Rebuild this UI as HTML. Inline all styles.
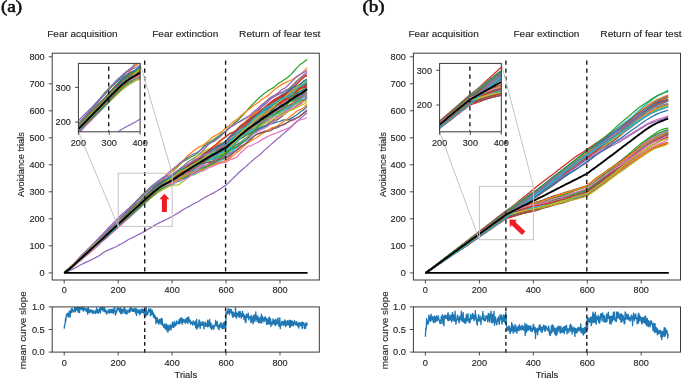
<!DOCTYPE html>
<html><head><meta charset="utf-8"><title>Avoidance trials</title>
<style>html,body{margin:0;padding:0;background:#fff;overflow:hidden}svg{display:block;font-family:"Liberation Sans",sans-serif;filter:blur(0.3px)}</style>
</head><body>
<svg width="685" height="381" viewBox="0 0 685 381" font-family="Liberation Sans, sans-serif" fill="#262626">
<rect width="685" height="381" fill="#fff"/>
<g transform="translate(0,0)">
<defs><clipPath id="cia"><rect x="78.4" y="63.4" width="61.7" height="68.4"/></clipPath><clipPath id="cma"><rect x="52.2" y="53.2" width="267.1" height="226.8"/></clipPath></defs>
<g fill="none" stroke-linejoin="round" stroke-linecap="butt" clip-path="url(#cma)">
<polyline stroke="#1f77b4" stroke-width="1.25" points="64.2,272.9 65.8,272 67.4,270.7 69.1,269.3 70.7,267.9 72.3,266.3 73.9,264.6 75.5,262.9 77.2,261.3 78.8,259.7 80.4,258.1 82,256.4 83.6,254.7 85.2,253.1 86.9,251.5 88.5,249.9 90.1,248.3 91.7,246.9 93.3,245.3 95,243.7 96.6,242 98.2,240.5 99.8,238.8 101.4,237.2 103.1,235.6 104.7,234.1 106.3,232.5 107.9,230.8 109.5,229.2 111.1,227.5 112.8,225.8 114.4,224.1 116,222.3 117.6,220.7 119.2,219.2 120.9,217.7 122.5,216 124.1,214.5 125.7,213 127.3,211.5 129,209.9 130.6,208.3 132.2,206.7 133.8,205 135.4,203.3 137,201.5 138.7,199.8 140.3,198.1 141.9,196.6 143.5,195 145.1,193.3 146.8,191.7 148.4,190.2 150,188.9 151.6,187.6 153.2,186.5 154.9,185.4 156.5,184.2 158.1,183 159.7,182 161.3,181.2 162.9,180.5 164.6,179.9 166.2,179.1 167.8,178.4 169.4,177.7 171,176.8 172.7,175.7 174.3,174.5 175.9,173.2 177.5,171.9 179.1,170.9 180.8,170.2 182.4,169.4 184,168.6 185.6,168 187.2,167.6 188.8,167.1 190.5,166.5 192.1,165.8 193.7,164.8 195.3,163.6 196.9,162.6 198.6,162 200.2,161.5 201.8,160.6 203.4,159.7 205,158.7 206.7,157.9 208.3,157.5 209.9,157.1 211.5,156.8 213.1,156.1 214.7,155.5 216.4,155.1 218,154.9 219.6,154.4 221.2,153.4 222.8,152.2 224.5,151.2 226.1,150.2 227.7,148.5 229.3,146.7 230.9,144.8 232.6,143 234.2,141.1 235.8,139.5 237.4,137.9 239,136.3 240.6,134.5 242.3,132.7 243.9,130.9 245.5,129 247.1,127.7 248.7,126.6 250.4,125.3 252,124.1 253.6,123.2 255.2,122.6 256.8,121.8 258.5,120.3 260.1,118.4 261.7,116.6 263.3,114.9 264.9,113.8 266.6,112.8 268.2,111.7 269.8,110.3 271.4,108.9 273,107.8 274.6,107 276.3,105.8 277.9,104.1 279.5,102.4 281.1,101.4 282.7,100.9 284.4,100.5 286,99.8 287.6,98.7 289.2,97.4 290.8,96.2 292.5,95.5 294.1,95 295.7,94.1 297.3,93.2 298.9,92.3 300.5,91.7 302.2,90.7 303.8,89.7 305.4,88.5 307,87"/>
<polyline stroke="#ff7f0e" stroke-width="1.25" points="64.2,272.9 65.8,272 67.4,270.9 69.1,269.5 70.7,268 72.3,266.6 73.9,265.2 75.5,263.7 77.2,262.1 78.8,260.6 80.4,259.2 82,257.8 83.6,256.3 85.2,254.9 86.9,253.5 88.5,252.1 90.1,250.7 91.7,249.3 93.3,248.1 95,246.8 96.6,245.5 98.2,244.2 99.8,242.9 101.4,241.7 103.1,240.3 104.7,238.6 106.3,236.9 107.9,235.4 109.5,234 111.1,232.4 112.8,230.8 114.4,229.4 116,228 117.6,226.6 119.2,225.1 120.9,223.6 122.5,222 124.1,220.5 125.7,218.8 127.3,217.2 129,215.6 130.6,214.1 132.2,212.5 133.8,211 135.4,209.6 137,208 138.7,206.4 140.3,204.8 141.9,203.4 143.5,201.9 145.1,200.5 146.8,199.1 148.4,197.7 150,196.4 151.6,195 153.2,193.6 154.9,192.2 156.5,190.8 158.1,189.4 159.7,188.2 161.3,187.1 162.9,185.8 164.6,184.8 166.2,183.8 167.8,182.8 169.4,182 171,181.2 172.7,180.2 174.3,179 175.9,177.9 177.5,176.8 179.1,175.5 180.8,174 182.4,172.6 184,171.4 185.6,170.3 187.2,169.3 188.8,168.3 190.5,166.8 192.1,165.4 193.7,164.2 195.3,163.2 196.9,162.3 198.6,161.8 200.2,161.5 201.8,161.1 203.4,160.7 205,160.1 206.7,159.5 208.3,158.6 209.9,157.6 211.5,156.8 213.1,155.7 214.7,154.2 216.4,152.7 218,151.6 219.6,150.7 221.2,149.6 222.8,148.5 224.5,147.7 226.1,147.4 227.7,146.7 229.3,146.4 230.9,145.7 232.6,144.8 234.2,143.9 235.8,142.8 237.4,141.4 239,139.8 240.6,138.3 242.3,137 243.9,135.7 245.5,134.1 247.1,132.5 248.7,131.4 250.4,130.8 252,130.2 253.6,129.7 255.2,128.9 256.8,128.1 258.5,127.3 260.1,126.3 261.7,125.1 263.3,123.5 264.9,122 266.6,120.7 268.2,119.6 269.8,118.6 271.4,117.4 273,116.3 274.6,115.4 276.3,114.4 277.9,113.2 279.5,111.6 281.1,110.2 282.7,109.2 284.4,108.6 286,107.7 287.6,106.5 289.2,105.1 290.8,103.9 292.5,102.7 294.1,101.5 295.7,100.6 297.3,100.1 298.9,99.3 300.5,98.5 302.2,97.8 303.8,96.9 305.4,95.9 307,95"/>
<polyline stroke="#2ca02c" stroke-width="1.25" points="64.2,272.9 65.8,271.4 67.4,270.1 69.1,268.7 70.7,267.3 72.3,265.8 73.9,264.4 75.5,263 77.2,261.5 78.8,260 80.4,258.5 82,257 83.6,255.6 85.2,254.2 86.9,252.8 88.5,251.3 90.1,249.8 91.7,248.2 93.3,246.7 95,245.2 96.6,243.7 98.2,242.2 99.8,240.8 101.4,239.5 103.1,238.1 104.7,236.7 106.3,235.1 107.9,233.3 109.5,231.6 111.1,230.2 112.8,228.9 114.4,227.6 116,226.1 117.6,224.6 119.2,223.2 120.9,221.7 122.5,220.2 124.1,218.7 125.7,217.1 127.3,215.5 129,213.9 130.6,212.2 132.2,210.6 133.8,209.1 135.4,207.7 137,206.1 138.7,204.6 140.3,203.1 141.9,201.6 143.5,200.1 145.1,198.6 146.8,197.1 148.4,195.5 150,194 151.6,192.5 153.2,191.1 154.9,189.9 156.5,188.8 158.1,187.5 159.7,186.1 161.3,184.7 162.9,183.5 164.6,182.5 166.2,181.8 167.8,181.1 169.4,180.4 171,179.8 172.7,179.1 174.3,178.4 175.9,177.5 177.5,176.4 179.1,175.6 180.8,174.8 182.4,173.9 184,172.8 185.6,172.1 187.2,171.3 188.8,170.8 190.5,170.1 192.1,169.3 193.7,168.4 195.3,167.4 196.9,166.3 198.6,165.1 200.2,163.9 201.8,162.6 203.4,161.4 205,160.2 206.7,159.1 208.3,157.9 209.9,157 211.5,156.3 213.1,155.6 214.7,154.7 216.4,153.9 218,152.8 219.6,151.9 221.2,151 222.8,150.4 224.5,149.9 226.1,149.4 227.7,148.3 229.3,146.8 230.9,145.5 232.6,144.3 234.2,143.1 235.8,141.7 237.4,140 239,138.5 240.6,136.8 242.3,135.4 243.9,133.9 245.5,132.2 247.1,130.8 248.7,129.6 250.4,129 252,128.2 253.6,127.3 255.2,126.3 256.8,125.6 258.5,124.9 260.1,124.3 261.7,123.6 263.3,122.8 264.9,122 266.6,120.9 268.2,119.9 269.8,118.8 271.4,117.5 273,116.1 274.6,114.6 276.3,113 277.9,111.4 279.5,110.1 281.1,108.7 282.7,107.5 284.4,106 286,104.5 287.6,102.9 289.2,101.7 290.8,100.9 292.5,100.4 294.1,99.9 295.7,99.6 297.3,99.1 298.9,98.4 300.5,97.5 302.2,96.4 303.8,95.5 305.4,94.5 307,93.2"/>
<polyline stroke="#d62728" stroke-width="1.25" points="64.2,272.9 65.8,271.9 67.4,270.7 69.1,269.5 70.7,268.3 72.3,267.2 73.9,265.9 75.5,264.5 77.2,263 78.8,261.5 80.4,260 82,258.5 83.6,256.9 85.2,255.3 86.9,253.5 88.5,251.9 90.1,250.3 91.7,248.8 93.3,247.1 95,245.5 96.6,244 98.2,242.4 99.8,241 101.4,239.6 103.1,238.2 104.7,236.8 106.3,235.3 107.9,233.8 109.5,232.3 111.1,230.8 112.8,229.2 114.4,227.8 116,226.5 117.6,225.1 119.2,223.6 120.9,222.1 122.5,220.6 124.1,219.1 125.7,217.7 127.3,216.2 129,214.7 130.6,213.2 132.2,211.7 133.8,210.3 135.4,208.9 137,207.5 138.7,206.2 140.3,204.9 141.9,203.6 143.5,202.1 145.1,200.8 146.8,199.3 148.4,197.9 150,196.5 151.6,195.3 153.2,194.1 154.9,192.9 156.5,191.6 158.1,190.3 159.7,189 161.3,188 162.9,186.9 164.6,185.9 166.2,185.2 167.8,184.4 169.4,183.5 171,182.4 172.7,181.5 174.3,180.9 175.9,180.3 177.5,179.9 179.1,179.4 180.8,178.7 182.4,178 184,177.1 185.6,176.3 187.2,175.3 188.8,174.2 190.5,172.8 192.1,171.2 193.7,169.7 195.3,168 196.9,166.6 198.6,165.2 200.2,163.9 201.8,162.9 203.4,161.7 205,160.6 206.7,159.4 208.3,158.6 209.9,157.7 211.5,156.8 213.1,156 214.7,155.1 216.4,154.2 218,153.1 219.6,151.7 221.2,150.5 222.8,149.5 224.5,148.6 226.1,147.5 227.7,145.7 229.3,144 230.9,142.7 232.6,141.7 234.2,140.4 235.8,138.9 237.4,137 239,135.4 240.6,134.2 242.3,133.1 243.9,131.9 245.5,130.5 247.1,129.1 248.7,127.6 250.4,126.1 252,124.8 253.6,123.6 255.2,122.4 256.8,120.7 258.5,119 260.1,117.4 261.7,115.9 263.3,114.3 264.9,113 266.6,111.6 268.2,110 269.8,108.5 271.4,107.4 273,106.7 274.6,106 276.3,105.2 277.9,104.4 279.5,103.8 281.1,103.1 282.7,102.2 284.4,100.7 286,99 287.6,97.4 289.2,96.1 290.8,95 292.5,93.8 294.1,92.7 295.7,91.5 297.3,90.5 298.9,89 300.5,87.8 302.2,86.6 303.8,85.4 305.4,84.3 307,83.2"/>
<polyline stroke="#9467bd" stroke-width="1.25" points="64.2,272.9 65.8,272.4 67.4,271.8 69.1,271 70.7,270.2 72.3,269.4 73.9,268.6 75.5,267.7 77.2,266.7 78.8,265.8 80.4,265 82,264.2 83.6,263.4 85.2,262.6 86.9,261.9 88.5,261.3 90.1,260.4 91.7,259.6 93.3,258.8 95,257.9 96.6,257.1 98.2,256.3 99.8,255.2 101.4,254 103.1,252.7 104.7,251.7 106.3,250.9 107.9,250.2 109.5,249.6 111.1,248.9 112.8,248.2 114.4,247.5 116,246.7 117.6,245.7 119.2,244.9 120.9,244.1 122.5,243.3 124.1,242.4 125.7,241.3 127.3,240.3 129,239.3 130.6,238.5 132.2,237.8 133.8,237.1 135.4,236.3 137,235.3 138.7,234.4 140.3,233.6 141.9,232.8 143.5,231.9 145.1,230.9 146.8,229.9 148.4,229 150,228.1 151.6,227.2 153.2,226.1 154.9,225.1 156.5,224.2 158.1,223.4 159.7,222.6 161.3,221.8 162.9,221.1 164.6,220.4 166.2,219.5 167.8,218.8 169.4,217.9 171,217 172.7,216.2 174.3,215.2 175.9,214.3 177.5,213.4 179.1,212.4 180.8,211.3 182.4,210.1 184,209.2 185.6,208.3 187.2,207.5 188.8,206.6 190.5,205.7 192.1,204.7 193.7,203.8 195.3,203 196.9,202.2 198.6,201.3 200.2,200.3 201.8,199.2 203.4,198.2 205,197.2 206.7,196.4 208.3,195.5 209.9,194.7 211.5,193.9 213.1,193.1 214.7,192.2 216.4,191.2 218,190.3 219.6,189.4 221.2,188.3 222.8,187.1 224.5,186.1 226.1,185.1 227.7,183.6 229.3,182 230.9,180.4 232.6,178.9 234.2,177.2 235.8,175.6 237.4,174 239,172.5 240.6,171 242.3,169.5 243.9,168.3 245.5,166.9 247.1,165.5 248.7,163.9 250.4,162.4 252,161 253.6,159.6 255.2,158.3 256.8,156.9 258.5,155.8 260.1,154.6 261.7,153 263.3,151.4 264.9,149.9 266.6,148.4 268.2,147 269.8,145.6 271.4,144.1 273,142.7 274.6,141.3 276.3,139.9 277.9,138.5 279.5,137.2 281.1,135.8 282.7,134.4 284.4,132.9 286,131.5 287.6,130.2 289.2,128.9 290.8,127.3 292.5,125.7 294.1,124.2 295.7,122.7 297.3,121.4 298.9,120.1 300.5,118.5 302.2,116.9 303.8,115.4 305.4,114.1 307,112.7"/>
<polyline stroke="#8c564b" stroke-width="1.25" points="64.2,272.9 65.8,271.5 67.4,270.1 69.1,268.5 70.7,266.9 72.3,265.3 73.9,263.9 75.5,262.5 77.2,261.1 78.8,259.7 80.4,258.4 82,257 83.6,255.6 85.2,254.2 86.9,252.8 88.5,251.4 90.1,249.9 91.7,248.4 93.3,246.9 95,245.5 96.6,244.1 98.2,242.6 99.8,241 101.4,239.3 103.1,237.8 104.7,236.3 106.3,234.8 107.9,233.1 109.5,231.5 111.1,230 112.8,228.5 114.4,227 116,225.6 117.6,224.2 119.2,222.8 120.9,221.2 122.5,219.6 124.1,218 125.7,216.6 127.3,215.2 129,213.7 130.6,212.2 132.2,210.9 133.8,209.6 135.4,208.3 137,207 138.7,205.7 140.3,204.3 141.9,203 143.5,201.6 145.1,200.2 146.8,198.7 148.4,197.3 150,195.9 151.6,194.6 153.2,193.3 154.9,192 156.5,190.6 158.1,189.2 159.7,188 161.3,187 162.9,186.2 164.6,185.4 166.2,184.6 167.8,184.1 169.4,183.5 171,182.5 172.7,181.3 174.3,180.2 175.9,179 177.5,177.9 179.1,176.8 180.8,176.1 182.4,175.3 184,174.3 185.6,173.3 187.2,172.4 188.8,171.4 190.5,170.2 192.1,169.2 193.7,168.3 195.3,167.6 196.9,167 198.6,166.8 200.2,166.4 201.8,165.5 203.4,164.1 205,162.4 206.7,160.6 208.3,159 209.9,157.6 211.5,156.7 213.1,155.6 214.7,154.8 216.4,154.1 218,153.4 219.6,152.3 221.2,151.2 222.8,150.4 224.5,150 226.1,149.5 227.7,148.5 229.3,147.5 230.9,146.4 232.6,144.9 234.2,143.4 235.8,141.9 237.4,140.5 239,139.2 240.6,138.4 242.3,137.9 243.9,136.9 245.5,135.5 247.1,134.3 248.7,133.3 250.4,132.2 252,131.1 253.6,130.1 255.2,129.3 256.8,128.7 258.5,127.8 260.1,126.5 261.7,125.1 263.3,123.9 264.9,122.6 266.6,121.2 268.2,120.1 269.8,118.9 271.4,117.5 273,116.4 274.6,115.3 276.3,113.8 277.9,112.4 279.5,111.2 281.1,110.2 282.7,109.3 284.4,108.1 286,106.9 287.6,105.9 289.2,105.2 290.8,104.6 292.5,103.8 294.1,103 295.7,102.3 297.3,101.5 298.9,101.1 300.5,100.8 302.2,100.7 303.8,100.3 305.4,99.4 307,97.9"/>
<polyline stroke="#e377c2" stroke-width="1.25" points="64.2,272.9 65.8,272.1 67.4,271 69.1,269.7 70.7,268.3 72.3,266.8 73.9,265.4 75.5,264 77.2,262.5 78.8,261 80.4,259.5 82,258.1 83.6,256.6 85.2,255.3 86.9,253.8 88.5,252.4 90.1,250.9 91.7,249.2 93.3,247.7 95,246.2 96.6,244.7 98.2,243.2 99.8,241.8 101.4,240.4 103.1,238.9 104.7,237.3 106.3,235.8 107.9,234.2 109.5,232.7 111.1,231.3 112.8,229.9 114.4,228.4 116,227.1 117.6,225.8 119.2,224.4 120.9,223 122.5,221.6 124.1,220.1 125.7,218.7 127.3,217.2 129,215.7 130.6,214.3 132.2,212.9 133.8,211.5 135.4,210 137,208.4 138.7,206.8 140.3,205.3 141.9,203.8 143.5,202.4 145.1,201 146.8,199.5 148.4,198.1 150,196.7 151.6,195.3 153.2,193.7 154.9,192.2 156.5,191 158.1,189.9 159.7,189.2 161.3,188.4 162.9,187.7 164.6,187 166.2,186.2 167.8,185.3 169.4,184.2 171,183.1 172.7,181.8 174.3,180.4 175.9,179.1 177.5,177.9 179.1,176.9 180.8,175.7 182.4,174.6 184,173.2 185.6,171.9 187.2,170.7 188.8,169.9 190.5,168.8 192.1,167.7 193.7,166.7 195.3,166.1 196.9,165.6 198.6,164.7 200.2,163.4 201.8,162 203.4,160.7 205,159 206.7,157.2 208.3,155.6 209.9,154.2 211.5,152.6 213.1,151.5 214.7,150.7 216.4,150 218,148.9 219.6,147.2 221.2,145.9 222.8,145.3 224.5,145 226.1,144.2 227.7,142.9 229.3,141.6 230.9,140.6 232.6,139.2 234.2,137.7 235.8,135.8 237.4,133.9 239,132.1 240.6,130.4 242.3,129.1 243.9,128.1 245.5,126.7 247.1,125.7 248.7,124.8 250.4,124.2 252,123.6 253.6,122.8 255.2,121.5 256.8,120 258.5,118.6 260.1,117.7 261.7,116.6 263.3,115.9 264.9,115.4 266.6,114.8 268.2,113.6 269.8,112.2 271.4,110.9 273,109.5 274.6,108.2 276.3,107 277.9,106.1 279.5,105.5 281.1,104.6 282.7,103.3 284.4,102.2 286,101.7 287.6,101.4 289.2,100.9 290.8,100.4 292.5,99.9 294.1,99.4 295.7,98.8 297.3,98.3 298.9,97.8 300.5,97.2 302.2,96 303.8,94.7 305.4,93.5 307,93"/>
<polyline stroke="#7f7f7f" stroke-width="1.25" points="64.2,272.9 65.8,272.1 67.4,270.7 69.1,269.3 70.7,267.7 72.3,266.2 73.9,264.6 75.5,263.1 77.2,261.5 78.8,260 80.4,258.5 82,257 83.6,255.4 85.2,253.7 86.9,252 88.5,250.4 90.1,248.7 91.7,247 93.3,245.5 95,244 96.6,242.4 98.2,241 99.8,239.5 101.4,238.1 103.1,236.6 104.7,235.1 106.3,233.6 107.9,232.1 109.5,230.5 111.1,228.9 112.8,227.3 114.4,225.7 116,224.1 117.6,222.5 119.2,221 120.9,219.4 122.5,217.9 124.1,216.4 125.7,215 127.3,213.4 129,211.8 130.6,210.4 132.2,209 133.8,207.5 135.4,206 137,204.4 138.7,202.8 140.3,201.4 141.9,200 143.5,198.7 145.1,197.2 146.8,195.6 148.4,194 150,192.6 151.6,191.1 153.2,189.7 154.9,188.4 156.5,187.1 158.1,185.9 159.7,184.6 161.3,183.3 162.9,182.1 164.6,181 166.2,180.1 167.8,179.1 169.4,177.9 171,176.4 172.7,174.9 174.3,173.4 175.9,172.1 177.5,170.9 179.1,169.5 180.8,168.1 182.4,166.8 184,165.5 185.6,164.1 187.2,162.7 188.8,161.3 190.5,160.3 192.1,159.3 193.7,158.4 195.3,157.4 196.9,156.2 198.6,154.6 200.2,153.2 201.8,151.7 203.4,150.1 205,148.4 206.7,146.6 208.3,144.9 209.9,143.3 211.5,142.1 213.1,141 214.7,139.7 216.4,138.6 218,137.3 219.6,136 221.2,134.7 222.8,133.4 224.5,132.2 226.1,130.9 227.7,129.1 229.3,127.5 230.9,126.6 232.6,125.9 234.2,125.1 235.8,124 237.4,122.7 239,121.8 240.6,120.7 242.3,119.8 243.9,118.9 245.5,118 247.1,117 248.7,116.2 250.4,115.4 252,114.5 253.6,113.5 255.2,112.3 256.8,110.8 258.5,109.3 260.1,107.9 261.7,106.5 263.3,104.8 264.9,103 266.6,101.2 268.2,99.7 269.8,98.9 271.4,98 273,97.1 274.6,96.3 276.3,95.6 277.9,94.8 279.5,94 281.1,93.3 282.7,92.2 284.4,91 286,90.1 287.6,89.2 289.2,88.5 290.8,88.2 292.5,88.1 294.1,87.8 295.7,87.3 297.3,86.6 298.9,85.6 300.5,84.2 302.2,82.6 303.8,81.1 305.4,79.9 307,79"/>
<polyline stroke="#bcbd22" stroke-width="1.25" points="64.2,272.9 65.8,271.6 67.4,270.3 69.1,269 70.7,267.7 72.3,266.2 73.9,264.9 75.5,263.4 77.2,261.9 78.8,260.4 80.4,259 82,257.7 83.6,256.3 85.2,254.9 86.9,253.4 88.5,251.9 90.1,250.4 91.7,248.8 93.3,247.3 95,245.7 96.6,244.3 98.2,243 99.8,241.7 101.4,240.4 103.1,239.2 104.7,237.9 106.3,236.5 107.9,235.1 109.5,233.6 111.1,232.2 112.8,230.8 114.4,229.4 116,228 117.6,226.5 119.2,225 120.9,223.5 122.5,222.1 124.1,220.7 125.7,219.4 127.3,218.1 129,216.9 130.6,215.6 132.2,214.4 133.8,213.1 135.4,211.8 137,210.4 138.7,209 140.3,207.6 141.9,206.1 143.5,204.6 145.1,203.2 146.8,201.7 148.4,200.3 150,198.9 151.6,197.6 153.2,196.3 154.9,194.9 156.5,193.6 158.1,192.5 159.7,191.4 161.3,190.2 162.9,189.2 164.6,188.4 166.2,187.6 167.8,186.8 169.4,186.2 171,185.8 172.7,185.5 174.3,185.2 175.9,185.2 177.5,185 179.1,184.4 180.8,183.2 182.4,182 184,180.9 185.6,179.3 187.2,177.7 188.8,176.2 190.5,175.4 192.1,174.9 193.7,174.7 195.3,174.1 196.9,173.3 198.6,172.5 200.2,171.6 201.8,170.6 203.4,169.3 205,167.8 206.7,166.3 208.3,165.2 209.9,164.3 211.5,163.4 213.1,162.5 214.7,161.9 216.4,161.2 218,160.2 219.6,159.2 221.2,158.3 222.8,157.7 224.5,157 226.1,156.1 227.7,154.4 229.3,152.6 230.9,151 232.6,149.6 234.2,147.9 235.8,146.2 237.4,144.7 239,143.2 240.6,141.7 242.3,140.4 243.9,139.2 245.5,138 247.1,136.8 248.7,135.4 250.4,133.7 252,131.9 253.6,130 255.2,128.4 256.8,127 258.5,125.6 260.1,123.8 261.7,122 263.3,120.3 264.9,119 266.6,117.6 268.2,116.4 269.8,115.2 271.4,114.2 273,113 274.6,111.8 276.3,110.7 277.9,109.6 279.5,108.7 281.1,107.8 282.7,106.8 284.4,105.8 286,104.5 287.6,102.9 289.2,101.1 290.8,99.8 292.5,98.4 294.1,97 295.7,95.3 297.3,93.6 298.9,92.2 300.5,90.7 302.2,89.2 303.8,87.9 305.4,86.9 307,86.1"/>
<polyline stroke="#17becf" stroke-width="1.25" points="64.2,272.9 65.8,272 67.4,270.9 69.1,269.7 70.7,268.3 72.3,266.9 73.9,265.6 75.5,264.1 77.2,262.5 78.8,260.9 80.4,259.3 82,257.8 83.6,256.4 85.2,255 86.9,253.7 88.5,252.4 90.1,250.8 91.7,249.2 93.3,247.7 95,246.2 96.6,244.6 98.2,243.1 99.8,241.7 101.4,240.5 103.1,239.1 104.7,237.6 106.3,236.2 107.9,234.8 109.5,233.5 111.1,232.1 112.8,230.6 114.4,229.1 116,227.5 117.6,226.1 119.2,224.7 120.9,223.2 122.5,221.7 124.1,220.3 125.7,218.9 127.3,217.5 129,215.9 130.6,214.3 132.2,212.7 133.8,211.1 135.4,209.5 137,207.9 138.7,206.5 140.3,205.2 141.9,203.8 143.5,202.4 145.1,201 146.8,199.5 148.4,198.1 150,196.8 151.6,195.5 153.2,194.3 154.9,193.1 156.5,191.9 158.1,190.6 159.7,189.6 161.3,188.7 162.9,187.7 164.6,186.6 166.2,185.7 167.8,185 169.4,184.3 171,183.5 172.7,182.5 174.3,181.3 175.9,179.9 177.5,178.2 179.1,176.6 180.8,175.3 182.4,174.4 184,173.7 185.6,173.3 187.2,173 188.8,172.5 190.5,171.4 192.1,170 193.7,168.8 195.3,167.5 196.9,166.3 198.6,165.1 200.2,163.9 201.8,163 203.4,162 205,161.1 206.7,160.2 208.3,159.6 209.9,159.6 211.5,159.6 213.1,159.3 214.7,158.6 216.4,158 218,157.6 219.6,156.9 221.2,155.7 222.8,154.7 224.5,154.1 226.1,153.7 227.7,152.7 229.3,151.6 230.9,150.5 232.6,149.6 234.2,148.6 235.8,147.6 237.4,146.7 239,145.9 240.6,144.7 242.3,143.2 243.9,141.7 245.5,140.4 247.1,139 248.7,137.5 250.4,136.2 252,135.1 253.6,134 255.2,132.5 256.8,130.8 258.5,129.1 260.1,127.3 261.7,125.7 263.3,124.2 264.9,122.9 266.6,121.4 268.2,120 269.8,118.6 271.4,117.7 273,116.7 274.6,115.1 276.3,113.3 277.9,111.4 279.5,109.6 281.1,108.4 282.7,107.3 284.4,105.9 286,104 287.6,102.2 289.2,100.8 290.8,99.7 292.5,98.5 294.1,96.9 295.7,95.1 297.3,93.5 298.9,92 300.5,90.1 302.2,88.3 303.8,86.6 305.4,85 307,84.2"/>
<polyline stroke="#1f77b4" stroke-width="1.25" points="64.2,272.9 65.8,271.9 67.4,270.5 69.1,268.9 70.7,267.3 72.3,265.7 73.9,264.1 75.5,262.5 77.2,261 78.8,259.4 80.4,257.9 82,256.3 83.6,254.7 85.2,253.1 86.9,251.5 88.5,249.9 90.1,248.3 91.7,246.8 93.3,245.3 95,244 96.6,242.6 98.2,241.2 99.8,239.6 101.4,238.1 103.1,236.7 104.7,235.3 106.3,233.8 107.9,232.3 109.5,230.7 111.1,229.1 112.8,227.5 114.4,226 116,224.5 117.6,222.9 119.2,221.4 120.9,219.7 122.5,218.1 124.1,216.5 125.7,215 127.3,213.5 129,212 130.6,210.3 132.2,208.7 133.8,207.2 135.4,205.7 137,204.1 138.7,202.6 140.3,201.1 141.9,199.6 143.5,198.1 145.1,196.6 146.8,195 148.4,193.5 150,192.1 151.6,190.8 153.2,189.6 154.9,188.1 156.5,186.8 158.1,185.6 159.7,184.6 161.3,183.6 162.9,182.5 164.6,181.6 166.2,180.9 167.8,180.2 169.4,179.3 171,178.4 172.7,177.5 174.3,176.6 175.9,175.5 177.5,174.3 179.1,173.4 180.8,173 182.4,172.4 184,171.4 185.6,170.3 187.2,169.3 188.8,168 190.5,166.8 192.1,165.4 193.7,164.4 195.3,163.5 196.9,162.8 198.6,161.6 200.2,160.7 201.8,159.6 203.4,158.9 205,158.2 206.7,157.3 208.3,156.1 209.9,154.5 211.5,153.1 213.1,151.9 214.7,150.6 216.4,149.2 218,148.1 219.6,147 221.2,145.9 222.8,144.8 224.5,143.8 226.1,143 227.7,141.6 229.3,140.5 230.9,139.5 232.6,138.6 234.2,137.3 235.8,135.4 237.4,133.6 239,131.9 240.6,130.4 242.3,128.8 243.9,127.6 245.5,126.5 247.1,125.5 248.7,124.3 250.4,122.9 252,121.5 253.6,119.9 255.2,118.2 256.8,116.7 258.5,115.3 260.1,114.1 261.7,112.8 263.3,111.6 264.9,110.3 266.6,109.4 268.2,108.3 269.8,107.1 271.4,106 273,105.1 274.6,104 276.3,102.9 277.9,101.7 279.5,100.4 281.1,99.2 282.7,98.3 284.4,97.8 286,97.6 287.6,97.3 289.2,96.5 290.8,95.8 292.5,95.6 294.1,95.3 295.7,94.2 297.3,92.9 298.9,92 300.5,91.3 302.2,90.4 303.8,89.2 305.4,87.7 307,86.2"/>
<polyline stroke="#ff7f0e" stroke-width="1.25" points="64.2,272.9 65.8,271.9 67.4,270.6 69.1,269.3 70.7,267.9 72.3,266.6 73.9,265.1 75.5,263.8 77.2,262.6 78.8,261.2 80.4,259.6 82,258 83.6,256.6 85.2,255.2 86.9,253.7 88.5,252.2 90.1,250.8 91.7,249.2 93.3,247.5 95,245.7 96.6,244.1 98.2,242.5 99.8,241 101.4,239.5 103.1,238.1 104.7,236.7 106.3,235.2 107.9,233.8 109.5,232.5 111.1,231 112.8,229.6 114.4,228.2 116,226.8 117.6,225.4 119.2,224 120.9,222.6 122.5,221.1 124.1,219.7 125.7,218.3 127.3,216.9 129,215.4 130.6,214 132.2,212.7 133.8,211.3 135.4,210 137,208.6 138.7,207.2 140.3,205.8 141.9,204.4 143.5,203 145.1,201.5 146.8,200.1 148.4,198.6 150,197.2 151.6,195.7 153.2,194.3 154.9,193 156.5,191.7 158.1,190.5 159.7,189.3 161.3,188.2 162.9,187.4 164.6,186.8 166.2,186.3 167.8,185.8 169.4,185.4 171,184.5 172.7,183.5 174.3,182.2 175.9,181 177.5,179.7 179.1,178.5 180.8,177.2 182.4,175.8 184,174.7 185.6,173.7 187.2,172.8 188.8,171.8 190.5,170.7 192.1,169.4 193.7,167.6 195.3,166 196.9,164.4 198.6,163.3 200.2,161.9 201.8,160.6 203.4,159.3 205,158.3 206.7,157.6 208.3,157 209.9,156.5 211.5,156 213.1,155.2 214.7,154 216.4,152.9 218,152 219.6,151 221.2,149.8 222.8,148.6 224.5,147.6 226.1,146.7 227.7,144.8 229.3,143 230.9,141.1 232.6,139.2 234.2,137.6 235.8,136.2 237.4,134.6 239,132.7 240.6,130.9 242.3,129 243.9,127.3 245.5,125.7 247.1,124.3 248.7,122.6 250.4,120.8 252,118.9 253.6,117.2 255.2,115.7 256.8,114 258.5,112.3 260.1,110.8 261.7,109.6 263.3,108.5 264.9,107.2 266.6,105.8 268.2,104.5 269.8,103.5 271.4,102.6 273,101.7 274.6,100.5 276.3,99.1 277.9,97.5 279.5,96.3 281.1,95.5 282.7,94.8 284.4,94 286,92.9 287.6,91.6 289.2,89.8 290.8,87.9 292.5,86.3 294.1,84.8 295.7,83.2 297.3,81.8 298.9,80.4 300.5,79.4 302.2,78 303.8,76.4 305.4,74.9 307,73.5"/>
<polyline stroke="#2ca02c" stroke-width="1.25" points="64.2,272.9 65.8,271.7 67.4,270.4 69.1,268.9 70.7,267.4 72.3,265.9 73.9,264.3 75.5,262.7 77.2,261 78.8,259.4 80.4,257.8 82,256.1 83.6,254.4 85.2,252.7 86.9,251 88.5,249.3 90.1,247.7 91.7,246.1 93.3,244.4 95,242.8 96.6,241.3 98.2,239.9 99.8,238.5 101.4,237.2 103.1,235.7 104.7,234.2 106.3,232.6 107.9,231 109.5,229.3 111.1,227.8 112.8,226.2 114.4,224.6 116,223 117.6,221.3 119.2,219.6 120.9,217.7 122.5,215.9 124.1,214.1 125.7,212.3 127.3,210.6 129,208.8 130.6,207 132.2,205.3 133.8,203.7 135.4,202 137,200.3 138.7,198.6 140.3,196.9 141.9,195.3 143.5,193.7 145.1,192.2 146.8,190.7 148.4,189.3 150,187.8 151.6,186.3 153.2,184.9 154.9,183.7 156.5,182.6 158.1,181.2 159.7,180 161.3,178.9 162.9,178.1 164.6,177.2 166.2,176.2 167.8,175.1 169.4,173.9 171,172.6 172.7,171.2 174.3,169.8 175.9,168.5 177.5,167 179.1,165.3 180.8,163.5 182.4,162.1 184,161 185.6,160.1 187.2,159.3 188.8,158.4 190.5,157.5 192.1,156.5 193.7,155.6 195.3,154.7 196.9,153.5 198.6,152 200.2,150.2 201.8,148.4 203.4,146.6 205,145.3 206.7,143.9 208.3,142.9 209.9,142 211.5,141 213.1,139.9 214.7,138.8 216.4,137.6 218,136.4 219.6,135.3 221.2,134.1 222.8,133.1 224.5,132 226.1,130.9 227.7,129.2 229.3,127.9 230.9,126.4 232.6,124.9 234.2,123.3 235.8,122.1 237.4,120.7 239,119.2 240.6,117.6 242.3,115.8 243.9,114 245.5,112.2 247.1,110.4 248.7,108.5 250.4,106.7 252,105 253.6,103.4 255.2,101.8 256.8,100.1 258.5,98.5 260.1,97 261.7,95.6 263.3,94.2 264.9,92.9 266.6,91.8 268.2,90.6 269.8,89.7 271.4,88.8 273,87.9 274.6,86.8 276.3,85.4 277.9,83.8 279.5,82.6 281.1,81.7 282.7,80.7 284.4,79.6 286,78.6 287.6,77.4 289.2,76 290.8,74.6 292.5,72.8 294.1,71 295.7,69.2 297.3,67.4 298.9,65.9 300.5,64.2 302.2,63.2 303.8,62 305.4,60.7 307,59.2"/>
<polyline stroke="#d62728" stroke-width="1.25" points="64.2,272.9 65.8,272.2 67.4,271.1 69.1,269.6 70.7,267.9 72.3,266.2 73.9,264.7 75.5,263.1 77.2,261.6 78.8,260.1 80.4,258.7 82,257.1 83.6,255.6 85.2,254 86.9,252.4 88.5,250.7 90.1,249.1 91.7,247.4 93.3,245.8 95,244.3 96.6,242.7 98.2,241.1 99.8,239.4 101.4,237.7 103.1,236.1 104.7,234.4 106.3,232.7 107.9,231.1 109.5,229.7 111.1,228.3 112.8,226.9 114.4,225.3 116,223.7 117.6,222.2 119.2,220.8 120.9,219.4 122.5,217.9 124.1,216.5 125.7,214.9 127.3,213.3 129,211.7 130.6,210.3 132.2,208.8 133.8,207.3 135.4,205.8 137,204.4 138.7,203 140.3,201.7 141.9,200.2 143.5,198.8 145.1,197.3 146.8,195.9 148.4,194.5 150,193 151.6,191.6 153.2,190.3 154.9,189 156.5,187.6 158.1,186.3 159.7,185.4 161.3,184.3 162.9,183.4 164.6,182.5 166.2,181.9 167.8,181 169.4,179.9 171,178.8 172.7,177.6 174.3,176.7 175.9,176.1 177.5,175.2 179.1,173.9 180.8,172.6 182.4,171.2 184,170 185.6,168.8 187.2,167.6 188.8,166.2 190.5,165 192.1,163.7 193.7,162.5 195.3,161.2 196.9,160.2 198.6,159.1 200.2,157.9 201.8,156.4 203.4,155.1 205,154.1 206.7,152.8 208.3,151.7 209.9,150.6 211.5,149.8 213.1,148.7 214.7,147.8 216.4,146.9 218,146 219.6,145.2 221.2,144.2 222.8,143.2 224.5,142.2 226.1,141.1 227.7,139.7 229.3,138.2 230.9,136.7 232.6,135.6 234.2,134.8 235.8,133.7 237.4,132.5 239,131.2 240.6,130 242.3,128.6 243.9,127.1 245.5,125.7 247.1,124.5 248.7,123.3 250.4,122.2 252,121.1 253.6,119.9 255.2,118.7 256.8,117.6 258.5,116.3 260.1,115 261.7,114.3 263.3,113.8 264.9,113.1 266.6,111.7 268.2,110.3 269.8,109.3 271.4,108.9 273,108.1 274.6,107.1 276.3,105.9 277.9,104.7 279.5,103.8 281.1,102.7 282.7,101.5 284.4,100.6 286,100 287.6,99.6 289.2,98.9 290.8,97.8 292.5,96.8 294.1,96 295.7,95.2 297.3,94.6 298.9,94 300.5,93.5 302.2,92.7 303.8,91.8 305.4,90.6 307,90"/>
<polyline stroke="#9467bd" stroke-width="1.25" points="64.2,272.9 65.8,271.1 67.4,269.5 69.1,268 70.7,266.4 72.3,264.9 73.9,263.6 75.5,262.2 77.2,260.6 78.8,259 80.4,257.4 82,255.9 83.6,254.4 85.2,252.9 86.9,251.5 88.5,250 90.1,248.6 91.7,247 93.3,245.5 95,244.2 96.6,242.8 98.2,241.5 99.8,240.2 101.4,238.8 103.1,237.5 104.7,236 106.3,234.5 107.9,232.9 109.5,231.4 111.1,230 112.8,228.6 114.4,227.3 116,225.8 117.6,224.3 119.2,222.8 120.9,221.4 122.5,220 124.1,218.5 125.7,217.1 127.3,215.8 129,214.5 130.6,213.1 132.2,211.6 133.8,210.3 135.4,208.9 137,207.5 138.7,206 140.3,204.4 141.9,202.9 143.5,201.2 145.1,199.5 146.8,198 148.4,196.5 150,195 151.6,193.5 153.2,192.1 154.9,190.7 156.5,189.6 158.1,188.4 159.7,187.3 161.3,186.3 162.9,185.4 164.6,184.5 166.2,183.7 167.8,182.9 169.4,182.1 171,181.2 172.7,180.2 174.3,179.1 175.9,178.3 177.5,177.2 179.1,176 180.8,174.6 182.4,173.5 184,172.6 185.6,171.6 187.2,170.3 188.8,168.9 190.5,167.5 192.1,166.1 193.7,165.1 195.3,164.2 196.9,162.9 198.6,161.3 200.2,160 201.8,158.7 203.4,157.4 205,156.8 206.7,156.1 208.3,155.4 209.9,154.4 211.5,153.5 213.1,152.7 214.7,151.9 216.4,151 218,150 219.6,148.9 221.2,147.7 222.8,146.1 224.5,144.8 226.1,143.6 227.7,142.1 229.3,140.5 230.9,138.9 232.6,137.5 234.2,135.9 235.8,134 237.4,132.1 239,130.3 240.6,128.4 242.3,126.7 243.9,124.8 245.5,122.9 247.1,121.1 248.7,119.5 250.4,117.8 252,116.4 253.6,115 255.2,113.5 256.8,111.9 258.5,110.4 260.1,108.6 261.7,107 263.3,105.8 264.9,104.9 266.6,103.3 268.2,101.7 269.8,100 271.4,98.5 273,97.3 274.6,96.4 276.3,95.5 277.9,94.3 279.5,93.2 281.1,92.4 282.7,92 284.4,91.5 286,90.9 287.6,89.9 289.2,88.8 290.8,87.7 292.5,86.4 294.1,84.9 295.7,83 297.3,81.1 298.9,79.3 300.5,77.6 302.2,76.2 303.8,74.8 305.4,73.9 307,72.2"/>
<polyline stroke="#8c564b" stroke-width="1.25" points="64.2,272.9 65.8,272.2 67.4,271.2 69.1,270 70.7,268.6 72.3,267.1 73.9,265.5 75.5,263.9 77.2,262.3 78.8,260.8 80.4,259.2 82,257.8 83.6,256.4 85.2,255 86.9,253.4 88.5,251.6 90.1,249.8 91.7,248.2 93.3,246.6 95,245 96.6,243.3 98.2,241.7 99.8,240 101.4,238.3 103.1,236.4 104.7,234.8 106.3,233.1 107.9,231.4 109.5,229.8 111.1,228.4 112.8,227 114.4,225.6 116,224.2 117.6,222.8 119.2,221.3 120.9,219.7 122.5,218.3 124.1,216.8 125.7,215.3 127.3,213.9 129,212.4 130.6,210.8 132.2,209.1 133.8,207.7 135.4,206.2 137,204.6 138.7,202.9 140.3,201.3 141.9,199.7 143.5,198.2 145.1,196.8 146.8,195.4 148.4,194.1 150,192.9 151.6,191.6 153.2,190.3 154.9,188.9 156.5,187.5 158.1,186.2 159.7,184.9 161.3,183.7 162.9,182.6 164.6,181.9 166.2,181.4 167.8,180.9 169.4,180.5 171,179.7 172.7,178.9 174.3,178 175.9,177.2 177.5,176.1 179.1,175 180.8,174 182.4,173.4 184,172.6 185.6,171.4 187.2,170.3 188.8,169.2 190.5,168.2 192.1,167.2 193.7,166.2 195.3,165.4 196.9,164.6 198.6,163.8 200.2,163.2 201.8,162.7 203.4,162.1 205,161.7 206.7,161.6 208.3,161.6 209.9,161.6 211.5,161.4 213.1,160.8 214.7,160.1 216.4,159.3 218,158.6 219.6,157.9 221.2,157.3 222.8,156.5 224.5,155.7 226.1,154 227.7,152.2 229.3,150.4 230.9,148.8 232.6,147.3 234.2,146 235.8,144.9 237.4,144.1 239,143.1 240.6,142.5 242.3,142 243.9,141.5 245.5,140.4 247.1,138.9 248.7,137.3 250.4,135.6 252,134.1 253.6,132.7 255.2,131.7 256.8,130.8 258.5,129.9 260.1,129.2 261.7,128.3 263.3,127.5 264.9,126.6 266.6,125.7 268.2,124.9 269.8,124.1 271.4,123.2 273,122.2 274.6,121.2 276.3,120.3 277.9,119.4 279.5,118.2 281.1,116.9 282.7,115.6 284.4,114.3 286,112.6 287.6,111.3 289.2,110.5 290.8,109.9 292.5,108.9 294.1,107.5 295.7,106.2 297.3,105.3 298.9,104.4 300.5,103.1 302.2,101.6 303.8,99.9 305.4,98.1 307,96.6"/>
<polyline stroke="#e377c2" stroke-width="1.25" points="64.2,272.9 65.8,271.8 67.4,270.5 69.1,269 70.7,267.5 72.3,266 73.9,264.5 75.5,263.1 77.2,261.7 78.8,260.3 80.4,258.9 82,257.5 83.6,256.1 85.2,254.7 86.9,253.2 88.5,251.8 90.1,250.4 91.7,249.1 93.3,247.7 95,246.3 96.6,244.8 98.2,243.3 99.8,241.8 101.4,240.3 103.1,238.8 104.7,237.4 106.3,236.2 107.9,234.9 109.5,233.5 111.1,232.1 112.8,230.7 114.4,229.3 116,227.9 117.6,226.4 119.2,224.8 120.9,223.4 122.5,221.8 124.1,220.1 125.7,218.4 127.3,216.9 129,215.5 130.6,214.1 132.2,212.7 133.8,211.3 135.4,209.8 137,208.3 138.7,206.8 140.3,205.3 141.9,203.9 143.5,202.4 145.1,200.8 146.8,199.2 148.4,197.7 150,196.4 151.6,195 153.2,193.5 154.9,192.1 156.5,190.8 158.1,189.7 159.7,188.7 161.3,187.8 162.9,186.9 164.6,186.1 166.2,185.4 167.8,184.8 169.4,184 171,183 172.7,181.6 174.3,180.1 175.9,178.9 177.5,177.9 179.1,176.5 180.8,174.9 182.4,173.2 184,171.5 185.6,169.8 187.2,168.5 188.8,167.4 190.5,166.5 192.1,165.4 193.7,164.6 195.3,164 196.9,163.5 198.6,162.8 200.2,162.1 201.8,160.9 203.4,159.3 205,157.9 206.7,156.9 208.3,156 209.9,155.3 211.5,155.1 213.1,154.7 214.7,153.6 216.4,152.5 218,151.7 219.6,151 221.2,149.9 222.8,149 224.5,148.1 226.1,147.6 227.7,146.7 229.3,145.5 230.9,144 232.6,142.3 234.2,140.5 235.8,139 237.4,137.6 239,135.8 240.6,134.1 242.3,132.6 243.9,131.5 245.5,130.7 247.1,129.9 248.7,129.5 250.4,129.3 252,129.1 253.6,128.8 255.2,128.2 256.8,127.2 258.5,126.1 260.1,125.1 261.7,123.9 263.3,122.6 264.9,121.3 266.6,120.2 268.2,119.5 269.8,118.7 271.4,118.1 273,117.5 274.6,117 276.3,116.3 277.9,115.8 279.5,115.4 281.1,115.2 282.7,114.9 284.4,114.3 286,113.2 287.6,111.7 289.2,110.4 290.8,109.3 292.5,108.3 294.1,107.5 295.7,106.9 297.3,106.2 298.9,105.1 300.5,104.1 302.2,102.9 303.8,101.5 305.4,100.1 307,98.3"/>
<polyline stroke="#7f7f7f" stroke-width="1.25" points="64.2,272.9 65.8,271.9 67.4,270.7 69.1,269.4 70.7,268 72.3,266.3 73.9,264.7 75.5,263 77.2,261.4 78.8,259.9 80.4,258.4 82,257.1 83.6,255.7 85.2,254.3 86.9,252.8 88.5,251.3 90.1,249.9 91.7,248.6 93.3,247.3 95,246.1 96.6,244.8 98.2,243.3 99.8,241.8 101.4,240.2 103.1,238.6 104.7,237 106.3,235.3 107.9,233.6 109.5,232 111.1,230.5 112.8,229 114.4,227.5 116,225.9 117.6,224.4 119.2,222.9 120.9,221.6 122.5,220.2 124.1,218.9 125.7,217.4 127.3,215.8 129,214.3 130.6,212.9 132.2,211.5 133.8,210 135.4,208.5 137,207 138.7,205.5 140.3,204.1 141.9,202.6 143.5,201.1 145.1,199.7 146.8,198.3 148.4,196.9 150,195.5 151.6,194.2 153.2,193 154.9,191.8 156.5,190.5 158.1,189.1 159.7,187.7 161.3,186.4 162.9,185.4 164.6,184.6 166.2,183.9 167.8,183.1 169.4,182.4 171,181.6 172.7,180.9 174.3,180.2 175.9,179.7 177.5,179.1 179.1,178.6 180.8,177.7 182.4,176.7 184,175.4 185.6,174.2 187.2,173.1 188.8,172.1 190.5,170.7 192.1,169.3 193.7,168 195.3,166.8 196.9,165.4 198.6,163.8 200.2,162.3 201.8,161 203.4,159.8 205,158.6 206.7,157.4 208.3,156.4 209.9,155.5 211.5,154.8 213.1,154.1 214.7,153 216.4,152 218,151.4 219.6,151 221.2,150.5 222.8,149.7 224.5,148.5 226.1,147.5 227.7,146.5 229.3,145.8 230.9,145.1 232.6,144.3 234.2,143.6 235.8,142.6 237.4,141.4 239,139.8 240.6,137.9 242.3,136.1 243.9,134.4 245.5,132.7 247.1,131.6 248.7,130.6 250.4,129.7 252,128.7 253.6,127.4 255.2,125.9 256.8,124.5 258.5,123.3 260.1,122.4 261.7,121.5 263.3,120.5 264.9,119.2 266.6,118 268.2,116.8 269.8,115.6 271.4,114.4 273,113.1 274.6,112 276.3,110.8 277.9,109.5 279.5,108.1 281.1,106.8 282.7,105.7 284.4,104.9 286,104.1 287.6,103.1 289.2,102.1 290.8,101.3 292.5,100.8 294.1,100.2 295.7,99.4 297.3,98.5 298.9,97.6 300.5,96.8 302.2,96.3 303.8,95.2 305.4,93.7 307,92.2"/>
<polyline stroke="#bcbd22" stroke-width="1.25" points="64.2,272.9 65.8,272.1 67.4,270.9 69.1,269.5 70.7,268 72.3,266.5 73.9,265.1 75.5,263.8 77.2,262.4 78.8,261 80.4,259.5 82,257.9 83.6,256.4 85.2,254.8 86.9,253.3 88.5,251.8 90.1,250.3 91.7,248.8 93.3,247.4 95,245.9 96.6,244.4 98.2,243 99.8,241.6 101.4,240.2 103.1,238.7 104.7,237.1 106.3,235.4 107.9,233.7 109.5,231.9 111.1,230.2 112.8,228.7 114.4,227.2 116,225.7 117.6,224.2 119.2,222.8 120.9,221.4 122.5,220 124.1,218.7 125.7,217.3 127.3,215.9 129,214.4 130.6,212.8 132.2,211.3 133.8,209.8 135.4,208.3 137,206.8 138.7,205.2 140.3,203.6 141.9,202.1 143.5,200.6 145.1,199.1 146.8,197.6 148.4,196.2 150,194.7 151.6,193.2 153.2,191.8 154.9,190.3 156.5,188.8 158.1,187.5 159.7,186.4 161.3,185.1 162.9,183.7 164.6,182.5 166.2,181.3 167.8,180 169.4,178.7 171,177.4 172.7,176.2 174.3,174.9 175.9,173.6 177.5,172.3 179.1,170.8 180.8,169.1 182.4,167.6 184,166.7 185.6,166.1 187.2,165.5 188.8,164.7 190.5,163.3 192.1,161.6 193.7,160 195.3,158.7 196.9,157 198.6,155.6 200.2,154.2 201.8,153 203.4,151.6 205,150.5 206.7,149.8 208.3,149.2 209.9,148.7 211.5,147.9 213.1,146.8 214.7,145.5 216.4,144.3 218,143.4 219.6,142.3 221.2,140.8 222.8,139.3 224.5,137.8 226.1,136.7 227.7,135.4 229.3,134.2 230.9,133.2 232.6,132.2 234.2,131.2 235.8,130.3 237.4,130 239,129.6 240.6,129 242.3,127.9 243.9,126.6 245.5,125.6 247.1,124.8 248.7,123.7 250.4,122.6 252,121.3 253.6,119.9 255.2,118.7 256.8,117.6 258.5,116.4 260.1,114.9 261.7,113.8 263.3,112.7 264.9,111.7 266.6,111 268.2,110.2 269.8,109 271.4,107.5 273,106 274.6,105 276.3,104.1 277.9,103.2 279.5,102.3 281.1,101.4 282.7,100.6 284.4,99.4 286,98 287.6,96.9 289.2,95.9 290.8,94.9 292.5,93.8 294.1,92.5 295.7,91.7 297.3,91.4 298.9,91 300.5,90.2 302.2,89.1 303.8,88.1 305.4,87.1 307,86.3"/>
<polyline stroke="#17becf" stroke-width="1.25" points="64.2,272.9 65.8,272 67.4,270.7 69.1,269.3 70.7,268 72.3,266.6 73.9,265.3 75.5,264.1 77.2,263 78.8,261.7 80.4,260.4 82,259 83.6,257.8 85.2,256.5 86.9,255 88.5,253.5 90.1,252.1 91.7,250.6 93.3,249 95,247.5 96.6,245.9 98.2,244.3 99.8,242.7 101.4,241.1 103.1,239.6 104.7,238.2 106.3,236.8 107.9,235.3 109.5,233.8 111.1,232.2 112.8,230.6 114.4,229 116,227.5 117.6,226 119.2,224.6 120.9,223.3 122.5,222 124.1,220.7 125.7,219.3 127.3,217.9 129,216.5 130.6,215.1 132.2,213.6 133.8,212.3 135.4,211 137,209.6 138.7,208.2 140.3,206.7 141.9,205.2 143.5,203.6 145.1,202.1 146.8,200.6 148.4,199 150,197.4 151.6,195.8 153.2,194.3 154.9,192.8 156.5,191.5 158.1,190.4 159.7,189.5 161.3,188.7 162.9,188 164.6,187.3 166.2,186.7 167.8,186 169.4,185.2 171,184.3 172.7,183.3 174.3,182.7 175.9,182.2 177.5,181.7 179.1,181.3 180.8,180.8 182.4,179.8 184,178.7 185.6,177.9 187.2,176.9 188.8,175.8 190.5,175 192.1,174.8 193.7,174.6 195.3,174 196.9,172.9 198.6,172 200.2,170.9 201.8,170.3 203.4,169.5 205,168.6 206.7,167.4 208.3,166 209.9,165.1 211.5,164.2 213.1,163.7 214.7,163 216.4,162.4 218,161.7 219.6,161.2 221.2,160.4 222.8,159.5 224.5,158.7 226.1,157.8 227.7,156.4 229.3,154.9 230.9,153.2 232.6,151.5 234.2,149.7 235.8,148 237.4,146.2 239,144.6 240.6,142.8 242.3,141.2 243.9,139.8 245.5,138.7 247.1,137.5 248.7,136.3 250.4,135 252,133.7 253.6,132.5 255.2,131.6 256.8,130.8 258.5,130.1 260.1,129.3 261.7,128.5 263.3,127.6 264.9,126.7 266.6,126.2 268.2,125.3 269.8,124 271.4,122.8 273,121.3 274.6,119.7 276.3,118 277.9,116.2 279.5,114.8 281.1,113.6 282.7,112.3 284.4,110.7 286,109.3 287.6,108.2 289.2,106.7 290.8,105.2 292.5,104 294.1,102.9 295.7,101.6 297.3,100.3 298.9,99 300.5,98 302.2,97.1 303.8,96.1 305.4,95.3 307,94.1"/>
<polyline stroke="#1f77b4" stroke-width="1.25" points="64.2,272.9 65.8,272 67.4,270.9 69.1,269.7 70.7,268.4 72.3,267.2 73.9,265.9 75.5,264.5 77.2,263 78.8,261.6 80.4,260.2 82,258.9 83.6,257.4 85.2,256 86.9,254.4 88.5,252.9 90.1,251.3 91.7,249.7 93.3,248.2 95,246.7 96.6,245.1 98.2,243.5 99.8,241.9 101.4,240.3 103.1,238.8 104.7,237.3 106.3,235.9 107.9,234.3 109.5,232.6 111.1,231 112.8,229.5 114.4,228.1 116,226.7 117.6,225.2 119.2,223.5 120.9,221.9 122.5,220.4 124.1,218.9 125.7,217.5 127.3,216.1 129,214.6 130.6,213.1 132.2,211.6 133.8,210 135.4,208.5 137,207 138.7,205.4 140.3,203.8 141.9,202.2 143.5,200.6 145.1,198.9 146.8,197.3 148.4,195.8 150,194.3 151.6,192.8 153.2,191.3 154.9,189.8 156.5,188.4 158.1,187.3 159.7,186.5 161.3,185.8 162.9,185.1 164.6,184.3 166.2,183.4 167.8,182.5 169.4,181.6 171,180.9 172.7,180.2 174.3,179.2 175.9,177.9 177.5,176.8 179.1,176.3 180.8,175.7 182.4,174.6 184,173.1 185.6,171.2 187.2,169.7 188.8,168.8 190.5,167.8 192.1,166.7 193.7,165.4 195.3,164.3 196.9,163.4 198.6,163.1 200.2,162.4 201.8,161.5 203.4,160.7 205,160 206.7,159.1 208.3,158.1 209.9,157 211.5,156.2 213.1,155.7 214.7,155.2 216.4,154.6 218,153.9 219.6,153.2 221.2,152.4 222.8,151.5 224.5,151.1 226.1,150.3 227.7,148.7 229.3,147.3 230.9,145.8 232.6,144.6 234.2,143 235.8,141.5 237.4,140.1 239,138.6 240.6,136.7 242.3,135 243.9,133.8 245.5,132.4 247.1,130.6 248.7,128.8 250.4,127.5 252,126.5 253.6,125.4 255.2,124.1 256.8,123 258.5,121.8 260.1,120.6 261.7,119.3 263.3,118 264.9,116.6 266.6,115.2 268.2,113.7 269.8,112.4 271.4,111 273,109.4 274.6,107.6 276.3,105.9 277.9,104.1 279.5,102.5 281.1,100.8 282.7,99.3 284.4,97.9 286,96.7 287.6,95.6 289.2,94.2 290.8,92.4 292.5,90.6 294.1,89.1 295.7,87.6 297.3,86.2 298.9,84.9 300.5,83.7 302.2,82.4 303.8,81.1 305.4,80.1 307,79.3"/>
<polyline stroke="#ff7f0e" stroke-width="1.25" points="64.2,272.9 65.8,272 67.4,270.6 69.1,269.1 70.7,267.6 72.3,266.2 73.9,264.8 75.5,263.3 77.2,261.8 78.8,260.2 80.4,258.6 82,256.9 83.6,255.2 85.2,253.4 86.9,251.7 88.5,250.1 90.1,248.5 91.7,246.9 93.3,245.5 95,244.1 96.6,242.7 98.2,241.2 99.8,239.6 101.4,238.1 103.1,236.5 104.7,234.9 106.3,233.3 107.9,231.6 109.5,230 111.1,228.4 112.8,226.8 114.4,225.1 116,223.6 117.6,222.1 119.2,220.8 120.9,219.4 122.5,218 124.1,216.5 125.7,215 127.3,213.4 129,211.8 130.6,210.3 132.2,208.7 133.8,207.2 135.4,205.6 137,204.2 138.7,202.7 140.3,201.2 141.9,199.4 143.5,197.7 145.1,195.9 146.8,194.3 148.4,192.5 150,190.9 151.6,189.4 153.2,188.1 154.9,186.7 156.5,185.4 158.1,184.1 159.7,182.7 161.3,181.2 162.9,179.7 164.6,178 166.2,176.3 167.8,174.8 169.4,173.6 171,172.2 172.7,170.8 174.3,169.4 175.9,167.8 177.5,166.1 179.1,164.5 180.8,163.1 182.4,161.3 184,159.6 185.6,157.9 187.2,156.3 188.8,154.7 190.5,153.4 192.1,152.1 193.7,150.7 195.3,149.6 196.9,148.5 198.6,147.3 200.2,146.4 201.8,145.7 203.4,144.9 205,143.8 206.7,142.4 208.3,141.1 209.9,139.7 211.5,138 213.1,136.7 214.7,135.9 216.4,135.1 218,134 219.6,133 221.2,132.1 222.8,130.7 224.5,129.2 226.1,127.9 227.7,126.8 229.3,125.5 230.9,123.9 232.6,122.4 234.2,121.2 235.8,120.1 237.4,118.9 239,117.4 240.6,116 242.3,114.8 243.9,113.5 245.5,112 247.1,110.5 248.7,109.5 250.4,108.3 252,106.9 253.6,105.5 255.2,104.5 256.8,103.4 258.5,102.2 260.1,100.9 261.7,99.5 263.3,98.6 264.9,97.5 266.6,96.4 268.2,95.2 269.8,94 271.4,92.5 273,90.9 274.6,89.5 276.3,88.2 277.9,87.2 279.5,85.9 281.1,84.9 282.7,83.9 284.4,83.1 286,82.4 287.6,81.7 289.2,81 290.8,80.3 292.5,79.6 294.1,78.6 295.7,77.6 297.3,76.7 298.9,75.8 300.5,74.6 302.2,73 303.8,71.2 305.4,69.6 307,67.8"/>
<polyline stroke="#2ca02c" stroke-width="1.25" points="64.2,272.9 65.8,271.9 67.4,270.6 69.1,269.2 70.7,267.8 72.3,266.3 73.9,264.9 75.5,263.4 77.2,261.8 78.8,260.4 80.4,258.9 82,257.4 83.6,255.8 85.2,254.1 86.9,252.4 88.5,250.8 90.1,249.2 91.7,247.7 93.3,246.4 95,245 96.6,243.5 98.2,241.8 99.8,240.2 101.4,238.6 103.1,237 104.7,235.5 106.3,234 107.9,232.5 109.5,230.9 111.1,229.1 112.8,227.3 114.4,225.6 116,224 117.6,222.3 119.2,220.8 120.9,219.4 122.5,218.1 124.1,216.7 125.7,215.2 127.3,213.8 129,212.4 130.6,210.9 132.2,209.5 133.8,208.1 135.4,206.7 137,205.3 138.7,203.8 140.3,202.3 141.9,200.6 143.5,198.9 145.1,197.1 146.8,195.4 148.4,193.8 150,192.2 151.6,190.8 153.2,189.4 154.9,188.1 156.5,186.8 158.1,185.7 159.7,184.5 161.3,183.2 162.9,182.2 164.6,181.3 166.2,180.6 167.8,179.8 169.4,179.1 171,178.2 172.7,177.1 174.3,176 175.9,175.2 177.5,174.2 179.1,173.3 180.8,172 182.4,170.6 184,169.3 185.6,168.2 187.2,167.6 188.8,167.2 190.5,166.8 192.1,166 193.7,164.9 195.3,164 196.9,163.5 198.6,163.5 200.2,163.4 201.8,163.1 203.4,162.7 205,162.1 206.7,161 208.3,160.3 209.9,159.6 211.5,159.1 213.1,158.6 214.7,157.8 216.4,156.9 218,156.1 219.6,155.4 221.2,154.8 222.8,153.9 224.5,153 226.1,152.3 227.7,151.1 229.3,149.6 230.9,147.8 232.6,146 234.2,144.1 235.8,142.3 237.4,140.5 239,138.7 240.6,136.8 242.3,135.1 243.9,133.5 245.5,131.9 247.1,130.2 248.7,128.4 250.4,126.7 252,125 253.6,123.4 255.2,122.1 256.8,121 258.5,119.9 260.1,118.5 261.7,117.4 263.3,116.6 264.9,116.1 266.6,115.5 268.2,114.8 269.8,113.7 271.4,112.4 273,111.1 274.6,109.8 276.3,109 277.9,108.2 279.5,107.2 281.1,105.9 282.7,104.9 284.4,103.7 286,102.6 287.6,101.4 289.2,100.1 290.8,98.3 292.5,96.4 294.1,94.6 295.7,92.9 297.3,91.1 298.9,89.3 300.5,87.8 302.2,86.5 303.8,85.5 305.4,84.3 307,83.4"/>
<polyline stroke="#d62728" stroke-width="1.25" points="64.2,272.9 65.8,272.1 67.4,271 69.1,269.6 70.7,268.1 72.3,266.6 73.9,265.1 75.5,263.5 77.2,262 78.8,260.5 80.4,259 82,257.3 83.6,255.7 85.2,254.1 86.9,252.7 88.5,251.3 90.1,249.9 91.7,248.5 93.3,247.1 95,245.6 96.6,244 98.2,242.5 99.8,240.9 101.4,239.4 103.1,238 104.7,236.6 106.3,235.3 107.9,233.9 109.5,232.5 111.1,231 112.8,229.4 114.4,227.9 116,226.4 117.6,224.9 119.2,223.5 120.9,222 122.5,220.6 124.1,219.3 125.7,217.9 127.3,216.4 129,215 130.6,213.5 132.2,212 133.8,210.5 135.4,209 137,207.6 138.7,206.1 140.3,204.6 141.9,203.1 143.5,201.6 145.1,200.2 146.8,198.7 148.4,197.1 150,195.5 151.6,193.9 153.2,192.3 154.9,190.9 156.5,189.5 158.1,188.4 159.7,187.3 161.3,186.1 162.9,184.9 164.6,183.8 166.2,182.7 167.8,181.8 169.4,180.9 171,180.1 172.7,178.9 174.3,177.3 175.9,175.9 177.5,174.6 179.1,173.2 180.8,171.4 182.4,169.6 184,168.2 185.6,167.2 187.2,166.3 188.8,165.2 190.5,164.1 192.1,163 193.7,162.2 195.3,161.4 196.9,160.5 198.6,159.4 200.2,158.3 201.8,157.5 203.4,156.9 205,156.4 206.7,155.5 208.3,154.6 209.9,153.9 211.5,153.2 213.1,152.5 214.7,151.8 216.4,151.1 218,150.1 219.6,148.6 221.2,147.3 222.8,146.4 224.5,145.2 226.1,144.3 227.7,142.9 229.3,141.7 230.9,140.3 232.6,139.1 234.2,137.7 235.8,136.5 237.4,135.2 239,133.7 240.6,132.2 242.3,130.9 243.9,129.8 245.5,128.6 247.1,127.6 248.7,126.4 250.4,125 252,124 253.6,123.6 255.2,123.1 256.8,122.5 258.5,121.1 260.1,119.3 261.7,117.5 263.3,116 264.9,114.5 266.6,112.8 268.2,111.7 269.8,110.8 271.4,109.7 273,108.3 274.6,107.1 276.3,105.6 277.9,103.9 279.5,102.5 281.1,101.7 282.7,100.8 284.4,99.6 286,98.1 287.6,96.7 289.2,95.6 290.8,94.7 292.5,93.8 294.1,93 295.7,91.9 297.3,90.6 298.9,89.6 300.5,88.8 302.2,88 303.8,87.5 305.4,87.4 307,87.1"/>
<polyline stroke="#9467bd" stroke-width="1.25" points="64.2,272.9 65.8,272.1 67.4,271.1 69.1,269.8 70.7,268.4 72.3,266.9 73.9,265.5 75.5,264.1 77.2,262.6 78.8,261.2 80.4,259.8 82,258.3 83.6,256.9 85.2,255.5 86.9,254.1 88.5,252.6 90.1,251.2 91.7,249.8 93.3,248.5 95,247.1 96.6,245.6 98.2,244.2 99.8,242.8 101.4,241.3 103.1,239.9 104.7,238.4 106.3,237 107.9,235.6 109.5,234.3 111.1,233 112.8,231.7 114.4,230.3 116,228.8 117.6,227.3 119.2,225.9 120.9,224.5 122.5,223.1 124.1,221.6 125.7,220.2 127.3,219 129,217.7 130.6,216.3 132.2,214.8 133.8,213.3 135.4,211.9 137,210.5 138.7,208.9 140.3,207.5 141.9,205.9 143.5,204.5 145.1,203 146.8,201.4 148.4,199.9 150,198.4 151.6,197 153.2,195.7 154.9,194.4 156.5,193.1 158.1,191.9 159.7,191 161.3,190.2 162.9,189.3 164.6,188.2 166.2,187.2 167.8,186.1 169.4,185.5 171,185.1 172.7,184.4 174.3,183.2 175.9,181.8 177.5,180.5 179.1,179.4 180.8,178.4 182.4,177.9 184,177.4 185.6,176.9 187.2,176.1 188.8,175 190.5,173.8 192.1,172.6 193.7,171.5 195.3,170.5 196.9,169.4 198.6,168.5 200.2,167.8 201.8,167.2 203.4,166.3 205,165.7 206.7,164.8 208.3,164 209.9,163.1 211.5,162.2 213.1,160.9 214.7,159.7 216.4,158.9 218,158.1 219.6,157.7 221.2,157.2 222.8,156.8 224.5,156 226.1,155.1 227.7,154.2 229.3,153.5 230.9,152.7 232.6,152.1 234.2,151.5 235.8,150.7 237.4,149.7 239,148.4 240.6,147 242.3,146.1 243.9,144.9 245.5,143.5 247.1,141.7 248.7,139.9 250.4,138.5 252,137.3 253.6,136.3 255.2,135.2 256.8,134.2 258.5,133.4 260.1,132.8 261.7,132.2 263.3,131.5 264.9,130.9 266.6,130.5 268.2,129.9 269.8,129.3 271.4,128.8 273,128.6 274.6,128.4 276.3,128.1 277.9,127.4 279.5,126.6 281.1,125.5 282.7,124.5 284.4,123.7 286,123 287.6,122.2 289.2,121 290.8,119.9 292.5,119.2 294.1,118.6 295.7,118.1 297.3,117.6 298.9,116.9 300.5,115.8 302.2,114.3 303.8,112.7 305.4,111.1 307,109.7"/>
<polyline stroke="#8c564b" stroke-width="1.25" points="64.2,272.9 65.8,271.6 67.4,270.3 69.1,269.1 70.7,267.7 72.3,266.3 73.9,264.8 75.5,263.3 77.2,261.8 78.8,260.2 80.4,258.7 82,257 83.6,255.5 85.2,254.1 86.9,252.7 88.5,251.4 90.1,250 91.7,248.5 93.3,247.1 95,245.7 96.6,244.1 98.2,242.5 99.8,240.8 101.4,239.3 103.1,237.8 104.7,236.2 106.3,234.6 107.9,233 109.5,231.3 111.1,229.5 112.8,227.9 114.4,226.3 116,224.7 117.6,223.1 119.2,221.6 120.9,220.1 122.5,218.6 124.1,217.1 125.7,215.6 127.3,214 129,212.5 130.6,211 132.2,209.5 133.8,208 135.4,206.5 137,204.9 138.7,203.4 140.3,201.8 141.9,200.2 143.5,198.6 145.1,196.9 146.8,195.4 148.4,193.9 150,192.5 151.6,191 153.2,189.7 154.9,188.6 156.5,187.4 158.1,186.4 159.7,185.2 161.3,184.6 162.9,184 164.6,183.4 166.2,182.7 167.8,182 169.4,181.5 171,181.1 172.7,180.5 174.3,179.8 175.9,179 177.5,178.1 179.1,177 180.8,176.1 182.4,175.2 184,174.4 185.6,173.6 187.2,172.7 188.8,171.4 190.5,170.1 192.1,168.8 193.7,167.8 195.3,166.8 196.9,165.7 198.6,164.5 200.2,163.6 201.8,162.8 203.4,161.8 205,161 206.7,160.1 208.3,159 209.9,157.9 211.5,157.3 213.1,157 214.7,156.2 216.4,154.8 218,153.2 219.6,151.9 221.2,151 222.8,150.2 224.5,149.3 226.1,148.5 227.7,147.2 229.3,146.3 230.9,145.3 232.6,144 234.2,142.8 235.8,141.7 237.4,140.5 239,139.5 240.6,138.3 242.3,137.2 243.9,136.2 245.5,135.5 247.1,134.8 248.7,134.2 250.4,133.2 252,132.2 253.6,131.5 255.2,130.8 256.8,130.2 258.5,129.2 260.1,128.2 261.7,127.3 263.3,126.5 264.9,125.7 266.6,124.8 268.2,123.8 269.8,122.5 271.4,121.5 273,120.6 274.6,119.6 276.3,118.4 277.9,117.3 279.5,116.1 281.1,114.8 282.7,113.6 284.4,112.3 286,110.9 287.6,109.7 289.2,108.4 290.8,107.6 292.5,106.3 294.1,105 295.7,103.9 297.3,103.4 298.9,102.8 300.5,102 302.2,101.2 303.8,99.9 305.4,98.5 307,96.7"/>
<polyline stroke="#e377c2" stroke-width="1.25" points="64.2,272.9 65.8,272.1 67.4,271.1 69.1,269.9 70.7,268.6 72.3,267.2 73.9,265.8 75.5,264.5 77.2,263.2 78.8,261.9 80.4,260.5 82,259 83.6,257.7 85.2,256.6 86.9,255.4 88.5,254 90.1,252.7 91.7,251.3 93.3,249.9 95,248.5 96.6,247.1 98.2,245.6 99.8,244 101.4,242.4 103.1,240.9 104.7,239.6 106.3,238.2 107.9,236.7 109.5,235.2 111.1,233.7 112.8,232.2 114.4,230.9 116,229.4 117.6,228 119.2,226.7 120.9,225.3 122.5,223.8 124.1,222.3 125.7,220.8 127.3,219.4 129,217.9 130.6,216.2 132.2,214.4 133.8,212.6 135.4,210.8 137,209.2 138.7,207.6 140.3,206 141.9,204.3 143.5,202.7 145.1,201.2 146.8,199.8 148.4,198.3 150,196.9 151.6,195.4 153.2,194 154.9,192.6 156.5,191.4 158.1,190.2 159.7,189.2 161.3,188.3 162.9,187.6 164.6,187 166.2,186.3 167.8,185.4 169.4,184.5 171,183.6 172.7,182.7 174.3,181.9 175.9,181.1 177.5,180.1 179.1,178.7 180.8,177.6 182.4,176.5 184,175.3 185.6,173.6 187.2,171.9 188.8,170.5 190.5,169.4 192.1,168.5 193.7,167.5 195.3,166.3 196.9,165.1 198.6,163.8 200.2,162.8 201.8,161.6 203.4,160.5 205,159.5 206.7,158.5 208.3,157.8 209.9,156.9 211.5,155.5 213.1,154 214.7,152.5 216.4,151.2 218,150.1 219.6,149.1 221.2,148.3 222.8,147.4 224.5,146.4 226.1,144.9 227.7,143 229.3,141.3 230.9,139.7 232.6,137.9 234.2,136.1 235.8,134.5 237.4,133.2 239,132.2 240.6,130.9 242.3,129.5 243.9,128.3 245.5,127.4 247.1,126.7 248.7,126 250.4,125.1 252,124.1 253.6,123.3 255.2,122.9 256.8,122.6 258.5,121.8 260.1,121 261.7,120.4 263.3,119.5 264.9,118.7 266.6,117.8 268.2,116.8 269.8,115.5 271.4,114 273,112.4 274.6,111.1 276.3,110.2 277.9,109.4 279.5,108.3 281.1,106.9 282.7,105.7 284.4,104.5 286,103.3 287.6,102.1 289.2,101 290.8,100 292.5,99.1 294.1,98.3 295.7,97.8 297.3,97.5 298.9,97.4 300.5,97.4 302.2,97.1 303.8,96.2 305.4,94.7 307,93.2"/>
<polyline stroke="#7f7f7f" stroke-width="1.25" points="64.2,272.9 65.8,272 67.4,270.9 69.1,269.7 70.7,268.4 72.3,267 73.9,265.4 75.5,263.8 77.2,262.1 78.8,260.5 80.4,258.9 82,257.3 83.6,255.9 85.2,254.4 86.9,252.8 88.5,251.2 90.1,249.6 91.7,248 93.3,246.6 95,245.1 96.6,243.5 98.2,241.8 99.8,240.1 101.4,238.5 103.1,237 104.7,235.4 106.3,233.8 107.9,232.1 109.5,230.4 111.1,228.6 112.8,226.8 114.4,225.2 116,223.6 117.6,221.9 119.2,220.3 120.9,218.8 122.5,217.4 124.1,215.9 125.7,214.4 127.3,212.9 129,211.5 130.6,209.9 132.2,208.3 133.8,206.9 135.4,205.5 137,204.1 138.7,202.6 140.3,201.1 141.9,199.6 143.5,198 145.1,196.4 146.8,194.8 148.4,193.3 150,191.8 151.6,190.2 153.2,188.6 154.9,186.9 156.5,185.4 158.1,184.1 159.7,183 161.3,182 162.9,180.9 164.6,179.9 166.2,179.3 167.8,178.6 169.4,177.7 171,176.4 172.7,175.3 174.3,174.1 175.9,172.7 177.5,171.4 179.1,170.4 180.8,169.5 182.4,168.4 184,167.1 185.6,166 187.2,165.1 188.8,164.1 190.5,162.9 192.1,162 193.7,161.4 195.3,161 196.9,160.2 198.6,159.3 200.2,158.7 201.8,158.4 203.4,158.1 205,157.6 206.7,157.4 208.3,157.1 209.9,156.5 211.5,155.5 213.1,154.3 214.7,153.1 216.4,151.6 218,150.5 219.6,149.6 221.2,148.9 222.8,147.9 224.5,146.8 226.1,145.5 227.7,143.9 229.3,142.8 230.9,141.7 232.6,140.3 234.2,138.6 235.8,136.9 237.4,135.2 239,133.5 240.6,132 242.3,130.3 243.9,128.5 245.5,126.6 247.1,124.7 248.7,122.9 250.4,121 252,119.1 253.6,117.4 255.2,115.9 256.8,114.7 258.5,113.4 260.1,112.1 261.7,110.6 263.3,108.9 264.9,107.2 266.6,105.8 268.2,104.6 269.8,103.4 271.4,102.1 273,100.6 274.6,99.6 276.3,98.8 277.9,97.8 279.5,96.4 281.1,95.2 282.7,94 284.4,93 286,91.9 287.6,90.4 289.2,88.5 290.8,86.7 292.5,85.2 294.1,83.6 295.7,82 297.3,80.5 298.9,79.3 300.5,78.3 302.2,77.3 303.8,76.3 305.4,75.6 307,75.6"/>
<polyline stroke="#bcbd22" stroke-width="1.25" points="64.2,272.9 65.8,272.2 67.4,271.2 69.1,270.1 70.7,268.8 72.3,267.4 73.9,265.8 75.5,264.1 77.2,262.5 78.8,260.9 80.4,259.6 82,258.2 83.6,256.7 85.2,255.2 86.9,253.8 88.5,252.4 90.1,251 91.7,249.6 93.3,248.1 95,246.7 96.6,245.1 98.2,243.7 99.8,242.2 101.4,240.7 103.1,239.2 104.7,237.7 106.3,236.1 107.9,234.5 109.5,233 111.1,231.6 112.8,230.2 114.4,228.8 116,227.4 117.6,225.8 119.2,224 120.9,222.3 122.5,220.7 124.1,219.3 125.7,217.9 127.3,216.3 129,214.9 130.6,213.3 132.2,211.7 133.8,210.1 135.4,208.7 137,207.3 138.7,206.1 140.3,204.8 141.9,203.6 143.5,202.2 145.1,200.8 146.8,199.3 148.4,197.8 150,196.3 151.6,194.9 153.2,193.5 154.9,192.3 156.5,191 158.1,189.9 159.7,188.7 161.3,187.3 162.9,186 164.6,184.9 166.2,183.6 167.8,182.7 169.4,181.8 171,181.1 172.7,180.5 174.3,179.8 175.9,179.2 177.5,178.6 179.1,177.7 180.8,176.6 182.4,175.4 184,174.3 185.6,173.3 187.2,172.5 188.8,171.7 190.5,170.9 192.1,169.6 193.7,168.1 195.3,166.9 196.9,165.7 198.6,164.5 200.2,163.1 201.8,161.8 203.4,160.4 205,159.3 206.7,158.3 208.3,157.4 209.9,156.3 211.5,155.2 213.1,154 214.7,152.9 216.4,151.9 218,150.6 219.6,149.3 221.2,147.9 222.8,146.6 224.5,145.3 226.1,144.3 227.7,143.5 229.3,142.7 230.9,141.7 232.6,140.6 234.2,139.6 235.8,139 237.4,138.3 239,137.6 240.6,136 242.3,134.4 243.9,133 245.5,131.8 247.1,130.6 248.7,129.2 250.4,128.1 252,127.3 253.6,126.7 255.2,125.9 256.8,125 258.5,123.8 260.1,122.8 261.7,121.7 263.3,120.6 264.9,119.5 266.6,118.6 268.2,117.9 269.8,117 271.4,116.2 273,115.4 274.6,114.8 276.3,114.3 277.9,113.9 279.5,113.6 281.1,113.2 282.7,112.4 284.4,111.1 286,110.1 287.6,108.8 289.2,107.5 290.8,106.5 292.5,105.8 294.1,105.2 295.7,104.3 297.3,103.5 298.9,103 300.5,102.3 302.2,101.5 303.8,101.1 305.4,100.9 307,100.5"/>
<polyline stroke="#17becf" stroke-width="1.25" points="64.2,272.9 65.8,272.2 67.4,271.3 69.1,270 70.7,268.5 72.3,267 73.9,265.3 75.5,263.6 77.2,262 78.8,260.5 80.4,259 82,257.5 83.6,255.9 85.2,254.3 86.9,252.7 88.5,251.2 90.1,249.7 91.7,248.2 93.3,246.7 95,245.1 96.6,243.7 98.2,242.3 99.8,240.6 101.4,239 103.1,237.5 104.7,236.1 106.3,234.8 107.9,233.3 109.5,231.8 111.1,230.4 112.8,229 114.4,227.6 116,226.2 117.6,224.7 119.2,223.2 120.9,221.6 122.5,219.9 124.1,218.2 125.7,216.5 127.3,215 129,213.5 130.6,211.8 132.2,210.2 133.8,208.5 135.4,206.9 137,205.3 138.7,203.7 140.3,202.2 141.9,200.7 143.5,199.2 145.1,197.7 146.8,196.2 148.4,194.6 150,193.1 151.6,191.7 153.2,190.3 154.9,189 156.5,187.6 158.1,186.3 159.7,185.2 161.3,184 162.9,182.8 164.6,181.6 166.2,180.4 167.8,179.4 169.4,178.4 171,177.4 172.7,176.3 174.3,175.2 175.9,174.2 177.5,173.3 179.1,172.4 180.8,171.3 182.4,170.4 184,169.5 185.6,168.5 187.2,167.3 188.8,165.9 190.5,164.4 192.1,163.2 193.7,162.2 195.3,161.1 196.9,159.9 198.6,158.9 200.2,158.1 201.8,157 203.4,156 205,154.9 206.7,153.6 208.3,152.3 209.9,151.2 211.5,150.2 213.1,149.2 214.7,148.4 216.4,147.6 218,147 219.6,146.2 221.2,145.1 222.8,144.2 224.5,143.5 226.1,143 227.7,141.7 229.3,140.4 230.9,139.1 232.6,138.1 234.2,137 235.8,136 237.4,134.5 239,132.7 240.6,130.9 242.3,129.4 243.9,128.4 245.5,127.6 247.1,126.9 248.7,125.7 250.4,124.3 252,123 253.6,121.5 255.2,119.8 256.8,118.2 258.5,116.7 260.1,115 261.7,113.2 263.3,111.6 264.9,110.2 266.6,108.8 268.2,107.3 269.8,106.1 271.4,105.1 273,103.7 274.6,102.3 276.3,100.9 277.9,99.5 279.5,97.8 281.1,96.6 282.7,95.4 284.4,94.1 286,92.6 287.6,91.7 289.2,91 290.8,90.3 292.5,89.8 294.1,89.3 295.7,89.1 297.3,88.5 298.9,87.9 300.5,87.4 302.2,87.1 303.8,86.6 305.4,86 307,85.5"/>
<polyline stroke="#1f77b4" stroke-width="1.25" points="64.2,272.9 65.8,271.7 67.4,270.3 69.1,268.8 70.7,267.3 72.3,265.7 73.9,264.1 75.5,262.6 77.2,261.3 78.8,260.1 80.4,258.7 82,257.3 83.6,255.9 85.2,254.7 86.9,253.3 88.5,251.9 90.1,250.5 91.7,249.1 93.3,247.6 95,246 96.6,244.4 98.2,242.8 99.8,241.2 101.4,239.8 103.1,238.3 104.7,236.8 106.3,235.5 107.9,234.2 109.5,232.8 111.1,231.3 112.8,229.8 114.4,228.3 116,226.7 117.6,225.2 119.2,223.7 120.9,222.3 122.5,220.8 124.1,219.2 125.7,217.7 127.3,216.4 129,214.9 130.6,213.4 132.2,211.9 133.8,210.4 135.4,209 137,207.6 138.7,206.3 140.3,205 141.9,203.6 143.5,202.1 145.1,200.8 146.8,199.4 148.4,198.1 150,196.7 151.6,195.4 153.2,194 154.9,192.7 156.5,191.3 158.1,189.9 159.7,188.5 161.3,187.1 162.9,185.9 164.6,184.7 166.2,183.5 167.8,182.4 169.4,181.4 171,180.5 172.7,179.4 174.3,178.3 175.9,177.3 177.5,176.2 179.1,175.4 180.8,174.5 182.4,173.5 184,172.7 185.6,171.8 187.2,170.8 188.8,169.4 190.5,168 192.1,166.7 193.7,165.3 195.3,163.8 196.9,162.1 198.6,160.6 200.2,159.5 201.8,158.9 203.4,158.3 205,157.6 206.7,156.6 208.3,155.3 209.9,154.1 211.5,153.5 213.1,152.9 214.7,151.9 216.4,150.9 218,150.2 219.6,149.5 221.2,148.6 222.8,147.8 224.5,147.1 226.1,146.5 227.7,145.5 229.3,144.3 230.9,143.2 232.6,142 234.2,140.8 235.8,140 237.4,139.2 239,138.2 240.6,137.2 242.3,136.1 243.9,135.4 245.5,134.5 247.1,133.6 248.7,132.7 250.4,132 252,131.3 253.6,130.3 255.2,129.4 256.8,128.7 258.5,128.7 260.1,128.5 261.7,127.7 263.3,126.8 264.9,126.2 266.6,125.7 268.2,125.1 269.8,124.4 271.4,123.8 273,123.4 274.6,122.8 276.3,122.2 277.9,121.8 279.5,121.5 281.1,120.9 282.7,120.1 284.4,119.8 286,119.8 287.6,119.8 289.2,119.4 290.8,118.6 292.5,117.5 294.1,116.5 295.7,115.5 297.3,114.5 298.9,113.1 300.5,111.8 302.2,110.8 303.8,109.6 305.4,108.2 307,106.3"/>
<polyline stroke="#ff7f0e" stroke-width="1.25" points="64.2,272.9 65.8,271.9 67.4,270.7 69.1,269.3 70.7,267.9 72.3,266.5 73.9,265.1 75.5,263.3 77.2,261.5 78.8,259.8 80.4,258.1 82,256.5 83.6,255 85.2,253.5 86.9,251.9 88.5,250.4 90.1,248.9 91.7,247.5 93.3,246.1 95,244.6 96.6,243.1 98.2,241.5 99.8,240.1 101.4,238.6 103.1,237 104.7,235.5 106.3,233.9 107.9,232.3 109.5,230.6 111.1,229 112.8,227.3 114.4,225.5 116,223.9 117.6,222.3 119.2,220.7 120.9,219.1 122.5,217.4 124.1,215.8 125.7,214.4 127.3,212.9 129,211.4 130.6,209.8 132.2,208.2 133.8,206.8 135.4,205.6 137,204.3 138.7,202.9 140.3,201.4 141.9,199.9 143.5,198.3 145.1,196.8 146.8,195.2 148.4,193.6 150,191.9 151.6,190.3 153.2,188.8 154.9,187.6 156.5,186.5 158.1,185.3 159.7,184.1 161.3,183.1 162.9,182.2 164.6,181.2 166.2,180.4 167.8,179.6 169.4,178.7 171,177.9 172.7,177.1 174.3,176.2 175.9,175.1 177.5,173.8 179.1,172.3 180.8,170.8 182.4,169.3 184,167.9 185.6,166.5 187.2,165.3 188.8,164.3 190.5,163.1 192.1,162 193.7,161 195.3,160.3 196.9,159.3 198.6,158.1 200.2,156.9 201.8,155.9 203.4,155 205,154.3 206.7,153.6 208.3,152.6 209.9,151.3 211.5,149.9 213.1,148.5 214.7,147.2 216.4,145.8 218,144.5 219.6,143.6 221.2,143.2 222.8,142.9 224.5,142.1 226.1,141.2 227.7,139.4 229.3,137.5 230.9,135.7 232.6,133.8 234.2,132.1 235.8,130.4 237.4,128.8 239,127.1 240.6,125.5 242.3,124.1 243.9,122.8 245.5,121.4 247.1,119.8 248.7,118.3 250.4,116.9 252,115.3 253.6,114.1 255.2,113.1 256.8,112.3 258.5,111.4 260.1,110.3 261.7,109.1 263.3,108.3 264.9,107.6 266.6,106.5 268.2,105.4 269.8,104.4 271.4,103.5 273,102.3 274.6,101.3 276.3,100.7 277.9,100 279.5,99.1 281.1,98.3 282.7,97.4 284.4,96.4 286,94.9 287.6,93.5 289.2,92.7 290.8,92.1 292.5,91.3 294.1,90.7 295.7,90 297.3,88.9 298.9,87.7 300.5,86.4 302.2,85 303.8,83.7 305.4,82.5 307,81.9"/>
<polyline stroke="#2ca02c" stroke-width="1.25" points="64.2,272.9 65.8,271.8 67.4,270.9 69.1,269.6 70.7,268.1 72.3,266.3 73.9,264.6 75.5,263 77.2,261.3 78.8,259.8 80.4,258.2 82,256.6 83.6,254.9 85.2,253.3 86.9,251.8 88.5,250.4 90.1,248.8 91.7,247.3 93.3,245.8 95,244.4 96.6,242.9 98.2,241.3 99.8,239.6 101.4,238 103.1,236.4 104.7,234.9 106.3,233.4 107.9,231.8 109.5,230.1 111.1,228.2 112.8,226.5 114.4,224.9 116,223.3 117.6,221.8 119.2,220.3 120.9,218.8 122.5,217.2 124.1,215.6 125.7,214 127.3,212.3 129,210.7 130.6,209.2 132.2,207.9 133.8,206.6 135.4,205.2 137,203.9 138.7,202.5 140.3,201 141.9,199.3 143.5,197.6 145.1,196 146.8,194.4 148.4,192.8 150,191.3 151.6,189.7 153.2,188.2 154.9,186.7 156.5,185.4 158.1,184.3 159.7,183.3 161.3,182.4 162.9,181.6 164.6,180.9 166.2,180.2 167.8,179.3 169.4,178.3 171,177.4 172.7,176.2 174.3,174.9 175.9,173.5 177.5,172.2 179.1,170.8 180.8,169.6 182.4,168.9 184,168.5 185.6,167.7 187.2,166.5 188.8,165.5 190.5,164.8 192.1,164.2 193.7,163.4 195.3,162.3 196.9,161.3 198.6,160.7 200.2,160.2 201.8,159.9 203.4,159.3 205,158.3 206.7,157 208.3,155.6 209.9,154.3 211.5,153.3 213.1,152.3 214.7,151 216.4,149.6 218,148.9 219.6,148.2 221.2,147.5 222.8,146.8 224.5,146.5 226.1,145.8 227.7,144.7 229.3,143.3 230.9,142.1 232.6,140.7 234.2,139.6 235.8,138.4 237.4,137 239,135.1 240.6,133.3 242.3,131.4 243.9,129.8 245.5,128.6 247.1,127.7 248.7,127 250.4,126.2 252,125.1 253.6,124.3 255.2,123.7 256.8,122.9 258.5,122.1 260.1,121.3 261.7,120.3 263.3,119.1 264.9,118.2 266.6,117.5 268.2,116.7 269.8,115.6 271.4,114.6 273,113.3 274.6,111.8 276.3,110.3 277.9,109 279.5,108 281.1,107.1 282.7,106.1 284.4,105.1 286,104.4 287.6,103.7 289.2,102.5 290.8,101.4 292.5,100.7 294.1,100.2 295.7,99.7 297.3,98.9 298.9,97.9 300.5,96.7 302.2,95.6 303.8,94.1 305.4,92.2 307,90.4"/>
<polyline stroke="#d62728" stroke-width="1.25" points="64.2,272.9 65.8,271.9 67.4,270.6 69.1,269.2 70.7,267.8 72.3,266.4 73.9,265.1 75.5,263.7 77.2,262.3 78.8,260.8 80.4,259.2 82,257.7 83.6,256.3 85.2,255.1 86.9,253.7 88.5,252.3 90.1,250.8 91.7,249.3 93.3,247.9 95,246.5 96.6,245.1 98.2,243.7 99.8,242.4 101.4,241.1 103.1,239.9 104.7,238.7 106.3,237.3 107.9,235.8 109.5,234.4 111.1,232.9 112.8,231.4 114.4,230 116,228.5 117.6,227 119.2,225.4 120.9,223.7 122.5,221.8 124.1,220 125.7,218.4 127.3,216.9 129,215.5 130.6,214.2 132.2,212.8 133.8,211.4 135.4,210 137,208.7 138.7,207.5 140.3,206.1 141.9,204.6 143.5,203 145.1,201.4 146.8,199.9 148.4,198.5 150,197.1 151.6,195.6 153.2,194.1 154.9,192.7 156.5,191.2 158.1,189.8 159.7,188.4 161.3,187.1 162.9,186.2 164.6,185.3 166.2,184.4 167.8,183.5 169.4,182.7 171,181.9 172.7,181 174.3,180.1 175.9,179.2 177.5,178.4 179.1,177.8 180.8,177.3 182.4,176.7 184,175.4 185.6,174 187.2,172.7 188.8,171.6 190.5,170.7 192.1,169.6 193.7,168.5 195.3,167.3 196.9,165.9 198.6,164.3 200.2,162.9 201.8,161.9 203.4,161.2 205,160.4 206.7,159.1 208.3,157.5 209.9,156.2 211.5,155.2 213.1,154 214.7,152.8 216.4,152 218,150.9 219.6,149.6 221.2,148.3 222.8,147.5 224.5,146.6 226.1,145.4 227.7,143.8 229.3,142 230.9,140.5 232.6,138.9 234.2,137.4 235.8,135.8 237.4,134.3 239,132.7 240.6,130.9 242.3,129 243.9,127.2 245.5,125.6 247.1,123.8 248.7,122 250.4,120.3 252,119 253.6,117.8 255.2,116.3 256.8,115 258.5,113.8 260.1,112.5 261.7,110.9 263.3,109.5 264.9,108.1 266.6,106.9 268.2,105.4 269.8,103.9 271.4,102.7 273,101.9 274.6,101.1 276.3,100.2 277.9,98.8 279.5,97.3 281.1,96 282.7,95.1 284.4,94.2 286,93.3 287.6,92.1 289.2,90.9 290.8,89.7 292.5,88.3 294.1,86.7 295.7,85.2 297.3,83.7 298.9,82.1 300.5,80.6 302.2,78.9 303.8,77.5 305.4,76.2 307,75.9"/>
<polyline stroke="#9467bd" stroke-width="1.25" points="64.2,272.9 65.8,271.7 67.4,270.2 69.1,268.6 70.7,267 72.3,265.4 73.9,263.6 75.5,261.7 77.2,259.9 78.8,258.1 80.4,256.4 82,254.7 83.6,253.1 85.2,251.6 86.9,250 88.5,248.4 90.1,246.9 91.7,245.3 93.3,243.7 95,242 96.6,240.3 98.2,238.6 99.8,237 101.4,235.4 103.1,233.7 104.7,231.9 106.3,230.2 107.9,228.5 109.5,226.8 111.1,225.1 112.8,223.5 114.4,221.9 116,220.3 117.6,218.5 119.2,216.8 120.9,215.2 122.5,213.8 124.1,212.4 125.7,211 127.3,209.5 129,208.2 130.6,206.8 132.2,205.3 133.8,203.7 135.4,202.3 137,200.8 138.7,199.3 140.3,197.8 141.9,196.1 143.5,194.5 145.1,192.9 146.8,191.3 148.4,189.8 150,188.3 151.6,186.8 153.2,185.3 154.9,183.8 156.5,182.5 158.1,181.2 159.7,180 161.3,178.7 162.9,177.6 164.6,176.4 166.2,175 167.8,173.4 169.4,171.7 171,170.3 172.7,168.9 174.3,167.7 175.9,166.4 177.5,165.3 179.1,163.6 180.8,162.4 182.4,161.3 184,160.2 185.6,158.9 187.2,157.8 188.8,156.8 190.5,155.7 192.1,154.7 193.7,153.9 195.3,153.3 196.9,152.5 198.6,151.6 200.2,150.5 201.8,149.3 203.4,147.8 205,146.4 206.7,145.1 208.3,144 209.9,143.1 211.5,142.5 213.1,141.7 214.7,140.9 216.4,139.7 218,138.5 219.6,137.2 221.2,135.7 222.8,134.1 224.5,132.7 226.1,131.4 227.7,129.8 229.3,128.3 230.9,126.8 232.6,125.5 234.2,124.3 235.8,123.5 237.4,122.7 239,122.1 240.6,121.4 242.3,120.5 243.9,119.3 245.5,118.2 247.1,117.2 248.7,116.3 250.4,114.9 252,113.3 253.6,111.7 255.2,110.4 256.8,109.2 258.5,107.7 260.1,106.2 261.7,104.7 263.3,103.5 264.9,102.3 266.6,101 268.2,99.4 269.8,98.1 271.4,96.9 273,96.1 274.6,95.2 276.3,94.1 277.9,93.1 279.5,91.7 281.1,90.3 282.7,89.1 284.4,88.4 286,87.3 287.6,85.8 289.2,84 290.8,82.7 292.5,81.1 294.1,79.2 295.7,77.4 297.3,76 298.9,75 300.5,74 302.2,73.1 303.8,72.4 305.4,71.6 307,70.6"/>
<polyline stroke="#8c564b" stroke-width="1.25" points="64.2,272.9 65.8,272.1 67.4,271 69.1,269.6 70.7,268.1 72.3,266.6 73.9,264.9 75.5,263.3 77.2,261.7 78.8,260 80.4,258.5 82,257 83.6,255.5 85.2,254 86.9,252.5 88.5,250.9 90.1,249.4 91.7,247.9 93.3,246.5 95,245.1 96.6,243.6 98.2,242.1 99.8,240.5 101.4,238.9 103.1,237.2 104.7,235.7 106.3,234.2 107.9,232.8 109.5,231.3 111.1,229.7 112.8,228.2 114.4,226.7 116,225.2 117.6,223.7 119.2,222.1 120.9,220.6 122.5,219.1 124.1,217.5 125.7,216.1 127.3,214.7 129,213.4 130.6,211.9 132.2,210.4 133.8,208.7 135.4,207 137,205.4 138.7,203.9 140.3,202.4 141.9,200.9 143.5,199.4 145.1,197.9 146.8,196.5 148.4,195.2 150,194 151.6,192.6 153.2,191.2 154.9,189.7 156.5,188.4 158.1,187.2 159.7,186.1 161.3,184.9 162.9,184 164.6,183.1 166.2,182.3 167.8,181.5 169.4,180.5 171,179.3 172.7,178 174.3,176.9 175.9,175.8 177.5,174.8 179.1,173.7 180.8,172.6 182.4,171.1 184,169.8 185.6,168.3 187.2,166.5 188.8,164.7 190.5,163.2 192.1,162.3 193.7,161.5 195.3,160.5 196.9,159.4 198.6,158.2 200.2,156.8 201.8,155.3 203.4,153.8 205,152.6 206.7,151.6 208.3,150.7 209.9,149.5 211.5,149 213.1,148.5 214.7,147.7 216.4,146.5 218,145.6 219.6,145.1 221.2,144.7 222.8,143.7 224.5,142.5 226.1,141.1 227.7,139.2 229.3,137.4 230.9,135.8 232.6,134.4 234.2,133.1 235.8,131.6 237.4,130.3 239,128.9 240.6,128 242.3,126.5 243.9,125 245.5,123.5 247.1,122.1 248.7,120.8 250.4,119.7 252,118.4 253.6,117.4 255.2,116.1 256.8,114.7 258.5,113 260.1,111.3 261.7,110 263.3,108.7 264.9,107.6 266.6,106.4 268.2,105.4 269.8,104.8 271.4,104.5 273,104 274.6,103.2 276.3,102 277.9,100.7 279.5,99.3 281.1,98.1 282.7,97.2 284.4,96.1 286,95.1 287.6,94.1 289.2,93.1 290.8,92 292.5,90.9 294.1,90.1 295.7,89.2 297.3,87.9 298.9,86.1 300.5,84.8 302.2,84.2 303.8,83.5 305.4,82.5 307,80.9"/>
<polyline stroke="#e377c2" stroke-width="1.25" points="64.2,272.9 65.8,271.6 67.4,270.2 69.1,268.8 70.7,267.3 72.3,265.7 73.9,264.2 75.5,262.7 77.2,261.3 78.8,259.7 80.4,258.1 82,256.5 83.6,254.8 85.2,253.3 86.9,251.7 88.5,250.3 90.1,248.7 91.7,247 93.3,245.3 95,243.6 96.6,242 98.2,240.5 99.8,239 101.4,237.5 103.1,236.1 104.7,234.6 106.3,233.2 107.9,231.7 109.5,230.2 111.1,228.6 112.8,227 114.4,225.5 116,224 117.6,222.6 119.2,221.1 120.9,219.8 122.5,218.5 124.1,217.2 125.7,215.8 127.3,214.3 129,212.7 130.6,211 132.2,209.3 133.8,207.7 135.4,206.3 137,205 138.7,203.5 140.3,202.1 141.9,200.6 143.5,199 145.1,197.5 146.8,196.1 148.4,194.9 150,193.7 151.6,192.6 153.2,191.5 154.9,190.5 156.5,189.3 158.1,187.9 159.7,186.6 161.3,185.7 162.9,184.9 164.6,184.2 166.2,183.6 167.8,183.2 169.4,182.6 171,181.9 172.7,181.1 174.3,180.2 175.9,179.4 177.5,178.4 179.1,177.4 180.8,176.4 182.4,175.6 184,174.7 185.6,174 187.2,173.4 188.8,172.8 190.5,172.2 192.1,171 193.7,170 195.3,169 196.9,168.2 198.6,167.3 200.2,166.7 201.8,166.3 203.4,165.5 205,164.9 206.7,164.7 208.3,164.5 209.9,164 211.5,163.4 213.1,162.9 214.7,162.7 216.4,162.7 218,162.7 219.6,162.3 221.2,161.8 222.8,161.5 224.5,161.2 226.1,160.4 227.7,158.7 229.3,157.1 230.9,155.7 232.6,153.9 234.2,152.1 235.8,150.2 237.4,148.4 239,146.6 240.6,144.7 242.3,142.9 243.9,141.1 245.5,139.4 247.1,137.9 248.7,136.6 250.4,135.5 252,134.4 253.6,133.5 255.2,133 256.8,132.2 258.5,131.1 260.1,130.1 261.7,129.4 263.3,128.7 264.9,128.1 266.6,127 268.2,126 269.8,124.6 271.4,123.4 273,122.1 274.6,120.5 276.3,118.9 277.9,117.8 279.5,116.9 281.1,115.5 282.7,114.1 284.4,112.6 286,111 287.6,109.2 289.2,107.3 290.8,105.6 292.5,104 294.1,102.4 295.7,101.3 297.3,100.5 298.9,99.9 300.5,99.2 302.2,98 303.8,96.8 305.4,96 307,96"/>
<polyline stroke="#7f7f7f" stroke-width="1.25" points="64.2,272.9 65.8,272.2 67.4,271 69.1,269.5 70.7,268 72.3,266.5 73.9,264.9 75.5,263.4 77.2,261.9 78.8,260.4 80.4,259 82,257.7 83.6,256.2 85.2,254.7 86.9,253.2 88.5,251.8 90.1,250.4 91.7,248.9 93.3,247.5 95,246 96.6,244.5 98.2,242.9 99.8,241.2 101.4,239.6 103.1,238.1 104.7,236.7 106.3,235.1 107.9,233.6 109.5,232.1 111.1,230.6 112.8,229.1 114.4,227.4 116,225.8 117.6,224.1 119.2,222.4 120.9,220.8 122.5,219.2 124.1,217.7 125.7,216.2 127.3,214.7 129,213.2 130.6,211.8 132.2,210.3 133.8,209 135.4,207.5 137,206.1 138.7,204.6 140.3,203.2 141.9,201.8 143.5,200.3 145.1,198.8 146.8,197.3 148.4,195.9 150,194.5 151.6,193.1 153.2,191.7 154.9,190.4 156.5,189.3 158.1,188.2 159.7,187 161.3,185.8 162.9,184.8 164.6,183.9 166.2,183 167.8,181.9 169.4,180.9 171,180.3 172.7,179.6 174.3,178.9 175.9,177.9 177.5,176.7 179.1,175.3 180.8,174 182.4,172.5 184,171.2 185.6,170 187.2,168.9 188.8,168 190.5,167.3 192.1,166.5 193.7,166.1 195.3,165.4 196.9,164.5 198.6,163.2 200.2,161.8 201.8,160.5 203.4,159.4 205,158.4 206.7,157.2 208.3,155.9 209.9,154.4 211.5,153 213.1,151.7 214.7,150.7 216.4,149.8 218,149.2 219.6,148.2 221.2,146.9 222.8,145.5 224.5,144.5 226.1,143.5 227.7,142.3 229.3,140.9 230.9,139.6 232.6,138.5 234.2,137.6 235.8,136.4 237.4,135 239,133.8 240.6,133.1 242.3,131.9 243.9,130.4 245.5,128.6 247.1,126.8 248.7,125.4 250.4,124 252,123.1 253.6,122.2 255.2,121.4 256.8,120.2 258.5,118.9 260.1,117.4 261.7,116 263.3,114.3 264.9,112.8 266.6,111.2 268.2,109.8 269.8,108.6 271.4,107.7 273,107.1 274.6,106.6 276.3,106.2 277.9,105.7 279.5,105.1 281.1,104.5 282.7,104.2 284.4,103.5 286,102.8 287.6,101.8 289.2,100.7 290.8,99.9 292.5,99 294.1,98 295.7,97.1 297.3,96.1 298.9,95.2 300.5,94.2 302.2,92.9 303.8,91.2 305.4,89.6 307,88.3"/>
<polyline stroke="#bcbd22" stroke-width="1.25" points="64.2,272.9 65.8,271.7 67.4,270.3 69.1,269 70.7,267.8 72.3,266.6 73.9,265.2 75.5,263.6 77.2,262 78.8,260.4 80.4,258.9 82,257.4 83.6,255.9 85.2,254.3 86.9,252.7 88.5,251.3 90.1,249.9 91.7,248.4 93.3,246.8 95,245.2 96.6,243.7 98.2,242.3 99.8,240.9 101.4,239.5 103.1,238.2 104.7,236.8 106.3,235.3 107.9,234 109.5,232.6 111.1,231.2 112.8,229.7 114.4,228.1 116,226.5 117.6,225.1 119.2,223.8 120.9,222.6 122.5,221.3 124.1,220.1 125.7,218.7 127.3,217.3 129,215.8 130.6,214.4 132.2,212.9 133.8,211.4 135.4,209.7 137,208.2 138.7,206.8 140.3,205.5 141.9,204.4 143.5,203.3 145.1,202.1 146.8,200.7 148.4,199.4 150,198.1 151.6,196.8 153.2,195.4 154.9,194.2 156.5,193.1 158.1,192 159.7,190.9 161.3,190 162.9,189.3 164.6,188.6 166.2,187.7 167.8,186.7 169.4,185.5 171,184.2 172.7,182.5 174.3,181 175.9,180 177.5,179.2 179.1,178.1 180.8,176.8 182.4,175.6 184,174.3 185.6,172.9 187.2,171.3 188.8,169.8 190.5,168.8 192.1,168.2 193.7,167.8 195.3,167.3 196.9,166.6 198.6,165.9 200.2,165.2 201.8,164.5 203.4,163.7 205,163 206.7,162.2 208.3,161.4 209.9,160.1 211.5,158.7 213.1,157.5 214.7,156.5 216.4,155.6 218,155 219.6,154.6 221.2,154 222.8,153.3 224.5,152.5 226.1,151.5 227.7,149.9 229.3,148 230.9,146.2 232.6,144.3 234.2,142.6 235.8,141.3 237.4,139.9 239,138.4 240.6,137 242.3,135.8 243.9,135 245.5,134.2 247.1,133.7 248.7,132.7 250.4,131.8 252,130.6 253.6,129.8 255.2,128.7 256.8,127.7 258.5,126.7 260.1,126.1 261.7,125.2 263.3,124.3 264.9,123.4 266.6,122.6 268.2,121.6 269.8,120.5 271.4,119.7 273,119.1 274.6,118.5 276.3,117.7 277.9,116.6 279.5,115.7 281.1,114.8 282.7,114.5 284.4,114 286,113.2 287.6,112.2 289.2,111 290.8,110.2 292.5,109.6 294.1,108.9 295.7,108.2 297.3,107.3 298.9,106.3 300.5,105.6 302.2,104.7 303.8,104 305.4,103.2 307,101.8"/>
<polyline stroke="#17becf" stroke-width="1.25" points="64.2,272.9 65.8,271.8 67.4,270.5 69.1,269 70.7,267.5 72.3,266.1 73.9,264.7 75.5,263.2 77.2,261.7 78.8,260.4 80.4,259 82,257.7 83.6,256.3 85.2,254.8 86.9,253.4 88.5,252.1 90.1,250.9 91.7,249.4 93.3,247.9 95,246.4 96.6,245 98.2,243.6 99.8,242.3 101.4,240.8 103.1,239.3 104.7,237.8 106.3,236.3 107.9,235 109.5,233.6 111.1,232.3 112.8,230.8 114.4,229.4 116,227.8 117.6,226.2 119.2,224.7 120.9,223.3 122.5,222 124.1,220.6 125.7,219.2 127.3,217.7 129,216.1 130.6,214.7 132.2,213.3 133.8,212 135.4,210.7 137,209.4 138.7,208.1 140.3,206.7 141.9,205.2 143.5,203.7 145.1,202.2 146.8,200.6 148.4,199.1 150,197.6 151.6,196.1 153.2,194.7 154.9,193.4 156.5,192.2 158.1,191.1 159.7,190 161.3,189 162.9,188 164.6,187 166.2,186.1 167.8,185.3 169.4,184.5 171,183.7 172.7,182.7 174.3,181.3 175.9,180.2 177.5,179.4 179.1,179 180.8,178.4 182.4,177.5 184,176.6 185.6,175.6 187.2,174.6 188.8,173.3 190.5,172.1 192.1,170.8 193.7,169.4 195.3,167.7 196.9,166.1 198.6,165.3 200.2,164.7 201.8,164.3 203.4,163.8 205,162.9 206.7,161.4 208.3,160.4 209.9,159.9 211.5,159.1 213.1,157.9 214.7,156.8 216.4,155.8 218,154.8 219.6,153.6 221.2,152.5 222.8,151.6 224.5,150.8 226.1,150 227.7,148.9 229.3,147.9 230.9,147.3 232.6,146.1 234.2,144.7 235.8,142.8 237.4,141.2 239,139.8 240.6,138.4 242.3,137 243.9,135.5 245.5,134.3 247.1,133.3 248.7,132.4 250.4,131.4 252,130.4 253.6,129.5 255.2,128.4 256.8,127.1 258.5,125.6 260.1,124.2 261.7,122.8 263.3,121.5 264.9,120.2 266.6,119 268.2,117.7 269.8,116.8 271.4,116 273,115.4 274.6,114.7 276.3,114 277.9,113.4 279.5,112.7 281.1,111.7 282.7,110.6 284.4,109.8 286,109.1 287.6,108.5 289.2,107.6 290.8,106.5 292.5,105.3 294.1,104.2 295.7,103.3 297.3,102.3 298.9,100.9 300.5,99.8 302.2,99.3 303.8,99.1 305.4,98.3 307,97.1"/>
<polyline stroke="#1f77b4" stroke-width="1.25" points="64.2,272.9 65.8,271.7 67.4,270.6 69.1,269.2 70.7,267.7 72.3,266.2 73.9,264.8 75.5,263.2 77.2,261.7 78.8,260.2 80.4,258.6 82,257 83.6,255.4 85.2,253.8 86.9,252.2 88.5,250.7 90.1,249.1 91.7,247.5 93.3,245.9 95,244.2 96.6,242.6 98.2,241.1 99.8,239.6 101.4,238.1 103.1,236.6 104.7,235 106.3,233.5 107.9,232.1 109.5,230.6 111.1,229.1 112.8,227.7 114.4,226.3 116,224.9 117.6,223.4 119.2,221.8 120.9,220.4 122.5,218.9 124.1,217.2 125.7,215.6 127.3,214.2 129,212.7 130.6,211.1 132.2,209.5 133.8,207.9 135.4,206.4 137,204.9 138.7,203.5 140.3,201.8 141.9,200.1 143.5,198.4 145.1,196.8 146.8,195.3 148.4,193.8 150,192.2 151.6,190.5 153.2,188.8 154.9,187.2 156.5,185.9 158.1,184.7 159.7,183.5 161.3,182.1 162.9,180.9 164.6,180 166.2,179.3 167.8,178.4 169.4,177.5 171,176.5 172.7,175.6 174.3,174.6 175.9,173.9 177.5,173.2 179.1,172.3 180.8,171.1 182.4,169.8 184,168.7 185.6,167.7 187.2,166.6 188.8,165.1 190.5,163.6 192.1,162.5 193.7,161.7 195.3,161 196.9,159.9 198.6,159 200.2,158.1 201.8,157 203.4,155.6 205,154.4 206.7,153.2 208.3,152.2 209.9,151.3 211.5,150.4 213.1,149.4 214.7,148.7 216.4,147.9 218,146.9 219.6,145.7 221.2,144.4 222.8,143.3 224.5,142.1 226.1,140.7 227.7,138.9 229.3,137.1 230.9,135.8 232.6,134.5 234.2,133 235.8,131.3 237.4,129.6 239,127.7 240.6,126.3 242.3,125.1 243.9,123.9 245.5,122.5 247.1,121.2 248.7,120 250.4,118.8 252,117.6 253.6,116.5 255.2,115.8 256.8,114.9 258.5,113.8 260.1,112.6 261.7,111.6 263.3,110.6 264.9,109.6 266.6,108.6 268.2,107.5 269.8,106.5 271.4,105.7 273,104.8 274.6,103.6 276.3,102.2 277.9,101.2 279.5,100.3 281.1,98.6 282.7,96.9 284.4,95.4 286,93.9 287.6,92.1 289.2,90.3 290.8,88.7 292.5,87.8 294.1,87 295.7,86.4 297.3,86 298.9,85.7 300.5,85.4 302.2,85.2 303.8,85.2 305.4,85.2 307,84.7"/>
<polyline stroke="#ff7f0e" stroke-width="1.25" points="64.2,272.9 65.8,271.8 67.4,270.4 69.1,268.9 70.7,267.6 72.3,266.2 73.9,264.9 75.5,263.4 77.2,261.7 78.8,260.1 80.4,258.6 82,257.1 83.6,255.7 85.2,254.3 86.9,252.9 88.5,251.4 90.1,250 91.7,248.6 93.3,247.3 95,245.9 96.6,244.4 98.2,243 99.8,241.6 101.4,240.2 103.1,238.8 104.7,237.2 106.3,235.6 107.9,234 109.5,232.4 111.1,230.8 112.8,229.3 114.4,227.9 116,226.6 117.6,225.2 119.2,223.7 120.9,222.2 122.5,220.7 124.1,219.2 125.7,217.7 127.3,216.2 129,214.7 130.6,213.3 132.2,211.9 133.8,210.6 135.4,209.2 137,207.7 138.7,206.2 140.3,204.7 141.9,203.1 143.5,201.6 145.1,200.1 146.8,198.7 148.4,197.3 150,196 151.6,194.7 153.2,193.6 154.9,192.5 156.5,191.5 158.1,190.5 159.7,189.4 161.3,188.4 162.9,187.3 164.6,186.3 166.2,185.4 167.8,184.6 169.4,184.1 171,183.3 172.7,182.5 174.3,181.6 175.9,180.7 177.5,179.6 179.1,178.7 180.8,177.9 182.4,176.9 184,176.2 185.6,175.5 187.2,174.8 188.8,174 190.5,173.4 192.1,172.7 193.7,172.4 195.3,172.2 196.9,171.8 198.6,171.3 200.2,170.6 201.8,169.6 203.4,168.6 205,167.5 206.7,166.9 208.3,166.4 209.9,166 211.5,165.4 213.1,164.8 214.7,164.2 216.4,163.6 218,163 219.6,162.6 221.2,162.3 222.8,161.7 224.5,160.9 226.1,160.3 227.7,159.4 229.3,158.6 230.9,157.6 232.6,156.3 234.2,154.9 235.8,153.5 237.4,152 239,150.7 240.6,149.3 242.3,147.8 243.9,146.1 245.5,144.5 247.1,143.3 248.7,142.3 250.4,141.3 252,140.3 253.6,139.3 255.2,138.5 256.8,137.5 258.5,136.2 260.1,135 261.7,133.9 263.3,133 264.9,132 266.6,131.3 268.2,130.3 269.8,129.2 271.4,128.1 273,127.4 274.6,127 276.3,126.5 277.9,125.8 279.5,124.6 281.1,123.3 282.7,122.2 284.4,121.1 286,120 287.6,118.7 289.2,117.6 290.8,116 292.5,114.7 294.1,113.5 295.7,112.1 297.3,110.8 298.9,110.1 300.5,109.7 302.2,108.9 303.8,107.5 305.4,105.8 307,104.6"/>
<polyline stroke="#2ca02c" stroke-width="1.25" points="64.2,272.9 65.8,271.3 67.4,269.7 69.1,268.2 70.7,267 72.3,265.7 73.9,264.3 75.5,262.9 77.2,261.5 78.8,260 80.4,258.7 82,257.3 83.6,255.8 85.2,254.3 86.9,252.9 88.5,251.5 90.1,250.1 91.7,248.7 93.3,247.2 95,245.9 96.6,244.6 98.2,243.3 99.8,241.8 101.4,240.4 103.1,239 104.7,237.5 106.3,236.1 107.9,234.6 109.5,233.2 111.1,231.7 112.8,230.2 114.4,228.7 116,227.2 117.6,225.8 119.2,224.5 120.9,223.3 122.5,222 124.1,220.8 125.7,219.4 127.3,218.1 129,216.8 130.6,215.4 132.2,213.8 133.8,212.2 135.4,210.7 137,209.4 138.7,207.9 140.3,206.4 141.9,205 143.5,203.6 145.1,202.1 146.8,200.7 148.4,199.4 150,198 151.6,196.5 153.2,195.1 154.9,193.7 156.5,192.4 158.1,191 159.7,189.7 161.3,188.5 162.9,187.6 164.6,186.5 166.2,185.6 167.8,184.9 169.4,184.5 171,184.1 172.7,183.5 174.3,182.9 175.9,182.2 177.5,181.4 179.1,180.5 180.8,179.6 182.4,178.7 184,178 185.6,177.4 187.2,176.8 188.8,176.2 190.5,175.6 192.1,174.5 193.7,173.2 195.3,172.2 196.9,171.3 198.6,170.3 200.2,169.2 201.8,168.3 203.4,167.7 205,167.2 206.7,166.7 208.3,165.9 209.9,165.1 211.5,164.1 213.1,163.5 214.7,162.6 216.4,161.4 218,159.8 219.6,158.2 221.2,156.7 222.8,155.2 224.5,153.9 226.1,152.6 227.7,150.9 229.3,149.7 230.9,149 232.6,148.3 234.2,147.7 235.8,147.1 237.4,146.5 239,145.2 240.6,143.7 242.3,142.5 243.9,141.4 245.5,140.3 247.1,138.9 248.7,137.2 250.4,135.3 252,133.5 253.6,131.6 255.2,129.7 256.8,127.9 258.5,126.1 260.1,124.4 261.7,122.9 263.3,121.4 264.9,120.2 266.6,118.7 268.2,117 269.8,115.9 271.4,115.2 273,114.7 274.6,114.2 276.3,113.3 277.9,112.2 279.5,110.7 281.1,109.4 282.7,107.9 284.4,106.6 286,105.3 287.6,104 289.2,102.1 290.8,100.5 292.5,99.3 294.1,98.6 295.7,97.9 297.3,97.2 298.9,96.2 300.5,95.2 302.2,94.1 303.8,92.7 305.4,90.9 307,89.2"/>
<polyline stroke="#d62728" stroke-width="1.25" points="64.2,272.9 65.8,271.8 67.4,270.5 69.1,269.2 70.7,267.8 72.3,266.2 73.9,264.7 75.5,263.4 77.2,262.1 78.8,260.7 80.4,259.3 82,257.9 83.6,256.4 85.2,254.8 86.9,253.4 88.5,252 90.1,250.5 91.7,248.9 93.3,247.2 95,245.6 96.6,244.2 98.2,243 99.8,241.6 101.4,240.3 103.1,238.8 104.7,237.2 106.3,235.7 107.9,234.3 109.5,232.7 111.1,231.3 112.8,229.8 114.4,228.3 116,226.9 117.6,225.5 119.2,224.3 120.9,222.9 122.5,221.5 124.1,220.2 125.7,218.9 127.3,217.4 129,215.9 130.6,214.3 132.2,212.6 133.8,211 135.4,209.5 137,208.1 138.7,206.5 140.3,205 141.9,203.5 143.5,202.1 145.1,200.7 146.8,199.4 148.4,198 150,196.5 151.6,194.9 153.2,193.2 154.9,191.5 156.5,189.9 158.1,188.4 159.7,187 161.3,185.7 162.9,184.8 164.6,184.2 166.2,183.5 167.8,182.6 169.4,181.7 171,180.7 172.7,179.5 174.3,178.3 175.9,177.1 177.5,175.9 179.1,174.7 180.8,173.4 182.4,172.1 184,170.7 185.6,169.2 187.2,167.5 188.8,165.6 190.5,164.1 192.1,163.2 193.7,162.3 195.3,161.1 196.9,159.9 198.6,159 200.2,158.1 201.8,157.1 203.4,155.7 205,154.1 206.7,152.4 208.3,150.9 209.9,149.4 211.5,148 213.1,146.8 214.7,145.6 216.4,144.1 218,142.5 219.6,141 221.2,139.7 222.8,138.5 224.5,137.6 226.1,136.6 227.7,135.1 229.3,133.9 230.9,133.1 232.6,132.6 234.2,132 235.8,130.8 237.4,129.3 239,127.6 240.6,126.1 242.3,124.9 243.9,124 245.5,123 247.1,121.9 248.7,120.4 250.4,118.7 252,117.3 253.6,116.2 255.2,115.1 256.8,114 258.5,112.8 260.1,111.7 261.7,110.9 263.3,109.8 264.9,108.4 266.6,106.7 268.2,104.9 269.8,103.3 271.4,101.8 273,100.6 274.6,99.3 276.3,98.4 277.9,97.9 279.5,97.5 281.1,96.9 282.7,96.2 284.4,95.2 286,94.2 287.6,93.2 289.2,92.6 290.8,91.8 292.5,90.6 294.1,89.6 295.7,88.7 297.3,88.4 298.9,88.1 300.5,87.6 302.2,87.1 303.8,86.6 305.4,86 307,84.4"/>
<polyline stroke="#9467bd" stroke-width="1.25" points="64.2,272.9 65.8,271.5 67.4,269.9 69.1,268.3 70.7,266.7 72.3,265.3 73.9,263.9 75.5,262.4 77.2,260.8 78.8,259 80.4,257.3 82,255.5 83.6,253.8 85.2,252.2 86.9,250.7 88.5,249.2 90.1,247.6 91.7,246.1 93.3,244.6 95,243.1 96.6,241.4 98.2,239.9 99.8,238.3 101.4,236.8 103.1,235.2 104.7,233.5 106.3,231.8 107.9,230.1 109.5,228.5 111.1,227 112.8,225.4 114.4,223.8 116,222.2 117.6,220.6 119.2,219 120.9,217.3 122.5,215.7 124.1,214.3 125.7,212.7 127.3,211.1 129,209.5 130.6,207.9 132.2,206.3 133.8,204.6 135.4,202.9 137,201.3 138.7,199.7 140.3,198.1 141.9,196.6 143.5,194.9 145.1,193.2 146.8,191.5 148.4,189.8 150,188.1 151.6,186.6 153.2,185.2 154.9,184 156.5,182.8 158.1,181.7 159.7,180.7 161.3,179.6 162.9,178.5 164.6,177.6 166.2,177.1 167.8,176.6 169.4,176 171,175.1 172.7,174 174.3,172.8 175.9,171.6 177.5,170.4 179.1,169.3 180.8,168.3 182.4,167.3 184,166.5 185.6,165.6 187.2,164.8 188.8,163.8 190.5,162.8 192.1,161.6 193.7,160.7 195.3,159.9 196.9,159.1 198.6,158 200.2,156.9 201.8,156 203.4,155.2 205,154.4 206.7,153.8 208.3,153.2 209.9,152.6 211.5,151.9 213.1,151.2 214.7,150.2 216.4,149.1 218,148.4 219.6,147.8 221.2,147.1 222.8,146.2 224.5,145 226.1,143.5 227.7,142.1 229.3,140.7 230.9,139.7 232.6,138.9 234.2,137.9 235.8,136.5 237.4,135.1 239,134.2 240.6,133.3 242.3,132.2 243.9,130.8 245.5,129.4 247.1,127.9 248.7,126.4 250.4,125.1 252,124 253.6,122.9 255.2,122.1 256.8,121.7 258.5,121.1 260.1,120.1 261.7,118.9 263.3,118 264.9,117.2 266.6,116 268.2,114.4 269.8,113.3 271.4,112.5 273,111.7 274.6,110.9 276.3,110.2 277.9,109.1 279.5,108 281.1,107 282.7,106 284.4,105 286,103.8 287.6,102.4 289.2,101.2 290.8,100.1 292.5,99 294.1,98.2 295.7,97.6 297.3,96.9 298.9,96.4 300.5,95.9 302.2,94.9 303.8,93.3 305.4,91.4 307,89.6"/>
<polyline stroke="#8c564b" stroke-width="1.25" points="64.2,272.9 65.8,272.1 67.4,271 69.1,269.6 70.7,268.1 72.3,266.5 73.9,264.9 75.5,263.4 77.2,261.9 78.8,260.6 80.4,259.3 82,257.9 83.6,256.3 85.2,254.6 86.9,253 88.5,251.5 90.1,250 91.7,248.4 93.3,246.8 95,245.4 96.6,243.9 98.2,242.4 99.8,240.9 101.4,239.3 103.1,237.8 104.7,236.4 106.3,235 107.9,233.5 109.5,231.9 111.1,230.4 112.8,228.8 114.4,227.3 116,225.7 117.6,224 119.2,222.2 120.9,220.6 122.5,219.1 124.1,217.7 125.7,216.1 127.3,214.5 129,212.8 130.6,211.2 132.2,209.5 133.8,207.9 135.4,206.3 137,204.8 138.7,203.4 140.3,201.8 141.9,200.2 143.5,198.6 145.1,196.9 146.8,195.4 148.4,193.9 150,192.5 151.6,191.1 153.2,189.8 154.9,188.5 156.5,187.3 158.1,186.1 159.7,184.8 161.3,183.7 162.9,183 164.6,182.3 166.2,181.8 167.8,181.3 169.4,180.7 171,180.1 172.7,179.7 174.3,179.1 175.9,178.3 177.5,177.5 179.1,176.8 180.8,175.8 182.4,174.7 184,173.5 185.6,172.2 187.2,170.9 188.8,170 190.5,169.6 192.1,169.3 193.7,168.8 195.3,167.8 196.9,166.8 198.6,165.5 200.2,164.3 201.8,163.6 203.4,163.2 205,162.9 206.7,162.7 208.3,162.7 209.9,162.7 211.5,162.4 213.1,161.8 214.7,161.2 216.4,160.9 218,160.3 219.6,159.6 221.2,159.2 222.8,158.4 224.5,157.6 226.1,157.4 227.7,156.9 229.3,156.1 230.9,154.7 232.6,153.4 234.2,152.2 235.8,151.3 237.4,149.9 239,148.4 240.6,146.9 242.3,145.8 243.9,144.8 245.5,143.8 247.1,142.7 248.7,141.5 250.4,139.9 252,138.2 253.6,136.6 255.2,135.2 256.8,134.4 258.5,133.8 260.1,133.1 261.7,132.7 263.3,132.4 264.9,131.9 266.6,131.5 268.2,131.3 269.8,131 271.4,130.3 273,129.2 274.6,128.1 276.3,127 277.9,126.4 279.5,125.8 281.1,125.5 282.7,125.1 284.4,124.5 286,123.6 287.6,122.5 289.2,121.3 290.8,120.7 292.5,120.3 294.1,119.6 295.7,118.7 297.3,117.8 298.9,116.7 300.5,115.4 302.2,114.2 303.8,112.9 305.4,112 307,111.1"/>
<polyline stroke="#e377c2" stroke-width="1.25" points="64.2,272.9 65.8,271.7 67.4,270.3 69.1,268.8 70.7,267.4 72.3,266.1 73.9,264.7 75.5,263.2 77.2,261.7 78.8,260.2 80.4,258.8 82,257.4 83.6,256 85.2,254.4 86.9,252.9 88.5,251.5 90.1,250.1 91.7,248.8 93.3,247.4 95,246.1 96.6,244.6 98.2,243.1 99.8,241.6 101.4,240.1 103.1,238.6 104.7,237 106.3,235.5 107.9,234 109.5,232.6 111.1,231.2 112.8,229.8 114.4,228.2 116,226.6 117.6,225.2 119.2,223.7 120.9,222.3 122.5,220.9 124.1,219.4 125.7,217.9 127.3,216.4 129,214.9 130.6,213.5 132.2,212.1 133.8,210.6 135.4,209.1 137,207.7 138.7,206.1 140.3,204.5 141.9,202.9 143.5,201.3 145.1,199.7 146.8,198.2 148.4,196.6 150,195.1 151.6,193.6 153.2,192.4 154.9,191.2 156.5,190.1 158.1,188.9 159.7,187.8 161.3,186.9 162.9,186.3 164.6,185.7 166.2,185 167.8,184.5 169.4,184.1 171,183.7 172.7,183.3 174.3,182.8 175.9,182.1 177.5,181.2 179.1,180.3 180.8,179.9 182.4,179.6 184,179.5 185.6,179.1 187.2,178.4 188.8,177.3 190.5,175.7 192.1,174.5 193.7,173.7 195.3,172.9 196.9,172.3 198.6,171.9 200.2,171.5 201.8,171.1 203.4,170.7 205,170 206.7,168.9 208.3,167.9 209.9,167.4 211.5,166.9 213.1,166.1 214.7,165.4 216.4,164.7 218,163.9 219.6,163.3 221.2,163 222.8,162.8 224.5,162.7 226.1,162.2 227.7,160.9 229.3,160.1 230.9,159.3 232.6,158.8 234.2,158.3 235.8,157.7 237.4,156.4 239,154.6 240.6,152.8 242.3,151.4 243.9,150 245.5,148.5 247.1,147 248.7,146.1 250.4,145.8 252,145.3 253.6,144.3 255.2,143.5 256.8,142.8 258.5,142.1 260.1,140.9 261.7,139.9 263.3,138.9 264.9,138.1 266.6,137.1 268.2,136.3 269.8,135.5 271.4,134.9 273,134.2 274.6,133.6 276.3,133.1 277.9,132.5 279.5,131.6 281.1,130.9 282.7,130.3 284.4,129.8 286,129.1 287.6,128.4 289.2,127.6 290.8,126.6 292.5,125.3 294.1,123.6 295.7,122 297.3,120.7 298.9,120.2 300.5,119.8 302.2,119.5 303.8,119 305.4,118.3 307,117.5"/>
<polyline stroke="#7f7f7f" stroke-width="1.25" points="64.2,272.9 65.8,271.9 67.4,270.8 69.1,269.4 70.7,267.9 72.3,266.4 73.9,264.8 75.5,263.4 77.2,261.9 78.8,260.4 80.4,258.9 82,257.4 83.6,255.8 85.2,254.3 86.9,252.7 88.5,251.2 90.1,249.6 91.7,248.2 93.3,246.7 95,245.3 96.6,243.9 98.2,242.5 99.8,241.2 101.4,239.8 103.1,238.4 104.7,237 106.3,235.5 107.9,234 109.5,232.5 111.1,231.1 112.8,229.7 114.4,228.2 116,226.5 117.6,224.8 119.2,223.3 120.9,221.9 122.5,220.5 124.1,219.1 125.7,217.7 127.3,216.2 129,214.7 130.6,213.3 132.2,211.9 133.8,210.5 135.4,209 137,207.6 138.7,206.2 140.3,204.8 141.9,203.3 143.5,201.8 145.1,200.4 146.8,198.9 148.4,197.4 150,195.8 151.6,194 153.2,192.3 154.9,190.6 156.5,189.2 158.1,188.1 159.7,187 161.3,185.7 162.9,184.3 164.6,183.1 166.2,182.3 167.8,181.7 169.4,181 171,180.5 172.7,179.9 174.3,179.1 175.9,178.4 177.5,177.7 179.1,176.5 180.8,175.5 182.4,174.5 184,173.5 185.6,172.1 187.2,170.8 188.8,169.7 190.5,168.9 192.1,168.4 193.7,167.5 195.3,166.6 196.9,165.6 198.6,164.5 200.2,163.3 201.8,162.1 203.4,160.8 205,159.2 206.7,157.4 208.3,155.7 209.9,154.2 211.5,153 213.1,151.9 214.7,150.5 216.4,149.1 218,147.8 219.6,147 221.2,146.5 222.8,145.9 224.5,145.1 226.1,144.1 227.7,143 229.3,141.6 230.9,140.2 232.6,138.9 234.2,137.6 235.8,136.2 237.4,134.8 239,133.7 240.6,132.5 242.3,131.4 243.9,130.3 245.5,129.5 247.1,128.7 248.7,127.8 250.4,127.3 252,126.7 253.6,126.1 255.2,125.3 256.8,124.7 258.5,123.8 260.1,123.1 261.7,122.1 263.3,121.2 264.9,120.2 266.6,118.9 268.2,117.5 269.8,116.1 271.4,114.7 273,113.4 274.6,112.4 276.3,111.6 277.9,110.6 279.5,110 281.1,109.3 282.7,108.6 284.4,108 286,107.5 287.6,106.6 289.2,105.7 290.8,105 292.5,104.1 294.1,102.9 295.7,101.6 297.3,100.7 298.9,99.7 300.5,98.6 302.2,97.5 303.8,96.7 305.4,96.1 307,94.7"/>
<polyline stroke="#bcbd22" stroke-width="1.25" points="64.2,272.9 65.8,271.6 67.4,270.1 69.1,268.4 70.7,266.8 72.3,265.3 73.9,263.9 75.5,262.4 77.2,261.1 78.8,259.7 80.4,258.2 82,256.5 83.6,254.9 85.2,253.3 86.9,251.8 88.5,250.3 90.1,248.8 91.7,247.3 93.3,245.8 95,244.2 96.6,242.8 98.2,241.3 99.8,240 101.4,238.6 103.1,237.2 104.7,235.7 106.3,234.2 107.9,232.7 109.5,231.2 111.1,229.6 112.8,228.2 114.4,226.8 116,225.3 117.6,223.9 119.2,222.4 120.9,220.8 122.5,219.3 124.1,217.8 125.7,216.2 127.3,214.6 129,213.2 130.6,211.8 132.2,210.3 133.8,208.8 135.4,207.2 137,205.7 138.7,204.1 140.3,202.7 141.9,201.2 143.5,199.7 145.1,198.2 146.8,196.6 148.4,195.2 150,193.8 151.6,192.4 153.2,191.2 154.9,189.9 156.5,188.6 158.1,187.3 159.7,186.2 161.3,185.2 162.9,184.3 164.6,183.5 166.2,182.3 167.8,181 169.4,179.7 171,178.4 172.7,177.1 174.3,176 175.9,174.7 177.5,173.6 179.1,172.4 180.8,171.3 182.4,170.5 184,169.8 185.6,169 187.2,168.1 188.8,167.2 190.5,166.2 192.1,165.3 193.7,164.4 195.3,163.6 196.9,162.5 198.6,161.5 200.2,160.4 201.8,159.7 203.4,158.5 205,156.8 206.7,155.5 208.3,154.8 209.9,154.3 211.5,153.6 213.1,152.7 214.7,152.2 216.4,151.8 218,151.5 219.6,150.7 221.2,150 222.8,149 224.5,148.1 226.1,147.2 227.7,145.6 229.3,144.1 230.9,142.5 232.6,140.8 234.2,139.1 235.8,137.5 237.4,135.8 239,134.4 240.6,132.9 242.3,131.3 243.9,129.8 245.5,128.4 247.1,127.2 248.7,126.1 250.4,124.7 252,123.1 253.6,121.5 255.2,119.8 256.8,118.3 258.5,117 260.1,116 261.7,115.1 263.3,114.5 264.9,113.9 266.6,112.8 268.2,111.4 269.8,109.9 271.4,108.6 273,107.2 274.6,105.5 276.3,103.9 277.9,102.5 279.5,101.4 281.1,100.2 282.7,99.1 284.4,97.6 286,96 287.6,94.3 289.2,92.9 290.8,91.8 292.5,90.6 294.1,89.3 295.7,87.8 297.3,86.7 298.9,85.9 300.5,85.2 302.2,84.2 303.8,83 305.4,81.6 307,79.8"/>
<polyline stroke="#17becf" stroke-width="1.25" points="64.2,272.9 65.8,271.9 67.4,270.7 69.1,269.4 70.7,268 72.3,266.4 73.9,264.8 75.5,263.2 77.2,261.8 78.8,260.4 80.4,259 82,257.6 83.6,256.1 85.2,254.7 86.9,253.4 88.5,252 90.1,250.6 91.7,249.1 93.3,247.6 95,246.1 96.6,244.7 98.2,243.4 99.8,241.9 101.4,240.5 103.1,239.2 104.7,238 106.3,236.6 107.9,235.2 109.5,233.8 111.1,232.4 112.8,230.9 114.4,229.5 116,227.9 117.6,226.3 119.2,224.6 120.9,222.8 122.5,221.1 124.1,219.5 125.7,218.1 127.3,216.8 129,215.3 130.6,213.8 132.2,212.1 133.8,210.4 135.4,208.8 137,207.1 138.7,205.3 140.3,203.6 141.9,201.9 143.5,200.4 145.1,198.9 146.8,197.5 148.4,196 150,194.6 151.6,193.1 153.2,191.5 154.9,190.1 156.5,188.8 158.1,187.7 159.7,186.5 161.3,185.5 162.9,184.5 164.6,183.7 166.2,183 167.8,182.4 169.4,181.8 171,181.1 172.7,180.3 174.3,179.6 175.9,178.8 177.5,177.7 179.1,176.6 180.8,175.4 182.4,174 184,172.5 185.6,171.2 187.2,169.8 188.8,168.8 190.5,167.6 192.1,166.5 193.7,165.4 195.3,164.8 196.9,164.4 198.6,163.5 200.2,162.1 201.8,160.8 203.4,159.9 205,159 206.7,158 208.3,156.6 209.9,155.2 211.5,154.3 213.1,153.6 214.7,152.9 216.4,152.2 218,151.6 219.6,150.8 221.2,149.8 222.8,148.5 224.5,147.2 226.1,145.8 227.7,144 229.3,142.2 230.9,140.3 232.6,138.5 234.2,136.6 235.8,134.8 237.4,133.2 239,131.5 240.6,130.2 242.3,129.1 243.9,128.2 245.5,127 247.1,125.7 248.7,124 250.4,122.4 252,120.8 253.6,119.2 255.2,117.7 256.8,116.2 258.5,115.1 260.1,113.7 261.7,111.9 263.3,110.1 264.9,108.8 266.6,107.7 268.2,106.6 269.8,106 271.4,105.1 273,104.2 274.6,103.1 276.3,102 277.9,100.9 279.5,99.8 281.1,99.2 282.7,98.7 284.4,98 286,97.3 287.6,96.5 289.2,95.6 290.8,94.2 292.5,92.7 294.1,91.1 295.7,89.6 297.3,88.3 298.9,87.2 300.5,86.2 302.2,85.1 303.8,83.9 305.4,82.4 307,80.5"/>
<polyline stroke="#000" stroke-width="1.9" points="64.2,272.9 65.8,271.9 67.4,270.6 69.1,269.3 70.7,267.8 72.3,266.4 73.9,264.9 75.5,263.4 77.2,261.9 78.8,260.4 80.4,258.9 82,257.5 83.6,256 85.2,254.5 86.9,253 88.5,251.5 90.1,250 91.7,248.5 93.3,247.1 95,245.6 96.6,244.1 98.2,242.6 99.8,241.1 101.4,239.7 103.1,238.2 104.7,236.7 106.3,235.2 107.9,233.7 109.5,232.2 111.1,230.7 112.8,229.2 114.4,227.7 116,226.2 117.6,224.7 119.2,223.2 120.9,221.7 122.5,220.2 124.1,218.8 125.7,217.3 127.3,215.8 129,214.3 130.6,212.8 132.2,211.4 133.8,209.9 135.4,208.4 137,206.9 138.7,205.5 140.3,204 141.9,202.5 143.5,201 145.1,199.5 146.8,198 148.4,196.5 150,195.1 151.6,193.7 153.2,192.3 154.9,190.9 156.5,189.7 158.1,188.5 159.7,187.3 161.3,186.2 162.9,185.3 164.6,184.4 166.2,183.5 167.8,182.7 169.4,181.8 171,180.9 172.7,180 174.3,178.9 175.9,177.9 177.5,176.9 179.1,175.8 180.8,174.8 182.4,173.7 184,172.6 185.6,171.5 187.2,170.5 188.8,169.4 190.5,168.3 192.1,167.3 193.7,166.3 195.3,165.3 196.9,164.3 198.6,163.3 200.2,162.4 201.8,161.4 203.4,160.4 205,159.4 206.7,158.4 208.3,157.4 209.9,156.5 211.5,155.6 213.1,154.7 214.7,153.8 216.4,152.9 218,152 219.6,151.1 221.2,150.1 222.8,149.2 224.5,148.3 226.1,147.3 227.7,145.9 229.3,144.6 230.9,143.3 232.6,142 234.2,140.7 235.8,139.3 237.4,137.9 239,136.5 240.6,135.1 242.3,133.7 243.9,132.4 245.5,131.1 247.1,129.8 248.7,128.6 250.4,127.4 252,126.2 253.6,125 255.2,123.9 256.8,122.8 258.5,121.6 260.1,120.4 261.7,119.2 263.3,118.1 264.9,117 266.6,115.9 268.2,114.7 269.8,113.6 271.4,112.6 273,111.5 274.6,110.5 276.3,109.4 277.9,108.3 279.5,107.3 281.1,106.2 282.7,105.3 284.4,104.3 286,103.2 287.6,102.1 289.2,100.9 290.8,99.8 292.5,98.8 294.1,97.7 295.7,96.6 297.3,95.6 298.9,94.7 300.5,93.7 302.2,92.7 303.8,91.6 305.4,90.4 307,89.3"/>
<line x1="64.2" y1="272.9" x2="307.6" y2="272.9" stroke="#000" stroke-width="1.6"/>
</g>
<line x1="144.7" y1="60.6" x2="144.7" y2="272.9" stroke="#1a1a1a" stroke-width="1.4" stroke-dasharray="4.1 3.85"/>
<line x1="225.6" y1="60.6" x2="225.6" y2="272.9" stroke="#1a1a1a" stroke-width="1.4" stroke-dasharray="4.1 3.85"/>
<rect x="118.2" y="173.2" width="54" height="53.2" fill="none" stroke="#c4c4c4" stroke-width="1"/>
<line x1="78.4" y1="131.8" x2="118.2" y2="226.4" stroke="#c4c4c4" stroke-width="1"/>
<line x1="140.1" y1="63.4" x2="172.1" y2="173.2" stroke="#c4c4c4" stroke-width="1"/>
<rect x="78.4" y="63.4" width="61.7" height="68.4" fill="#fff"/>
<g fill="none" stroke-linejoin="round" clip-path="url(#cia)">
<polyline stroke="#1f77b4" stroke-width="1.25" points="75.3,127.3 75.9,126.6 76.5,125.9 77.2,125.2 77.8,124.6 78.4,123.9 79,123.3 79.6,122.7 80.3,122 80.9,121.3 81.5,120.7 82.1,120 82.7,119.2 83.3,118.5 84,117.8 84.6,117.2 85.2,116.5 85.8,115.9 86.4,115.2 87,114.6 87.7,114 88.3,113.4 88.9,112.7 89.5,112.1 90.1,111.4 90.7,110.7 91.4,110 92,109.3 92.6,108.6 93.2,107.9 93.8,107.2 94.4,106.5 95.1,105.8 95.7,105.1 96.3,104.3 96.9,103.6 97.5,102.9 98.1,102.1 98.8,101.3 99.4,100.6 100,99.8 100.6,99 101.2,98.3 101.8,97.6 102.5,96.9 103.1,96.2 103.7,95.5 104.3,94.9 104.9,94.2 105.5,93.6 106.2,92.9 106.8,92.2 107.4,91.5 108,90.8 108.6,90 109.2,89.3 109.9,88.6 110.5,87.9 111.1,87.2 111.7,86.6 112.3,85.9 113,85.3 113.6,84.7 114.2,84.2 114.8,83.6 115.4,83 116,82.5 116.7,82 117.3,81.5 117.9,81 118.5,80.5 119.1,80.1 119.7,79.6 120.4,79.1 121,78.6 121.6,78.1 122.2,77.5 122.8,77 123.4,76.5 124.1,76 124.7,75.5 125.3,75.1 125.9,74.8 126.5,74.4 127.1,74.1 127.8,73.8 128.4,73.5 129,73.2 129.6,72.9 130.2,72.6 130.8,72.3 131.5,72 132.1,71.6 132.7,71.3 133.3,71 133.9,70.7 134.5,70.4 135.2,70.1 135.8,69.7 136.4,69.5 137,69.2 137.6,68.9 138.2,68.4 138.9,68 139.5,67.6 140.1,67.1 140.7,66.7 141.3,66.1 142,65.6 142.6,65.1 143.2,64.6"/>
<polyline stroke="#ff7f0e" stroke-width="1.25" points="75.3,134.5 75.9,133.9 76.5,133.3 77.2,132.7 77.8,132.1 78.4,131.5 79,130.9 79.6,130.2 80.3,129.6 80.9,128.9 81.5,128.3 82.1,127.6 82.7,126.9 83.3,126.2 84,125.5 84.6,124.9 85.2,124.2 85.8,123.5 86.4,122.8 87,122.1 87.7,121.4 88.3,120.8 88.9,120 89.5,119.3 90.1,118.6 90.7,118 91.4,117.3 92,116.7 92.6,116 93.2,115.3 93.8,114.6 94.4,114 95.1,113.3 95.7,112.7 96.3,112.1 96.9,111.4 97.5,110.8 98.1,110.2 98.8,109.6 99.4,108.9 100,108.2 100.6,107.5 101.2,106.8 101.8,106.1 102.5,105.4 103.1,104.8 103.7,104.1 104.3,103.5 104.9,102.8 105.5,102.2 106.2,101.6 106.8,101 107.4,100.4 108,99.8 108.6,99.2 109.2,98.6 109.9,97.9 110.5,97.3 111.1,96.7 111.7,96.1 112.3,95.5 113,94.9 113.6,94.4 114.2,93.8 114.8,93.2 115.4,92.6 116,92.1 116.7,91.5 117.3,90.9 117.9,90.3 118.5,89.7 119.1,89.1 119.7,88.5 120.4,87.8 121,87.2 121.6,86.6 122.2,86 122.8,85.4 123.4,84.8 124.1,84.3 124.7,83.7 125.3,83.2 125.9,82.7 126.5,82.2 127.1,81.7 127.8,81.2 128.4,80.7 129,80.2 129.6,79.7 130.2,79.2 130.8,78.8 131.5,78.3 132.1,77.9 132.7,77.4 133.3,77 133.9,76.7 134.5,76.3 135.2,75.8 135.8,75.3 136.4,75 137,74.8 137.6,74.5 138.2,74.1 138.9,73.7 139.5,73.3 140.1,72.9 140.7,72.4 141.3,71.9 142,71.4 142.6,70.9 143.2,70.5"/>
<polyline stroke="#2ca02c" stroke-width="1.25" points="75.3,132.1 75.9,131.5 76.5,130.9 77.2,130.3 77.8,129.6 78.4,128.9 79,128.3 79.6,127.7 80.3,127.1 80.9,126.5 81.5,125.8 82.1,125.2 82.7,124.6 83.3,123.9 84,123.3 84.6,122.6 85.2,121.9 85.8,121.3 86.4,120.6 87,119.9 87.7,119.2 88.3,118.5 88.9,117.8 89.5,117.1 90.1,116.5 90.7,115.7 91.4,115 92,114.3 92.6,113.6 93.2,112.9 93.8,112.2 94.4,111.5 95.1,110.9 95.7,110.2 96.3,109.6 96.9,109 97.5,108.4 98.1,107.8 98.8,107.1 99.4,106.5 100,105.8 100.6,105.2 101.2,104.5 101.8,103.9 102.5,103.2 103.1,102.6 103.7,101.9 104.3,101.3 104.9,100.6 105.5,100 106.2,99.3 106.8,98.7 107.4,98.1 108,97.4 108.6,96.8 109.2,96.1 109.9,95.4 110.5,94.8 111.1,94.1 111.7,93.5 112.3,92.8 113,92.2 113.6,91.5 114.2,90.8 114.8,90.1 115.4,89.5 116,88.8 116.7,88.2 117.3,87.6 117.9,87 118.5,86.4 119.1,85.9 119.7,85.4 120.4,84.9 121,84.5 121.6,84 122.2,83.5 122.8,82.9 123.4,82.4 124.1,81.9 124.7,81.3 125.3,80.6 125.9,80 126.5,79.4 127.1,78.8 127.8,78.2 128.4,77.7 129,77.1 129.6,76.6 130.2,76.2 130.8,75.8 131.5,75.4 132.1,75.1 132.7,74.8 133.3,74.5 133.9,74.1 134.5,73.8 135.2,73.5 135.8,73.2 136.4,73 137,72.7 137.6,72.5 138.2,72.2 138.9,71.9 139.5,71.6 140.1,71.3 140.7,71.1 141.3,70.8 142,70.5 142.6,70.2 143.2,69.8"/>
<polyline stroke="#d62728" stroke-width="1.25" points="75.3,132.5 75.9,132 76.5,131.4 77.2,130.8 77.8,130.2 78.4,129.6 79,128.9 79.6,128.3 80.3,127.6 80.9,126.9 81.5,126.3 82.1,125.6 82.7,125 83.3,124.3 84,123.7 84.6,123.1 85.2,122.5 85.8,121.9 86.4,121.3 87,120.6 87.7,120 88.3,119.3 88.9,118.7 89.5,118 90.1,117.4 90.7,116.8 91.4,116.1 92,115.5 92.6,114.8 93.2,114.2 93.8,113.6 94.4,113 95.1,112.3 95.7,111.7 96.3,111.1 96.9,110.5 97.5,109.9 98.1,109.3 98.8,108.7 99.4,108.2 100,107.6 100.6,107 101.2,106.5 101.8,105.9 102.5,105.4 103.1,104.8 103.7,104.2 104.3,103.6 104.9,103.1 105.5,102.5 106.2,101.9 106.8,101.2 107.4,100.6 108,100 108.6,99.5 109.2,98.9 109.9,98.3 110.5,97.6 111.1,97 111.7,96.4 112.3,95.8 113,95.2 113.6,94.6 114.2,94 114.8,93.4 115.4,92.9 116,92.4 116.7,91.9 117.3,91.3 117.9,90.8 118.5,90.4 119.1,89.9 119.7,89.3 120.4,88.8 121,88.2 121.6,87.6 122.2,87.1 122.8,86.5 123.4,86 124.1,85.4 124.7,84.9 125.3,84.3 125.9,83.8 126.5,83.3 127.1,82.9 127.8,82.4 128.4,81.9 129,81.5 129.6,81.1 130.2,80.7 130.8,80.2 131.5,79.8 132.1,79.4 132.7,79.1 133.3,78.8 133.9,78.5 134.5,78.2 135.2,77.9 135.8,77.6 136.4,77.1 137,76.7 137.6,76.2 138.2,75.7 138.9,75.3 139.5,74.8 140.1,74.4 140.7,74.1 141.3,73.8 142,73.6 142.6,73.3 143.2,73.1"/>
<polyline stroke="#9467bd" stroke-width="1.25" points="75.3,158.3 75.9,157.9 76.5,157.5 77.2,157.1 77.8,156.8 78.4,156.4 79,156 79.6,155.6 80.3,155.3 80.9,155 81.5,154.6 82.1,154.3 82.7,154 83.3,153.6 84,153.2 84.6,152.8 85.2,152.4 85.8,152 86.4,151.5 87,151.1 87.7,150.6 88.3,150.2 88.9,149.8 89.5,149.3 90.1,148.9 90.7,148.5 91.4,148.1 92,147.7 92.6,147.4 93.2,147.1 93.8,146.8 94.4,146.5 95.1,146.2 95.7,146 96.3,145.7 96.9,145.3 97.5,145 98.1,144.6 98.8,144.2 99.4,143.8 100,143.4 100.6,142.9 101.2,142.6 101.8,142.2 102.5,141.9 103.1,141.5 103.7,141.2 104.3,140.8 104.9,140.5 105.5,140.1 106.2,139.7 106.8,139.3 107.4,138.9 108,138.5 108.6,138.1 109.2,137.6 109.9,137.2 110.5,136.8 111.1,136.4 111.7,136 112.3,135.6 113,135.2 113.6,134.8 114.2,134.5 114.8,134.1 115.4,133.7 116,133.3 116.7,132.9 117.3,132.4 117.9,132 118.5,131.5 119.1,131.1 119.7,130.7 120.4,130.2 121,129.8 121.6,129.4 122.2,129 122.8,128.7 123.4,128.3 124.1,128 124.7,127.6 125.3,127.3 125.9,126.9 126.5,126.6 127.1,126.3 127.8,126 128.4,125.7 129,125.4 129.6,125.1 130.2,124.8 130.8,124.5 131.5,124.1 132.1,123.7 132.7,123.4 133.3,123 133.9,122.7 134.5,122.4 135.2,122 135.8,121.7 136.4,121.3 137,121 137.6,120.6 138.2,120.2 138.9,119.8 139.5,119.4 140.1,119.1 140.7,118.7 141.3,118.3 142,117.9 142.6,117.5 143.2,117.1"/>
<polyline stroke="#8c564b" stroke-width="1.25" points="75.3,131.4 75.9,130.8 76.5,130.2 77.2,129.6 77.8,129 78.4,128.4 79,127.8 79.6,127.2 80.3,126.5 80.9,125.8 81.5,125.2 82.1,124.5 82.7,123.8 83.3,123.1 84,122.4 84.6,121.7 85.2,121.1 85.8,120.4 86.4,119.8 87,119.2 87.7,118.6 88.3,118 88.9,117.4 89.5,116.8 90.1,116.2 90.7,115.5 91.4,114.9 92,114.3 92.6,113.6 93.2,113.1 93.8,112.5 94.4,111.9 95.1,111.4 95.7,110.8 96.3,110.3 96.9,109.7 97.5,109.2 98.1,108.6 98.8,108 99.4,107.5 100,106.9 100.6,106.3 101.2,105.7 101.8,105.2 102.5,104.6 103.1,104 103.7,103.5 104.3,102.9 104.9,102.3 105.5,101.8 106.2,101.2 106.8,100.6 107.4,100 108,99.4 108.6,98.8 109.2,98.1 109.9,97.5 110.5,96.9 111.1,96.2 111.7,95.6 112.3,95 113,94.5 113.6,93.8 114.2,93.3 114.8,92.7 115.4,92.1 116,91.5 116.7,91 117.3,90.4 117.9,89.8 118.5,89.2 119.1,88.7 119.7,88.1 120.4,87.6 121,87 121.6,86.4 122.2,85.8 122.8,85.3 123.4,84.7 124.1,84 124.7,83.4 125.3,82.9 125.9,82.4 126.5,82 127.1,81.6 127.8,81.2 128.4,80.8 129,80.5 129.6,80.2 130.2,79.8 130.8,79.5 131.5,79.1 132.1,78.8 132.7,78.4 133.3,78.1 133.9,77.8 134.5,77.6 135.2,77.4 135.8,77.1 136.4,76.9 137,76.6 137.6,76.3 138.2,75.9 138.9,75.4 139.5,74.8 140.1,74.3 140.7,73.8 141.3,73.3 142,72.9 142.6,72.4 143.2,71.9"/>
<polyline stroke="#e377c2" stroke-width="1.25" points="75.3,133.3 75.9,132.7 76.5,132.2 77.2,131.6 77.8,131.1 78.4,130.5 79,129.9 79.6,129.3 80.3,128.7 80.9,128.1 81.5,127.5 82.1,126.9 82.7,126.2 83.3,125.6 84,125 84.6,124.4 85.2,123.8 85.8,123.2 86.4,122.5 87,121.9 87.7,121.3 88.3,120.6 88.9,120 89.5,119.3 90.1,118.7 90.7,118.1 91.4,117.5 92,116.9 92.6,116.3 93.2,115.7 93.8,115.1 94.4,114.5 95.1,113.9 95.7,113.3 96.3,112.6 96.9,112 97.5,111.3 98.1,110.7 98.8,110.1 99.4,109.4 100,108.7 100.6,108 101.2,107.4 101.8,106.7 102.5,106 103.1,105.4 103.7,104.7 104.3,104.1 104.9,103.5 105.5,102.8 106.2,102.2 106.8,101.6 107.4,101 108,100.4 108.6,99.8 109.2,99.2 109.9,98.5 110.5,97.9 111.1,97.2 111.7,96.6 112.3,96 113,95.4 113.6,94.8 114.2,94.2 114.8,93.6 115.4,93 116,92.4 116.7,91.8 117.3,91.2 117.9,90.5 118.5,89.8 119.1,89.2 119.7,88.6 120.4,87.9 121,87.3 121.6,86.8 122.2,86.3 122.8,85.8 123.4,85.4 124.1,85 124.7,84.6 125.3,84.3 125.9,84 126.5,83.7 127.1,83.3 127.8,83 128.4,82.7 129,82.4 129.6,82.1 130.2,81.8 130.8,81.5 131.5,81.2 132.1,80.9 132.7,80.6 133.3,80.2 133.9,79.8 134.5,79.3 135.2,78.9 135.8,78.5 136.4,78 137,77.5 137.6,77.1 138.2,76.7 138.9,76.2 139.5,75.6 140.1,75.1 140.7,74.5 141.3,73.9 142,73.3 142.6,72.6 143.2,72.1"/>
<polyline stroke="#7f7f7f" stroke-width="1.25" points="75.3,129.6 75.9,128.9 76.5,128.2 77.2,127.6 77.8,126.9 78.4,126.3 79,125.6 79.6,124.9 80.3,124.2 80.9,123.5 81.5,122.9 82.1,122.2 82.7,121.5 83.3,120.9 84,120.2 84.6,119.6 85.2,119 85.8,118.4 86.4,117.8 87,117.2 87.7,116.5 88.3,115.8 88.9,115.1 89.5,114.4 90.1,113.7 90.7,113.1 91.4,112.4 92,111.8 92.6,111.2 93.2,110.7 93.8,110.1 94.4,109.5 95.1,108.8 95.7,108.2 96.3,107.6 96.9,106.9 97.5,106.3 98.1,105.6 98.8,104.9 99.4,104.2 100,103.6 100.6,102.9 101.2,102.2 101.8,101.5 102.5,100.9 103.1,100.3 103.7,99.7 104.3,99.1 104.9,98.5 105.5,97.9 106.2,97.4 106.8,96.8 107.4,96.2 108,95.6 108.6,94.9 109.2,94.3 109.9,93.6 110.5,92.9 111.1,92.2 111.7,91.5 112.3,90.8 113,90.2 113.6,89.6 114.2,88.9 114.8,88.3 115.4,87.7 116,87.1 116.7,86.5 117.3,85.9 117.9,85.3 118.5,84.7 119.1,84.1 119.7,83.5 120.4,82.9 121,82.4 121.6,81.9 122.2,81.3 122.8,80.8 123.4,80.3 124.1,79.8 124.7,79.3 125.3,78.7 125.9,78.1 126.5,77.6 127.1,77 127.8,76.5 128.4,75.9 129,75.4 129.6,74.9 130.2,74.4 130.8,73.9 131.5,73.5 132.1,73.1 132.7,72.7 133.3,72.3 133.9,71.9 134.5,71.5 135.2,71 135.8,70.5 136.4,70 137,69.5 137.6,68.9 138.2,68.2 138.9,67.6 139.5,66.9 140.1,66.2 140.7,65.6 141.3,65 142,64.3 142.6,63.7 143.2,63.1"/>
<polyline stroke="#bcbd22" stroke-width="1.25" points="75.3,134.5 75.9,133.9 76.5,133.3 77.2,132.7 77.8,132 78.4,131.4 79,130.7 79.6,130.1 80.3,129.5 80.9,128.8 81.5,128.2 82.1,127.6 82.7,127 83.3,126.4 84,125.8 84.6,125.2 85.2,124.6 85.8,124 86.4,123.4 87,122.8 87.7,122.3 88.3,121.7 88.9,121.2 89.5,120.7 90.1,120.1 90.7,119.6 91.4,119 92,118.5 92.6,117.9 93.2,117.4 93.8,116.9 94.4,116.4 95.1,115.9 95.7,115.3 96.3,114.7 96.9,114.2 97.5,113.6 98.1,113 98.8,112.5 99.4,111.9 100,111.3 100.6,110.7 101.2,110.1 101.8,109.5 102.5,108.9 103.1,108.3 103.7,107.6 104.3,107 104.9,106.4 105.5,105.8 106.2,105.1 106.8,104.5 107.4,103.9 108,103.2 108.6,102.6 109.2,102 109.9,101.3 110.5,100.7 111.1,100.1 111.7,99.5 112.3,98.9 113,98.3 113.6,97.7 114.2,97.1 114.8,96.5 115.4,95.9 116,95.4 116.7,94.8 117.3,94.2 117.9,93.7 118.5,93.1 119.1,92.5 119.7,91.9 120.4,91.3 121,90.7 121.6,90.2 122.2,89.7 122.8,89.2 123.4,88.7 124.1,88.3 124.7,87.8 125.3,87.3 125.9,86.8 126.5,86.3 127.1,85.8 127.8,85.3 128.4,84.8 129,84.4 129.6,84 130.2,83.6 130.8,83.3 131.5,83 132.1,82.6 132.7,82.3 133.3,82 133.9,81.6 134.5,81.3 135.2,81 135.8,80.6 136.4,80.4 137,80.2 137.6,80 138.2,79.8 138.9,79.7 139.5,79.5 140.1,79.4 140.7,79.2 141.3,79.1 142,79 142.6,78.9 143.2,78.9"/>
<polyline stroke="#17becf" stroke-width="1.25" points="75.3,134 75.9,133.3 76.5,132.7 77.2,132.1 77.8,131.5 78.4,130.9 79,130.2 79.6,129.6 80.3,129 80.9,128.4 81.5,127.8 82.1,127.2 82.7,126.5 83.3,125.9 84,125.2 84.6,124.6 85.2,124 85.8,123.4 86.4,122.8 87,122.2 87.7,121.6 88.3,121 88.9,120.4 89.5,119.7 90.1,119.1 90.7,118.4 91.4,117.7 92,117 92.6,116.3 93.2,115.6 93.8,114.9 94.4,114.2 95.1,113.5 95.7,112.8 96.3,112.2 96.9,111.5 97.5,110.8 98.1,110.1 98.8,109.4 99.4,108.7 100,108.1 100.6,107.5 101.2,106.9 101.8,106.3 102.5,105.7 103.1,105.1 103.7,104.5 104.3,104 104.9,103.4 105.5,102.8 106.2,102.2 106.8,101.6 107.4,101 108,100.4 108.6,99.8 109.2,99.2 109.9,98.5 110.5,97.9 111.1,97.3 111.7,96.6 112.3,96 113,95.4 113.6,94.9 114.2,94.3 114.8,93.8 115.4,93.2 116,92.6 116.7,92.1 117.3,91.6 117.9,91 118.5,90.5 119.1,90 119.7,89.5 120.4,89 121,88.5 121.6,88 122.2,87.4 122.8,86.9 123.4,86.3 124.1,85.8 124.7,85.3 125.3,84.9 125.9,84.5 126.5,84.1 127.1,83.7 127.8,83.3 128.4,82.9 129,82.5 129.6,82.1 130.2,81.6 130.8,81.2 131.5,80.7 132.1,80.3 132.7,79.9 133.3,79.5 133.9,79.2 134.5,78.9 135.2,78.6 135.8,78.4 136.4,78.1 137,77.7 137.6,77.4 138.2,77.1 138.9,76.7 139.5,76.3 140.1,75.9 140.7,75.3 141.3,74.8 142,74.3 142.6,73.8 143.2,73.2"/>
<polyline stroke="#1f77b4" stroke-width="1.25" points="75.3,130.1 75.9,129.4 76.5,128.8 77.2,128.1 77.8,127.4 78.4,126.7 79,126.1 79.6,125.4 80.3,124.7 80.9,124 81.5,123.3 82.1,122.6 82.7,121.9 83.3,121.2 84,120.5 84.6,119.8 85.2,119.1 85.8,118.5 86.4,117.8 87,117.2 87.7,116.5 88.3,115.9 88.9,115.3 89.5,114.6 90.1,113.9 90.7,113.3 91.4,112.6 92,111.9 92.6,111.2 93.2,110.5 93.8,109.8 94.4,109.1 95.1,108.5 95.7,107.8 96.3,107.1 96.9,106.5 97.5,105.8 98.1,105.2 98.8,104.5 99.4,103.9 100,103.2 100.6,102.5 101.2,101.9 101.8,101.2 102.5,100.6 103.1,99.9 103.7,99.3 104.3,98.7 104.9,98 105.5,97.4 106.2,96.7 106.8,96.1 107.4,95.5 108,94.8 108.6,94.2 109.2,93.5 109.9,92.9 110.5,92.2 111.1,91.5 111.7,90.9 112.3,90.2 113,89.6 113.6,88.9 114.2,88.3 114.8,87.7 115.4,87.2 116,86.7 116.7,86.1 117.3,85.6 117.9,85 118.5,84.5 119.1,83.9 119.7,83.3 120.4,82.6 121,82 121.6,81.5 122.2,80.9 122.8,80.3 123.4,79.8 124.1,79.3 124.7,78.9 125.3,78.5 125.9,78.1 126.5,77.6 127.1,77.2 127.8,76.8 128.4,76.3 129,75.9 129.6,75.4 130.2,75 130.8,74.5 131.5,74.2 132.1,73.9 132.7,73.6 133.3,73.3 133.9,73 134.5,72.7 135.2,72.4 135.8,72.1 136.4,71.6 137,71.2 137.6,70.8 138.2,70.5 138.9,70.1 139.5,69.7 140.1,69.3 140.7,69 141.3,68.6 142,68.2 142.6,67.8 143.2,67.4"/>
<polyline stroke="#ff7f0e" stroke-width="1.25" points="75.3,132.9 75.9,132.4 76.5,131.8 77.2,131.2 77.8,130.6 78.4,130 79,129.4 79.6,128.8 80.3,128.2 80.9,127.6 81.5,127 82.1,126.3 82.7,125.7 83.3,125.1 84,124.5 84.6,123.8 85.2,123.2 85.8,122.6 86.4,122 87,121.4 87.7,120.8 88.3,120.2 88.9,119.6 89.5,119 90.1,118.4 90.7,117.7 91.4,117.1 92,116.5 92.6,116 93.2,115.4 93.8,114.8 94.4,114.2 95.1,113.6 95.7,113 96.3,112.4 96.9,111.9 97.5,111.3 98.1,110.7 98.8,110.1 99.4,109.6 100,109 100.6,108.4 101.2,107.8 101.8,107.1 102.5,106.6 103.1,106 103.7,105.4 104.3,104.8 104.9,104.2 105.5,103.6 106.2,103 106.8,102.4 107.4,101.8 108,101.2 108.6,100.5 109.2,99.9 109.9,99.2 110.5,98.6 111.1,98 111.7,97.3 112.3,96.7 113,96.1 113.6,95.5 114.2,94.9 114.8,94.3 115.4,93.7 116,93 116.7,92.4 117.3,91.8 117.9,91.2 118.5,90.6 119.1,90 119.7,89.4 120.4,88.9 121,88.3 121.6,87.8 122.2,87.2 122.8,86.7 123.4,86.2 124.1,85.6 124.7,85.1 125.3,84.6 125.9,84.1 126.5,83.6 127.1,83.2 127.8,82.8 128.4,82.3 129,82 129.6,81.7 130.2,81.4 130.8,81.1 131.5,80.9 132.1,80.7 132.7,80.5 133.3,80.3 133.9,80.1 134.5,79.9 135.2,79.7 135.8,79.5 136.4,79.3 137,79.1 137.6,78.8 138.2,78.4 138.9,78 139.5,77.6 140.1,77.2 140.7,76.7 141.3,76.1 142,75.6 142.6,75 143.2,74.5"/>
<polyline stroke="#2ca02c" stroke-width="1.25" points="75.3,128.2 75.9,127.5 76.5,126.8 77.2,126.1 77.8,125.3 78.4,124.6 79,123.8 79.6,123.1 80.3,122.3 80.9,121.5 81.5,120.7 82.1,119.9 82.7,119.1 83.3,118.3 84,117.5 84.6,116.7 85.2,116 85.8,115.2 86.4,114.5 87,113.7 87.7,113 88.3,112.2 88.9,111.5 89.5,110.8 90.1,110 90.7,109.2 91.4,108.5 92,107.7 92.6,106.9 93.2,106.1 93.8,105.4 94.4,104.7 95.1,104 95.7,103.3 96.3,102.6 96.9,101.9 97.5,101.3 98.1,100.5 98.8,99.8 99.4,99.1 100,98.3 100.6,97.6 101.2,96.9 101.8,96.1 102.5,95.4 103.1,94.7 103.7,94 104.3,93.2 104.9,92.5 105.5,91.8 106.2,91.1 106.8,90.5 107.4,89.8 108,89.1 108.6,88.5 109.2,87.8 109.9,87.2 110.5,86.6 111.1,85.9 111.7,85.3 112.3,84.7 113,84.1 113.6,83.5 114.2,82.8 114.8,82.2 115.4,81.6 116,80.9 116.7,80.3 117.3,79.7 117.9,79.1 118.5,78.5 119.1,78 119.7,77.5 120.4,77 121,76.5 121.6,76 122.2,75.5 122.8,74.9 123.4,74.3 124.1,73.7 124.7,73.2 125.3,72.7 125.9,72.1 126.5,71.7 127.1,71.2 127.8,70.8 128.4,70.4 129,70.1 129.6,69.7 130.2,69.4 130.8,69.1 131.5,68.6 132.1,68.2 132.7,67.8 133.3,67.3 133.9,66.8 134.5,66.3 135.2,65.8 135.8,65.4 136.4,64.9 137,64.3 137.6,63.8 138.2,63.2 138.9,62.7 139.5,62.1 140.1,61.5 140.7,60.9 141.3,60.4 142,59.8 142.6,59.1 143.2,58.5"/>
<polyline stroke="#d62728" stroke-width="1.25" points="75.3,129.1 75.9,128.4 76.5,127.7 77.2,127.1 77.8,126.5 78.4,125.9 79,125.3 79.6,124.7 80.3,124.1 80.9,123.4 81.5,122.8 82.1,122.2 82.7,121.6 83.3,121 84,120.4 84.6,119.7 85.2,119.1 85.8,118.4 86.4,117.7 87,117.1 87.7,116.4 88.3,115.7 88.9,115 89.5,114.3 90.1,113.7 90.7,113 91.4,112.4 92,111.7 92.6,111.1 93.2,110.5 93.8,109.8 94.4,109.2 95.1,108.6 95.7,108 96.3,107.3 96.9,106.7 97.5,106 98.1,105.4 98.8,104.8 99.4,104.1 100,103.5 100.6,102.9 101.2,102.4 101.8,101.8 102.5,101.2 103.1,100.6 103.7,100 104.3,99.4 104.9,98.8 105.5,98.2 106.2,97.6 106.8,96.9 107.4,96.3 108,95.7 108.6,95.1 109.2,94.5 109.9,93.9 110.5,93.3 111.1,92.6 111.7,92 112.3,91.4 113,90.8 113.6,90.2 114.2,89.5 114.8,88.9 115.4,88.3 116,87.7 116.7,87.1 117.3,86.6 117.9,86 118.5,85.5 119.1,84.9 119.7,84.3 120.4,83.7 121,83.1 121.6,82.5 122.2,81.9 122.8,81.4 123.4,80.8 124.1,80.3 124.7,79.9 125.3,79.5 125.9,79.1 126.5,78.6 127.1,78.1 127.8,77.7 128.4,77.3 129,76.9 129.6,76.5 130.2,76.1 130.8,75.7 131.5,75.4 132.1,75.1 132.7,74.9 133.3,74.6 133.9,74.2 134.5,73.8 135.2,73.4 135.8,73 136.4,72.5 137,72 137.6,71.5 138.2,71 138.9,70.6 139.5,70.1 140.1,69.6 140.7,69.1 141.3,68.7 142,68.3 142.6,68 143.2,67.6"/>
<polyline stroke="#9467bd" stroke-width="1.25" points="75.3,131.7 75.9,131.1 76.5,130.5 77.2,129.8 77.8,129.2 78.4,128.5 79,127.9 79.6,127.2 80.3,126.6 80.9,126.1 81.5,125.5 82.1,124.9 82.7,124.2 83.3,123.6 84,123 84.6,122.4 85.2,121.7 85.8,121.1 86.4,120.5 87,119.9 87.7,119.4 88.3,118.8 88.9,118.2 89.5,117.7 90.1,117.1 90.7,116.5 91.4,115.9 92,115.3 92.6,114.7 93.2,114.1 93.8,113.4 94.4,112.9 95.1,112.3 95.7,111.7 96.3,111.1 96.9,110.6 97.5,110 98.1,109.4 98.8,108.8 99.4,108.2 100,107.6 100.6,106.9 101.2,106.2 101.8,105.6 102.5,104.9 103.1,104.3 103.7,103.6 104.3,102.9 104.9,102.3 105.5,101.6 106.2,100.9 106.8,100.2 107.4,99.4 108,98.7 108.6,98 109.2,97.3 109.9,96.6 110.5,95.9 111.1,95.3 111.7,94.6 112.3,94 113,93.4 113.6,92.7 114.2,92.1 114.8,91.5 115.4,90.9 116,90.2 116.7,89.6 117.3,88.9 117.9,88.3 118.5,87.7 119.1,87.1 119.7,86.5 120.4,86 121,85.5 121.6,85 122.2,84.5 122.8,84 123.4,83.5 124.1,83 124.7,82.5 125.3,82 125.9,81.6 126.5,81.1 127.1,80.7 127.8,80.3 128.4,79.9 129,79.6 129.6,79.2 130.2,78.8 130.8,78.4 131.5,78 132.1,77.6 132.7,77.3 133.3,76.9 133.9,76.6 134.5,76.3 135.2,75.9 135.8,75.6 136.4,75.3 137,74.9 137.6,74.6 138.2,74.2 138.9,73.7 139.5,73.3 140.1,72.8 140.7,72.4 141.3,71.9 142,71.5 142.6,71 143.2,70.6"/>
<polyline stroke="#8c564b" stroke-width="1.25" points="75.3,129.7 75.9,129.1 76.5,128.5 77.2,127.9 77.8,127.2 78.4,126.6 79,125.9 79.6,125.3 80.3,124.6 80.9,123.9 81.5,123.3 82.1,122.7 82.7,122 83.3,121.4 84,120.8 84.6,120.1 85.2,119.5 85.8,118.8 86.4,118.2 87,117.6 87.7,117 88.3,116.4 88.9,115.8 89.5,115.2 90.1,114.5 90.7,113.8 91.4,113.2 92,112.5 92.6,111.8 93.2,111.1 93.8,110.3 94.4,109.7 95.1,109 95.7,108.4 96.3,107.8 96.9,107.1 97.5,106.5 98.1,105.9 98.8,105.2 99.4,104.5 100,103.8 100.6,103.1 101.2,102.4 101.8,101.7 102.5,101 103.1,100.3 103.7,99.6 104.3,98.9 104.9,98.2 105.5,97.5 106.2,96.9 106.8,96.2 107.4,95.6 108,95 108.6,94.4 109.2,93.7 109.9,93.1 110.5,92.5 111.1,92 111.7,91.4 112.3,90.9 113,90.3 113.6,89.8 114.2,89.3 114.8,88.8 115.4,88.2 116,87.7 116.7,87.1 117.3,86.6 117.9,86 118.5,85.4 119.1,84.8 119.7,84.2 120.4,83.6 121,83 121.6,82.4 122.2,81.8 122.8,81.3 123.4,80.7 124.1,80.1 124.7,79.6 125.3,79 125.9,78.5 126.5,77.9 127.1,77.4 127.8,76.9 128.4,76.4 129,76 129.6,75.6 130.2,75.2 130.8,74.9 131.5,74.7 132.1,74.4 132.7,74.2 133.3,74 133.9,73.8 134.5,73.6 135.2,73.4 135.8,73.2 136.4,73 137,72.8 137.6,72.5 138.2,72.1 138.9,71.7 139.5,71.4 140.1,71.1 140.7,70.8 141.3,70.4 142,70 142.6,69.7 143.2,69.3"/>
<polyline stroke="#e377c2" stroke-width="1.25" points="75.3,134.4 75.9,133.7 76.5,133.1 77.2,132.4 77.8,131.8 78.4,131.2 79,130.5 79.6,129.9 80.3,129.2 80.9,128.6 81.5,128 82.1,127.4 82.7,126.7 83.3,126 84,125.3 84.6,124.6 85.2,123.8 85.8,123.1 86.4,122.4 87,121.6 87.7,121 88.3,120.3 88.9,119.7 89.5,119.1 90.1,118.4 90.7,117.9 91.4,117.3 92,116.7 92.6,116.1 93.2,115.5 93.8,114.9 94.4,114.3 95.1,113.7 95.7,113 96.3,112.4 96.9,111.8 97.5,111.2 98.1,110.5 98.8,109.9 99.4,109.2 100,108.6 100.6,107.9 101.2,107.3 101.8,106.6 102.5,106 103.1,105.4 103.7,104.7 104.3,104.1 104.9,103.5 105.5,102.9 106.2,102.3 106.8,101.6 107.4,101 108,100.3 108.6,99.7 109.2,99 109.9,98.3 110.5,97.6 111.1,96.9 111.7,96.3 112.3,95.6 113,95 113.6,94.4 114.2,93.8 114.8,93.2 115.4,92.7 116,92.1 116.7,91.4 117.3,90.8 117.9,90.2 118.5,89.6 119.1,89 119.7,88.4 120.4,87.8 121,87.2 121.6,86.6 122.2,86.1 122.8,85.6 123.4,85.1 124.1,84.6 124.7,84.2 125.3,83.7 125.9,83.3 126.5,82.9 127.1,82.5 127.8,82.1 128.4,81.8 129,81.4 129.6,81 130.2,80.6 130.8,80.3 131.5,80 132.1,79.7 132.7,79.4 133.3,79.1 133.9,78.8 134.5,78.6 135.2,78.3 135.8,78 136.4,77.7 137,77.3 137.6,77 138.2,76.6 138.9,76.1 139.5,75.4 140.1,74.8 140.7,74.2 141.3,73.5 142,72.9 142.6,72.3 143.2,71.7"/>
<polyline stroke="#7f7f7f" stroke-width="1.25" points="75.3,131.9 75.9,131.2 76.5,130.6 77.2,129.9 77.8,129.3 78.4,128.7 79,128 79.6,127.4 80.3,126.8 80.9,126.2 81.5,125.7 82.1,125.1 82.7,124.5 83.3,123.9 84,123.4 84.6,122.8 85.2,122.2 85.8,121.6 86.4,120.9 87,120.3 87.7,119.6 88.3,118.9 88.9,118.3 89.5,117.6 90.1,117 90.7,116.3 91.4,115.7 92,115.2 92.6,114.5 93.2,113.9 93.8,113.3 94.4,112.7 95.1,112 95.7,111.4 96.3,110.7 96.9,110.1 97.5,109.5 98.1,108.8 98.8,108.2 99.4,107.5 100,106.9 100.6,106.3 101.2,105.7 101.8,105 102.5,104.4 103.1,103.8 103.7,103.2 104.3,102.5 104.9,101.9 105.5,101.3 106.2,100.6 106.8,100 107.4,99.3 108,98.7 108.6,98.1 109.2,97.5 109.9,96.9 110.5,96.3 111.1,95.7 111.7,95.1 112.3,94.5 113,93.9 113.6,93.3 114.2,92.7 114.8,92.2 115.4,91.6 116,91 116.7,90.5 117.3,89.9 117.9,89.4 118.5,88.8 119.1,88.3 119.7,87.8 120.4,87.3 121,86.8 121.6,86.2 122.2,85.7 122.8,85.1 123.4,84.5 124.1,83.9 124.7,83.3 125.3,82.7 125.9,82.1 126.5,81.5 127.1,81 127.8,80.4 128.4,79.9 129,79.5 129.6,79.1 130.2,78.7 130.8,78.4 131.5,78.1 132.1,77.7 132.7,77.5 133.3,77.2 133.9,76.9 134.5,76.5 135.2,76.2 135.8,75.8 136.4,75.5 137,75.2 137.6,74.9 138.2,74.5 138.9,74.2 139.5,73.8 140.1,73.6 140.7,73.3 141.3,73 142,72.7 142.6,72.4 143.2,72.1"/>
<polyline stroke="#bcbd22" stroke-width="1.25" points="75.3,131.6 75.9,131 76.5,130.3 77.2,129.7 77.8,129.1 78.4,128.5 79,127.8 79.6,127.2 80.3,126.6 80.9,126 81.5,125.4 82.1,124.8 82.7,124.2 83.3,123.6 84,123.1 84.6,122.5 85.2,122 85.8,121.4 86.4,120.8 87,120.2 87.7,119.6 88.3,118.9 88.9,118.3 89.5,117.6 90.1,117 90.7,116.4 91.4,115.7 92,115 92.6,114.4 93.2,113.7 93.8,113 94.4,112.4 95.1,111.7 95.7,111.1 96.3,110.5 96.9,109.8 97.5,109.2 98.1,108.6 98.8,107.9 99.4,107.3 100,106.6 100.6,106 101.2,105.2 101.8,104.5 102.5,103.8 103.1,103.2 103.7,102.5 104.3,101.9 104.9,101.2 105.5,100.6 106.2,100 106.8,99.3 107.4,98.7 108,98 108.6,97.4 109.2,96.8 109.9,96.1 110.5,95.5 111.1,94.9 111.7,94.2 112.3,93.6 113,93 113.6,92.3 114.2,91.7 114.8,91.1 115.4,90.4 116,89.8 116.7,89.2 117.3,88.6 117.9,88 118.5,87.4 119.1,86.8 119.7,86.1 120.4,85.5 121,84.8 121.6,84.2 122.2,83.5 122.8,82.9 123.4,82.4 124.1,81.8 124.7,81.4 125.3,80.9 125.9,80.4 126.5,79.8 127.1,79.2 127.8,78.7 128.4,78.1 129,77.6 129.6,77 130.2,76.4 130.8,75.9 131.5,75.4 132.1,74.9 132.7,74.4 133.3,73.8 133.9,73.3 134.5,72.7 135.2,72.2 135.8,71.6 136.4,71.1 137,70.5 137.6,70 138.2,69.4 138.9,68.9 139.5,68.4 140.1,67.8 140.7,67.3 141.3,66.7 142,66.2 142.6,65.6 143.2,65"/>
<polyline stroke="#17becf" stroke-width="1.25" points="75.3,134 75.9,133.3 76.5,132.7 77.2,132 77.8,131.4 78.4,130.8 79,130.1 79.6,129.5 80.3,129 80.9,128.4 81.5,127.9 82.1,127.3 82.7,126.8 83.3,126.2 84,125.7 84.6,125.1 85.2,124.6 85.8,124 86.4,123.3 87,122.8 87.7,122.2 88.3,121.6 88.9,120.9 89.5,120.3 90.1,119.7 90.7,119.1 91.4,118.5 92,117.9 92.6,117.3 93.2,116.6 93.8,116 94.4,115.5 95.1,114.9 95.7,114.3 96.3,113.7 96.9,113.2 97.5,112.6 98.1,112.1 98.8,111.5 99.4,110.9 100,110.3 100.6,109.7 101.2,109 101.8,108.4 102.5,107.8 103.1,107.1 103.7,106.5 104.3,105.8 104.9,105.2 105.5,104.5 106.2,103.9 106.8,103.2 107.4,102.6 108,101.9 108.6,101.2 109.2,100.6 109.9,100 110.5,99.3 111.1,98.7 111.7,98 112.3,97.3 113,96.7 113.6,96 114.2,95.3 114.8,94.6 115.4,93.9 116,93.2 116.7,92.5 117.3,91.9 117.9,91.2 118.5,90.5 119.1,89.9 119.7,89.2 120.4,88.6 121,88 121.6,87.5 122.2,86.9 122.8,86.4 123.4,86 124.1,85.5 124.7,85.1 125.3,84.8 125.9,84.4 126.5,84.1 127.1,83.7 127.8,83.4 128.4,83.1 129,82.8 129.6,82.5 130.2,82.1 130.8,81.8 131.5,81.6 132.1,81.3 132.7,81 133.3,80.8 133.9,80.5 134.5,80.2 135.2,79.9 135.8,79.5 136.4,79.2 137,78.9 137.6,78.5 138.2,78.1 138.9,77.6 139.5,77.2 140.1,76.8 140.7,76.4 141.3,76.1 142,75.9 142.6,75.6 143.2,75.4"/>
<polyline stroke="#1f77b4" stroke-width="1.25" points="75.3,132.9 75.9,132.3 76.5,131.6 77.2,130.9 77.8,130.3 78.4,129.6 79,128.9 79.6,128.2 80.3,127.5 80.9,126.8 81.5,126.1 82.1,125.4 82.7,124.8 83.3,124.1 84,123.5 84.6,122.8 85.2,122.2 85.8,121.6 86.4,121 87,120.4 87.7,119.8 88.3,119.2 88.9,118.6 89.5,117.9 90.1,117.3 90.7,116.7 91.4,116.1 92,115.5 92.6,114.8 93.2,114.1 93.8,113.4 94.4,112.8 95.1,112.1 95.7,111.4 96.3,110.7 96.9,110.1 97.5,109.4 98.1,108.8 98.8,108.2 99.4,107.6 100,106.9 100.6,106.3 101.2,105.6 101.8,104.9 102.5,104.2 103.1,103.5 103.7,102.8 104.3,102.1 104.9,101.5 105.5,100.8 106.2,100.1 106.8,99.4 107.4,98.7 108,97.9 108.6,97.2 109.2,96.5 109.9,95.8 110.5,95.1 111.1,94.4 111.7,93.8 112.3,93.1 113,92.5 113.6,91.8 114.2,91.2 114.8,90.6 115.4,89.9 116,89.3 116.7,88.7 117.3,88.1 117.9,87.4 118.5,86.7 119.1,86.1 119.7,85.4 120.4,84.8 121,84.2 121.6,83.6 122.2,83 122.8,82.5 123.4,82 124.1,81.6 124.7,81.2 125.3,80.9 125.9,80.5 126.5,80.2 127.1,79.9 127.8,79.7 128.4,79.4 129,79 129.6,78.7 130.2,78.4 130.8,78.1 131.5,77.7 132.1,77.3 132.7,76.9 133.3,76.6 133.9,76.2 134.5,75.8 135.2,75.4 135.8,75 136.4,74.6 137,74.2 137.6,73.9 138.2,73.6 138.9,73.3 139.5,73 140.1,72.8 140.7,72.5 141.3,72.2 142,71.7 142.6,71.2 143.2,70.6"/>
<polyline stroke="#ff7f0e" stroke-width="1.25" points="75.3,128.9 75.9,128.2 76.5,127.5 77.2,126.9 77.8,126.3 78.4,125.8 79,125.2 79.6,124.6 80.3,124 80.9,123.5 81.5,122.9 82.1,122.3 82.7,121.7 83.3,121.1 84,120.5 84.6,119.8 85.2,119.2 85.8,118.5 86.4,117.8 87,117.1 87.7,116.4 88.3,115.7 88.9,115.1 89.5,114.4 90.1,113.7 90.7,113 91.4,112.4 92,111.8 92.6,111.1 93.2,110.5 93.8,109.8 94.4,109.1 95.1,108.5 95.7,107.8 96.3,107.2 96.9,106.5 97.5,105.8 98.1,105.1 98.8,104.5 99.4,103.9 100,103.3 100.6,102.7 101.2,102 101.8,101.4 102.5,100.7 103.1,100.1 103.7,99.4 104.3,98.7 104.9,97.9 105.5,97.1 106.2,96.4 106.8,95.6 107.4,94.9 108,94.1 108.6,93.4 109.2,92.7 109.9,92 110.5,91.3 111.1,90.6 111.7,89.8 112.3,89.1 113,88.3 113.6,87.6 114.2,86.8 114.8,86.1 115.4,85.5 116,84.8 116.7,84.2 117.3,83.7 117.9,83.1 118.5,82.5 119.1,82 119.7,81.4 120.4,80.8 121,80.3 121.6,79.7 122.2,79.1 122.8,78.6 123.4,78 124.1,77.5 124.7,76.9 125.3,76.3 125.9,75.7 126.5,75 127.1,74.4 127.8,73.8 128.4,73.1 129,72.4 129.6,71.7 130.2,71 130.8,70.3 131.5,69.5 132.1,68.8 132.7,68.1 133.3,67.4 133.9,66.7 134.5,66.1 135.2,65.5 135.8,65 136.4,64.4 137,63.9 137.6,63.4 138.2,62.8 138.9,62.2 139.5,61.6 140.1,61 140.7,60.4 141.3,59.8 142,59.1 142.6,58.5 143.2,57.8"/>
<polyline stroke="#2ca02c" stroke-width="1.25" points="75.3,129.5 75.9,128.7 76.5,128 77.2,127.3 77.8,126.6 78.4,125.9 79,125.2 79.6,124.6 80.3,124 80.9,123.4 81.5,122.8 82.1,122.3 82.7,121.7 83.3,121.1 84,120.6 84.6,120 85.2,119.3 85.8,118.7 86.4,118.1 87,117.5 87.7,116.9 88.3,116.3 88.9,115.6 89.5,115 90.1,114.4 90.7,113.8 91.4,113.2 92,112.6 92.6,111.9 93.2,111.3 93.8,110.7 94.4,110.1 95.1,109.5 95.7,108.9 96.3,108.3 96.9,107.7 97.5,107.1 98.1,106.5 98.8,105.9 99.4,105.3 100,104.7 100.6,104.1 101.2,103.5 101.8,102.8 102.5,102.2 103.1,101.5 103.7,100.8 104.3,100.1 104.9,99.4 105.5,98.7 106.2,97.9 106.8,97.2 107.4,96.4 108,95.7 108.6,94.9 109.2,94.1 109.9,93.4 110.5,92.7 111.1,92 111.7,91.3 112.3,90.6 113,89.9 113.6,89.2 114.2,88.5 114.8,87.9 115.4,87.3 116,86.7 116.7,86.1 117.3,85.4 117.9,84.8 118.5,84.2 119.1,83.7 119.7,83.1 120.4,82.5 121,82 121.6,81.4 122.2,81 122.8,80.5 123.4,80 124.1,79.5 124.7,79 125.3,78.5 125.9,77.9 126.5,77.4 127.1,76.9 127.8,76.3 128.4,75.8 129,75.3 129.6,74.9 130.2,74.6 130.8,74.2 131.5,73.9 132.1,73.6 132.7,73.3 133.3,73 133.9,72.7 134.5,72.3 135.2,72 135.8,71.6 136.4,71.3 137,71 137.6,70.7 138.2,70.3 138.9,69.8 139.5,69.3 140.1,68.8 140.7,68.4 141.3,67.9 142,67.5 142.6,67.1 143.2,66.7"/>
<polyline stroke="#d62728" stroke-width="1.25" points="75.3,132.5 75.9,131.8 76.5,131.2 77.2,130.6 77.8,129.9 78.4,129.3 79,128.7 79.6,128.1 80.3,127.5 80.9,126.8 81.5,126.2 82.1,125.6 82.7,125 83.3,124.4 84,123.8 84.6,123.2 85.2,122.7 85.8,122.1 86.4,121.5 87,120.9 87.7,120.3 88.3,119.7 88.9,119 89.5,118.4 90.1,117.8 90.7,117.1 91.4,116.5 92,115.9 92.6,115.2 93.2,114.6 93.8,114 94.4,113.4 95.1,112.7 95.7,112.1 96.3,111.4 96.9,110.8 97.5,110.1 98.1,109.5 98.8,108.9 99.4,108.3 100,107.6 100.6,107 101.2,106.4 101.8,105.8 102.5,105.1 103.1,104.5 103.7,103.8 104.3,103.1 104.9,102.5 105.5,101.8 106.2,101.2 106.8,100.6 107.4,100 108,99.4 108.6,98.8 109.2,98.2 109.9,97.5 110.5,96.9 111.1,96.3 111.7,95.6 112.3,94.9 113,94.2 113.6,93.5 114.2,92.8 114.8,92.1 115.4,91.4 116,90.7 116.7,90 117.3,89.4 117.9,88.7 118.5,88 119.1,87.4 119.7,86.8 120.4,86.1 121,85.6 121.6,85 122.2,84.4 122.8,83.9 123.4,83.4 124.1,83 124.7,82.5 125.3,82 125.9,81.6 126.5,81.1 127.1,80.5 127.8,80 128.4,79.5 129,79.1 129.6,78.5 130.2,78 130.8,77.5 131.5,77 132.1,76.6 132.7,76.1 133.3,75.6 133.9,75.2 134.5,74.8 135.2,74.5 135.8,74 136.4,73.6 137,73.3 137.6,73 138.2,72.7 138.9,72.3 139.5,71.8 140.1,71.2 140.7,70.7 141.3,70.1 142,69.4 142.6,68.8 143.2,68.1"/>
<polyline stroke="#9467bd" stroke-width="1.25" points="75.3,135.6 75.9,134.9 76.5,134.3 77.2,133.6 77.8,133 78.4,132.4 79,131.8 79.6,131.3 80.3,130.7 80.9,130.1 81.5,129.5 82.1,128.9 82.7,128.2 83.3,127.6 84,127 84.6,126.3 85.2,125.7 85.8,125.1 86.4,124.5 87,123.9 87.7,123.4 88.3,122.8 88.9,122.3 89.5,121.8 90.1,121.2 90.7,120.7 91.4,120.1 92,119.5 92.6,118.9 93.2,118.3 93.8,117.6 94.4,117 95.1,116.3 95.7,115.7 96.3,115.1 96.9,114.4 97.5,113.8 98.1,113.2 98.8,112.6 99.4,112 100,111.3 100.6,110.7 101.2,110.1 101.8,109.4 102.5,108.8 103.1,108.1 103.7,107.5 104.3,106.8 104.9,106.2 105.5,105.5 106.2,104.9 106.8,104.3 107.4,103.6 108,103 108.6,102.4 109.2,101.7 109.9,101.1 110.5,100.4 111.1,99.7 111.7,99.1 112.3,98.4 113,97.8 113.6,97.1 114.2,96.4 114.8,95.8 115.4,95.2 116,94.6 116.7,94 117.3,93.5 117.9,92.9 118.5,92.4 119.1,91.9 119.7,91.3 120.4,90.8 121,90.1 121.6,89.6 122.2,89 122.8,88.5 123.4,88 124.1,87.5 124.7,87 125.3,86.6 125.9,86.3 126.5,85.9 127.1,85.6 127.8,85.3 128.4,84.9 129,84.5 129.6,84.1 130.2,83.7 130.8,83.3 131.5,82.8 132.1,82.3 132.7,81.8 133.3,81.4 133.9,80.9 134.5,80.5 135.2,80 135.8,79.7 136.4,79.5 137,79.3 137.6,79.1 138.2,78.9 138.9,78.7 139.5,78.4 140.1,78.1 140.7,77.8 141.3,77.3 142,76.8 142.6,76.3 143.2,75.7"/>
<polyline stroke="#8c564b" stroke-width="1.25" points="75.3,130.4 75.9,129.7 76.5,129 77.2,128.3 77.8,127.7 78.4,127 79,126.4 79.6,125.7 80.3,125 80.9,124.4 81.5,123.8 82.1,123.1 82.7,122.5 83.3,121.9 84,121.2 84.6,120.6 85.2,120 85.8,119.3 86.4,118.6 87,117.9 87.7,117.2 88.3,116.5 88.9,115.9 89.5,115.2 90.1,114.6 90.7,113.9 91.4,113.3 92,112.7 92.6,112.1 93.2,111.5 93.8,110.8 94.4,110.2 95.1,109.5 95.7,108.9 96.3,108.2 96.9,107.6 97.5,106.9 98.1,106.3 98.8,105.6 99.4,104.9 100,104.3 100.6,103.6 101.2,102.9 101.8,102.3 102.5,101.6 103.1,100.9 103.7,100.2 104.3,99.6 104.9,98.9 105.5,98.2 106.2,97.5 106.8,96.8 107.4,96.1 108,95.4 108.6,94.7 109.2,94 109.9,93.3 110.5,92.6 111.1,92 111.7,91.3 112.3,90.7 113,90 113.6,89.4 114.2,88.8 114.8,88.2 115.4,87.6 116,87 116.7,86.3 117.3,85.7 117.9,85.2 118.5,84.7 119.1,84.2 119.7,83.7 120.4,83.2 121,82.7 121.6,82.2 122.2,81.7 122.8,81.3 123.4,80.8 124.1,80.3 124.7,79.9 125.3,79.4 125.9,78.9 126.5,78.5 127.1,78.3 127.8,78 128.4,77.7 129,77.5 129.6,77.3 130.2,77 130.8,76.8 131.5,76.5 132.1,76.2 132.7,75.9 133.3,75.6 133.9,75.3 134.5,75 135.2,74.7 135.8,74.5 136.4,74.2 137,74.1 137.6,73.9 138.2,73.8 138.9,73.6 139.5,73.3 140.1,73 140.7,72.8 141.3,72.6 142,72.3 142.6,72 143.2,71.6"/>
<polyline stroke="#e377c2" stroke-width="1.25" points="75.3,136.4 75.9,135.8 76.5,135.2 77.2,134.6 77.8,134 78.4,133.4 79,132.8 79.6,132.2 80.3,131.7 80.9,131.1 81.5,130.5 82.1,129.9 82.7,129.2 83.3,128.6 84,127.9 84.6,127.2 85.2,126.6 85.8,125.9 86.4,125.2 87,124.6 87.7,124 88.3,123.4 88.9,122.8 89.5,122.2 90.1,121.6 90.7,120.9 91.4,120.3 92,119.5 92.6,118.8 93.2,118 93.8,117.2 94.4,116.4 95.1,115.6 95.7,114.9 96.3,114.1 96.9,113.3 97.5,112.6 98.1,111.9 98.8,111.1 99.4,110.4 100,109.8 100.6,109.1 101.2,108.4 101.8,107.7 102.5,107 103.1,106.3 103.7,105.6 104.3,104.9 104.9,104.2 105.5,103.5 106.2,102.8 106.8,102.1 107.4,101.4 108,100.7 108.6,100.1 109.2,99.5 109.9,98.9 110.5,98.3 111.1,97.6 111.7,97 112.3,96.4 113,95.7 113.6,95.1 114.2,94.5 114.8,93.8 115.4,93.2 116,92.6 116.7,92 117.3,91.4 117.9,90.8 118.5,90.1 119.1,89.5 119.7,89 120.4,88.4 121,87.8 121.6,87.3 122.2,86.8 122.8,86.3 123.4,85.8 124.1,85.3 124.7,84.8 125.3,84.4 125.9,84 126.5,83.6 127.1,83.2 127.8,82.9 128.4,82.5 129,82.2 129.6,81.9 130.2,81.7 130.8,81.4 131.5,81.1 132.1,80.9 132.7,80.5 133.3,80.2 133.9,79.9 134.5,79.5 135.2,79.1 135.8,78.7 136.4,78.3 137,77.9 137.6,77.5 138.2,77.1 138.9,76.7 139.5,76.4 140.1,76 140.7,75.6 141.3,75.3 142,74.9 142.6,74.6 143.2,74.3"/>
<polyline stroke="#7f7f7f" stroke-width="1.25" points="75.3,128.9 75.9,128.2 76.5,127.5 77.2,126.8 77.8,126.1 78.4,125.3 79,124.6 79.6,124 80.3,123.3 80.9,122.7 81.5,122 82.1,121.4 82.7,120.8 83.3,120.2 84,119.6 84.6,119 85.2,118.3 85.8,117.7 86.4,117 87,116.4 87.7,115.7 88.3,115.1 88.9,114.5 89.5,113.9 90.1,113.3 90.7,112.7 91.4,112 92,111.3 92.6,110.6 93.2,109.9 93.8,109.2 94.4,108.6 95.1,107.9 95.7,107.3 96.3,106.7 96.9,106.2 97.5,105.6 98.1,105 98.8,104.4 99.4,103.8 100,103.2 100.6,102.5 101.2,101.9 101.8,101.2 102.5,100.6 103.1,100 103.7,99.3 104.3,98.7 104.9,98 105.5,97.4 106.2,96.7 106.8,96 107.4,95.3 108,94.6 108.6,93.9 109.2,93.2 109.9,92.5 110.5,91.9 111.1,91.3 111.7,90.6 112.3,90 113,89.3 113.6,88.7 114.2,88 114.8,87.3 115.4,86.7 116,86 116.7,85.3 117.3,84.6 117.9,83.9 118.5,83.2 119.1,82.5 119.7,81.8 120.4,81.1 121,80.4 121.6,79.8 122.2,79.2 122.8,78.6 123.4,78 124.1,77.5 124.7,77 125.3,76.5 125.9,76.1 126.5,75.6 127.1,75.2 127.8,74.8 128.4,74.3 129,73.9 129.6,73.4 130.2,72.9 130.8,72.5 131.5,72.1 132.1,71.7 132.7,71.5 133.3,71.2 133.9,70.9 134.5,70.7 135.2,70.4 135.8,70 136.4,69.7 137,69.2 137.6,68.6 138.2,68.1 138.9,67.6 139.5,67.1 140.1,66.6 140.7,66.1 141.3,65.6 142,65.1 142.6,64.6 143.2,63.9"/>
<polyline stroke="#bcbd22" stroke-width="1.25" points="75.3,133.7 75.9,133.1 76.5,132.4 77.2,131.8 77.8,131 78.4,130.3 79,129.5 79.6,128.8 80.3,128 80.9,127.2 81.5,126.5 82.1,125.8 82.7,125.2 83.3,124.6 84,124 84.6,123.3 85.2,122.7 85.8,122.1 86.4,121.5 87,120.9 87.7,120.2 88.3,119.6 88.9,118.9 89.5,118.3 90.1,117.7 90.7,117 91.4,116.4 92,115.8 92.6,115 93.2,114.4 93.8,113.7 94.4,113 95.1,112.3 95.7,111.6 96.3,110.9 96.9,110.2 97.5,109.6 98.1,109 98.8,108.4 99.4,107.9 100,107.3 100.6,106.8 101.2,106.3 101.8,105.7 102.5,105.2 103.1,104.7 103.7,104.1 104.3,103.6 104.9,103.1 105.5,102.5 106.2,102 106.8,101.4 107.4,100.8 108,100.1 108.6,99.5 109.2,98.9 109.9,98.2 110.5,97.6 111.1,96.9 111.7,96.3 112.3,95.7 113,95 113.6,94.4 114.2,93.7 114.8,93.1 115.4,92.5 116,91.9 116.7,91.3 117.3,90.7 117.9,90.2 118.5,89.6 119.1,89 119.7,88.5 120.4,88 121,87.4 121.6,86.9 122.2,86.4 122.8,85.9 123.4,85.4 124.1,84.9 124.7,84.4 125.3,83.9 125.9,83.4 126.5,82.8 127.1,82.1 127.8,81.5 128.4,81 129,80.5 129.6,79.9 130.2,79.4 130.8,78.9 131.5,78.4 132.1,77.9 132.7,77.4 133.3,76.8 133.9,76.4 134.5,76 135.2,75.6 135.8,75.2 136.4,74.8 137,74.5 137.6,74.2 138.2,73.9 138.9,73.6 139.5,73.3 140.1,73 140.7,72.8 141.3,72.5 142,72.2 142.6,72 143.2,71.7"/>
<polyline stroke="#17becf" stroke-width="1.25" points="75.3,132.2 75.9,131.6 76.5,130.9 77.2,130.3 77.8,129.6 78.4,129 79,128.4 79.6,127.7 80.3,127 80.9,126.4 81.5,125.7 82.1,125 82.7,124.2 83.3,123.5 84,122.8 84.6,122 85.2,121.3 85.8,120.5 86.4,119.8 87,119.1 87.7,118.5 88.3,117.8 88.9,117.1 89.5,116.5 90.1,115.9 90.7,115.2 91.4,114.5 92,113.8 92.6,113.1 93.2,112.4 93.8,111.7 94.4,111 95.1,110.3 95.7,109.6 96.3,108.9 96.9,108.2 97.5,107.5 98.1,106.8 98.8,106.1 99.4,105.4 100,104.7 100.6,104 101.2,103.3 101.8,102.7 102.5,102 103.1,101.3 103.7,100.7 104.3,100 104.9,99.4 105.5,98.7 106.2,98.1 106.8,97.5 107.4,96.9 108,96.2 108.6,95.6 109.2,94.9 109.9,94.3 110.5,93.6 111.1,93 111.7,92.3 112.3,91.7 113,91 113.6,90.4 114.2,89.7 114.8,89 115.4,88.4 116,87.8 116.7,87.2 117.3,86.6 117.9,86 118.5,85.4 119.1,84.8 119.7,84.3 120.4,83.7 121,83.1 121.6,82.5 122.2,82 122.8,81.4 123.4,80.8 124.1,80.3 124.7,79.8 125.3,79.3 125.9,78.8 126.5,78.3 127.1,77.8 127.8,77.3 128.4,76.8 129,76.3 129.6,75.8 130.2,75.3 130.8,74.8 131.5,74.3 132.1,73.8 132.7,73.2 133.3,72.7 133.9,72.3 134.5,71.8 135.2,71.4 135.8,70.9 136.4,70.5 137,70.1 137.6,69.7 138.2,69.3 138.9,68.8 139.5,68.4 140.1,67.9 140.7,67.4 141.3,67 142,66.5 142.6,66 143.2,65.5"/>
<polyline stroke="#1f77b4" stroke-width="1.25" points="75.3,132.9 75.9,132.3 76.5,131.6 77.2,130.9 77.8,130.3 78.4,129.6 79,129 79.6,128.4 80.3,127.8 80.9,127.2 81.5,126.6 82.1,125.9 82.7,125.3 83.3,124.7 84,124 84.6,123.3 85.2,122.6 85.8,121.9 86.4,121.3 87,120.7 87.7,120.1 88.3,119.5 88.9,118.9 89.5,118.3 90.1,117.7 90.7,117.1 91.4,116.5 92,115.8 92.6,115.2 93.2,114.5 93.8,113.8 94.4,113.2 95.1,112.5 95.7,111.9 96.3,111.2 96.9,110.6 97.5,110 98.1,109.4 98.8,108.9 99.4,108.3 100,107.7 100.6,107.1 101.2,106.5 101.8,106 102.5,105.4 103.1,104.9 103.7,104.3 104.3,103.7 104.9,103.1 105.5,102.5 106.2,101.9 106.8,101.3 107.4,100.7 108,100.1 108.6,99.5 109.2,98.9 109.9,98.3 110.5,97.7 111.1,97.1 111.7,96.6 112.3,96 113,95.4 113.6,94.8 114.2,94.3 114.8,93.7 115.4,93.1 116,92.5 116.7,91.9 117.3,91.4 117.9,90.8 118.5,90.2 119.1,89.6 119.7,89 120.4,88.4 121,87.9 121.6,87.3 122.2,86.7 122.8,86.1 123.4,85.5 124.1,84.9 124.7,84.3 125.3,83.7 125.9,83.1 126.5,82.5 127.1,81.9 127.8,81.3 128.4,80.8 129,80.2 129.6,79.7 130.2,79.2 130.8,78.7 131.5,78.2 132.1,77.7 132.7,77.2 133.3,76.7 133.9,76.1 134.5,75.7 135.2,75.2 135.8,74.8 136.4,74.4 137,74 137.6,73.6 138.2,73.2 138.9,72.8 139.5,72.3 140.1,71.9 140.7,71.4 141.3,70.9 142,70.5 142.6,70 143.2,69.6"/>
<polyline stroke="#ff7f0e" stroke-width="1.25" points="75.3,129.3 75.9,128.6 76.5,127.9 77.2,127.2 77.8,126.5 78.4,125.8 79,125.2 79.6,124.5 80.3,123.8 80.9,123.1 81.5,122.4 82.1,121.7 82.7,120.9 83.3,120.2 84,119.5 84.6,118.8 85.2,118.2 85.8,117.5 86.4,116.9 87,116.4 87.7,115.8 88.3,115.2 88.9,114.5 89.5,113.9 90.1,113.2 90.7,112.6 91.4,111.8 92,111.1 92.6,110.4 93.2,109.8 93.8,109.1 94.4,108.5 95.1,107.8 95.7,107.2 96.3,106.7 96.9,106.1 97.5,105.6 98.1,105.1 98.8,104.5 99.4,104 100,103.4 100.6,102.9 101.2,102.3 101.8,101.7 102.5,101 103.1,100.4 103.7,99.7 104.3,99.1 104.9,98.4 105.5,97.7 106.2,97 106.8,96.3 107.4,95.7 108,95 108.6,94.4 109.2,93.7 109.9,93.1 110.5,92.4 111.1,91.7 111.7,91 112.3,90.3 113,89.6 113.6,88.9 114.2,88.2 114.8,87.5 115.4,86.8 116,86.1 116.7,85.4 117.3,84.8 117.9,84.1 118.5,83.5 119.1,83 119.7,82.4 120.4,81.9 121,81.5 121.6,81 122.2,80.5 122.8,80 123.4,79.5 124.1,79 124.7,78.5 125.3,78 125.9,77.5 126.5,77 127.1,76.6 127.8,76.2 128.4,75.8 129,75.3 129.6,74.9 130.2,74.5 130.8,74.1 131.5,73.7 132.1,73.4 132.7,73 133.3,72.6 133.9,72.3 134.5,72 135.2,71.6 135.8,71.3 136.4,70.9 137,70.5 137.6,70.2 138.2,69.9 138.9,69.5 139.5,69.1 140.1,68.8 140.7,68.4 141.3,68 142,67.7 142.6,67.3 143.2,66.8"/>
<polyline stroke="#2ca02c" stroke-width="1.25" points="75.3,128.5 75.9,127.9 76.5,127.2 77.2,126.6 77.8,125.9 78.4,125.3 79,124.6 79.6,124 80.3,123.3 80.9,122.7 81.5,122 82.1,121.4 82.7,120.7 83.3,120 84,119.4 84.6,118.7 85.2,118 85.8,117.3 86.4,116.6 87,115.9 87.7,115.1 88.3,114.4 88.9,113.7 89.5,113 90.1,112.3 90.7,111.6 91.4,111 92,110.4 92.6,109.8 93.2,109.2 93.8,108.7 94.4,108.1 95.1,107.5 95.7,106.9 96.3,106.4 96.9,105.8 97.5,105.2 98.1,104.6 98.8,104 99.4,103.5 100,102.9 100.6,102.3 101.2,101.7 101.8,101.1 102.5,100.5 103.1,99.8 103.7,99.2 104.3,98.5 104.9,97.8 105.5,97 106.2,96.3 106.8,95.6 107.4,94.8 108,94.1 108.6,93.4 109.2,92.7 109.9,92 110.5,91.4 111.1,90.7 111.7,90 112.3,89.3 113,88.7 113.6,88 114.2,87.3 114.8,86.7 115.4,86 116,85.4 116.7,84.7 117.3,84.1 117.9,83.4 118.5,82.8 119.1,82.1 119.7,81.4 120.4,80.8 121,80.2 121.6,79.6 122.2,79.1 122.8,78.6 123.4,78.1 124.1,77.7 124.7,77.2 125.3,76.8 125.9,76.4 126.5,76 127.1,75.6 127.8,75.2 128.4,74.9 129,74.6 129.6,74.2 130.2,74 130.8,73.7 131.5,73.4 132.1,73.1 132.7,72.8 133.3,72.4 133.9,72 134.5,71.6 135.2,71.2 135.8,70.9 136.4,70.5 137,70 137.6,69.6 138.2,69.2 138.9,68.9 139.5,68.4 140.1,67.8 140.7,67.2 141.3,66.7 142,66.2 142.6,65.6 143.2,65"/>
<polyline stroke="#d62728" stroke-width="1.25" points="75.3,135.2 75.9,134.6 76.5,134 77.2,133.3 77.8,132.7 78.4,132 79,131.3 79.6,130.6 80.3,129.9 80.9,129.1 81.5,128.3 82.1,127.5 82.7,126.7 83.3,125.9 84,125.1 84.6,124.4 85.2,123.6 85.8,122.9 86.4,122.2 87,121.5 87.7,120.9 88.3,120.3 88.9,119.7 89.5,119.1 90.1,118.5 90.7,117.9 91.4,117.3 92,116.7 92.6,116.1 93.2,115.5 93.8,115 94.4,114.4 95.1,113.8 95.7,113.2 96.3,112.6 96.9,112 97.5,111.4 98.1,110.8 98.8,110.2 99.4,109.6 100,109.1 100.6,108.6 101.2,108 101.8,107.5 102.5,106.9 103.1,106.4 103.7,105.8 104.3,105.1 104.9,104.5 105.5,103.8 106.2,103.1 106.8,102.4 107.4,101.7 108,101 108.6,100.3 109.2,99.7 109.9,99 110.5,98.4 111.1,97.8 111.7,97.2 112.3,96.5 113,96 113.6,95.4 114.2,94.7 114.8,94.1 115.4,93.5 116,92.9 116.7,92.3 117.3,91.6 117.9,91 118.5,90.3 119.1,89.7 119.7,89.1 120.4,88.5 121,87.8 121.6,87.2 122.2,86.6 122.8,86 123.4,85.4 124.1,84.8 124.7,84.1 125.3,83.5 125.9,82.9 126.5,82.4 127.1,81.8 127.8,81.4 128.4,80.9 129,80.5 129.6,80.1 130.2,79.8 130.8,79.4 131.5,79 132.1,78.6 132.7,78.2 133.3,77.8 133.9,77.4 134.5,77.1 135.2,76.7 135.8,76.3 136.4,76 137,75.7 137.6,75.4 138.2,75 138.9,74.6 139.5,74.2 140.1,73.8 140.7,73.4 141.3,73 142,72.7 142.6,72.3 143.2,72"/>
<polyline stroke="#9467bd" stroke-width="1.25" points="75.3,124.7 75.9,124 76.5,123.2 77.2,122.5 77.8,121.7 78.4,121 79,120.2 79.6,119.5 80.3,118.8 80.9,118.1 81.5,117.5 82.1,116.8 82.7,116.2 83.3,115.6 84,115 84.6,114.4 85.2,113.8 85.8,113.2 86.4,112.6 87,112 87.7,111.4 88.3,110.8 88.9,110.2 89.5,109.6 90.1,109 90.7,108.4 91.4,107.9 92,107.2 92.6,106.6 93.2,106 93.8,105.4 94.4,104.7 95.1,104 95.7,103.4 96.3,102.7 96.9,102.1 97.5,101.4 98.1,100.8 98.8,100.1 99.4,99.5 100,98.9 100.6,98.3 101.2,97.7 101.8,97 102.5,96.3 103.1,95.7 103.7,95 104.3,94.3 104.9,93.6 105.5,92.9 106.2,92.2 106.8,91.5 107.4,90.8 108,90.1 108.6,89.4 109.2,88.8 109.9,88.1 110.5,87.4 111.1,86.8 111.7,86.1 112.3,85.5 113,84.8 113.6,84.2 114.2,83.6 114.8,82.9 115.4,82.3 116,81.6 116.7,81 117.3,80.3 117.9,79.7 118.5,79 119.1,78.4 119.7,77.7 120.4,77.1 121,76.5 121.6,75.9 122.2,75.4 122.8,74.8 123.4,74.2 124.1,73.7 124.7,73.2 125.3,72.7 125.9,72.1 126.5,71.6 127.1,71 127.8,70.5 128.4,70 129,69.5 129.6,69.1 130.2,68.6 130.8,68 131.5,67.5 132.1,67 132.7,66.4 133.3,65.7 133.9,65 134.5,64.4 135.2,63.7 135.8,63 136.4,62.3 137,61.5 137.6,60.9 138.2,60.3 138.9,59.7 139.5,59.1 140.1,58.5 140.7,57.9 141.3,57.3 142,56.8 142.6,56.3 143.2,55.8"/>
<polyline stroke="#8c564b" stroke-width="1.25" points="75.3,131 75.9,130.3 76.5,129.7 77.2,129 77.8,128.3 78.4,127.7 79,127 79.6,126.4 80.3,125.7 80.9,125.1 81.5,124.4 82.1,123.8 82.7,123.1 83.3,122.4 84,121.8 84.6,121.1 85.2,120.4 85.8,119.8 86.4,119.2 87,118.6 87.7,118 88.3,117.4 88.9,116.8 89.5,116.3 90.1,115.7 90.7,115.1 91.4,114.5 92,113.9 92.6,113.3 93.2,112.6 93.8,111.9 94.4,111.2 95.1,110.5 95.7,109.8 96.3,109.1 96.9,108.3 97.5,107.6 98.1,106.9 98.8,106.3 99.4,105.6 100,104.9 100.6,104.2 101.2,103.5 101.8,102.9 102.5,102.2 103.1,101.6 103.7,101 104.3,100.3 104.9,99.7 105.5,99.1 106.2,98.5 106.8,97.8 107.4,97.1 108,96.5 108.6,95.8 109.2,95.2 109.9,94.6 110.5,94 111.1,93.4 111.7,92.8 112.3,92.2 113,91.7 113.6,91.2 114.2,90.7 114.8,90.1 115.4,89.6 116,89 116.7,88.4 117.3,87.8 117.9,87.2 118.5,86.5 119.1,85.9 119.7,85.2 120.4,84.6 121,84.1 121.6,83.5 122.2,83 122.8,82.5 123.4,82 124.1,81.5 124.7,81 125.3,80.5 125.9,80 126.5,79.5 127.1,79 127.8,78.5 128.4,78.1 129,77.7 129.6,77.3 130.2,76.9 130.8,76.5 131.5,76.1 132.1,75.8 132.7,75.5 133.3,75.2 133.9,74.8 134.5,74.4 135.2,74.1 135.8,73.7 136.4,73.3 137,72.8 137.6,72.3 138.2,71.8 138.9,71.2 139.5,70.7 140.1,70.2 140.7,69.6 141.3,69.1 142,68.7 142.6,68.2 143.2,67.8"/>
<polyline stroke="#e377c2" stroke-width="1.25" points="75.3,129.5 75.9,128.8 76.5,128.2 77.2,127.5 77.8,126.9 78.4,126.3 79,125.7 79.6,125 80.3,124.4 80.9,123.9 81.5,123.3 82.1,122.8 82.7,122.2 83.3,121.7 84,121.1 84.6,120.6 85.2,120 85.8,119.4 86.4,118.8 87,118.2 87.7,117.5 88.3,116.9 88.9,116.2 89.5,115.6 90.1,114.9 90.7,114.2 91.4,113.5 92,112.7 92.6,112 93.2,111.2 93.8,110.5 94.4,109.8 95.1,109.1 95.7,108.5 96.3,107.8 96.9,107.2 97.5,106.6 98.1,106.1 98.8,105.5 99.4,104.9 100,104.3 100.6,103.7 101.2,103 101.8,102.4 102.5,101.8 103.1,101.2 103.7,100.6 104.3,100 104.9,99.3 105.5,98.6 106.2,98 106.8,97.3 107.4,96.6 108,96 108.6,95.3 109.2,94.7 109.9,94.1 110.5,93.5 111.1,92.9 111.7,92.4 112.3,91.8 113,91.3 113.6,90.8 114.2,90.3 114.8,89.8 115.4,89.3 116,88.9 116.7,88.4 117.3,87.9 117.9,87.5 118.5,87 119.1,86.5 119.7,86.1 120.4,85.6 121,85.1 121.6,84.6 122.2,84.1 122.8,83.5 123.4,83 124.1,82.4 124.7,81.8 125.3,81.2 125.9,80.7 126.5,80.2 127.1,79.8 127.8,79.5 128.4,79.1 129,78.8 129.6,78.5 130.2,78.1 130.8,77.8 131.5,77.5 132.1,77.3 132.7,77.1 133.3,76.9 133.9,76.6 134.5,76.5 135.2,76.3 135.8,76 136.4,75.8 137,75.5 137.6,75.2 138.2,74.9 138.9,74.6 139.5,74.3 140.1,73.9 140.7,73.6 141.3,73.2 142,72.8 142.6,72.5 143.2,72.1"/>
<polyline stroke="#7f7f7f" stroke-width="1.25" points="75.3,131.8 75.9,131 76.5,130.3 77.2,129.6 77.8,128.9 78.4,128.2 79,127.5 79.6,126.8 80.3,126.1 80.9,125.4 81.5,124.7 82.1,124 82.7,123.3 83.3,122.6 84,122 84.6,121.4 85.2,120.7 85.8,120 86.4,119.4 87,118.7 87.7,118.1 88.3,117.4 88.9,116.8 89.5,116.2 90.1,115.6 90.7,114.9 91.4,114.3 92,113.7 92.6,113 93.2,112.4 93.8,111.8 94.4,111.2 95.1,110.6 95.7,110 96.3,109.4 96.9,108.8 97.5,108.2 98.1,107.6 98.8,107 99.4,106.3 100,105.7 100.6,105.1 101.2,104.5 101.8,103.9 102.5,103.2 103.1,102.6 103.7,102.1 104.3,101.5 104.9,100.8 105.5,100.2 106.2,99.6 106.8,99 107.4,98.3 108,97.7 108.6,97.1 109.2,96.4 109.9,95.7 110.5,95.1 111.1,94.5 111.7,93.8 112.3,93.2 113,92.6 113.6,92 114.2,91.4 114.8,90.8 115.4,90.2 116,89.6 116.7,89.1 117.3,88.5 117.9,87.9 118.5,87.2 119.1,86.6 119.7,86.1 120.4,85.5 121,85 121.6,84.6 122.2,84.1 122.8,83.6 123.4,83.2 124.1,82.7 124.7,82.2 125.3,81.7 125.9,81.2 126.5,80.7 127.1,80.2 127.8,79.7 128.4,79.2 129,78.8 129.6,78.4 130.2,78 130.8,77.6 131.5,77.2 132.1,76.8 132.7,76.4 133.3,76 133.9,75.5 134.5,75.1 135.2,74.6 135.8,74.2 136.4,73.8 137,73.4 137.6,73.1 138.2,72.8 138.9,72.6 139.5,72.3 140.1,72 140.7,71.7 141.3,71.4 142,71.1 142.6,70.7 143.2,70.3"/>
<polyline stroke="#bcbd22" stroke-width="1.25" points="75.3,132.7 75.9,132 76.5,131.4 77.2,130.8 77.8,130.2 78.4,129.7 79,129.1 79.6,128.5 80.3,128 80.9,127.5 81.5,126.9 82.1,126.4 82.7,125.9 83.3,125.3 84,124.8 84.6,124.2 85.2,123.7 85.8,123.1 86.4,122.6 87,122 87.7,121.4 88.3,120.7 88.9,120.1 89.5,119.5 90.1,118.8 90.7,118.2 91.4,117.6 92,117 92.6,116.4 93.2,115.8 93.8,115.1 94.4,114.5 95.1,113.9 95.7,113.2 96.3,112.5 96.9,111.8 97.5,111.1 98.1,110.4 98.8,109.7 99.4,109.1 100,108.4 100.6,107.8 101.2,107.2 101.8,106.6 102.5,106.1 103.1,105.5 103.7,105 104.3,104.5 104.9,104 105.5,103.5 106.2,103 106.8,102.6 107.4,102.1 108,101.6 108.6,101.1 109.2,100.6 109.9,100 110.5,99.4 111.1,98.8 111.7,98.2 112.3,97.7 113,97.1 113.6,96.6 114.2,96 114.8,95.5 115.4,94.9 116,94.4 116.7,93.8 117.3,93.2 117.9,92.6 118.5,92 119.1,91.5 119.7,90.9 120.4,90.5 121,90 121.6,89.5 122.2,89.1 122.8,88.6 123.4,88.2 124.1,87.7 124.7,87.2 125.3,86.6 125.9,86.2 126.5,85.7 127.1,85.3 127.8,85 128.4,84.7 129,84.4 129.6,84.1 130.2,83.8 130.8,83.5 131.5,83.2 132.1,82.9 132.7,82.5 133.3,82.1 133.9,81.7 134.5,81.2 135.2,80.8 135.8,80.3 136.4,79.8 137,79.3 137.6,78.8 138.2,78.2 138.9,77.6 139.5,76.8 140.1,76.1 140.7,75.3 141.3,74.7 142,74.1 142.6,73.5 143.2,72.9"/>
<polyline stroke="#17becf" stroke-width="1.25" points="75.3,134.3 75.9,133.6 76.5,133 77.2,132.3 77.8,131.6 78.4,131 79,130.3 79.6,129.6 80.3,129 80.9,128.4 81.5,127.9 82.1,127.3 82.7,126.7 83.3,126.1 84,125.6 84.6,125 85.2,124.4 85.8,123.8 86.4,123.2 87,122.6 87.7,121.9 88.3,121.3 88.9,120.6 89.5,119.9 90.1,119.3 90.7,118.7 91.4,118 92,117.4 92.6,116.8 93.2,116.2 93.8,115.6 94.4,115 95.1,114.4 95.7,113.8 96.3,113.3 96.9,112.7 97.5,112.2 98.1,111.6 98.8,111.1 99.4,110.5 100,110 100.6,109.4 101.2,108.8 101.8,108.3 102.5,107.7 103.1,107.1 103.7,106.5 104.3,105.9 104.9,105.2 105.5,104.6 106.2,104 106.8,103.3 107.4,102.7 108,102 108.6,101.4 109.2,100.8 109.9,100.1 110.5,99.4 111.1,98.7 111.7,98 112.3,97.4 113,96.7 113.6,96 114.2,95.4 114.8,94.8 115.4,94.1 116,93.5 116.7,92.9 117.3,92.3 117.9,91.7 118.5,91 119.1,90.4 119.7,89.9 120.4,89.3 121,88.8 121.6,88.4 122.2,87.9 122.8,87.4 123.4,86.9 124.1,86.5 124.7,86 125.3,85.5 125.9,85 126.5,84.6 127.1,84.1 127.8,83.7 128.4,83.3 129,82.8 129.6,82.4 130.2,82 130.8,81.6 131.5,81.2 132.1,80.8 132.7,80.3 133.3,80 133.9,79.7 134.5,79.3 135.2,78.9 135.8,78.6 136.4,78.2 137,77.9 137.6,77.6 138.2,77.3 138.9,76.9 139.5,76.5 140.1,76.1 140.7,75.6 141.3,75.1 142,74.5 142.6,73.9 143.2,73.3"/>
<polyline stroke="#1f77b4" stroke-width="1.25" points="75.3,130.5 75.9,129.9 76.5,129.3 77.2,128.6 77.8,128 78.4,127.3 79,126.6 79.6,126 80.3,125.4 80.9,124.8 81.5,124.1 82.1,123.5 82.7,122.8 83.3,122.2 84,121.5 84.6,120.8 85.2,120.1 85.8,119.3 86.4,118.7 87,118 87.7,117.4 88.3,116.7 88.9,116.1 89.5,115.5 90.1,114.9 90.7,114.3 91.4,113.6 92,112.9 92.6,112.2 93.2,111.5 93.8,110.8 94.4,110.1 95.1,109.4 95.7,108.7 96.3,108 96.9,107.3 97.5,106.7 98.1,106.1 98.8,105.5 99.4,104.8 100,104.2 100.6,103.6 101.2,103 101.8,102.4 102.5,101.7 103.1,101 103.7,100.2 104.3,99.5 104.9,98.7 105.5,98 106.2,97.3 106.8,96.6 107.4,95.9 108,95.2 108.6,94.5 109.2,93.8 109.9,93.2 110.5,92.5 111.1,91.9 111.7,91.2 112.3,90.6 113,89.9 113.6,89.2 114.2,88.6 114.8,87.9 115.4,87.2 116,86.4 116.7,85.7 117.3,85 117.9,84.3 118.5,83.5 119.1,82.8 119.7,82.1 120.4,81.5 121,80.8 121.6,80.2 122.2,79.7 122.8,79.2 123.4,78.7 124.1,78.2 124.7,77.8 125.3,77.3 125.9,76.7 126.5,76.1 127.1,75.5 127.8,74.9 128.4,74.3 129,73.8 129.6,73.3 130.2,72.9 130.8,72.5 131.5,72.2 132.1,71.9 132.7,71.6 133.3,71.2 133.9,70.9 134.5,70.5 135.2,70.1 135.8,69.7 136.4,69.3 137,68.9 137.6,68.5 138.2,68.1 138.9,67.7 139.5,67.3 140.1,66.9 140.7,66.5 141.3,66.1 142,65.7 142.6,65.3 143.2,64.9"/>
<polyline stroke="#ff7f0e" stroke-width="1.25" points="75.3,132.6 75.9,132.1 76.5,131.5 77.2,130.9 77.8,130.3 78.4,129.7 79,129.1 79.6,128.4 80.3,127.8 80.9,127.1 81.5,126.4 82.1,125.8 82.7,125.2 83.3,124.5 84,123.9 84.6,123.3 85.2,122.6 85.8,122 86.4,121.4 87,120.7 87.7,120 88.3,119.4 88.9,118.7 89.5,118.1 90.1,117.4 90.7,116.8 91.4,116.2 92,115.6 92.6,115 93.2,114.4 93.8,113.8 94.4,113.2 95.1,112.6 95.7,112 96.3,111.5 96.9,110.9 97.5,110.3 98.1,109.7 98.8,109.1 99.4,108.5 100,107.9 100.6,107.2 101.2,106.6 101.8,105.9 102.5,105.2 103.1,104.6 103.7,103.9 104.3,103.3 104.9,102.6 105.5,101.9 106.2,101.2 106.8,100.6 107.4,99.9 108,99.3 108.6,98.6 109.2,98 109.9,97.4 110.5,96.8 111.1,96.2 111.7,95.6 112.3,95 113,94.4 113.6,93.9 114.2,93.3 114.8,92.7 115.4,92.1 116,91.6 116.7,91 117.3,90.6 117.9,90.1 118.5,89.6 119.1,89.1 119.7,88.7 120.4,88.3 121,87.8 121.6,87.4 122.2,87 122.8,86.5 123.4,86.1 124.1,85.6 124.7,85.2 125.3,84.8 125.9,84.3 126.5,83.8 127.1,83.4 127.8,82.9 128.4,82.5 129,82.1 129.6,81.6 130.2,81.1 130.8,80.7 131.5,80.2 132.1,79.9 132.7,79.5 133.3,79.1 133.9,78.7 134.5,78.4 135.2,78.1 135.8,77.9 136.4,77.7 137,77.4 137.6,77.1 138.2,76.8 138.9,76.4 139.5,76.1 140.1,75.7 140.7,75.3 141.3,74.9 142,74.6 142.6,74.2 143.2,73.8"/>
<polyline stroke="#2ca02c" stroke-width="1.25" points="75.3,133.5 75.9,132.9 76.5,132.2 77.2,131.7 77.8,131.1 78.4,130.6 79,130 79.6,129.5 80.3,129 80.9,128.4 81.5,127.9 82.1,127.3 82.7,126.8 83.3,126.3 84,125.7 84.6,125.2 85.2,124.6 85.8,124 86.4,123.4 87,122.9 87.7,122.3 88.3,121.8 88.9,121.2 89.5,120.7 90.1,120.1 90.7,119.5 91.4,118.9 92,118.3 92.6,117.7 93.2,117.1 93.8,116.4 94.4,115.7 95.1,115 95.7,114.3 96.3,113.6 96.9,113 97.5,112.3 98.1,111.7 98.8,111.1 99.4,110.5 100,109.9 100.6,109.3 101.2,108.7 101.8,108.1 102.5,107.5 103.1,106.8 103.7,106.2 104.3,105.6 104.9,104.9 105.5,104.3 106.2,103.7 106.8,103.1 107.4,102.5 108,101.9 108.6,101.3 109.2,100.7 109.9,100 110.5,99.4 111.1,98.8 111.7,98.2 112.3,97.7 113,97.1 113.6,96.5 114.2,95.9 114.8,95.3 115.4,94.7 116,94.1 116.7,93.4 117.3,92.8 117.9,92.2 118.5,91.6 119.1,91 119.7,90.4 120.4,89.8 121,89.2 121.6,88.6 122.2,88.1 122.8,87.5 123.4,86.9 124.1,86.3 124.7,85.7 125.3,85.1 125.9,84.6 126.5,84.1 127.1,83.6 127.8,83.1 128.4,82.7 129,82.3 129.6,81.9 130.2,81.5 130.8,81 131.5,80.6 132.1,80.2 132.7,79.7 133.3,79.4 133.9,79 134.5,78.7 135.2,78.4 135.8,78.3 136.4,78.1 137,78 137.6,77.9 138.2,77.7 138.9,77.5 139.5,77.3 140.1,77 140.7,76.7 141.3,76.4 142,76.1 142.6,75.8 143.2,75.5"/>
<polyline stroke="#d62728" stroke-width="1.25" points="75.3,133.1 75.9,132.5 76.5,131.9 77.2,131.3 77.8,130.8 78.4,130.2 79,129.6 79.6,129.1 80.3,128.5 80.9,127.9 81.5,127.3 82.1,126.7 82.7,126.1 83.3,125.6 84,125 84.6,124.5 85.2,123.9 85.8,123.4 86.4,122.8 87,122.2 87.7,121.6 88.3,121 88.9,120.3 89.5,119.7 90.1,119 90.7,118.3 91.4,117.6 92,117 92.6,116.3 93.2,115.6 93.8,114.9 94.4,114.1 95.1,113.4 95.7,112.8 96.3,112.1 96.9,111.4 97.5,110.8 98.1,110.2 98.8,109.5 99.4,108.9 100,108.3 100.6,107.6 101.2,107 101.8,106.3 102.5,105.6 103.1,105 103.7,104.3 104.3,103.7 104.9,103 105.5,102.4 106.2,101.8 106.8,101.2 107.4,100.6 108,100 108.6,99.4 109.2,98.8 109.9,98.2 110.5,97.7 111.1,97.1 111.7,96.5 112.3,95.9 113,95.3 113.6,94.7 114.2,94 114.8,93.4 115.4,92.7 116,92 116.7,91.3 117.3,90.6 117.9,89.9 118.5,89.1 119.1,88.4 119.7,87.7 120.4,87 121,86.3 121.6,85.6 122.2,84.9 122.8,84.2 123.4,83.6 124.1,82.9 124.7,82.3 125.3,81.7 125.9,81.1 126.5,80.6 127.1,80.1 127.8,79.5 128.4,79.1 129,78.7 129.6,78.4 130.2,78.1 130.8,77.8 131.5,77.5 132.1,77.2 132.7,76.9 133.3,76.6 133.9,76.3 134.5,75.9 135.2,75.5 135.8,75.1 136.4,74.7 137,74.3 137.6,73.9 138.2,73.5 138.9,73 139.5,72.6 140.1,72 140.7,71.6 141.3,71 142,70.5 142.6,70 143.2,69.5"/>
<polyline stroke="#9467bd" stroke-width="1.25" points="75.3,127.1 75.9,126.4 76.5,125.7 77.2,125 77.8,124.4 78.4,123.7 79,123 79.6,122.3 80.3,121.6 80.9,120.9 81.5,120.2 82.1,119.5 82.7,118.8 83.3,118.1 84,117.5 84.6,116.9 85.2,116.2 85.8,115.6 86.4,114.9 87,114.3 87.7,113.6 88.3,112.9 88.9,112.2 89.5,111.5 90.1,110.8 90.7,110.1 91.4,109.4 92,108.8 92.6,108.1 93.2,107.4 93.8,106.7 94.4,106 95.1,105.3 95.7,104.5 96.3,103.8 96.9,103.1 97.5,102.3 98.1,101.6 98.8,100.9 99.4,100.2 100,99.5 100.6,98.9 101.2,98.2 101.8,97.5 102.5,96.9 103.1,96.2 103.7,95.5 104.3,94.8 104.9,94.2 105.5,93.5 106.2,92.8 106.8,92.1 107.4,91.4 108,90.7 108.6,89.9 109.2,89.2 109.9,88.5 110.5,87.8 111.1,87 111.7,86.3 112.3,85.5 113,84.8 113.6,84.1 114.2,83.3 114.8,82.6 115.4,82 116,81.3 116.7,80.7 117.3,80.1 117.9,79.5 118.5,78.9 119.1,78.3 119.7,77.8 120.4,77.3 121,76.8 121.6,76.3 122.2,75.8 122.8,75.3 123.4,74.9 124.1,74.4 124.7,73.9 125.3,73.5 125.9,73.1 126.5,72.6 127.1,72.1 127.8,71.6 128.4,71.2 129,70.7 129.6,70.3 130.2,69.8 130.8,69.5 131.5,69.1 132.1,68.9 132.7,68.7 133.3,68.5 133.9,68.3 134.5,68 135.2,67.8 135.8,67.6 136.4,67.3 137,67 137.6,66.7 138.2,66.2 138.9,65.9 139.5,65.5 140.1,65 140.7,64.5 141.3,64 142,63.5 142.6,63 143.2,62.4"/>
<polyline stroke="#8c564b" stroke-width="1.25" points="75.3,131.7 75.9,131 76.5,130.2 77.2,129.5 77.8,128.8 78.4,128 79,127.2 79.6,126.5 80.3,125.8 80.9,125.1 81.5,124.4 82.1,123.7 82.7,123.1 83.3,122.5 84,121.9 84.6,121.3 85.2,120.7 85.8,120 86.4,119.3 87,118.6 87.7,117.9 88.3,117.2 88.9,116.5 89.5,115.8 90.1,115.1 90.7,114.4 91.4,113.7 92,113 92.6,112.3 93.2,111.6 93.8,110.9 94.4,110.2 95.1,109.5 95.7,108.8 96.3,108.1 96.9,107.4 97.5,106.7 98.1,106.1 98.8,105.4 99.4,104.8 100,104.1 100.6,103.5 101.2,102.9 101.8,102.2 102.5,101.5 103.1,100.8 103.7,100.2 104.3,99.5 104.9,98.8 105.5,98.1 106.2,97.4 106.8,96.7 107.4,96.1 108,95.4 108.6,94.6 109.2,93.9 109.9,93.3 110.5,92.6 111.1,92 111.7,91.3 112.3,90.6 113,90 113.6,89.4 114.2,88.8 114.8,88.2 115.4,87.6 116,87 116.7,86.5 117.3,85.9 117.9,85.3 118.5,84.7 119.1,84.2 119.7,83.7 120.4,83.1 121,82.6 121.6,82.1 122.2,81.5 122.8,81.1 123.4,80.5 124.1,80 124.7,79.4 125.3,78.9 125.9,78.4 126.5,77.9 127.1,77.4 127.8,77 128.4,76.6 129,76.3 129.6,76 130.2,75.8 130.8,75.5 131.5,75.2 132.1,74.9 132.7,74.7 133.3,74.5 133.9,74.3 134.5,74 135.2,73.8 135.8,73.5 136.4,73.3 137,73 137.6,72.8 138.2,72.6 138.9,72.3 139.5,72.1 140.1,71.9 140.7,71.8 141.3,71.5 142,71.3 142.6,71 143.2,70.6"/>
<polyline stroke="#e377c2" stroke-width="1.25" points="75.3,132.8 75.9,132.1 76.5,131.5 77.2,130.9 77.8,130.3 78.4,129.6 79,129 79.6,128.4 80.3,127.8 80.9,127.2 81.5,126.6 82.1,126 82.7,125.3 83.3,124.7 84,124.1 84.6,123.5 85.2,122.9 85.8,122.2 86.4,121.6 87,121 87.7,120.3 88.3,119.7 88.9,119 89.5,118.3 90.1,117.7 90.7,117.1 91.4,116.4 92,115.8 92.6,115.2 93.2,114.7 93.8,114.1 94.4,113.5 95.1,112.8 95.7,112.2 96.3,111.6 96.9,110.9 97.5,110.3 98.1,109.6 98.8,109 99.4,108.4 100,107.7 100.6,107.1 101.2,106.4 101.8,105.8 102.5,105.1 103.1,104.4 103.7,103.7 104.3,103 104.9,102.3 105.5,101.7 106.2,101 106.8,100.3 107.4,99.6 108,98.9 108.6,98.2 109.2,97.6 109.9,96.9 110.5,96.2 111.1,95.6 111.7,94.9 112.3,94.3 113,93.6 113.6,92.9 114.2,92.2 114.8,91.6 115.4,91 116,90.3 116.7,89.7 117.3,89.1 117.9,88.6 118.5,88.1 119.1,87.6 119.7,87.1 120.4,86.6 121,86.1 121.6,85.7 122.2,85.2 122.8,84.7 123.4,84.2 124.1,83.7 124.7,83.1 125.3,82.7 125.9,82.2 126.5,81.7 127.1,81.4 127.8,81.1 128.4,80.8 129,80.5 129.6,80.3 130.2,80 130.8,79.8 131.5,79.5 132.1,79.2 132.7,78.9 133.3,78.6 133.9,78.4 134.5,78.1 135.2,77.9 135.8,77.7 136.4,77.5 137,77.4 137.6,77.2 138.2,77.1 138.9,76.9 139.5,76.8 140.1,76.6 140.7,76.4 141.3,76.2 142,76 142.6,75.8 143.2,75.5"/>
<polyline stroke="#7f7f7f" stroke-width="1.25" points="75.3,132.7 75.9,132 76.5,131.2 77.2,130.5 77.8,129.9 78.4,129.2 79,128.5 79.6,127.9 80.3,127.2 80.9,126.6 81.5,126 82.1,125.4 82.7,124.8 83.3,124.3 84,123.7 84.6,123.1 85.2,122.5 85.8,121.9 86.4,121.3 87,120.7 87.7,120 88.3,119.4 88.9,118.7 89.5,118.1 90.1,117.5 90.7,116.9 91.4,116.2 92,115.7 92.6,115.1 93.2,114.5 93.8,113.8 94.4,113.2 95.1,112.6 95.7,112 96.3,111.4 96.9,110.8 97.5,110.1 98.1,109.5 98.8,108.9 99.4,108.3 100,107.7 100.6,107.1 101.2,106.5 101.8,105.9 102.5,105.2 103.1,104.6 103.7,104 104.3,103.4 104.9,102.8 105.5,102.1 106.2,101.5 106.8,100.9 107.4,100.3 108,99.7 108.6,99 109.2,98.4 109.9,97.7 110.5,97.1 111.1,96.5 111.7,95.8 112.3,95.2 113,94.6 113.6,93.9 114.2,93.2 114.8,92.5 115.4,91.7 116,91 116.7,90.2 117.3,89.4 117.9,88.7 118.5,87.9 119.1,87.2 119.7,86.5 120.4,85.9 121,85.2 121.6,84.6 122.2,84.1 122.8,83.5 123.4,83.1 124.1,82.6 124.7,82.1 125.3,81.6 125.9,81.1 126.5,80.6 127.1,80.1 127.8,79.5 128.4,78.8 129,78.2 129.6,77.7 130.2,77.1 130.8,76.6 131.5,76.2 132.1,75.8 132.7,75.5 133.3,75.2 133.9,74.8 134.5,74.6 135.2,74.3 135.8,74 136.4,73.8 137,73.5 137.6,73.3 138.2,73.1 138.9,72.8 139.5,72.5 140.1,72.3 140.7,72 141.3,71.7 142,71.3 142.6,71 143.2,70.7"/>
<polyline stroke="#bcbd22" stroke-width="1.25" points="75.3,131.1 75.9,130.5 76.5,129.9 77.2,129.3 77.8,128.6 78.4,128 79,127.3 79.6,126.7 80.3,126 80.9,125.4 81.5,124.7 82.1,124.1 82.7,123.4 83.3,122.8 84,122.2 84.6,121.5 85.2,120.8 85.8,120.1 86.4,119.4 87,118.7 87.7,118 88.3,117.3 88.9,116.7 89.5,116.1 90.1,115.5 90.7,114.9 91.4,114.3 92,113.7 92.6,113 93.2,112.4 93.8,111.8 94.4,111.1 95.1,110.5 95.7,109.9 96.3,109.3 96.9,108.6 97.5,107.9 98.1,107.2 98.8,106.5 99.4,105.9 100,105.2 100.6,104.5 101.2,103.9 101.8,103.2 102.5,102.6 103.1,102 103.7,101.3 104.3,100.7 104.9,100.1 105.5,99.5 106.2,98.8 106.8,98.2 107.4,97.5 108,96.9 108.6,96.2 109.2,95.5 109.9,94.9 110.5,94.2 111.1,93.6 111.7,93 112.3,92.3 113,91.7 113.6,91.1 114.2,90.5 114.8,89.9 115.4,89.3 116,88.8 116.7,88.2 117.3,87.7 117.9,87.1 118.5,86.6 119.1,86 119.7,85.5 120.4,84.9 121,84.4 121.6,83.8 122.2,83.3 122.8,82.7 123.4,82.1 124.1,81.6 124.7,81.1 125.3,80.6 125.9,80.1 126.5,79.7 127.1,79.3 127.8,78.9 128.4,78.5 129,78.1 129.6,77.7 130.2,77.4 130.8,77.1 131.5,76.7 132.1,76.2 132.7,75.7 133.3,75.2 133.9,74.6 134.5,74.1 135.2,73.5 135.8,72.9 136.4,72.4 137,71.8 137.6,71.3 138.2,70.7 138.9,70.2 139.5,69.6 140.1,69 140.7,68.5 141.3,67.9 142,67.4 142.6,67 143.2,66.5"/>
<polyline stroke="#17becf" stroke-width="1.25" points="75.3,134.5 75.9,133.8 76.5,133.1 77.2,132.4 77.8,131.7 78.4,131 79,130.3 79.6,129.5 80.3,128.8 80.9,128 81.5,127.3 82.1,126.5 82.7,125.8 83.3,125.1 84,124.4 84.6,123.7 85.2,123 85.8,122.4 86.4,121.8 87,121.2 87.7,120.6 88.3,120.1 88.9,119.5 89.5,118.9 90.1,118.3 90.7,117.6 91.4,116.9 92,116.3 92.6,115.6 93.2,114.9 93.8,114.2 94.4,113.5 95.1,112.7 95.7,112 96.3,111.3 96.9,110.6 97.5,109.9 98.1,109.2 98.8,108.5 99.4,107.8 100,107.1 100.6,106.3 101.2,105.5 101.8,104.8 102.5,104 103.1,103.3 103.7,102.5 104.3,101.8 104.9,101.1 105.5,100.4 106.2,99.7 106.8,99.1 107.4,98.4 108,97.7 108.6,97.1 109.2,96.5 109.9,95.9 110.5,95.3 111.1,94.7 111.7,94 112.3,93.4 113,92.8 113.6,92.2 114.2,91.5 114.8,90.9 115.4,90.3 116,89.6 116.7,89 117.3,88.3 117.9,87.7 118.5,87 119.1,86.4 119.7,85.8 120.4,85.2 121,84.6 121.6,84.1 122.2,83.5 122.8,83 123.4,82.5 124.1,82 124.7,81.6 125.3,81 125.9,80.5 126.5,80.1 127.1,79.6 127.8,79.2 128.4,78.8 129,78.4 129.6,77.9 130.2,77.6 130.8,77.3 131.5,76.9 132.1,76.6 132.7,76.3 133.3,76 133.9,75.8 134.5,75.5 135.2,75.3 135.8,75.1 136.4,74.8 137,74.5 137.6,74.2 138.2,73.9 138.9,73.5 139.5,73.2 140.1,72.9 140.7,72.5 141.3,72.3 142,71.9 142.6,71.6 143.2,71.3"/>
<polyline stroke="#000" stroke-width="1.9" points="75.3,132.2 75.9,131.6 76.5,130.9 77.2,130.3 77.8,129.7 78.4,129 79,128.4 79.6,127.7 80.3,127.1 80.9,126.5 81.5,125.8 82.1,125.2 82.7,124.6 83.3,123.9 84,123.3 84.6,122.7 85.2,122 85.8,121.4 86.4,120.8 87,120.1 87.7,119.5 88.3,118.9 88.9,118.2 89.5,117.6 90.1,117 90.7,116.3 91.4,115.7 92,115.1 92.6,114.4 93.2,113.8 93.8,113.1 94.4,112.5 95.1,111.9 95.7,111.2 96.3,110.6 96.9,110 97.5,109.3 98.1,108.7 98.8,108.1 99.4,107.5 100,106.8 100.6,106.2 101.2,105.6 101.8,104.9 102.5,104.3 103.1,103.7 103.7,103 104.3,102.4 104.9,101.7 105.5,101.1 106.2,100.5 106.8,99.8 107.4,99.2 108,98.5 108.6,97.9 109.2,97.2 109.9,96.6 110.5,95.9 111.1,95.3 111.7,94.7 112.3,94 113,93.4 113.6,92.8 114.2,92.2 114.8,91.6 115.4,91 116,90.4 116.7,89.7 117.3,89.2 117.9,88.6 118.5,88 119.1,87.4 119.7,86.8 120.4,86.2 121,85.7 121.6,85.1 122.2,84.6 122.8,84.1 123.4,83.5 124.1,83 124.7,82.5 125.3,82 125.9,81.6 126.5,81.1 127.1,80.6 127.8,80.2 128.4,79.7 129,79.3 129.6,78.9 130.2,78.5 130.8,78.1 131.5,77.8 132.1,77.4 132.7,77 133.3,76.7 133.9,76.3 134.5,76 135.2,75.6 135.8,75.2 136.4,74.9 137,74.5 137.6,74.2 138.2,73.8 138.9,73.4 139.5,73 140.1,72.5 140.7,72.1 141.3,71.7 142,71.3 142.6,70.8 143.2,70.4"/>
<line x1="108.7" y1="66.6" x2="108.7" y2="131.8" stroke="#1a1a1a" stroke-width="1.4" stroke-dasharray="4.1 3.85"/>
</g>
<rect x="78.4" y="63.4" width="61.7" height="68.4" fill="none" stroke="#3a3a3a" stroke-width="1"/>
<path d="M78.4 131.8v3 M109.2 131.8v3 M140.1 131.8v3 M78.4 122.1h-3.4 M78.4 87.4h-3.4" stroke="#3a3a3a" stroke-width="0.9" fill="none"/>
<text x="78.4" y="145.9" font-size="9.3" text-anchor="middle" stroke="#262626" stroke-width="0.14" textLength="15.2" lengthAdjust="spacingAndGlyphs">200</text>
<text x="109.2" y="145.9" font-size="9.3" text-anchor="middle" stroke="#262626" stroke-width="0.14" textLength="15.2" lengthAdjust="spacingAndGlyphs">300</text>
<text x="140.1" y="145.9" font-size="9.3" text-anchor="middle" stroke="#262626" stroke-width="0.14" textLength="15.2" lengthAdjust="spacingAndGlyphs">400</text>
<text x="70.8" y="125.3" font-size="9.3" text-anchor="end" stroke="#262626" stroke-width="0.14" textLength="15.2" lengthAdjust="spacingAndGlyphs">200</text>
<text x="70.8" y="90.6" font-size="9.3" text-anchor="end" stroke="#262626" stroke-width="0.14" textLength="15.2" lengthAdjust="spacingAndGlyphs">300</text>
<rect x="52.2" y="53.2" width="267.1" height="226.8" fill="none" stroke="#3a3a3a" stroke-width="1"/>
<path d="M64.2 280v3.5 M118.2 280v3.5 M172.1 280v3.5 M226.1 280v3.5 M280 280v3.5 M52.2 272.9h-3.5 M52.2 245.8h-3.5 M52.2 218.8h-3.5 M52.2 191.8h-3.5 M52.2 164.8h-3.5 M52.2 137.8h-3.5 M52.2 110.8h-3.5 M52.2 83.8h-3.5 M52.2 56.8h-3.5" stroke="#3a3a3a" stroke-width="0.9" fill="none"/>
<text x="64.2" y="293.1" font-size="9.3" text-anchor="middle" stroke="#262626" stroke-width="0.14" textLength="5.1" lengthAdjust="spacingAndGlyphs">0</text>
<text x="118.2" y="293.1" font-size="9.3" text-anchor="middle" stroke="#262626" stroke-width="0.14" textLength="15.2" lengthAdjust="spacingAndGlyphs">200</text>
<text x="172.1" y="293.1" font-size="9.3" text-anchor="middle" stroke="#262626" stroke-width="0.14" textLength="15.2" lengthAdjust="spacingAndGlyphs">400</text>
<text x="226.1" y="293.1" font-size="9.3" text-anchor="middle" stroke="#262626" stroke-width="0.14" textLength="15.2" lengthAdjust="spacingAndGlyphs">600</text>
<text x="280" y="293.1" font-size="9.3" text-anchor="middle" stroke="#262626" stroke-width="0.14" textLength="15.2" lengthAdjust="spacingAndGlyphs">800</text>
<text x="44.6" y="276.1" font-size="9.3" text-anchor="end" stroke="#262626" stroke-width="0.14" textLength="5.1" lengthAdjust="spacingAndGlyphs">0</text>
<text x="44.6" y="249" font-size="9.3" text-anchor="end" stroke="#262626" stroke-width="0.14" textLength="15.2" lengthAdjust="spacingAndGlyphs">100</text>
<text x="44.6" y="222" font-size="9.3" text-anchor="end" stroke="#262626" stroke-width="0.14" textLength="15.2" lengthAdjust="spacingAndGlyphs">200</text>
<text x="44.6" y="195" font-size="9.3" text-anchor="end" stroke="#262626" stroke-width="0.14" textLength="15.2" lengthAdjust="spacingAndGlyphs">300</text>
<text x="44.6" y="168" font-size="9.3" text-anchor="end" stroke="#262626" stroke-width="0.14" textLength="15.2" lengthAdjust="spacingAndGlyphs">400</text>
<text x="44.6" y="141" font-size="9.3" text-anchor="end" stroke="#262626" stroke-width="0.14" textLength="15.2" lengthAdjust="spacingAndGlyphs">500</text>
<text x="44.6" y="114" font-size="9.3" text-anchor="end" stroke="#262626" stroke-width="0.14" textLength="15.2" lengthAdjust="spacingAndGlyphs">600</text>
<text x="44.6" y="87" font-size="9.3" text-anchor="end" stroke="#262626" stroke-width="0.14" textLength="15.2" lengthAdjust="spacingAndGlyphs">700</text>
<text x="44.6" y="60" font-size="9.3" text-anchor="end" stroke="#262626" stroke-width="0.14" textLength="15.2" lengthAdjust="spacingAndGlyphs">800</text>
<text x="0" y="0" font-size="9.3" text-anchor="middle" stroke="#262626" stroke-width="0.14" textLength="65" lengthAdjust="spacingAndGlyphs" transform="translate(24.4,164.6) rotate(-90)">Avoidance trials</text>
<defs><clipPath id="cla"><rect x="52.2" y="306.9" width="267.1" height="45.2"/></clipPath></defs>
<polyline clip-path="url(#cla)" fill="none" stroke="#1f77b4" stroke-width="1.35" stroke-linejoin="round" points="64.2,328.6 64.5,325.9 64.7,325 65,323.7 65.3,322 65.5,318.4 65.8,320.9 66.1,316.9 66.4,315.7 66.6,314.3 66.9,313.9 67.2,315.8 67.4,313.6 67.7,314.7 68,313.2 68.2,317 68.5,314.6 68.8,313.5 69.1,316.1 69.3,311.1 69.6,315 69.9,315.2 70.1,317.3 70.4,313.1 70.7,310.9 70.9,310.4 71.2,309.9 71.5,308.6 71.8,312.6 72,308.2 72.3,309.2 72.6,310.7 72.8,309.9 73.1,311.1 73.4,310.6 73.6,311.9 73.9,310.5 74.2,310.8 74.5,308 74.7,310.9 75,307 75.3,311.9 75.5,310.5 75.8,307.6 76.1,308.9 76.3,309.8 76.6,310.1 76.9,309.6 77.2,306.9 77.4,309 77.7,310.5 78,307.5 78.2,312.1 78.5,309.7 78.8,310.9 79,312.2 79.3,307.3 79.6,312.5 79.8,309.4 80.1,307.3 80.4,308.9 80.7,309.1 80.9,309.2 81.2,307.8 81.5,309 81.7,306.9 82,308.6 82.3,308.4 82.5,310.1 82.8,307.5 83.1,306.9 83.4,311.2 83.6,309 83.9,309 84.2,308.5 84.4,309.5 84.7,308.9 85,307.8 85.2,309.1 85.5,310.3 85.8,310.1 86.1,309.3 86.3,311.6 86.6,309.6 86.9,308.7 87.1,310 87.4,309.3 87.7,314.2 87.9,311.5 88.2,306.9 88.5,309.9 88.8,310.8 89,310 89.3,312.8 89.6,310 89.8,312.4 90.1,309.8 90.4,310.1 90.6,311.9 90.9,311.8 91.2,311 91.4,311.7 91.7,311.2 92,310.1 92.3,313.3 92.5,310.9 92.8,312.9 93.1,311.3 93.3,313.1 93.6,312.8 93.9,310.8 94.1,312.1 94.4,312.6 94.7,312.8 95,311.9 95.2,313.6 95.5,311.4 95.8,310.4 96,312.7 96.3,309.7 96.6,307.8 96.8,312.7 97.1,310 97.4,311.7 97.7,312 97.9,309.6 98.2,313.3 98.5,311.8 98.7,311 99,310.7 99.3,311.8 99.5,308.5 99.8,309.3 100.1,309.8 100.4,313 100.6,309.5 100.9,306.9 101.2,309.7 101.4,309.3 101.7,307.8 102,309.8 102.2,308.2 102.5,307.1 102.8,307.9 103.1,311.3 103.3,308.1 103.6,309 103.9,308.2 104.1,309.7 104.4,306.9 104.7,311.8 104.9,309.3 105.2,309.4 105.5,310.8 105.7,310.7 106,310.4 106.3,313.8 106.6,310.9 106.8,314 107.1,311.7 107.4,311.9 107.6,312.1 107.9,312.5 108.2,312.2 108.4,309.8 108.7,311 109,312.7 109.3,309.8 109.5,313 109.8,310 110.1,312.7 110.3,311.6 110.6,309.4 110.9,310.1 111.1,311.7 111.4,312.6 111.7,310.7 112,309.5 112.2,310.1 112.5,312.2 112.8,310.3 113,309.3 113.3,313.7 113.6,312 113.8,309.5 114.1,309 114.4,307.8 114.7,307.4 114.9,311.6 115.2,311.1 115.5,315.1 115.7,311.8 116,313.8 116.3,311 116.5,312.5 116.8,311.4 117.1,308.3 117.4,310.2 117.6,309.3 117.9,309.2 118.2,306.9 118.4,308.4 118.7,308.3 119,308.5 119.2,311.3 119.5,309.3 119.8,308.6 120,312.3 120.3,309.9 120.6,313.1 120.9,307.8 121.1,313.6 121.4,313.8 121.7,313.4 121.9,309.6 122.2,310 122.5,309.5 122.7,312.8 123,312.3 123.3,310.9 123.6,309.5 123.8,309.4 124.1,308.2 124.4,306.9 124.6,309.1 124.9,313.4 125.2,313.3 125.4,312.2 125.7,309.5 126,312.4 126.3,313.6 126.5,313.9 126.8,314.1 127.1,313.8 127.3,311.8 127.6,310.1 127.9,311.6 128.1,311.6 128.4,311.6 128.7,312.3 129,311 129.2,309.7 129.5,309 129.8,312 130,308.3 130.3,309.5 130.6,311.2 130.8,306.9 131.1,308.1 131.4,310.1 131.7,310.3 131.9,309.2 132.2,309.4 132.5,310 132.7,311.3 133,308.7 133.3,310.3 133.5,309.4 133.8,311.3 134.1,311.7 134.3,309.7 134.6,308.5 134.9,310.9 135.2,309.6 135.4,309.1 135.7,313.2 136,308.2 136.2,308.7 136.5,315.4 136.8,311.9 137,310.5 137.3,312.3 137.6,311.2 137.9,311.8 138.1,309.4 138.4,312.1 138.7,312.9 138.9,311.1 139.2,313.4 139.5,310.1 139.7,314.8 140,311.1 140.3,311.3 140.6,313.3 140.8,312.3 141.1,309.3 141.4,309.8 141.6,309.5 141.9,312.5 142.2,309.4 142.4,309 142.7,311.1 143,312.4 143.3,309.5 143.5,310.3 143.8,312.6 144.1,314.1 144.3,311.2 144.6,312.2 144.9,312.4 145.1,311.3 145.4,312.7 145.7,316.1 145.9,312.7 146.2,306.9 146.5,310.7 146.8,313.4 147,314.8 147.3,312.4 147.6,312.3 147.8,314.4 148.1,312.2 148.4,311.6 148.6,308.9 148.9,310.2 149.2,310.5 149.5,311.8 149.7,311.4 150,309 150.3,312 150.5,315.8 150.8,309.2 151.1,312.1 151.3,314.4 151.6,311.6 151.9,314.6 152.2,310.2 152.4,312.4 152.7,314.4 153,313.5 153.2,312.7 153.5,317.2 153.8,313.8 154,314.6 154.3,314.8 154.6,318.1 154.9,317.5 155.1,316.2 155.4,316.1 155.7,316.9 155.9,323.7 156.2,320.5 156.5,319.7 156.7,322 157,318.2 157.3,317.8 157.6,319.2 157.8,322.7 158.1,321.5 158.4,320.6 158.6,320.5 158.9,324.3 159.2,321.5 159.4,322.7 159.7,319.3 160,320.5 160.2,321.1 160.5,323.1 160.8,322.9 161.1,318.7 161.3,324.3 161.6,324.5 161.9,321.9 162.1,318.5 162.4,323.4 162.7,323.8 162.9,325.8 163.2,324.7 163.5,326.7 163.8,327.2 164,326.6 164.3,327.9 164.6,323.9 164.8,327.3 165.1,328 165.4,327.4 165.6,327.1 165.9,329.7 166.2,323.9 166.5,327.1 166.7,329.6 167,329.6 167.3,327.5 167.5,331.9 167.8,325 168.1,331.9 168.3,327.8 168.6,325.9 168.9,326.2 169.2,329.7 169.4,329.9 169.7,326.8 170,326.2 170.2,324.6 170.5,328.3 170.8,325.6 171,330 171.3,327 171.6,325.2 171.9,325.2 172.1,327.3 172.4,322.2 172.7,325.1 172.9,326.6 173.2,323.5 173.5,326.2 173.7,327.5 174,326.3 174.3,321.4 174.5,325.3 174.8,322.9 175.1,326 175.4,323.6 175.6,324.6 175.9,323.9 176.2,325 176.4,321.2 176.7,320.9 177,322.4 177.2,323.2 177.5,323.1 177.8,323.7 178.1,323 178.3,322.9 178.6,321.3 178.9,322.9 179.1,324 179.4,319.1 179.7,323.3 179.9,319 180.2,322.1 180.5,322.7 180.8,320.6 181,317.6 181.3,321.2 181.6,318.8 181.8,318.2 182.1,324.4 182.4,319.7 182.6,319.3 182.9,320.4 183.2,322.2 183.5,321.6 183.7,321.7 184,319.3 184.3,322 184.5,320.7 184.8,320.3 185.1,321.9 185.3,323.2 185.6,322.9 185.9,319 186.1,322.3 186.4,320.8 186.7,320.4 187,317.6 187.2,317.8 187.5,320.9 187.8,323.4 188,319.9 188.3,317.9 188.6,316.9 188.8,320.9 189.1,318.6 189.4,322 189.7,320.8 189.9,321.6 190.2,320.4 190.5,322.6 190.7,324.1 191,322.6 191.3,323 191.5,321.9 191.8,322.7 192.1,323.1 192.4,322.8 192.6,325.1 192.9,322.8 193.2,320.9 193.4,322.7 193.7,322.7 194,323.7 194.2,324.2 194.5,324 194.8,324.7 195.1,321.1 195.3,321.7 195.6,327.7 195.9,321.5 196.1,324.2 196.4,323.2 196.7,319.5 196.9,329.2 197.2,324.8 197.5,324.1 197.8,327.7 198,327.2 198.3,325 198.6,323.5 198.8,323.9 199.1,319.9 199.4,326.1 199.6,323.9 199.9,321.2 200.2,328.4 200.4,325.4 200.7,325.6 201,324 201.3,323.5 201.5,322.7 201.8,325.3 202.1,324.8 202.3,322.5 202.6,321.8 202.9,325.1 203.1,321.8 203.4,324.9 203.7,326 204,329 204.2,325.1 204.5,325.4 204.8,324.1 205,322.6 205.3,322 205.6,322.2 205.8,326.4 206.1,323.5 206.4,323.8 206.7,324.8 206.9,324.1 207.2,325.7 207.5,326.8 207.7,320.2 208,324.2 208.3,326.4 208.5,321.3 208.8,325.3 209.1,323.9 209.4,324.9 209.6,319.5 209.9,324.7 210.2,327.5 210.4,328 210.7,327.2 211,323 211.2,324.5 211.5,326.6 211.8,329.4 212.1,327.7 212.3,327.2 212.6,326 212.9,327.6 213.1,325 213.4,326.7 213.7,329.2 213.9,328.7 214.2,326.8 214.5,326.4 214.7,325.6 215,325.8 215.3,324.7 215.6,320.5 215.8,321.8 216.1,323.6 216.4,326 216.6,325.6 216.9,323.1 217.2,321.5 217.4,323.3 217.7,325.9 218,328.2 218.3,328.4 218.5,326.9 218.8,325.5 219.1,329.8 219.3,326.7 219.6,325.3 219.9,323.9 220.1,324.8 220.4,327 220.7,323.7 221,322.7 221.2,323.9 221.5,325.6 221.8,327.9 222,326 222.3,328.7 222.6,325.1 222.8,326.3 223.1,323 223.4,328.4 223.7,325.2 223.9,323.2 224.2,328.1 224.5,326.1 224.7,327.9 225,321.5 225.3,326 225.5,324.6 225.8,327.9 226.1,312.1 226.3,312 226.6,313 226.9,313.6 227.2,311.7 227.4,313.9 227.7,313.3 228,309 228.2,311.8 228.5,312.3 228.8,311 229,309 229.3,314.5 229.6,309.9 229.9,313.2 230.1,309.9 230.4,310.8 230.7,309.3 230.9,312.4 231.2,309.6 231.5,309.9 231.7,312.2 232,314.3 232.3,315.2 232.6,317.1 232.8,313.9 233.1,312 233.4,312.7 233.6,313.5 233.9,316.7 234.2,315.1 234.4,313.9 234.7,315.5 235,312.7 235.3,314.6 235.5,307.7 235.8,317 236.1,312.4 236.3,314.7 236.6,318.1 236.9,313.3 237.1,314.2 237.4,314.3 237.7,313.9 238,315.9 238.2,313.1 238.5,311.7 238.8,312.8 239,312.3 239.3,317.4 239.6,315.4 239.8,314.2 240.1,311.3 240.4,316 240.6,312.9 240.9,315.8 241.2,318 241.5,316 241.7,313.7 242,313.7 242.3,314.6 242.5,311.4 242.8,316.5 243.1,314.3 243.3,313.6 243.6,313.9 243.9,319.1 244.2,315.3 244.4,317.1 244.7,315.6 245,318.3 245.2,321.7 245.5,316.9 245.8,317.9 246,322.6 246.3,314.1 246.6,314.6 246.9,317.2 247.1,315.2 247.4,315.4 247.7,317.6 247.9,314.8 248.2,313.2 248.5,318.2 248.7,319.8 249,318.1 249.3,317.1 249.6,317.7 249.8,316.7 250.1,316.6 250.4,317.8 250.6,316.8 250.9,322.7 251.2,315.3 251.4,321.9 251.7,318.7 252,318.1 252.3,317.5 252.5,317.1 252.8,321.5 253.1,323.7 253.3,323.2 253.6,315.3 253.9,318.2 254.1,319.8 254.4,318.1 254.7,314.9 254.9,321.5 255.2,319.8 255.5,317.2 255.8,311.9 256,317.8 256.3,317.5 256.6,319.4 256.8,316.1 257.1,321.5 257.4,316.5 257.6,317.6 257.9,316 258.2,318.4 258.5,322.8 258.7,318.1 259,322.7 259.3,320.8 259.5,319 259.8,319.2 260.1,322.5 260.3,317.3 260.6,322.6 260.9,320.3 261.2,321.6 261.4,314.2 261.7,323.1 262,319.7 262.2,319.2 262.5,316.4 262.8,317.7 263,317.9 263.3,320.6 263.6,319.2 263.9,321.8 264.1,319.6 264.4,318.2 264.7,320.7 264.9,316.8 265.2,317.6 265.5,319.4 265.7,317.4 266,318.6 266.3,321.8 266.6,324.4 266.8,318.7 267.1,319.5 267.4,322 267.6,323.9 267.9,323.1 268.2,322.5 268.4,321 268.7,318 269,324.2 269.2,321.8 269.5,317.1 269.8,323.8 270.1,320.9 270.3,322.8 270.6,319 270.9,326.4 271.1,321.9 271.4,322.3 271.7,323 271.9,322.2 272.2,324.7 272.5,322.1 272.8,321.1 273,318.9 273.3,323.3 273.6,320.6 273.8,323.6 274.1,321.6 274.4,324.5 274.6,321.2 274.9,319.9 275.2,321.8 275.5,325.5 275.7,322.8 276,319.3 276.3,324 276.5,322.4 276.8,321.7 277.1,323.6 277.3,324 277.6,319.7 277.9,317.9 278.2,320.6 278.4,323.4 278.7,323.8 279,326.3 279.2,321.6 279.5,325.9 279.8,317.7 280,323.2 280.3,328.5 280.6,324.2 280.8,324.7 281.1,325.5 281.4,323.8 281.7,321.9 281.9,321.1 282.2,322.3 282.5,322.5 282.7,322.4 283,325.3 283.3,323.8 283.5,321.7 283.8,324 284.1,325.1 284.4,323.8 284.6,320.2 284.9,319.9 285.2,324.3 285.4,321.8 285.7,326.6 286,321.3 286.2,323.2 286.5,325.2 286.8,322.3 287.1,322.8 287.3,321.4 287.6,320.6 287.9,324.2 288.1,325.1 288.4,323.7 288.7,324.3 288.9,323.9 289.2,320.3 289.5,325 289.8,327.4 290,326 290.3,327.1 290.6,320.3 290.8,321.8 291.1,323.7 291.4,325.3 291.6,320.9 291.9,325.8 292.2,322 292.5,321.3 292.7,322.2 293,325 293.3,325.9 293.5,324.1 293.8,322.4 294.1,322.2 294.3,322 294.6,320.5 294.9,323.4 295.1,324.4 295.4,324.8 295.7,322.7 296,323 296.2,325.1 296.5,325 296.8,321.6 297,323.5 297.3,324.5 297.6,324.1 297.8,326.3 298.1,324 298.4,325.6 298.7,328.1 298.9,322.5 299.2,323.4 299.5,324.4 299.7,325.5 300,323.3 300.3,325.6 300.5,323.6 300.8,324.4 301.1,322.5 301.4,325.6 301.6,324.2 301.9,322.3 302.2,328.5 302.4,328.1 302.7,322.3 303,324.6 303.2,324.5 303.5,324.4 303.8,322.8 304.1,323.6 304.3,328 304.6,328.5 304.9,326.9 305.1,324.9 305.4,326.7 305.7,328.3 305.9,323.1 306.2,325.4 306.5,325.2 306.8,322.7 307,325.7"/>
<line x1="144.7" y1="352.7" x2="144.7" y2="306.9" stroke="#1a1a1a" stroke-width="1.4" stroke-dasharray="3.8 3.1"/>
<line x1="225.6" y1="352.7" x2="225.6" y2="306.9" stroke="#1a1a1a" stroke-width="1.4" stroke-dasharray="3.8 3.1"/>
<rect x="52.2" y="306.9" width="267.1" height="45.2" fill="none" stroke="#3a3a3a" stroke-width="1"/>
<path d="M64.2 352.1v3.4 M118.2 352.1v3.4 M172.1 352.1v3.4 M226.1 352.1v3.4 M280 352.1v3.4 M52.2 352.1h-3.5 M52.2 329.5h-3.5 M52.2 306.9h-3.5" stroke="#3a3a3a" stroke-width="0.9" fill="none"/>
<text x="64.2" y="365.7" font-size="9.3" text-anchor="middle" stroke="#262626" stroke-width="0.14" textLength="5.1" lengthAdjust="spacingAndGlyphs">0</text>
<text x="118.2" y="365.7" font-size="9.3" text-anchor="middle" stroke="#262626" stroke-width="0.14" textLength="15.2" lengthAdjust="spacingAndGlyphs">200</text>
<text x="172.1" y="365.7" font-size="9.3" text-anchor="middle" stroke="#262626" stroke-width="0.14" textLength="15.2" lengthAdjust="spacingAndGlyphs">400</text>
<text x="226.1" y="365.7" font-size="9.3" text-anchor="middle" stroke="#262626" stroke-width="0.14" textLength="15.2" lengthAdjust="spacingAndGlyphs">600</text>
<text x="280" y="365.7" font-size="9.3" text-anchor="middle" stroke="#262626" stroke-width="0.14" textLength="15.2" lengthAdjust="spacingAndGlyphs">800</text>
<text x="44.8" y="355.3" font-size="9.3" text-anchor="end" stroke="#262626" stroke-width="0.14" textLength="12.9" lengthAdjust="spacingAndGlyphs">0.0</text>
<text x="44.8" y="332.7" font-size="9.3" text-anchor="end" stroke="#262626" stroke-width="0.14" textLength="12.9" lengthAdjust="spacingAndGlyphs">0.5</text>
<text x="44.8" y="310.1" font-size="9.3" text-anchor="end" stroke="#262626" stroke-width="0.14" textLength="12.9" lengthAdjust="spacingAndGlyphs">1.0</text>
<text x="0" y="0" font-size="9.3" text-anchor="middle" stroke="#262626" stroke-width="0.14" textLength="78" lengthAdjust="spacingAndGlyphs" transform="translate(26.4,330.3) rotate(-90)">mean curve slope</text>
<text x="185.8" y="377.9" font-size="9.3" text-anchor="middle" stroke="#262626" stroke-width="0.14" textLength="22.6" lengthAdjust="spacingAndGlyphs">Trials</text>
<text x="47.3" y="36.9" font-size="9.3" text-anchor="start" stroke="#262626" stroke-width="0.14" textLength="70.2" lengthAdjust="spacingAndGlyphs">Fear acquisition</text>
<text x="152.2" y="36.9" font-size="9.3" text-anchor="start" stroke="#262626" stroke-width="0.14" textLength="66.1" lengthAdjust="spacingAndGlyphs">Fear extinction</text>
<text x="239.1" y="36.9" font-size="9.3" text-anchor="start" stroke="#262626" stroke-width="0.14" textLength="81.3" lengthAdjust="spacingAndGlyphs">Return of fear test</text>
<path d="M164.4 193.7 L159.3 199.3 L161.9 199.3 L161.9 212.1 L166.9 212.1 L166.9 199.3 L169.5 199.3 Z" fill="#ee1c25"/>
</g>
<g transform="translate(361.2,0)">
<defs><clipPath id="cib"><rect x="78.4" y="63.4" width="61.7" height="68.4"/></clipPath><clipPath id="cmb"><rect x="52.2" y="53.2" width="267.1" height="226.8"/></clipPath></defs>
<g fill="none" stroke-linejoin="round" stroke-linecap="butt" clip-path="url(#cmb)">
<polyline stroke="#1f77b4" stroke-width="1.25" points="64.2,272.9 65.8,272 67.4,270.8 69.1,269.7 70.7,268.5 72.3,267.4 73.9,266.2 75.5,265.1 77.2,263.9 78.8,262.8 80.4,261.7 82,260.5 83.6,259.4 85.2,258.3 86.9,257.2 88.5,256.1 90.1,255 91.7,253.9 93.3,252.8 95,251.7 96.6,250.6 98.2,249.5 99.8,248.4 101.4,247.2 103.1,246.1 104.7,244.9 106.3,243.7 107.9,242.6 109.5,241.4 111.1,240.3 112.8,239.1 114.4,238 116,236.9 117.6,235.9 119.2,234.8 120.9,233.7 122.5,232.6 124.1,231.5 125.7,230.4 127.3,229.3 129,228.1 130.6,226.9 132.2,225.7 133.8,224.6 135.4,223.4 137,222.2 138.7,221 140.3,219.9 141.9,218.7 143.5,217.6 145.1,216.4 146.8,215.1 148.4,213.8 150,212.6 151.6,211.3 153.2,210.1 154.9,208.9 156.5,207.7 158.1,206.5 159.7,205.3 161.3,204.1 162.9,202.8 164.6,201.6 166.2,200.4 167.8,199.2 169.4,198 171,196.8 172.7,195.7 174.3,194.5 175.9,193.4 177.5,192.3 179.1,191.2 180.8,190.1 182.4,189.1 184,188 185.6,186.9 187.2,185.8 188.8,184.7 190.5,183.6 192.1,182.5 193.7,181.4 195.3,180.3 196.9,179.2 198.6,178.1 200.2,177 201.8,175.9 203.4,174.7 205,173.6 206.7,172.4 208.3,171.2 209.9,170 211.5,168.7 213.1,167.5 214.7,166.3 216.4,165.1 218,163.9 219.6,162.6 221.2,161.4 222.8,160.1 224.5,158.8 226.1,157.5 227.7,156.3 229.3,155.1 230.9,153.9 232.6,152.7 234.2,151.5 235.8,150.4 237.4,149.3 239,148.1 240.6,146.9 242.3,145.7 243.9,144.5 245.5,143.3 247.1,142.1 248.7,140.9 250.4,139.8 252,138.7 253.6,137.6 255.2,136.5 256.8,135.4 258.5,134.2 260.1,132.9 261.7,131.8 263.3,130.6 264.9,129.5 266.6,128.5 268.2,127.4 269.8,126.3 271.4,125.3 273,124.2 274.6,123.1 276.3,122 277.9,121 279.5,120 281.1,119 282.7,117.9 284.4,116.8 286,115.8 287.6,114.7 289.2,113.6 290.8,112.6 292.5,111.7 294.1,110.7 295.7,109.9 297.3,109 298.9,108.3 300.5,107.6 302.2,106.9 303.8,106.3 305.4,105.7 307,105.3"/>
<polyline stroke="#ff7f0e" stroke-width="1.25" points="64.2,272.9 65.8,271.8 67.4,270.6 69.1,269.4 70.7,268.1 72.3,266.9 73.9,265.6 75.5,264.4 77.2,263.1 78.8,261.9 80.4,260.7 82,259.5 83.6,258.3 85.2,257.2 86.9,256 88.5,254.8 90.1,253.7 91.7,252.5 93.3,251.3 95,250.1 96.6,248.9 98.2,247.7 99.8,246.5 101.4,245.4 103.1,244.2 104.7,243 106.3,241.8 107.9,240.5 109.5,239.3 111.1,238.1 112.8,236.9 114.4,235.7 116,234.5 117.6,233.2 119.2,232 120.9,230.8 122.5,229.6 124.1,228.4 125.7,227.2 127.3,226.1 129,224.9 130.6,223.7 132.2,222.6 133.8,221.4 135.4,220.2 137,219 138.7,217.7 140.3,216.5 141.9,215.3 143.5,214 145.1,212.9 146.8,212.4 148.4,211.8 150,211.2 151.6,210.7 153.2,210.1 154.9,209.5 156.5,208.8 158.1,208.2 159.7,207.5 161.3,206.9 162.9,206.4 164.6,205.8 166.2,205.2 167.8,204.6 169.4,204.1 171,203.6 172.7,203.1 174.3,202.7 175.9,202.2 177.5,201.9 179.1,201.5 180.8,201.1 182.4,200.5 184,200 185.6,199.5 187.2,198.9 188.8,198.4 190.5,197.8 192.1,197.3 193.7,196.8 195.3,196.3 196.9,195.8 198.6,195.3 200.2,194.8 201.8,194.3 203.4,193.9 205,193.4 206.7,192.9 208.3,192.3 209.9,191.8 211.5,191.3 213.1,190.7 214.7,190.1 216.4,189.5 218,188.8 219.6,188.1 221.2,187.4 222.8,186.8 224.5,186.2 226.1,185.5 227.7,184.3 229.3,183.1 230.9,181.9 232.6,180.7 234.2,179.5 235.8,178.3 237.4,177.1 239,175.9 240.6,174.8 242.3,173.7 243.9,172.6 245.5,171.6 247.1,170.5 248.7,169.4 250.4,168.3 252,167.2 253.6,166 255.2,164.8 256.8,163.6 258.5,162.5 260.1,161.3 261.7,160.2 263.3,159.2 264.9,158.2 266.6,157.2 268.2,156.1 269.8,155.1 271.4,153.9 273,152.8 274.6,151.6 276.3,150.4 277.9,149.2 279.5,148 281.1,146.9 282.7,145.7 284.4,144.5 286,143.3 287.6,142.2 289.2,141.2 290.8,140.3 292.5,139.5 294.1,138.8 295.7,138.1 297.3,137.4 298.9,136.8 300.5,136.1 302.2,135.5 303.8,135 305.4,134.6 307,134.3"/>
<polyline stroke="#2ca02c" stroke-width="1.25" points="64.2,272.9 65.8,271.8 67.4,270.5 69.1,269.2 70.7,267.9 72.3,266.6 73.9,265.4 75.5,264.2 77.2,263 78.8,261.7 80.4,260.5 82,259.2 83.6,258 85.2,256.7 86.9,255.5 88.5,254.3 90.1,253.1 91.7,251.9 93.3,250.7 95,249.6 96.6,248.4 98.2,247.2 99.8,246 101.4,244.8 103.1,243.7 104.7,242.5 106.3,241.3 107.9,240.1 109.5,238.9 111.1,237.8 112.8,236.6 114.4,235.4 116,234.2 117.6,233 119.2,231.8 120.9,230.6 122.5,229.4 124.1,228.2 125.7,227 127.3,225.8 129,224.6 130.6,223.4 132.2,222.2 133.8,220.9 135.4,219.7 137,218.5 138.7,217.2 140.3,216 141.9,214.8 143.5,213.6 145.1,212.3 146.8,211.1 148.4,209.9 150,208.8 151.6,207.7 153.2,206.7 154.9,205.7 156.5,204.7 158.1,203.7 159.7,202.7 161.3,201.6 162.9,200.5 164.6,199.4 166.2,198.2 167.8,197.1 169.4,195.9 171,194.7 172.7,193.6 174.3,192.4 175.9,191.2 177.5,190 179.1,188.8 180.8,187.7 182.4,186.6 184,185.4 185.6,184.4 187.2,183.3 188.8,182.2 190.5,181.2 192.1,180.1 193.7,178.9 195.3,177.8 196.9,176.6 198.6,175.5 200.2,174.3 201.8,173.1 203.4,171.9 205,170.8 206.7,169.7 208.3,168.5 209.9,167.4 211.5,166.3 213.1,165.2 214.7,164.1 216.4,163.1 218,162 219.6,160.9 221.2,159.7 222.8,158.5 224.5,157.4 226.1,156.2 227.7,154.9 229.3,153.7 230.9,152.5 232.6,151.4 234.2,150.1 235.8,148.9 237.4,147.6 239,146.4 240.6,145.2 242.3,143.9 243.9,142.6 245.5,141.4 247.1,140.2 248.7,139 250.4,137.8 252,136.6 253.6,135.4 255.2,134.1 256.8,132.8 258.5,131.5 260.1,130.1 261.7,128.8 263.3,127.5 264.9,126.2 266.6,124.9 268.2,123.7 269.8,122.5 271.4,121.3 273,120 274.6,118.8 276.3,117.4 277.9,116.1 279.5,114.7 281.1,113.3 282.7,111.9 284.4,110.5 286,109.3 287.6,108.1 289.2,107 290.8,106.1 292.5,105.2 294.1,104.4 295.7,103.6 297.3,102.9 298.9,102.2 300.5,101.6 302.2,101.1 303.8,100.5 305.4,100 307,99.6"/>
<polyline stroke="#d62728" stroke-width="1.25" points="64.2,272.9 65.8,272 67.4,271 69.1,269.9 70.7,268.8 72.3,267.6 73.9,266.5 75.5,265.3 77.2,264.1 78.8,263 80.4,261.9 82,260.8 83.6,259.8 85.2,258.7 86.9,257.6 88.5,256.5 90.1,255.4 91.7,254.3 93.3,253.2 95,252 96.6,250.9 98.2,249.8 99.8,248.7 101.4,247.5 103.1,246.4 104.7,245.3 106.3,244.2 107.9,243.1 109.5,242 111.1,240.8 112.8,239.7 114.4,238.5 116,237.4 117.6,236.3 119.2,235.1 120.9,234 122.5,232.8 124.1,231.8 125.7,230.7 127.3,229.6 129,228.5 130.6,227.5 132.2,226.4 133.8,225.4 135.4,224.3 137,223.2 138.7,222 140.3,220.9 141.9,219.8 143.5,218.7 145.1,217.6 146.8,217.2 148.4,216.7 150,216.3 151.6,215.8 153.2,215.2 154.9,214.7 156.5,214.2 158.1,213.8 159.7,213.3 161.3,212.8 162.9,212.4 164.6,212 166.2,211.5 167.8,211.1 169.4,210.7 171,210.2 172.7,209.7 174.3,209.2 175.9,208.7 177.5,208.2 179.1,207.7 180.8,207.2 182.4,206.6 184,206.1 185.6,205.4 187.2,204.8 188.8,204.2 190.5,203.7 192.1,203.2 193.7,202.8 195.3,202.4 196.9,202.1 198.6,201.8 200.2,201.4 201.8,201 203.4,200.6 205,200.2 206.7,199.8 208.3,199.5 209.9,199.1 211.5,198.8 213.1,198.4 214.7,198.1 216.4,197.8 218,197.5 219.6,197.2 221.2,196.8 222.8,196.4 224.5,196 226.1,195.4 227.7,194.2 229.3,192.9 230.9,191.7 232.6,190.4 234.2,189.1 235.8,187.9 237.4,186.8 239,185.6 240.6,184.5 242.3,183.4 243.9,182.3 245.5,181.2 247.1,180 248.7,178.8 250.4,177.7 252,176.5 253.6,175.3 255.2,174.1 256.8,172.8 258.5,171.6 260.1,170.5 261.7,169.3 263.3,168 264.9,166.9 266.6,165.8 268.2,164.8 269.8,163.6 271.4,162.5 273,161.4 274.6,160.3 276.3,159.2 277.9,158.1 279.5,157 281.1,155.9 282.7,154.8 284.4,153.7 286,152.6 287.6,151.5 289.2,150.4 290.8,149.4 292.5,148.6 294.1,147.8 295.7,147.1 297.3,146.5 298.9,145.9 300.5,145.4 302.2,144.8 303.8,144.2 305.4,143.6 307,143"/>
<polyline stroke="#9467bd" stroke-width="1.25" points="64.2,272.9 65.8,271.8 67.4,270.6 69.1,269.4 70.7,268.2 72.3,267 73.9,265.8 75.5,264.6 77.2,263.4 78.8,262.2 80.4,261 82,259.7 83.6,258.6 85.2,257.4 86.9,256.2 88.5,255.1 90.1,254 91.7,252.9 93.3,251.8 95,250.6 96.6,249.5 98.2,248.4 99.8,247.2 101.4,246.1 103.1,244.9 104.7,243.7 106.3,242.6 107.9,241.4 109.5,240.2 111.1,239 112.8,237.8 114.4,236.6 116,235.4 117.6,234.2 119.2,233 120.9,231.8 122.5,230.7 124.1,229.4 125.7,228.2 127.3,227 129,225.8 130.6,224.6 132.2,223.4 133.8,222.3 135.4,221.1 137,220 138.7,218.8 140.3,217.7 141.9,216.5 143.5,215.3 145.1,214.2 146.8,213 148.4,211.9 150,210.8 151.6,209.7 153.2,208.5 154.9,207.3 156.5,206.2 158.1,205.1 159.7,204 161.3,203 162.9,201.9 164.6,200.9 166.2,199.8 167.8,198.7 169.4,197.5 171,196.3 172.7,195.1 174.3,193.9 175.9,192.7 177.5,191.5 179.1,190.3 180.8,189.1 182.4,187.8 184,186.6 185.6,185.4 187.2,184.1 188.8,182.8 190.5,181.5 192.1,180.2 193.7,179 195.3,177.8 196.9,176.7 198.6,175.5 200.2,174.5 201.8,173.4 203.4,172.3 205,171.2 206.7,170 208.3,168.9 209.9,167.7 211.5,166.5 213.1,165.4 214.7,164.4 216.4,163.4 218,162.4 219.6,161.5 221.2,160.6 222.8,159.7 224.5,158.8 226.1,157.8 227.7,156.8 229.3,155.8 230.9,154.7 232.6,153.7 234.2,152.6 235.8,151.5 237.4,150.4 239,149.3 240.6,148.2 242.3,147 243.9,145.8 245.5,144.6 247.1,143.4 248.7,142.3 250.4,141.2 252,140 253.6,138.9 255.2,137.8 256.8,136.7 258.5,135.4 260.1,134.3 261.7,133.1 263.3,132 264.9,130.8 266.6,129.6 268.2,128.5 269.8,127.4 271.4,126.2 273,125 274.6,123.7 276.3,122.5 277.9,121.2 279.5,120 281.1,118.8 282.7,117.7 284.4,116.6 286,115.6 287.6,114.7 289.2,113.8 290.8,112.9 292.5,112.1 294.1,111.3 295.7,110.5 297.3,109.8 298.9,109.1 300.5,108.5 302.2,107.9 303.8,107.3 305.4,106.6 307,105.9"/>
<polyline stroke="#8c564b" stroke-width="1.25" points="64.2,272.9 65.8,272 67.4,270.9 69.1,269.8 70.7,268.7 72.3,267.6 73.9,266.6 75.5,265.5 77.2,264.4 78.8,263.3 80.4,262.2 82,261.1 83.6,260 85.2,258.9 86.9,257.8 88.5,256.7 90.1,255.6 91.7,254.4 93.3,253.3 95,252.1 96.6,251 98.2,249.9 99.8,248.7 101.4,247.6 103.1,246.5 104.7,245.4 106.3,244.4 107.9,243.4 109.5,242.4 111.1,241.3 112.8,240.3 114.4,239.2 116,238.1 117.6,237 119.2,235.9 120.9,234.7 122.5,233.6 124.1,232.4 125.7,231.2 127.3,230 129,228.9 130.6,227.7 132.2,226.5 133.8,225.4 135.4,224.3 137,223.2 138.7,222.1 140.3,220.9 141.9,219.8 143.5,218.7 145.1,217.5 146.8,216.3 148.4,215.1 150,213.8 151.6,212.6 153.2,211.4 154.9,210.2 156.5,209 158.1,207.9 159.7,206.7 161.3,205.7 162.9,204.5 164.6,203.5 166.2,202.5 167.8,201.5 169.4,200.5 171,199.5 172.7,198.5 174.3,197.5 175.9,196.4 177.5,195.3 179.1,194.2 180.8,193 182.4,191.8 184,190.8 185.6,189.7 187.2,188.6 188.8,187.5 190.5,186.4 192.1,185.3 193.7,184.1 195.3,182.9 196.9,181.6 198.6,180.4 200.2,179.2 201.8,178 203.4,176.9 205,175.8 206.7,174.7 208.3,173.6 209.9,172.5 211.5,171.4 213.1,170.4 214.7,169.4 216.4,168.3 218,167.2 219.6,166.3 221.2,165.3 222.8,164.3 224.5,163.3 226.1,162.2 227.7,160.9 229.3,159.6 230.9,158.2 232.6,156.9 234.2,155.5 235.8,154.2 237.4,152.8 239,151.5 240.6,150.1 242.3,148.7 243.9,147.4 245.5,146.1 247.1,144.8 248.7,143.6 250.4,142.5 252,141.3 253.6,140.1 255.2,138.8 256.8,137.5 258.5,136.1 260.1,134.7 261.7,133.2 263.3,131.8 264.9,130.4 266.6,129 268.2,127.8 269.8,126.6 271.4,125.4 273,124.3 274.6,123.1 276.3,122 277.9,120.8 279.5,119.6 281.1,118.3 282.7,117.1 284.4,115.9 286,114.7 287.6,113.6 289.2,112.5 290.8,111.4 292.5,110.4 294.1,109.5 295.7,108.6 297.3,107.9 298.9,107.2 300.5,106.6 302.2,106 303.8,105.4 305.4,104.8 307,104.2"/>
<polyline stroke="#e377c2" stroke-width="1.25" points="64.2,272.9 65.8,272 67.4,270.9 69.1,269.8 70.7,268.6 72.3,267.4 73.9,266.2 75.5,265 77.2,263.8 78.8,262.6 80.4,261.4 82,260.2 83.6,259 85.2,257.8 86.9,256.5 88.5,255.3 90.1,254.1 91.7,252.9 93.3,251.8 95,250.6 96.6,249.4 98.2,248.3 99.8,247.1 101.4,246 103.1,244.9 104.7,243.8 106.3,242.6 107.9,241.4 109.5,240.3 111.1,239.1 112.8,237.9 114.4,236.7 116,235.6 117.6,234.4 119.2,233.2 120.9,232.1 122.5,231 124.1,229.9 125.7,228.7 127.3,227.6 129,226.5 130.6,225.3 132.2,224.1 133.8,222.8 135.4,221.6 137,220.3 138.7,219 140.3,217.7 141.9,216.4 143.5,215.2 145.1,214.1 146.8,213.6 148.4,213.2 150,212.8 151.6,212.4 153.2,212 154.9,211.6 156.5,211.2 158.1,210.8 159.7,210.5 161.3,210.1 162.9,209.7 164.6,209.3 166.2,209 167.8,208.7 169.4,208.4 171,208.1 172.7,207.8 174.3,207.5 175.9,207.2 177.5,206.8 179.1,206.4 180.8,205.9 182.4,205.5 184,205 185.6,204.6 187.2,204.1 188.8,203.7 190.5,203.2 192.1,202.7 193.7,202.3 195.3,201.8 196.9,201.5 198.6,201.1 200.2,200.8 201.8,200.5 203.4,200.2 205,199.9 206.7,199.6 208.3,199.2 209.9,198.8 211.5,198.3 213.1,197.8 214.7,197.3 216.4,196.8 218,196.3 219.6,195.7 221.2,195.2 222.8,194.8 224.5,194.3 226.1,193.7 227.7,192.5 229.3,191.2 230.9,190 232.6,188.7 234.2,187.5 235.8,186.3 237.4,185 239,183.8 240.6,182.5 242.3,181.3 243.9,180.1 245.5,178.9 247.1,177.7 248.7,176.4 250.4,175.2 252,173.9 253.6,172.7 255.2,171.5 256.8,170.3 258.5,169.2 260.1,168.1 261.7,167 263.3,165.9 264.9,164.8 266.6,163.7 268.2,162.5 269.8,161.4 271.4,160.3 273,159.2 274.6,158.1 276.3,157 277.9,155.8 279.5,154.7 281.1,153.5 282.7,152.3 284.4,151.1 286,150 287.6,149 289.2,148 290.8,147.1 292.5,146.3 294.1,145.5 295.7,144.7 297.3,144 298.9,143.3 300.5,142.6 302.2,142 303.8,141.3 305.4,140.4 307,139.3"/>
<polyline stroke="#7f7f7f" stroke-width="1.25" points="64.2,272.9 65.8,272.2 67.4,271.3 69.1,270.3 70.7,269.1 72.3,268 73.9,266.8 75.5,265.6 77.2,264.5 78.8,263.3 80.4,262 82,260.8 83.6,259.6 85.2,258.4 86.9,257.2 88.5,256 90.1,254.8 91.7,253.6 93.3,252.4 95,251.2 96.6,250 98.2,248.8 99.8,247.5 101.4,246.3 103.1,245.1 104.7,243.9 106.3,242.7 107.9,241.6 109.5,240.4 111.1,239.3 112.8,238.1 114.4,237 116,235.8 117.6,234.7 119.2,233.5 120.9,232.4 122.5,231.2 124.1,229.9 125.7,228.7 127.3,227.5 129,226.2 130.6,225 132.2,223.8 133.8,222.6 135.4,221.5 137,220.3 138.7,219.2 140.3,218 141.9,216.9 143.5,215.7 145.1,214.5 146.8,213.4 148.4,212.3 150,211.2 151.6,210 153.2,208.8 154.9,207.7 156.5,206.5 158.1,205.4 159.7,204.3 161.3,203.3 162.9,202.3 164.6,201.3 166.2,200.2 167.8,199.1 169.4,198 171,196.8 172.7,195.7 174.3,194.5 175.9,193.4 177.5,192.3 179.1,191.2 180.8,190.1 182.4,189 184,187.9 185.6,186.7 187.2,185.6 188.8,184.5 190.5,183.4 192.1,182.2 193.7,181.1 195.3,180 196.9,178.9 198.6,177.7 200.2,176.6 201.8,175.5 203.4,174.4 205,173.3 206.7,172.2 208.3,171.1 209.9,170 211.5,168.9 213.1,167.8 214.7,166.8 216.4,165.7 218,164.5 219.6,163.4 221.2,162.4 222.8,161.3 224.5,160.2 226.1,159 227.7,157.7 229.3,156.4 230.9,155.1 232.6,153.8 234.2,152.6 235.8,151.4 237.4,150.1 239,148.9 240.6,147.7 242.3,146.4 243.9,145.1 245.5,143.7 247.1,142.4 248.7,141.1 250.4,139.8 252,138.5 253.6,137.4 255.2,136.1 256.8,134.8 258.5,133.6 260.1,132.3 261.7,131 263.3,129.7 264.9,128.3 266.6,127 268.2,125.7 269.8,124.4 271.4,123.1 273,121.8 274.6,120.5 276.3,119.2 277.9,117.9 279.5,116.7 281.1,115.5 282.7,114.3 284.4,113.2 286,112.1 287.6,111.2 289.2,110.2 290.8,109.4 292.5,108.5 294.1,107.8 295.7,107.1 297.3,106.4 298.9,105.7 300.5,105.1 302.2,104.6 303.8,104.2 305.4,103.9 307,103.6"/>
<polyline stroke="#bcbd22" stroke-width="1.25" points="64.2,272.9 65.8,271.9 67.4,270.8 69.1,269.6 70.7,268.5 72.3,267.3 73.9,266.2 75.5,265 77.2,263.9 78.8,262.7 80.4,261.6 82,260.5 83.6,259.4 85.2,258.2 86.9,257.2 88.5,256.1 90.1,255 91.7,253.9 93.3,252.8 95,251.7 96.6,250.6 98.2,249.5 99.8,248.4 101.4,247.2 103.1,246.1 104.7,244.9 106.3,243.8 107.9,242.6 109.5,241.4 111.1,240.2 112.8,239 114.4,237.8 116,236.7 117.6,235.5 119.2,234.4 120.9,233.2 122.5,232.1 124.1,230.9 125.7,229.7 127.3,228.5 129,227.4 130.6,226.2 132.2,225.1 133.8,223.9 135.4,222.8 137,221.7 138.7,220.5 140.3,219.4 141.9,218.2 143.5,217.1 145.1,216 146.8,215.6 148.4,215.1 150,214.7 151.6,214.2 153.2,213.8 154.9,213.4 156.5,213 158.1,212.5 159.7,212.1 161.3,211.7 162.9,211.2 164.6,210.7 166.2,210.1 167.8,209.5 169.4,209 171,208.4 172.7,207.9 174.3,207.3 175.9,206.7 177.5,206.2 179.1,205.8 180.8,205.3 182.4,204.9 184,204.5 185.6,204.1 187.2,203.6 188.8,203.2 190.5,202.8 192.1,202.4 193.7,202 195.3,201.5 196.9,201.1 198.6,200.6 200.2,200.2 201.8,199.7 203.4,199.2 205,198.8 206.7,198.4 208.3,198 209.9,197.6 211.5,197.1 213.1,196.5 214.7,196 216.4,195.5 218,194.9 219.6,194.4 221.2,193.9 222.8,193.3 224.5,192.8 226.1,192.2 227.7,190.9 229.3,189.7 230.9,188.4 232.6,187.1 234.2,185.8 235.8,184.5 237.4,183.2 239,181.9 240.6,180.5 242.3,179.1 243.9,177.7 245.5,176.3 247.1,174.8 248.7,173.4 250.4,171.8 252,170.4 253.6,168.9 255.2,167.4 256.8,166 258.5,164.6 260.1,163.3 261.7,162 263.3,160.7 264.9,159.4 266.6,158.1 268.2,156.9 269.8,155.5 271.4,154.2 273,152.8 274.6,151.5 276.3,150.1 277.9,148.8 279.5,147.4 281.1,146.1 282.7,144.9 284.4,143.6 286,142.3 287.6,141 289.2,139.7 290.8,138.4 292.5,137.2 294.1,136.2 295.7,135.2 297.3,134.3 298.9,133.5 300.5,132.8 302.2,132.1 303.8,131.4 305.4,130.6 307,129.8"/>
<polyline stroke="#17becf" stroke-width="1.25" points="64.2,272.9 65.8,272 67.4,270.8 69.1,269.7 70.7,268.4 72.3,267.2 73.9,266 75.5,264.7 77.2,263.5 78.8,262.3 80.4,261 82,259.8 83.6,258.6 85.2,257.3 86.9,256.1 88.5,254.9 90.1,253.7 91.7,252.5 93.3,251.3 95,250.1 96.6,249 98.2,247.9 99.8,246.7 101.4,245.6 103.1,244.5 104.7,243.4 106.3,242.2 107.9,241 109.5,239.8 111.1,238.6 112.8,237.4 114.4,236.2 116,235 117.6,233.7 119.2,232.5 120.9,231.3 122.5,230.1 124.1,228.8 125.7,227.7 127.3,226.5 129,225.3 130.6,224.2 132.2,223 133.8,221.9 135.4,220.7 137,219.5 138.7,218.4 140.3,217.2 141.9,216 143.5,214.9 145.1,213.7 146.8,212.5 148.4,211.4 150,210.3 151.6,209.1 153.2,208 154.9,207 156.5,205.9 158.1,204.8 159.7,203.7 161.3,202.7 162.9,201.6 164.6,200.5 166.2,199.4 167.8,198.4 169.4,197.2 171,196 172.7,194.9 174.3,193.7 175.9,192.6 177.5,191.4 179.1,190.3 180.8,189.2 182.4,188.2 184,187 185.6,185.9 187.2,184.7 188.8,183.5 190.5,182.4 192.1,181.2 193.7,180 195.3,178.9 196.9,177.7 198.6,176.6 200.2,175.5 201.8,174.4 203.4,173.3 205,172.3 206.7,171.3 208.3,170.3 209.9,169.2 211.5,168.1 213.1,166.9 214.7,165.7 216.4,164.5 218,163.3 219.6,162.1 221.2,160.9 222.8,159.8 224.5,158.5 226.1,157.3 227.7,156 229.3,154.7 230.9,153.5 232.6,152.3 234.2,151 235.8,149.8 237.4,148.5 239,147.2 240.6,145.8 242.3,144.5 243.9,143.1 245.5,141.8 247.1,140.6 248.7,139.3 250.4,138.1 252,136.9 253.6,135.7 255.2,134.4 256.8,133 258.5,131.6 260.1,130.2 261.7,128.9 263.3,127.5 264.9,126.1 266.6,124.8 268.2,123.6 269.8,122.4 271.4,121.1 273,119.8 274.6,118.4 276.3,117.1 277.9,115.7 279.5,114.3 281.1,112.9 282.7,111.6 284.4,110.3 286,109 287.6,107.8 289.2,106.7 290.8,105.7 292.5,104.8 294.1,103.9 295.7,103.1 297.3,102.4 298.9,101.7 300.5,101.1 302.2,100.4 303.8,99.9 305.4,99.4 307,99"/>
<polyline stroke="#1f77b4" stroke-width="1.25" points="64.2,272.9 65.8,272 67.4,270.8 69.1,269.7 70.7,268.5 72.3,267.3 73.9,266.1 75.5,265 77.2,263.8 78.8,262.6 80.4,261.5 82,260.3 83.6,259.1 85.2,257.9 86.9,256.7 88.5,255.5 90.1,254.3 91.7,253.1 93.3,251.9 95,250.6 96.6,249.3 98.2,248.1 99.8,246.8 101.4,245.5 103.1,244.3 104.7,243 106.3,241.8 107.9,240.6 109.5,239.3 111.1,238.1 112.8,236.9 114.4,235.7 116,234.4 117.6,233.2 119.2,231.9 120.9,230.6 122.5,229.3 124.1,228.1 125.7,226.8 127.3,225.6 129,224.4 130.6,223.2 132.2,222 133.8,220.8 135.4,219.7 137,218.5 138.7,217.3 140.3,216.1 141.9,214.9 143.5,213.7 145.1,212.5 146.8,211.3 148.4,210 150,208.7 151.6,207.4 153.2,206.2 154.9,204.9 156.5,203.6 158.1,202.4 159.7,201.3 161.3,200.2 162.9,199 164.6,197.9 166.2,196.8 167.8,195.7 169.4,194.6 171,193.4 172.7,192.3 174.3,191.1 175.9,189.9 177.5,188.7 179.1,187.5 180.8,186.3 182.4,185 184,183.7 185.6,182.4 187.2,181.2 188.8,180 190.5,178.8 192.1,177.5 193.7,176.3 195.3,175.1 196.9,173.8 198.6,172.5 200.2,171.1 201.8,169.8 203.4,168.6 205,167.3 206.7,166.1 208.3,165 209.9,163.8 211.5,162.6 213.1,161.5 214.7,160.2 216.4,158.9 218,157.7 219.6,156.4 221.2,155 222.8,153.7 224.5,152.5 226.1,151.3 227.7,150 229.3,148.9 230.9,147.7 232.6,146.6 234.2,145.5 235.8,144.4 237.4,143.2 239,142.2 240.6,141.1 242.3,140 243.9,138.8 245.5,137.7 247.1,136.5 248.7,135.3 250.4,134.1 252,132.9 253.6,131.7 255.2,130.5 256.8,129.4 258.5,128.2 260.1,127 261.7,125.8 263.3,124.6 264.9,123.5 266.6,122.3 268.2,121.1 269.8,120 271.4,118.8 273,117.6 274.6,116.4 276.3,115.2 277.9,114 279.5,112.9 281.1,111.7 282.7,110.6 284.4,109.5 286,108.4 287.6,107.3 289.2,106.3 290.8,105.4 292.5,104.5 294.1,103.7 295.7,102.9 297.3,102.3 298.9,101.7 300.5,101.2 302.2,100.6 303.8,100.1 305.4,99.4 307,98.8"/>
<polyline stroke="#ff7f0e" stroke-width="1.25" points="64.2,272.9 65.8,272.2 67.4,271.3 69.1,270.2 70.7,269 72.3,267.7 73.9,266.5 75.5,265.2 77.2,264 78.8,262.7 80.4,261.5 82,260.2 83.6,259 85.2,257.8 86.9,256.6 88.5,255.4 90.1,254.2 91.7,253 93.3,251.9 95,250.7 96.6,249.5 98.2,248.3 99.8,247.1 101.4,245.9 103.1,244.7 104.7,243.5 106.3,242.3 107.9,241.1 109.5,239.9 111.1,238.8 112.8,237.6 114.4,236.4 116,235.2 117.6,234 119.2,232.8 120.9,231.6 122.5,230.4 124.1,229.2 125.7,228 127.3,226.8 129,225.6 130.6,224.5 132.2,223.3 133.8,222.1 135.4,220.9 137,219.7 138.7,218.4 140.3,217.2 141.9,216 143.5,214.8 145.1,213.6 146.8,212.5 148.4,211.3 150,210.2 151.6,209 153.2,207.8 154.9,206.6 156.5,205.4 158.1,204.3 159.7,203.1 161.3,201.9 162.9,200.7 164.6,199.5 166.2,198.3 167.8,197.1 169.4,195.8 171,194.5 172.7,193.3 174.3,192 175.9,190.8 177.5,189.6 179.1,188.4 180.8,187.2 182.4,186.1 184,184.9 185.6,183.8 187.2,182.6 188.8,181.4 190.5,180.3 192.1,179.1 193.7,178 195.3,176.7 196.9,175.5 198.6,174.2 200.2,172.8 201.8,171.4 203.4,170.1 205,168.8 206.7,167.5 208.3,166.3 209.9,165 211.5,163.7 213.1,162.5 214.7,161.3 216.4,160.1 218,158.9 219.6,157.7 221.2,156.6 222.8,155.4 224.5,154.3 226.1,153 227.7,152 229.3,150.9 230.9,149.8 232.6,148.8 234.2,147.7 235.8,146.7 237.4,145.6 239,144.6 240.6,143.5 242.3,142.4 243.9,141.3 245.5,140.3 247.1,139.2 248.7,138.2 250.4,137.2 252,136.2 253.6,135.2 255.2,134.1 256.8,133 258.5,131.9 260.1,130.8 261.7,129.7 263.3,128.6 264.9,127.6 266.6,126.5 268.2,125.4 269.8,124.4 271.4,123.3 273,122.1 274.6,121 276.3,119.8 277.9,118.8 279.5,117.7 281.1,116.7 282.7,115.6 284.4,114.6 286,113.6 287.6,112.6 289.2,111.7 290.8,110.9 292.5,110.1 294.1,109.5 295.7,108.9 297.3,108.4 298.9,107.9 300.5,107.4 302.2,106.9 303.8,106.4 305.4,105.9 307,105.6"/>
<polyline stroke="#2ca02c" stroke-width="1.25" points="64.2,272.9 65.8,271.7 67.4,270.4 69.1,269.1 70.7,267.9 72.3,266.6 73.9,265.4 75.5,264.2 77.2,263 78.8,261.8 80.4,260.6 82,259.4 83.6,258.2 85.2,257 86.9,255.7 88.5,254.4 90.1,253.2 91.7,251.9 93.3,250.6 95,249.4 96.6,248.2 98.2,247 99.8,245.8 101.4,244.6 103.1,243.4 104.7,242.3 106.3,241.1 107.9,239.9 109.5,238.7 111.1,237.6 112.8,236.4 114.4,235.1 116,233.9 117.6,232.7 119.2,231.5 120.9,230.3 122.5,229.1 124.1,227.9 125.7,226.7 127.3,225.6 129,224.4 130.6,223.2 132.2,222 133.8,220.9 135.4,219.7 137,218.5 138.7,217.3 140.3,216.1 141.9,214.9 143.5,213.7 145.1,212.6 146.8,212.1 148.4,211.7 150,211.2 151.6,210.8 153.2,210.4 154.9,209.9 156.5,209.3 158.1,208.7 159.7,208.1 161.3,207.4 162.9,206.8 164.6,206.2 166.2,205.7 167.8,205.2 169.4,204.7 171,204.3 172.7,203.8 174.3,203.4 175.9,202.9 177.5,202.5 179.1,202 180.8,201.5 182.4,201.1 184,200.6 185.6,200.2 187.2,199.7 188.8,199.3 190.5,198.9 192.1,198.6 193.7,198.2 195.3,197.9 196.9,197.5 198.6,197.1 200.2,196.6 201.8,196.1 203.4,195.5 205,195 206.7,194.5 208.3,194 209.9,193.5 211.5,193.1 213.1,192.8 214.7,192.3 216.4,191.9 218,191.4 219.6,191 221.2,190.6 222.8,190.1 224.5,189.7 226.1,189.1 227.7,187.7 229.3,186.5 230.9,185.1 232.6,183.8 234.2,182.5 235.8,181 237.4,179.6 239,178.1 240.6,176.6 242.3,175 243.9,173.5 245.5,172 247.1,170.7 248.7,169.3 250.4,168 252,166.6 253.6,165.3 255.2,164 256.8,162.8 258.5,161.5 260.1,160.2 261.7,158.9 263.3,157.6 264.9,156.3 266.6,154.9 268.2,153.5 269.8,152.1 271.4,150.6 273,149.2 274.6,147.8 276.3,146.5 277.9,145.1 279.5,143.8 281.1,142.6 282.7,141.4 284.4,140.2 286,139 287.6,137.8 289.2,136.7 290.8,135.6 292.5,134.5 294.1,133.4 295.7,132.3 297.3,131.3 298.9,130.5 300.5,129.7 302.2,129.1 303.8,128.6 305.4,128.3 307,128.1"/>
<polyline stroke="#d62728" stroke-width="1.25" points="64.2,272.9 65.8,272 67.4,271 69.1,269.9 70.7,268.8 72.3,267.8 73.9,266.7 75.5,265.6 77.2,264.5 78.8,263.4 80.4,262.3 82,261.2 83.6,260.1 85.2,259.1 86.9,258 88.5,257 90.1,255.9 91.7,254.8 93.3,253.8 95,252.7 96.6,251.7 98.2,250.7 99.8,249.6 101.4,248.6 103.1,247.5 104.7,246.5 106.3,245.4 107.9,244.2 109.5,243.1 111.1,242 112.8,240.8 114.4,239.7 116,238.5 117.6,237.4 119.2,236.3 120.9,235.2 122.5,234.1 124.1,233 125.7,231.9 127.3,230.8 129,229.7 130.6,228.6 132.2,227.5 133.8,226.3 135.4,225.2 137,224.1 138.7,223 140.3,221.9 141.9,220.8 143.5,219.7 145.1,218.7 146.8,218.2 148.4,217.7 150,217.2 151.6,216.7 153.2,216.2 154.9,215.7 156.5,215.1 158.1,214.6 159.7,214.1 161.3,213.6 162.9,213.2 164.6,212.8 166.2,212.4 167.8,212.1 169.4,211.7 171,211.3 172.7,210.9 174.3,210.4 175.9,209.7 177.5,209.1 179.1,208.5 180.8,207.9 182.4,207.3 184,206.7 185.6,206.2 187.2,205.8 188.8,205.4 190.5,204.9 192.1,204.4 193.7,204 195.3,203.5 196.9,202.9 198.6,202.4 200.2,201.8 201.8,201.2 203.4,200.7 205,200.2 206.7,199.7 208.3,199.2 209.9,198.8 211.5,198.3 213.1,197.8 214.7,197.4 216.4,196.9 218,196.3 219.6,195.8 221.2,195.3 222.8,194.7 224.5,194.1 226.1,193.5 227.7,192.1 229.3,190.8 230.9,189.5 232.6,188.3 234.2,187 235.8,185.8 237.4,184.6 239,183.4 240.6,182.2 242.3,180.9 243.9,179.7 245.5,178.5 247.1,177.2 248.7,175.9 250.4,174.6 252,173.3 253.6,171.9 255.2,170.6 256.8,169.3 258.5,168.1 260.1,166.8 261.7,165.5 263.3,164.3 264.9,163 266.6,161.7 268.2,160.3 269.8,158.9 271.4,157.5 273,156.2 274.6,154.8 276.3,153.4 277.9,152.1 279.5,150.8 281.1,149.6 282.7,148.3 284.4,147.1 286,145.9 287.6,144.8 289.2,143.6 290.8,142.5 292.5,141.5 294.1,140.5 295.7,139.6 297.3,138.7 298.9,137.9 300.5,137.1 302.2,136.3 303.8,135.5 305.4,134.6 307,133.8"/>
<polyline stroke="#9467bd" stroke-width="1.25" points="64.2,272.9 65.8,271.8 67.4,270.6 69.1,269.4 70.7,268.2 72.3,267.1 73.9,265.9 75.5,264.7 77.2,263.5 78.8,262.3 80.4,261.1 82,259.8 83.6,258.6 85.2,257.3 86.9,256.1 88.5,254.8 90.1,253.5 91.7,252.3 93.3,251 95,249.8 96.6,248.6 98.2,247.4 99.8,246.2 101.4,245 103.1,243.8 104.7,242.6 106.3,241.4 107.9,240.2 109.5,239 111.1,237.9 112.8,236.7 114.4,235.5 116,234.3 117.6,233.2 119.2,232.1 120.9,231 122.5,229.9 124.1,228.8 125.7,227.7 127.3,226.6 129,225.4 130.6,224.3 132.2,223.1 133.8,222 135.4,220.8 137,219.6 138.7,218.5 140.3,217.3 141.9,216.1 143.5,215 145.1,214 146.8,213.6 148.4,213.2 150,212.7 151.6,212.2 153.2,211.8 154.9,211.4 156.5,211 158.1,210.6 159.7,210.1 161.3,209.6 162.9,209.1 164.6,208.5 166.2,208 167.8,207.4 169.4,206.8 171,206.3 172.7,205.8 174.3,205.3 175.9,204.8 177.5,204.2 179.1,203.7 180.8,203.2 182.4,202.7 184,202.3 185.6,201.8 187.2,201.4 188.8,201 190.5,200.5 192.1,200 193.7,199.6 195.3,199.1 196.9,198.6 198.6,198.2 200.2,197.7 201.8,197.3 203.4,196.9 205,196.5 206.7,196.1 208.3,195.7 209.9,195.2 211.5,194.7 213.1,194.2 214.7,193.6 216.4,193 218,192.4 219.6,191.8 221.2,191.3 222.8,190.7 224.5,190.2 226.1,189.6 227.7,188.3 229.3,187.1 230.9,185.8 232.6,184.6 234.2,183.3 235.8,182.1 237.4,181 239,179.8 240.6,178.5 242.3,177.2 243.9,175.9 245.5,174.6 247.1,173.2 248.7,171.9 250.4,170.7 252,169.4 253.6,168.2 255.2,167.1 256.8,165.8 258.5,164.6 260.1,163.5 261.7,162.3 263.3,161.2 264.9,160.1 266.6,158.8 268.2,157.6 269.8,156.4 271.4,155.2 273,153.8 274.6,152.4 276.3,151.1 277.9,149.7 279.5,148.4 281.1,147.1 282.7,145.8 284.4,144.5 286,143.3 287.6,142.3 289.2,141.2 290.8,140.2 292.5,139.2 294.1,138.3 295.7,137.4 297.3,136.7 298.9,136 300.5,135.3 302.2,134.7 303.8,134.2 305.4,133.7 307,133.3"/>
<polyline stroke="#8c564b" stroke-width="1.25" points="64.2,272.9 65.8,271.9 67.4,270.7 69.1,269.5 70.7,268.2 72.3,267 73.9,265.7 75.5,264.5 77.2,263.3 78.8,262.1 80.4,260.9 82,259.7 83.6,258.5 85.2,257.3 86.9,256.1 88.5,254.9 90.1,253.7 91.7,252.4 93.3,251.2 95,249.9 96.6,248.7 98.2,247.5 99.8,246.3 101.4,245.1 103.1,243.8 104.7,242.6 106.3,241.4 107.9,240.2 109.5,239 111.1,237.8 112.8,236.7 114.4,235.5 116,234.4 117.6,233.2 119.2,232 120.9,230.8 122.5,229.7 124.1,228.5 125.7,227.3 127.3,226.2 129,225.1 130.6,224 132.2,222.8 133.8,221.7 135.4,220.5 137,219.3 138.7,218.1 140.3,216.9 141.9,215.6 143.5,214.4 145.1,213.2 146.8,212.7 148.4,212.1 150,211.5 151.6,210.9 153.2,210.4 154.9,209.9 156.5,209.4 158.1,209 159.7,208.7 161.3,208.4 162.9,208 164.6,207.7 166.2,207.3 167.8,206.9 169.4,206.5 171,205.9 172.7,205.4 174.3,204.9 175.9,204.3 177.5,203.8 179.1,203.3 180.8,202.8 182.4,202.3 184,201.9 185.6,201.5 187.2,201.1 188.8,200.7 190.5,200.2 192.1,199.8 193.7,199.2 195.3,198.7 196.9,198.2 198.6,197.7 200.2,197.2 201.8,196.7 203.4,196.2 205,195.7 206.7,195.3 208.3,194.9 209.9,194.5 211.5,194.1 213.1,193.7 214.7,193.2 216.4,192.8 218,192.3 219.6,191.8 221.2,191.3 222.8,190.8 224.5,190.4 226.1,189.8 227.7,188.6 229.3,187.3 230.9,186.1 232.6,184.9 234.2,183.7 235.8,182.5 237.4,181.4 239,180.1 240.6,178.8 242.3,177.6 243.9,176.2 245.5,174.8 247.1,173.4 248.7,172 250.4,170.6 252,169.3 253.6,168 255.2,166.8 256.8,165.6 258.5,164.4 260.1,163.1 261.7,161.8 263.3,160.4 264.9,159 266.6,157.5 268.2,156.1 269.8,154.7 271.4,153.3 273,151.8 274.6,150.4 276.3,149 277.9,147.6 279.5,146.2 281.1,144.8 282.7,143.5 284.4,142.2 286,141 287.6,140 289.2,138.9 290.8,138 292.5,137.1 294.1,136.2 295.7,135.4 297.3,134.8 298.9,134.1 300.5,133.6 302.2,133 303.8,132.6 305.4,132.2 307,132"/>
<polyline stroke="#e377c2" stroke-width="1.25" points="64.2,272.9 65.8,271.8 67.4,270.6 69.1,269.4 70.7,268.3 72.3,267.1 73.9,265.9 75.5,264.8 77.2,263.6 78.8,262.5 80.4,261.4 82,260.2 83.6,259.1 85.2,258 86.9,256.8 88.5,255.7 90.1,254.5 91.7,253.3 93.3,252.2 95,251 96.6,249.8 98.2,248.6 99.8,247.4 101.4,246.3 103.1,245.1 104.7,244 106.3,242.8 107.9,241.7 109.5,240.6 111.1,239.4 112.8,238.2 114.4,237.1 116,235.9 117.6,234.6 119.2,233.4 120.9,232.2 122.5,230.9 124.1,229.7 125.7,228.5 127.3,227.3 129,226.1 130.6,224.9 132.2,223.8 133.8,222.6 135.4,221.5 137,220.3 138.7,219.1 140.3,218 141.9,216.8 143.5,215.7 145.1,214.6 146.8,214.2 148.4,213.8 150,213.4 151.6,213 153.2,212.6 154.9,212.2 156.5,211.8 158.1,211.4 159.7,211 161.3,210.5 162.9,210 164.6,209.6 166.2,209 167.8,208.5 169.4,208 171,207.6 172.7,207.1 174.3,206.7 175.9,206.3 177.5,205.8 179.1,205.3 180.8,204.7 182.4,204.2 184,203.6 185.6,203.1 187.2,202.5 188.8,202.1 190.5,201.6 192.1,201.2 193.7,200.7 195.3,200.3 196.9,199.8 198.6,199.4 200.2,199.1 201.8,198.8 203.4,198.4 205,198.1 206.7,197.8 208.3,197.4 209.9,196.9 211.5,196.5 213.1,196 214.7,195.5 216.4,195 218,194.6 219.6,194.1 221.2,193.7 222.8,193.2 224.5,192.7 226.1,192.1 227.7,190.8 229.3,189.4 230.9,188.1 232.6,186.8 234.2,185.5 235.8,184.2 237.4,182.8 239,181.5 240.6,180.1 242.3,178.8 243.9,177.4 245.5,176 247.1,174.7 248.7,173.3 250.4,172 252,170.7 253.6,169.4 255.2,168.1 256.8,166.7 258.5,165.4 260.1,164 261.7,162.7 263.3,161.3 264.9,159.9 266.6,158.6 268.2,157.4 269.8,156.2 271.4,155 273,153.8 274.6,152.6 276.3,151.5 277.9,150.4 279.5,149.2 281.1,148 282.7,146.7 284.4,145.5 286,144.2 287.6,143 289.2,141.9 290.8,140.8 292.5,139.8 294.1,138.8 295.7,137.9 297.3,137 298.9,136.3 300.5,135.6 302.2,134.9 303.8,134.1 305.4,133.2 307,132.3"/>
<polyline stroke="#7f7f7f" stroke-width="1.25" points="64.2,272.9 65.8,272 67.4,271 69.1,269.8 70.7,268.7 72.3,267.5 73.9,266.3 75.5,265.1 77.2,263.9 78.8,262.7 80.4,261.5 82,260.3 83.6,259.1 85.2,258 86.9,256.8 88.5,255.6 90.1,254.4 91.7,253.2 93.3,252 95,250.8 96.6,249.5 98.2,248.3 99.8,247.1 101.4,245.9 103.1,244.6 104.7,243.4 106.3,242.2 107.9,240.9 109.5,239.7 111.1,238.5 112.8,237.3 114.4,236.1 116,234.9 117.6,233.8 119.2,232.6 120.9,231.3 122.5,230.1 124.1,228.8 125.7,227.5 127.3,226.3 129,225 130.6,223.8 132.2,222.6 133.8,221.4 135.4,220.3 137,219.1 138.7,218 140.3,216.8 141.9,215.6 143.5,214.4 145.1,213.3 146.8,212.7 148.4,212.2 150,211.6 151.6,211.1 153.2,210.6 154.9,210.1 156.5,209.5 158.1,209.1 159.7,208.6 161.3,208.1 162.9,207.6 164.6,207.1 166.2,206.6 167.8,206.2 169.4,205.7 171,205.2 172.7,204.7 174.3,204.2 175.9,203.6 177.5,203.1 179.1,202.5 180.8,201.9 182.4,201.3 184,200.8 185.6,200.3 187.2,199.8 188.8,199.3 190.5,198.8 192.1,198.4 193.7,198.1 195.3,197.7 196.9,197.5 198.6,197.2 200.2,197 201.8,196.7 203.4,196.4 205,196.1 206.7,195.6 208.3,195.2 209.9,194.7 211.5,194.2 213.1,193.7 214.7,193.2 216.4,192.7 218,192.3 219.6,191.8 221.2,191.4 222.8,190.9 224.5,190.5 226.1,189.9 227.7,188.7 229.3,187.5 230.9,186.4 232.6,185.3 234.2,184.1 235.8,183.1 237.4,182 239,180.9 240.6,179.8 242.3,178.7 243.9,177.6 245.5,176.4 247.1,175.3 248.7,174.1 250.4,172.9 252,171.7 253.6,170.5 255.2,169.2 256.8,168 258.5,166.7 260.1,165.3 261.7,164 263.3,162.6 264.9,161.2 266.6,159.8 268.2,158.5 269.8,157.2 271.4,155.9 273,154.6 274.6,153.4 276.3,152.2 277.9,150.9 279.5,149.7 281.1,148.5 282.7,147.3 284.4,146.2 286,145.1 287.6,144 289.2,143.1 290.8,142.1 292.5,141.1 294.1,140.2 295.7,139.3 297.3,138.5 298.9,137.8 300.5,137.1 302.2,136.4 303.8,135.7 305.4,135.1 307,134.5"/>
<polyline stroke="#bcbd22" stroke-width="1.25" points="64.2,272.9 65.8,271.8 67.4,270.7 69.1,269.5 70.7,268.2 72.3,267 73.9,265.8 75.5,264.6 77.2,263.4 78.8,262.1 80.4,260.8 82,259.6 83.6,258.3 85.2,257 86.9,255.8 88.5,254.5 90.1,253.3 91.7,252.1 93.3,250.9 95,249.7 96.6,248.5 98.2,247.3 99.8,246 101.4,244.8 103.1,243.6 104.7,242.4 106.3,241.1 107.9,239.9 109.5,238.7 111.1,237.5 112.8,236.3 114.4,235.2 116,234 117.6,232.8 119.2,231.7 120.9,230.6 122.5,229.4 124.1,228.3 125.7,227.1 127.3,226 129,224.8 130.6,223.6 132.2,222.4 133.8,221.3 135.4,220.1 137,218.9 138.7,217.7 140.3,216.6 141.9,215.4 143.5,214.2 145.1,213.1 146.8,211.9 148.4,210.7 150,209.5 151.6,208.3 153.2,207 154.9,205.8 156.5,204.5 158.1,203.3 159.7,202.1 161.3,200.8 162.9,199.6 164.6,198.4 166.2,197.2 167.8,196 169.4,194.8 171,193.6 172.7,192.4 174.3,191.2 175.9,190 177.5,188.8 179.1,187.7 180.8,186.5 182.4,185.3 184,184 185.6,182.9 187.2,181.7 188.8,180.5 190.5,179.3 192.1,178 193.7,176.8 195.3,175.6 196.9,174.3 198.6,173.1 200.2,171.9 201.8,170.7 203.4,169.5 205,168.3 206.7,167.1 208.3,165.9 209.9,164.7 211.5,163.4 213.1,162.1 214.7,160.7 216.4,159.4 218,158.1 219.6,156.7 221.2,155.4 222.8,154 224.5,152.7 226.1,151.5 227.7,150.2 229.3,148.9 230.9,147.6 232.6,146.4 234.2,145.1 235.8,143.8 237.4,142.5 239,141.2 240.6,139.9 242.3,138.7 243.9,137.4 245.5,136.2 247.1,135 248.7,133.8 250.4,132.7 252,131.5 253.6,130.3 255.2,129.1 256.8,128 258.5,126.8 260.1,125.5 261.7,124.3 263.3,123.2 264.9,122 266.6,120.9 268.2,119.8 269.8,118.8 271.4,117.7 273,116.7 274.6,115.6 276.3,114.4 277.9,113.2 279.5,112 281.1,110.8 282.7,109.6 284.4,108.4 286,107.3 287.6,106.2 289.2,105.2 290.8,104.3 292.5,103.4 294.1,102.6 295.7,101.8 297.3,101.1 298.9,100.4 300.5,99.8 302.2,99.3 303.8,98.8 305.4,98.4 307,98.2"/>
<polyline stroke="#17becf" stroke-width="1.25" points="64.2,272.9 65.8,272 67.4,270.9 69.1,269.8 70.7,268.6 72.3,267.4 73.9,266.2 75.5,265 77.2,263.8 78.8,262.7 80.4,261.5 82,260.4 83.6,259.2 85.2,258 86.9,256.9 88.5,255.7 90.1,254.5 91.7,253.4 93.3,252.2 95,251 96.6,249.9 98.2,248.7 99.8,247.4 101.4,246.2 103.1,244.9 104.7,243.7 106.3,242.4 107.9,241.1 109.5,239.9 111.1,238.6 112.8,237.4 114.4,236.2 116,235.1 117.6,233.9 119.2,232.8 120.9,231.7 122.5,230.5 124.1,229.4 125.7,228.2 127.3,227.1 129,226 130.6,224.8 132.2,223.7 133.8,222.5 135.4,221.4 137,220.2 138.7,219 140.3,217.8 141.9,216.6 143.5,215.4 145.1,214.3 146.8,213.1 148.4,212 150,210.9 151.6,209.8 153.2,208.7 154.9,207.5 156.5,206.4 158.1,205.2 159.7,204 161.3,202.9 162.9,201.7 164.6,200.6 166.2,199.5 167.8,198.4 169.4,197.4 171,196.3 172.7,195.3 174.3,194.2 175.9,193.2 177.5,192.1 179.1,191 180.8,189.8 182.4,188.7 184,187.5 185.6,186.4 187.2,185.3 188.8,184.2 190.5,183 192.1,181.9 193.7,180.8 195.3,179.6 196.9,178.4 198.6,177.2 200.2,175.9 201.8,174.7 203.4,173.5 205,172.2 206.7,171 208.3,169.7 209.9,168.5 211.5,167.4 213.1,166.3 214.7,165.2 216.4,164.2 218,163.1 219.6,162.1 221.2,161 222.8,159.9 224.5,158.8 226.1,157.6 227.7,156.3 229.3,155 230.9,153.7 232.6,152.3 234.2,151 235.8,149.7 237.4,148.4 239,147.3 240.6,146.1 242.3,145 243.9,143.9 245.5,142.9 247.1,141.7 248.7,140.6 250.4,139.3 252,138 253.6,136.6 255.2,135.3 256.8,134 258.5,132.7 260.1,131.4 261.7,130.2 263.3,129 264.9,127.8 266.6,126.5 268.2,125.2 269.8,123.9 271.4,122.7 273,121.4 274.6,120.2 276.3,119 277.9,117.8 279.5,116.6 281.1,115.3 282.7,114 284.4,112.7 286,111.4 287.6,110.1 289.2,109 290.8,107.9 292.5,106.9 294.1,106 295.7,105.1 297.3,104.4 298.9,103.6 300.5,103 302.2,102.3 303.8,101.7 305.4,101.2 307,100.8"/>
<polyline stroke="#1f77b4" stroke-width="1.25" points="64.2,272.9 65.8,272 67.4,270.8 69.1,269.7 70.7,268.6 72.3,267.4 73.9,266.3 75.5,265.1 77.2,263.9 78.8,262.8 80.4,261.6 82,260.4 83.6,259.3 85.2,258.2 86.9,257.1 88.5,256 90.1,254.8 91.7,253.7 93.3,252.5 95,251.4 96.6,250.1 98.2,248.9 99.8,247.7 101.4,246.4 103.1,245.2 104.7,244 106.3,242.8 107.9,241.6 109.5,240.5 111.1,239.3 112.8,238.2 114.4,237 116,235.9 117.6,234.7 119.2,233.6 120.9,232.4 122.5,231.2 124.1,230 125.7,228.8 127.3,227.6 129,226.4 130.6,225.2 132.2,224 133.8,222.8 135.4,221.6 137,220.4 138.7,219.3 140.3,218.1 141.9,216.9 143.5,215.7 145.1,214.7 146.8,214.4 148.4,214 150,213.6 151.6,213.2 153.2,212.8 154.9,212.4 156.5,211.9 158.1,211.4 159.7,211 161.3,210.5 162.9,210.1 164.6,209.8 166.2,209.4 167.8,209.2 169.4,208.9 171,208.6 172.7,208.3 174.3,208 175.9,207.6 177.5,207.2 179.1,206.8 180.8,206.4 182.4,206 184,205.6 185.6,205.2 187.2,204.8 188.8,204.4 190.5,203.9 192.1,203.5 193.7,203 195.3,202.6 196.9,202.2 198.6,201.9 200.2,201.5 201.8,201.2 203.4,201 205,200.7 206.7,200.4 208.3,200 209.9,199.6 211.5,199.1 213.1,198.7 214.7,198.2 216.4,197.6 218,197.1 219.6,196.6 221.2,196.1 222.8,195.5 224.5,195 226.1,194.4 227.7,192.9 229.3,191.5 230.9,190.1 232.6,188.8 234.2,187.4 235.8,186 237.4,184.6 239,183.3 240.6,181.9 242.3,180.5 243.9,179.2 245.5,177.9 247.1,176.6 248.7,175.3 250.4,174 252,172.7 253.6,171.3 255.2,169.9 256.8,168.5 258.5,167.2 260.1,165.7 261.7,164.3 263.3,162.8 264.9,161.4 266.6,159.9 268.2,158.4 269.8,156.8 271.4,155.3 273,153.8 274.6,152.3 276.3,150.8 277.9,149.4 279.5,148.1 281.1,146.8 282.7,145.5 284.4,144.3 286,143.1 287.6,142 289.2,140.9 290.8,139.8 292.5,138.8 294.1,137.9 295.7,137.1 297.3,136.3 298.9,135.6 300.5,135.1 302.2,134.5 303.8,134 305.4,133.5 307,133.2"/>
<polyline stroke="#ff7f0e" stroke-width="1.25" points="64.2,272.9 65.8,272.1 67.4,271.1 69.1,270.1 70.7,268.9 72.3,267.7 73.9,266.5 75.5,265.3 77.2,264.1 78.8,262.9 80.4,261.7 82,260.5 83.6,259.4 85.2,258.3 86.9,257.1 88.5,256 90.1,254.8 91.7,253.7 93.3,252.5 95,251.3 96.6,250.1 98.2,248.9 99.8,247.7 101.4,246.5 103.1,245.2 104.7,244 106.3,242.8 107.9,241.6 109.5,240.4 111.1,239.2 112.8,238.1 114.4,237 116,235.9 117.6,234.8 119.2,233.7 120.9,232.5 122.5,231.4 124.1,230.3 125.7,229.1 127.3,227.9 129,226.7 130.6,225.6 132.2,224.4 133.8,223.2 135.4,222 137,220.8 138.7,219.7 140.3,218.5 141.9,217.4 143.5,216.2 145.1,215.1 146.8,214 148.4,212.9 150,211.7 151.6,210.6 153.2,209.4 154.9,208.2 156.5,207 158.1,205.8 159.7,204.5 161.3,203.3 162.9,202 164.6,200.7 166.2,199.4 167.8,198.1 169.4,196.8 171,195.6 172.7,194.3 174.3,193.1 175.9,191.9 177.5,190.8 179.1,189.6 180.8,188.5 182.4,187.3 184,186.1 185.6,184.9 187.2,183.7 188.8,182.3 190.5,181 192.1,179.5 193.7,178.1 195.3,176.8 196.9,175.4 198.6,174.1 200.2,172.8 201.8,171.5 203.4,170.4 205,169.2 206.7,168 208.3,166.9 209.9,165.8 211.5,164.6 213.1,163.4 214.7,162.2 216.4,160.9 218,159.6 219.6,158.3 221.2,157 222.8,155.8 224.5,154.6 226.1,153.3 227.7,152 229.3,150.7 230.9,149.4 232.6,148.1 234.2,146.8 235.8,145.6 237.4,144.4 239,143.2 240.6,142.1 242.3,140.9 243.9,139.7 245.5,138.5 247.1,137.3 248.7,136.1 250.4,134.8 252,133.4 253.6,132 255.2,130.6 256.8,129.2 258.5,127.9 260.1,126.6 261.7,125.2 263.3,123.9 264.9,122.6 266.6,121.3 268.2,119.8 269.8,118.4 271.4,116.9 273,115.4 274.6,114 276.3,112.6 277.9,111.3 279.5,110 281.1,108.8 282.7,107.7 284.4,106.5 286,105.4 287.6,104.4 289.2,103.3 290.8,102.3 292.5,101.4 294.1,100.5 295.7,99.6 297.3,98.9 298.9,98.2 300.5,97.5 302.2,96.9 303.8,96.3 305.4,95.7 307,95.1"/>
<polyline stroke="#2ca02c" stroke-width="1.25" points="64.2,272.9 65.8,271.8 67.4,270.6 69.1,269.4 70.7,268.2 72.3,267 73.9,265.8 75.5,264.5 77.2,263.3 78.8,262.1 80.4,260.9 82,259.6 83.6,258.4 85.2,257.2 86.9,256 88.5,254.8 90.1,253.6 91.7,252.5 93.3,251.3 95,250.1 96.6,248.9 98.2,247.7 99.8,246.5 101.4,245.3 103.1,244.1 104.7,242.9 106.3,241.8 107.9,240.7 109.5,239.5 111.1,238.3 112.8,237.2 114.4,236 116,234.8 117.6,233.5 119.2,232.3 120.9,231 122.5,229.7 124.1,228.5 125.7,227.2 127.3,226 129,224.8 130.6,223.6 132.2,222.4 133.8,221.2 135.4,220 137,218.9 138.7,217.7 140.3,216.6 141.9,215.5 143.5,214.4 145.1,213.4 146.8,213.1 148.4,212.7 150,212.2 151.6,211.7 153.2,211.1 154.9,210.6 156.5,210 158.1,209.4 159.7,208.9 161.3,208.4 162.9,207.9 164.6,207.4 166.2,206.9 167.8,206.5 169.4,206.1 171,205.6 172.7,205.2 174.3,204.7 175.9,204.3 177.5,203.9 179.1,203.5 180.8,203.1 182.4,202.6 184,202.2 185.6,201.7 187.2,201.3 188.8,200.9 190.5,200.5 192.1,200.1 193.7,199.8 195.3,199.6 196.9,199.3 198.6,198.9 200.2,198.6 201.8,198.2 203.4,197.7 205,197.2 206.7,196.6 208.3,196.1 209.9,195.6 211.5,195 213.1,194.4 214.7,193.9 216.4,193.4 218,192.8 219.6,192.3 221.2,191.8 222.8,191.3 224.5,190.8 226.1,190.2 227.7,188.8 229.3,187.6 230.9,186.4 232.6,185.1 234.2,183.8 235.8,182.6 237.4,181.4 239,180.1 240.6,178.9 242.3,177.6 243.9,176.3 245.5,175.1 247.1,173.9 248.7,172.6 250.4,171.3 252,169.9 253.6,168.5 255.2,167.1 256.8,165.5 258.5,164 260.1,162.5 261.7,161 263.3,159.5 264.9,158.1 266.6,156.6 268.2,155.2 269.8,153.8 271.4,152.5 273,151.2 274.6,149.9 276.3,148.5 277.9,147.2 279.5,145.9 281.1,144.5 282.7,143 284.4,141.7 286,140.3 287.6,139.1 289.2,137.9 290.8,136.8 292.5,135.8 294.1,134.9 295.7,134 297.3,133.2 298.9,132.5 300.5,131.8 302.2,131.2 303.8,130.7 305.4,130.2 307,129.8"/>
<polyline stroke="#d62728" stroke-width="1.25" points="64.2,272.9 65.8,272 67.4,270.9 69.1,269.6 70.7,268.4 72.3,267.1 73.9,265.9 75.5,264.6 77.2,263.4 78.8,262.1 80.4,260.9 82,259.6 83.6,258.3 85.2,257 86.9,255.8 88.5,254.5 90.1,253.3 91.7,252 93.3,250.8 95,249.5 96.6,248.3 98.2,247.1 99.8,245.9 101.4,244.6 103.1,243.4 104.7,242.2 106.3,241 107.9,239.8 109.5,238.5 111.1,237.3 112.8,236.1 114.4,234.9 116,233.7 117.6,232.4 119.2,231.2 120.9,230 122.5,228.7 124.1,227.4 125.7,226.1 127.3,224.8 129,223.5 130.6,222.2 132.2,220.9 133.8,219.6 135.4,218.3 137,217 138.7,215.7 140.3,214.4 141.9,213.1 143.5,211.9 145.1,210.7 146.8,209.6 148.4,208.4 150,207.2 151.6,205.9 153.2,204.7 154.9,203.5 156.5,202.1 158.1,200.8 159.7,199.5 161.3,198.2 162.9,196.8 164.6,195.5 166.2,194.2 167.8,192.9 169.4,191.5 171,190.2 172.7,188.9 174.3,187.6 175.9,186.3 177.5,185 179.1,183.8 180.8,182.5 182.4,181.3 184,180.1 185.6,178.9 187.2,177.6 188.8,176.4 190.5,175.2 192.1,173.9 193.7,172.7 195.3,171.4 196.9,170.1 198.6,168.9 200.2,167.6 201.8,166.4 203.4,165.2 205,163.9 206.7,162.7 208.3,161.4 209.9,160.2 211.5,159 213.1,157.8 214.7,156.6 216.4,155.6 218,154.5 219.6,153.6 221.2,152.5 222.8,151.4 224.5,150.3 226.1,149.2 227.7,148.1 229.3,146.9 230.9,145.8 232.6,144.7 234.2,143.6 235.8,142.6 237.4,141.5 239,140.5 240.6,139.4 242.3,138.2 243.9,137.1 245.5,135.9 247.1,134.8 248.7,133.6 250.4,132.5 252,131.4 253.6,130.3 255.2,129.2 256.8,128.1 258.5,127 260.1,125.8 261.7,124.7 263.3,123.5 264.9,122.4 266.6,121.2 268.2,120 269.8,118.7 271.4,117.5 273,116.3 274.6,115.1 276.3,113.9 277.9,112.8 279.5,111.7 281.1,110.6 282.7,109.4 284.4,108.3 286,107.3 287.6,106.3 289.2,105.3 290.8,104.3 292.5,103.5 294.1,102.7 295.7,101.9 297.3,101.1 298.9,100.4 300.5,99.7 302.2,98.9 303.8,98.2 305.4,97.4 307,96.6"/>
<polyline stroke="#9467bd" stroke-width="1.25" points="64.2,272.9 65.8,272.3 67.4,271.4 69.1,270.4 70.7,269.2 72.3,268.1 73.9,267 75.5,265.8 77.2,264.7 78.8,263.6 80.4,262.5 82,261.3 83.6,260.2 85.2,259.1 86.9,257.9 88.5,256.8 90.1,255.6 91.7,254.5 93.3,253.3 95,252.2 96.6,251 98.2,249.8 99.8,248.7 101.4,247.5 103.1,246.3 104.7,245.1 106.3,243.9 107.9,242.8 109.5,241.6 111.1,240.4 112.8,239.3 114.4,238.1 116,237 117.6,235.8 119.2,234.7 120.9,233.5 122.5,232.4 124.1,231.3 125.7,230.2 127.3,229 129,227.9 130.6,226.8 132.2,225.7 133.8,224.6 135.4,223.5 137,222.4 138.7,221.3 140.3,220.1 141.9,219 143.5,217.8 145.1,216.8 146.8,216.3 148.4,216 150,215.6 151.6,215.2 153.2,214.8 154.9,214.3 156.5,213.8 158.1,213.3 159.7,212.7 161.3,212.1 162.9,211.6 164.6,211.1 166.2,210.6 167.8,210.2 169.4,209.8 171,209.4 172.7,209 174.3,208.6 175.9,208.1 177.5,207.7 179.1,207.2 180.8,206.7 182.4,206.3 184,205.8 185.6,205.4 187.2,205 188.8,204.6 190.5,204.2 192.1,203.8 193.7,203.4 195.3,203 196.9,202.5 198.6,202 200.2,201.5 201.8,201.1 203.4,200.6 205,200.3 206.7,199.8 208.3,199.4 209.9,199.1 211.5,198.7 213.1,198.2 214.7,197.7 216.4,197.2 218,196.7 219.6,196.2 221.2,195.8 222.8,195.4 224.5,195.1 226.1,194.7 227.7,193.7 229.3,192.8 230.9,191.8 232.6,190.9 234.2,189.8 235.8,188.7 237.4,187.6 239,186.4 240.6,185.2 242.3,184 243.9,182.9 245.5,181.7 247.1,180.5 248.7,179.3 250.4,178.1 252,176.9 253.6,175.6 255.2,174.3 256.8,173 258.5,171.8 260.1,170.6 261.7,169.4 263.3,168.2 264.9,167 266.6,165.7 268.2,164.4 269.8,163 271.4,161.7 273,160.4 274.6,159.2 276.3,158 277.9,156.8 279.5,155.6 281.1,154.5 282.7,153.4 284.4,152.3 286,151.3 287.6,150.2 289.2,149.3 290.8,148.4 292.5,147.6 294.1,146.7 295.7,146 297.3,145.3 298.9,144.6 300.5,144 302.2,143.4 303.8,143 305.4,142.7 307,142.6"/>
<polyline stroke="#8c564b" stroke-width="1.25" points="64.2,272.9 65.8,272 67.4,271 69.1,270 70.7,268.9 72.3,267.9 73.9,266.8 75.5,265.8 77.2,264.7 78.8,263.6 80.4,262.4 82,261.3 83.6,260.1 85.2,258.9 86.9,257.7 88.5,256.6 90.1,255.5 91.7,254.3 93.3,253.2 95,252 96.6,250.9 98.2,249.8 99.8,248.6 101.4,247.5 103.1,246.3 104.7,245.2 106.3,244.1 107.9,242.9 109.5,241.8 111.1,240.7 112.8,239.5 114.4,238.4 116,237.2 117.6,236.1 119.2,235 120.9,233.9 122.5,232.7 124.1,231.6 125.7,230.5 127.3,229.4 129,228.2 130.6,227.1 132.2,226 133.8,224.8 135.4,223.6 137,222.5 138.7,221.4 140.3,220.2 141.9,219.1 143.5,218 145.1,217 146.8,216.7 148.4,216.5 150,216.2 151.6,216 153.2,215.6 154.9,215.3 156.5,214.8 158.1,214.4 159.7,214 161.3,213.6 162.9,213.2 164.6,212.8 166.2,212.5 167.8,212.2 169.4,211.9 171,211.5 172.7,211.1 174.3,210.7 175.9,210.3 177.5,209.8 179.1,209.2 180.8,208.7 182.4,208.2 184,207.7 185.6,207.3 187.2,206.8 188.8,206.3 190.5,205.9 192.1,205.4 193.7,205 195.3,204.6 196.9,204.1 198.6,203.7 200.2,203.3 201.8,202.8 203.4,202.3 205,201.8 206.7,201.3 208.3,200.8 209.9,200.2 211.5,199.8 213.1,199.3 214.7,198.9 216.4,198.5 218,198 219.6,197.5 221.2,197 222.8,196.4 224.5,195.9 226.1,195.1 227.7,193.8 229.3,192.4 230.9,191.1 232.6,189.8 234.2,188.6 235.8,187.4 237.4,186.3 239,185.1 240.6,184 242.3,182.8 243.9,181.7 245.5,180.5 247.1,179.2 248.7,177.9 250.4,176.6 252,175.2 253.6,173.9 255.2,172.6 256.8,171.3 258.5,170 260.1,168.5 261.7,167.1 263.3,165.6 264.9,164.2 266.6,162.8 268.2,161.4 269.8,160.1 271.4,158.9 273,157.7 274.6,156.6 276.3,155.4 277.9,154.2 279.5,153 281.1,151.8 282.7,150.6 284.4,149.4 286,148.2 287.6,147.2 289.2,146.2 290.8,145.2 292.5,144.4 294.1,143.6 295.7,142.7 297.3,141.9 298.9,141 300.5,140.2 302.2,139.3 303.8,138.5 305.4,137.8 307,137.3"/>
<polyline stroke="#e377c2" stroke-width="1.25" points="64.2,272.9 65.8,272.1 67.4,271.1 69.1,270.1 70.7,269 72.3,267.9 73.9,266.8 75.5,265.8 77.2,264.7 78.8,263.7 80.4,262.5 82,261.5 83.6,260.4 85.2,259.3 86.9,258.2 88.5,257 90.1,255.9 91.7,254.7 93.3,253.6 95,252.4 96.6,251.2 98.2,250 99.8,248.9 101.4,247.7 103.1,246.5 104.7,245.4 106.3,244.2 107.9,243.1 109.5,241.9 111.1,240.8 112.8,239.6 114.4,238.5 116,237.4 117.6,236.3 119.2,235.1 120.9,234 122.5,232.8 124.1,231.7 125.7,230.5 127.3,229.4 129,228.2 130.6,227 132.2,225.8 133.8,224.7 135.4,223.5 137,222.4 138.7,221.3 140.3,220.2 141.9,219.1 143.5,218 145.1,216.9 146.8,215.8 148.4,214.6 150,213.4 151.6,212.2 153.2,211 154.9,209.8 156.5,208.7 158.1,207.4 159.7,206.2 161.3,204.9 162.9,203.7 164.6,202.4 166.2,201.2 167.8,200 169.4,198.8 171,197.7 172.7,196.6 174.3,195.4 175.9,194.4 177.5,193.3 179.1,192.1 180.8,191 182.4,189.8 184,188.6 185.6,187.5 187.2,186.3 188.8,185.2 190.5,184.1 192.1,183 193.7,181.9 195.3,180.8 196.9,179.6 198.6,178.5 200.2,177.3 201.8,176.2 203.4,175.1 205,174 206.7,172.9 208.3,171.8 209.9,170.7 211.5,169.5 213.1,168.3 214.7,167.2 216.4,166 218,164.8 219.6,163.5 221.2,162.2 222.8,161 224.5,159.7 226.1,158.5 227.7,157.5 229.3,156.5 230.9,155.5 232.6,154.6 234.2,153.6 235.8,152.7 237.4,151.8 239,150.9 240.6,150 242.3,149 243.9,148.1 245.5,147.3 247.1,146.4 248.7,145.5 250.4,144.6 252,143.7 253.6,142.8 255.2,141.8 256.8,140.9 258.5,139.9 260.1,139 261.7,138.1 263.3,137.2 264.9,136.4 266.6,135.5 268.2,134.6 269.8,133.7 271.4,132.8 273,131.8 274.6,130.8 276.3,129.8 277.9,128.9 279.5,127.9 281.1,126.9 282.7,125.8 284.4,124.8 286,123.9 287.6,123 289.2,122.3 290.8,121.5 292.5,120.8 294.1,120.2 295.7,119.6 297.3,119.1 298.9,118.5 300.5,118 302.2,117.6 303.8,117.1 305.4,116.6 307,115.9"/>
<polyline stroke="#7f7f7f" stroke-width="1.25" points="64.2,272.9 65.8,271.9 67.4,270.7 69.1,269.5 70.7,268.3 72.3,267.2 73.9,265.9 75.5,264.7 77.2,263.5 78.8,262.2 80.4,260.9 82,259.6 83.6,258.3 85.2,256.9 86.9,255.6 88.5,254.4 90.1,253.1 91.7,251.8 93.3,250.5 95,249.2 96.6,248 98.2,246.7 99.8,245.4 101.4,244.2 103.1,242.9 104.7,241.7 106.3,240.5 107.9,239.3 109.5,238 111.1,236.8 112.8,235.6 114.4,234.3 116,233.1 117.6,231.8 119.2,230.5 120.9,229.2 122.5,228 124.1,226.7 125.7,225.5 127.3,224.2 129,223 130.6,221.7 132.2,220.5 133.8,219.2 135.4,218 137,216.8 138.7,215.5 140.3,214.3 141.9,213.1 143.5,211.8 145.1,210.6 146.8,209.4 148.4,208.3 150,207.2 151.6,206.1 153.2,205 154.9,203.9 156.5,202.7 158.1,201.6 159.7,200.4 161.3,199.3 162.9,198.1 164.6,197 166.2,195.8 167.8,194.7 169.4,193.6 171,192.6 172.7,191.6 174.3,190.6 175.9,189.5 177.5,188.4 179.1,187.3 180.8,186.2 182.4,185 184,183.9 185.6,182.7 187.2,181.5 188.8,180.4 190.5,179.2 192.1,178.1 193.7,177 195.3,175.9 196.9,174.8 198.6,173.7 200.2,172.7 201.8,171.7 203.4,170.7 205,169.6 206.7,168.6 208.3,167.5 209.9,166.4 211.5,165.2 213.1,164 214.7,162.8 216.4,161.7 218,160.5 219.6,159.4 221.2,158.3 222.8,157.4 224.5,156.3 226.1,155.3 227.7,154 229.3,152.8 230.9,151.4 232.6,150.1 234.2,148.7 235.8,147.4 237.4,146.2 239,144.9 240.6,143.6 242.3,142.3 243.9,140.9 245.5,139.6 247.1,138.2 248.7,136.9 250.4,135.6 252,134.4 253.6,133.2 255.2,131.9 256.8,130.7 258.5,129.5 260.1,128.3 261.7,127 263.3,125.7 264.9,124.4 266.6,123.1 268.2,121.8 269.8,120.6 271.4,119.4 273,118 274.6,116.7 276.3,115.4 277.9,114.1 279.5,112.7 281.1,111.3 282.7,110 284.4,108.6 286,107.3 287.6,106 289.2,104.9 290.8,103.8 292.5,102.6 294.1,101.6 295.7,100.7 297.3,99.8 298.9,99 300.5,98.2 302.2,97.6 303.8,97 305.4,96.5 307,96"/>
<polyline stroke="#bcbd22" stroke-width="1.25" points="64.2,272.9 65.8,272.2 67.4,271.3 69.1,270.2 70.7,269 72.3,267.9 73.9,266.7 75.5,265.5 77.2,264.3 78.8,263.2 80.4,262 82,260.8 83.6,259.6 85.2,258.4 86.9,257.2 88.5,256.1 90.1,254.9 91.7,253.7 93.3,252.6 95,251.4 96.6,250.2 98.2,249 99.8,247.9 101.4,246.7 103.1,245.5 104.7,244.3 106.3,243.2 107.9,242 109.5,240.9 111.1,239.8 112.8,238.7 114.4,237.5 116,236.3 117.6,235.1 119.2,234 120.9,232.8 122.5,231.6 124.1,230.4 125.7,229.2 127.3,228 129,226.9 130.6,225.7 132.2,224.4 133.8,223.2 135.4,222 137,220.9 138.7,219.7 140.3,218.5 141.9,217.4 143.5,216.2 145.1,215.1 146.8,213.9 148.4,212.7 150,211.4 151.6,210.2 153.2,208.8 154.9,207.5 156.5,206.3 158.1,205.1 159.7,203.8 161.3,202.6 162.9,201.5 164.6,200.3 166.2,199.2 167.8,198 169.4,196.8 171,195.6 172.7,194.5 174.3,193.3 175.9,192.2 177.5,191.1 179.1,190 180.8,188.9 182.4,187.8 184,186.7 185.6,185.5 187.2,184.4 188.8,183.3 190.5,182.1 192.1,181 193.7,179.9 195.3,178.8 196.9,177.8 198.6,176.7 200.2,175.6 201.8,174.5 203.4,173.4 205,172.2 206.7,170.9 208.3,169.6 209.9,168.4 211.5,167.2 213.1,166.1 214.7,164.9 216.4,163.7 218,162.6 219.6,161.5 221.2,160.4 222.8,159.3 224.5,158.2 226.1,157 227.7,156 229.3,154.9 230.9,153.8 232.6,152.7 234.2,151.6 235.8,150.5 237.4,149.4 239,148.3 240.6,147.2 242.3,146.1 243.9,145 245.5,143.8 247.1,142.7 248.7,141.6 250.4,140.4 252,139.3 253.6,138.2 255.2,137.1 256.8,136 258.5,134.8 260.1,133.7 261.7,132.5 263.3,131.3 264.9,130.1 266.6,128.9 268.2,127.8 269.8,126.6 271.4,125.5 273,124.3 274.6,123.2 276.3,122.1 277.9,121 279.5,119.8 281.1,118.6 282.7,117.5 284.4,116.4 286,115.2 287.6,114.2 289.2,113.2 290.8,112.3 292.5,111.4 294.1,110.5 295.7,109.7 297.3,108.9 298.9,108.2 300.5,107.5 302.2,106.9 303.8,106.4 305.4,105.9 307,105.5"/>
<polyline stroke="#17becf" stroke-width="1.25" points="64.2,272.9 65.8,272 67.4,270.8 69.1,269.7 70.7,268.5 72.3,267.3 73.9,266 75.5,264.8 77.2,263.5 78.8,262.2 80.4,261 82,259.7 83.6,258.4 85.2,257.2 86.9,256 88.5,254.8 90.1,253.6 91.7,252.5 93.3,251.3 95,250.2 96.6,249.1 98.2,248 99.8,246.9 101.4,245.8 103.1,244.6 104.7,243.5 106.3,242.4 107.9,241.3 109.5,240.2 111.1,239 112.8,237.9 114.4,236.7 116,235.6 117.6,234.4 119.2,233.2 120.9,232 122.5,230.9 124.1,229.7 125.7,228.5 127.3,227.3 129,226.1 130.6,224.9 132.2,223.7 133.8,222.4 135.4,221.2 137,220.1 138.7,218.9 140.3,217.8 141.9,216.7 143.5,215.5 145.1,214.4 146.8,213.3 148.4,212.1 150,211 151.6,209.9 153.2,208.7 154.9,207.6 156.5,206.4 158.1,205.1 159.7,203.9 161.3,202.6 162.9,201.4 164.6,200.2 166.2,199 167.8,197.9 169.4,196.8 171,195.7 172.7,194.6 174.3,193.4 175.9,192.3 177.5,191.2 179.1,190.1 180.8,189 182.4,187.8 184,186.7 185.6,185.6 187.2,184.4 188.8,183.1 190.5,181.9 192.1,180.8 193.7,179.5 195.3,178.3 196.9,177 198.6,175.8 200.2,174.5 201.8,173.2 203.4,171.9 205,170.5 206.7,169.2 208.3,167.8 209.9,166.5 211.5,165.1 213.1,163.8 214.7,162.6 216.4,161.4 218,160.2 219.6,159 221.2,157.9 222.8,156.8 224.5,155.7 226.1,154.5 227.7,153.3 229.3,152.1 230.9,150.8 232.6,149.5 234.2,148.3 235.8,146.9 237.4,145.5 239,144 240.6,142.5 242.3,141 243.9,139.4 245.5,137.9 247.1,136.4 248.7,134.9 250.4,133.5 252,132.1 253.6,130.7 255.2,129.4 256.8,127.9 258.5,126.6 260.1,125.3 261.7,124 263.3,122.8 264.9,121.6 266.6,120.3 268.2,119.1 269.8,117.8 271.4,116.4 273,115 274.6,113.5 276.3,112 277.9,110.5 279.5,109 281.1,107.6 282.7,106.2 284.4,104.8 286,103.5 287.6,102.2 289.2,101 290.8,99.8 292.5,98.6 294.1,97.5 295.7,96.5 297.3,95.5 298.9,94.7 300.5,93.9 302.2,93 303.8,92.1 305.4,91.1 307,89.9"/>
<polyline stroke="#1f77b4" stroke-width="1.25" points="64.2,272.9 65.8,272.1 67.4,271.1 69.1,269.9 70.7,268.7 72.3,267.5 73.9,266.3 75.5,265.1 77.2,263.8 78.8,262.6 80.4,261.4 82,260.1 83.6,258.9 85.2,257.6 86.9,256.4 88.5,255.2 90.1,254 91.7,252.8 93.3,251.5 95,250.4 96.6,249.2 98.2,248 99.8,246.8 101.4,245.6 103.1,244.4 104.7,243.1 106.3,241.9 107.9,240.7 109.5,239.4 111.1,238.2 112.8,236.9 114.4,235.7 116,234.4 117.6,233.2 119.2,232 120.9,230.8 122.5,229.6 124.1,228.5 125.7,227.3 127.3,226.2 129,225.1 130.6,223.9 132.2,222.8 133.8,221.6 135.4,220.5 137,219.3 138.7,218.1 140.3,216.9 141.9,215.8 143.5,214.6 145.1,213.4 146.8,212.2 148.4,210.9 150,209.7 151.6,208.4 153.2,207 154.9,205.6 156.5,204.3 158.1,203 159.7,201.7 161.3,200.5 162.9,199.3 164.6,198.3 166.2,197.2 167.8,196.1 169.4,195 171,194 172.7,192.8 174.3,191.6 175.9,190.4 177.5,189.1 179.1,187.8 180.8,186.5 182.4,185.1 184,183.7 185.6,182.2 187.2,180.8 188.8,179.5 190.5,178.1 192.1,176.8 193.7,175.5 195.3,174.3 196.9,173.1 198.6,171.9 200.2,170.6 201.8,169.5 203.4,168.3 205,167.1 206.7,165.8 208.3,164.6 209.9,163.3 211.5,162 213.1,160.6 214.7,159.3 216.4,158 218,156.7 219.6,155.5 221.2,154.3 222.8,153.1 224.5,152 226.1,150.9 227.7,149.9 229.3,148.9 230.9,147.9 232.6,146.9 234.2,145.8 235.8,144.7 237.4,143.6 239,142.5 240.6,141.3 242.3,140.1 243.9,138.9 245.5,137.7 247.1,136.6 248.7,135.5 250.4,134.4 252,133.3 253.6,132.2 255.2,131.1 256.8,129.9 258.5,128.9 260.1,127.8 261.7,126.7 263.3,125.7 264.9,124.7 266.6,123.6 268.2,122.4 269.8,121.2 271.4,120.1 273,119 274.6,117.8 276.3,116.7 277.9,115.6 279.5,114.5 281.1,113.4 282.7,112.3 284.4,111.2 286,110.2 287.6,109.2 289.2,108.3 290.8,107.5 292.5,106.7 294.1,106 295.7,105.3 297.3,104.7 298.9,104.1 300.5,103.5 302.2,103 303.8,102.3 305.4,101.6 307,100.8"/>
<polyline stroke="#ff7f0e" stroke-width="1.25" points="64.2,272.9 65.8,272 67.4,270.9 69.1,269.8 70.7,268.7 72.3,267.5 73.9,266.3 75.5,265.1 77.2,263.9 78.8,262.6 80.4,261.4 82,260.2 83.6,258.9 85.2,257.7 86.9,256.5 88.5,255.3 90.1,254.1 91.7,252.9 93.3,251.7 95,250.5 96.6,249.3 98.2,248.1 99.8,246.9 101.4,245.7 103.1,244.5 104.7,243.3 106.3,242.1 107.9,241 109.5,239.8 111.1,238.6 112.8,237.5 114.4,236.3 116,235.2 117.6,234 119.2,232.8 120.9,231.6 122.5,230.5 124.1,229.3 125.7,228.1 127.3,226.9 129,225.7 130.6,224.5 132.2,223.3 133.8,222.1 135.4,221 137,219.8 138.7,218.6 140.3,217.5 141.9,216.4 143.5,215.3 145.1,214.3 146.8,213.9 148.4,213.4 150,213 151.6,212.5 153.2,212 154.9,211.6 156.5,211.2 158.1,210.9 159.7,210.5 161.3,210.1 162.9,209.6 164.6,209.1 166.2,208.7 167.8,208.3 169.4,207.9 171,207.5 172.7,207.1 174.3,206.8 175.9,206.5 177.5,206.1 179.1,205.8 180.8,205.5 182.4,205.1 184,204.8 185.6,204.4 187.2,204 188.8,203.6 190.5,203.2 192.1,202.7 193.7,202.2 195.3,201.7 196.9,201.2 198.6,200.7 200.2,200.2 201.8,199.7 203.4,199.1 205,198.6 206.7,198.1 208.3,197.6 209.9,197.1 211.5,196.7 213.1,196.2 214.7,195.8 216.4,195.4 218,195 219.6,194.6 221.2,194.1 222.8,193.6 224.5,193.2 226.1,192.6 227.7,191.5 229.3,190.4 230.9,189.3 232.6,188.3 234.2,187.3 235.8,186.2 237.4,185.1 239,184 240.6,183 242.3,181.9 243.9,180.8 245.5,179.7 247.1,178.6 248.7,177.5 250.4,176.4 252,175.3 253.6,174.1 255.2,173 256.8,171.8 258.5,170.6 260.1,169.4 261.7,168.1 263.3,167 264.9,165.8 266.6,164.6 268.2,163.5 269.8,162.3 271.4,161.3 273,160.2 274.6,159.1 276.3,158 277.9,157 279.5,155.8 281.1,154.7 282.7,153.5 284.4,152.3 286,151.1 287.6,150 289.2,149 290.8,148 292.5,147.2 294.1,146.5 295.7,145.9 297.3,145.3 298.9,144.8 300.5,144.3 302.2,143.9 303.8,143.3 305.4,142.8 307,142.3"/>
<polyline stroke="#2ca02c" stroke-width="1.25" points="64.2,272.9 65.8,272 67.4,270.9 69.1,269.8 70.7,268.6 72.3,267.4 73.9,266.2 75.5,265.1 77.2,263.9 78.8,262.8 80.4,261.6 82,260.5 83.6,259.3 85.2,258.2 86.9,257 88.5,255.9 90.1,254.7 91.7,253.6 93.3,252.4 95,251.1 96.6,249.9 98.2,248.7 99.8,247.4 101.4,246.2 103.1,244.9 104.7,243.7 106.3,242.5 107.9,241.3 109.5,240.1 111.1,238.9 112.8,237.7 114.4,236.5 116,235.3 117.6,234.1 119.2,232.8 120.9,231.6 122.5,230.3 124.1,229.1 125.7,227.9 127.3,226.8 129,225.6 130.6,224.4 132.2,223.3 133.8,222.1 135.4,220.9 137,219.8 138.7,218.6 140.3,217.4 141.9,216.2 143.5,215 145.1,213.9 146.8,213.4 148.4,212.8 150,212.3 151.6,211.8 153.2,211.3 154.9,210.7 156.5,210.1 158.1,209.5 159.7,208.8 161.3,208.2 162.9,207.5 164.6,206.9 166.2,206.3 167.8,205.7 169.4,205.3 171,204.9 172.7,204.6 174.3,204.2 175.9,203.9 177.5,203.5 179.1,203.1 180.8,202.6 182.4,202 184,201.4 185.6,200.7 187.2,200.1 188.8,199.4 190.5,198.8 192.1,198.2 193.7,197.6 195.3,197.1 196.9,196.5 198.6,196 200.2,195.5 201.8,194.9 203.4,194.3 205,193.7 206.7,193.1 208.3,192.4 209.9,191.9 211.5,191.3 213.1,190.7 214.7,190.1 216.4,189.6 218,189.1 219.6,188.6 221.2,188.1 222.8,187.6 224.5,187.2 226.1,186.7 227.7,185.6 229.3,184.6 230.9,183.5 232.6,182.5 234.2,181.3 235.8,180 237.4,178.8 239,177.5 240.6,176.2 242.3,175 243.9,173.8 245.5,172.7 247.1,171.6 248.7,170.5 250.4,169.4 252,168.3 253.6,167.2 255.2,166 256.8,164.9 258.5,163.8 260.1,162.7 261.7,161.7 263.3,160.6 264.9,159.5 266.6,158.4 268.2,157.3 269.8,156.1 271.4,155 273,153.9 274.6,152.8 276.3,151.8 277.9,150.7 279.5,149.7 281.1,148.7 282.7,147.6 284.4,146.6 286,145.6 287.6,144.6 289.2,143.6 290.8,142.7 292.5,141.9 294.1,141.1 295.7,140.4 297.3,139.6 298.9,138.9 300.5,138.2 302.2,137.5 303.8,136.8 305.4,136 307,135.2"/>
<polyline stroke="#d62728" stroke-width="1.25" points="64.2,272.9 65.8,272 67.4,271 69.1,269.8 70.7,268.6 72.3,267.3 73.9,266 75.5,264.8 77.2,263.5 78.8,262.2 80.4,261 82,259.8 83.6,258.5 85.2,257.3 86.9,256 88.5,254.8 90.1,253.6 91.7,252.4 93.3,251.1 95,249.8 96.6,248.6 98.2,247.3 99.8,246 101.4,244.7 103.1,243.4 104.7,242.1 106.3,240.8 107.9,239.5 109.5,238.2 111.1,236.9 112.8,235.7 114.4,234.4 116,233.2 117.6,232 119.2,230.8 120.9,229.6 122.5,228.4 124.1,227.2 125.7,226.1 127.3,224.9 129,223.8 130.6,222.6 132.2,221.5 133.8,220.3 135.4,219.2 137,218 138.7,216.9 140.3,215.7 141.9,214.6 143.5,213.4 145.1,212.3 146.8,211.3 148.4,210.3 150,209.3 151.6,208.3 153.2,207.4 154.9,206.5 156.5,205.5 158.1,204.5 159.7,203.6 161.3,202.6 162.9,201.6 164.6,200.6 166.2,199.6 167.8,198.6 169.4,197.6 171,196.5 172.7,195.4 174.3,194.3 175.9,193.1 177.5,191.9 179.1,190.7 180.8,189.4 182.4,188.2 184,187 185.6,185.7 187.2,184.5 188.8,183.3 190.5,182.2 192.1,181 193.7,179.9 195.3,178.8 196.9,177.7 198.6,176.6 200.2,175.5 201.8,174.5 203.4,173.4 205,172.4 206.7,171.4 208.3,170.5 209.9,169.5 211.5,168.4 213.1,167.3 214.7,166.2 216.4,164.9 218,163.6 219.6,162.3 221.2,161.1 222.8,159.8 224.5,158.6 226.1,157.4 227.7,156.2 229.3,155 230.9,153.8 232.6,152.6 234.2,151.4 235.8,150.1 237.4,148.8 239,147.5 240.6,146.2 242.3,144.9 243.9,143.6 245.5,142.4 247.1,141.1 248.7,139.9 250.4,138.7 252,137.5 253.6,136.2 255.2,134.9 256.8,133.6 258.5,132.2 260.1,130.8 261.7,129.3 263.3,127.9 264.9,126.5 266.6,125.1 268.2,123.8 269.8,122.5 271.4,121.3 273,120.1 274.6,118.9 276.3,117.6 277.9,116.4 279.5,115.2 281.1,114 282.7,112.9 284.4,111.7 286,110.5 287.6,109.4 289.2,108.4 290.8,107.3 292.5,106.4 294.1,105.4 295.7,104.6 297.3,103.9 298.9,103.2 300.5,102.5 302.2,101.8 303.8,101.1 305.4,100.4 307,99.8"/>
<polyline stroke="#9467bd" stroke-width="1.25" points="64.2,272.9 65.8,271.9 67.4,270.7 69.1,269.5 70.7,268.4 72.3,267.2 73.9,266.1 75.5,265 77.2,263.9 78.8,262.8 80.4,261.7 82,260.5 83.6,259.4 85.2,258.2 86.9,257.1 88.5,255.9 90.1,254.8 91.7,253.7 93.3,252.6 95,251.5 96.6,250.4 98.2,249.2 99.8,248.1 101.4,246.9 103.1,245.7 104.7,244.4 106.3,243.2 107.9,242 109.5,240.8 111.1,239.6 112.8,238.4 114.4,237.2 116,236.1 117.6,234.9 119.2,233.6 120.9,232.4 122.5,231.2 124.1,230 125.7,228.8 127.3,227.6 129,226.4 130.6,225.3 132.2,224.1 133.8,223 135.4,221.9 137,220.7 138.7,219.6 140.3,218.4 141.9,217.2 143.5,216 145.1,214.8 146.8,213.7 148.4,212.5 150,211.4 151.6,210.3 153.2,209.2 154.9,208.1 156.5,206.9 158.1,205.7 159.7,204.6 161.3,203.4 162.9,202.3 164.6,201.1 166.2,200 167.8,198.9 169.4,197.7 171,196.6 172.7,195.4 174.3,194.2 175.9,193.1 177.5,192 179.1,191 180.8,190 182.4,189 184,188.1 185.6,187.1 187.2,186 188.8,184.9 190.5,183.8 192.1,182.7 193.7,181.6 195.3,180.4 196.9,179.3 198.6,178.2 200.2,177.1 201.8,176 203.4,174.9 205,173.7 206.7,172.6 208.3,171.5 209.9,170.3 211.5,169.2 213.1,168.1 214.7,167 216.4,165.8 218,164.7 219.6,163.6 221.2,162.5 222.8,161.3 224.5,160.2 226.1,159.1 227.7,158.3 229.3,157.4 230.9,156.6 232.6,155.9 234.2,155 235.8,154.2 237.4,153.3 239,152.3 240.6,151.3 242.3,150.4 243.9,149.5 245.5,148.6 247.1,147.7 248.7,146.9 250.4,146 252,145.2 253.6,144.3 255.2,143.5 256.8,142.6 258.5,141.6 260.1,140.7 261.7,139.7 263.3,138.7 264.9,137.7 266.6,136.7 268.2,135.7 269.8,134.7 271.4,133.6 273,132.6 274.6,131.6 276.3,130.5 277.9,129.6 279.5,128.6 281.1,127.6 282.7,126.7 284.4,125.7 286,124.8 287.6,124 289.2,123.3 290.8,122.7 292.5,122.1 294.1,121.5 295.7,121 297.3,120.4 298.9,119.9 300.5,119.3 302.2,118.8 303.8,118.1 305.4,117.3 307,116.4"/>
<polyline stroke="#8c564b" stroke-width="1.25" points="64.2,272.9 65.8,271.7 67.4,270.5 69.1,269.2 70.7,268 72.3,266.8 73.9,265.6 75.5,264.4 77.2,263.2 78.8,262 80.4,260.8 82,259.6 83.6,258.3 85.2,257.1 86.9,255.9 88.5,254.7 90.1,253.5 91.7,252.3 93.3,251 95,249.8 96.6,248.6 98.2,247.4 99.8,246.2 101.4,245 103.1,243.8 104.7,242.6 106.3,241.3 107.9,240.1 109.5,238.8 111.1,237.5 112.8,236.3 114.4,235 116,233.7 117.6,232.5 119.2,231.2 120.9,230 122.5,228.8 124.1,227.6 125.7,226.3 127.3,225 129,223.8 130.6,222.5 132.2,221.2 133.8,219.9 135.4,218.6 137,217.4 138.7,216.1 140.3,214.9 141.9,213.7 143.5,212.4 145.1,211.3 146.8,210.8 148.4,210.4 150,209.9 151.6,209.4 153.2,208.9 154.9,208.4 156.5,207.9 158.1,207.4 159.7,206.9 161.3,206.4 162.9,205.9 164.6,205.4 166.2,204.9 167.8,204.4 169.4,203.9 171,203.3 172.7,202.8 174.3,202.4 175.9,201.9 177.5,201.4 179.1,200.9 180.8,200.4 182.4,199.8 184,199.2 185.6,198.6 187.2,197.9 188.8,197.3 190.5,196.6 192.1,196.1 193.7,195.6 195.3,195.1 196.9,194.6 198.6,194.2 200.2,193.7 201.8,193.2 203.4,192.7 205,192.1 206.7,191.6 208.3,191.1 209.9,190.6 211.5,190 213.1,189.5 214.7,189 216.4,188.6 218,188.1 219.6,187.6 221.2,187.1 222.8,186.6 224.5,186.1 226.1,185.4 227.7,184 229.3,182.7 230.9,181.4 232.6,180.1 234.2,178.8 235.8,177.6 237.4,176.5 239,175.3 240.6,174.2 242.3,173 243.9,171.9 245.5,170.8 247.1,169.6 248.7,168.5 250.4,167.4 252,166.3 253.6,165.2 255.2,164 256.8,162.8 258.5,161.7 260.1,160.5 261.7,159.4 263.3,158.2 264.9,157.1 266.6,156 268.2,154.9 269.8,153.8 271.4,152.6 273,151.4 274.6,150.1 276.3,148.8 277.9,147.5 279.5,146.3 281.1,145 282.7,143.8 284.4,142.7 286,141.5 287.6,140.4 289.2,139.4 290.8,138.3 292.5,137.3 294.1,136.4 295.7,135.5 297.3,134.7 298.9,134 300.5,133.3 302.2,132.6 303.8,132 305.4,131.2 307,130.4"/>
<polyline stroke="#e377c2" stroke-width="1.25" points="64.2,272.9 65.8,271.8 67.4,270.5 69.1,269.2 70.7,268 72.3,266.8 73.9,265.7 75.5,264.5 77.2,263.3 78.8,262.2 80.4,261 82,259.9 83.6,258.7 85.2,257.6 86.9,256.4 88.5,255.3 90.1,254.2 91.7,253 93.3,251.8 95,250.6 96.6,249.4 98.2,248.2 99.8,247 101.4,245.8 103.1,244.5 104.7,243.3 106.3,242.1 107.9,240.9 109.5,239.7 111.1,238.4 112.8,237.2 114.4,236 116,234.8 117.6,233.7 119.2,232.5 120.9,231.4 122.5,230.3 124.1,229.1 125.7,228 127.3,226.8 129,225.6 130.6,224.4 132.2,223.2 133.8,222 135.4,220.8 137,219.6 138.7,218.5 140.3,217.3 141.9,216.1 143.5,215 145.1,214 146.8,213.7 148.4,213.4 150,213.2 151.6,212.9 153.2,212.5 154.9,212.2 156.5,211.8 158.1,211.3 159.7,210.8 161.3,210.3 162.9,209.8 164.6,209.3 166.2,208.7 167.8,208.2 169.4,207.7 171,207.3 172.7,206.9 174.3,206.6 175.9,206.3 177.5,206 179.1,205.7 180.8,205.4 182.4,205 184,204.6 185.6,204.1 187.2,203.7 188.8,203.1 190.5,202.5 192.1,201.9 193.7,201.3 195.3,200.7 196.9,200.1 198.6,199.6 200.2,199.1 201.8,198.6 203.4,198.1 205,197.7 206.7,197.3 208.3,196.9 209.9,196.5 211.5,196.1 213.1,195.7 214.7,195.3 216.4,194.9 218,194.5 219.6,194.1 221.2,193.7 222.8,193.3 224.5,193 226.1,192.4 227.7,191.1 229.3,189.8 230.9,188.4 232.6,187.1 234.2,185.7 235.8,184.3 237.4,182.9 239,181.5 240.6,180.1 242.3,178.6 243.9,177.1 245.5,175.6 247.1,174 248.7,172.6 250.4,171.2 252,169.9 253.6,168.5 255.2,167.3 256.8,166.1 258.5,164.8 260.1,163.4 261.7,162.1 263.3,160.8 264.9,159.5 266.6,158.1 268.2,156.8 269.8,155.5 271.4,154.2 273,152.8 274.6,151.4 276.3,149.9 277.9,148.4 279.5,146.9 281.1,145.5 282.7,144 284.4,142.6 286,141.3 287.6,140.2 289.2,139.1 290.8,138.1 292.5,137.3 294.1,136.4 295.7,135.6 297.3,134.9 298.9,134.1 300.5,133.4 302.2,132.6 303.8,131.9 305.4,131.3 307,130.8"/>
<polyline stroke="#7f7f7f" stroke-width="1.25" points="64.2,272.9 65.8,271.9 67.4,270.8 69.1,269.6 70.7,268.3 72.3,267.1 73.9,265.9 75.5,264.7 77.2,263.5 78.8,262.4 80.4,261.2 82,260.1 83.6,258.9 85.2,257.8 86.9,256.7 88.5,255.6 90.1,254.5 91.7,253.4 93.3,252.3 95,251.2 96.6,250.1 98.2,249 99.8,247.8 101.4,246.7 103.1,245.5 104.7,244.4 106.3,243.3 107.9,242.2 109.5,241 111.1,239.9 112.8,238.7 114.4,237.5 116,236.3 117.6,235.1 119.2,233.9 120.9,232.7 122.5,231.5 124.1,230.4 125.7,229.2 127.3,228 129,226.9 130.6,225.7 132.2,224.5 133.8,223.4 135.4,222.2 137,221 138.7,219.9 140.3,218.7 141.9,217.6 143.5,216.4 145.1,215.2 146.8,214 148.4,212.7 150,211.3 151.6,209.9 153.2,208.5 154.9,207.1 156.5,205.8 158.1,204.5 159.7,203.2 161.3,201.9 162.9,200.7 164.6,199.5 166.2,198.4 167.8,197.2 169.4,196.1 171,194.9 172.7,193.7 174.3,192.6 175.9,191.4 177.5,190.2 179.1,188.9 180.8,187.7 182.4,186.6 184,185.5 185.6,184.3 187.2,183.3 188.8,182.2 190.5,181 192.1,179.9 193.7,178.6 195.3,177.3 196.9,176 198.6,174.7 200.2,173.4 201.8,172.2 203.4,170.9 205,169.6 206.7,168.4 208.3,167.1 209.9,165.8 211.5,164.5 213.1,163.2 214.7,162 216.4,160.7 218,159.5 219.6,158.3 221.2,157.1 222.8,156 224.5,154.9 226.1,153.8 227.7,152.9 229.3,152 230.9,151 232.6,150.1 234.2,149.1 235.8,148.1 237.4,147 239,145.9 240.6,144.8 242.3,143.7 243.9,142.5 245.5,141.4 247.1,140.3 248.7,139.3 250.4,138.4 252,137.4 253.6,136.4 255.2,135.4 256.8,134.4 258.5,133.5 260.1,132.4 261.7,131.4 263.3,130.3 264.9,129.2 266.6,128 268.2,126.8 269.8,125.7 271.4,124.6 273,123.6 274.6,122.6 276.3,121.5 277.9,120.5 279.5,119.5 281.1,118.6 282.7,117.5 284.4,116.5 286,115.5 287.6,114.6 289.2,113.8 290.8,113 292.5,112.3 294.1,111.6 295.7,111 297.3,110.4 298.9,109.7 300.5,109.2 302.2,108.6 303.8,108 305.4,107.6 307,107.2"/>
<polyline stroke="#bcbd22" stroke-width="1.25" points="64.2,272.9 65.8,271.8 67.4,270.6 69.1,269.5 70.7,268.3 72.3,267.2 73.9,266 75.5,264.8 77.2,263.6 78.8,262.4 80.4,261.2 82,260 83.6,258.9 85.2,257.7 86.9,256.6 88.5,255.5 90.1,254.4 91.7,253.2 93.3,252 95,250.8 96.6,249.5 98.2,248.3 99.8,247.1 101.4,245.8 103.1,244.6 104.7,243.5 106.3,242.3 107.9,241.2 109.5,240 111.1,238.9 112.8,237.8 114.4,236.7 116,235.5 117.6,234.4 119.2,233.3 120.9,232.2 122.5,231.1 124.1,229.9 125.7,228.8 127.3,227.6 129,226.4 130.6,225.2 132.2,224 133.8,222.8 135.4,221.7 137,220.5 138.7,219.4 140.3,218.3 141.9,217.1 143.5,216 145.1,215 146.8,214.6 148.4,214.4 150,214.1 151.6,213.8 153.2,213.5 154.9,213.2 156.5,212.9 158.1,212.6 159.7,212.2 161.3,211.8 162.9,211.3 164.6,210.9 166.2,210.5 167.8,210.2 169.4,209.9 171,209.6 172.7,209.3 174.3,209 175.9,208.7 177.5,208.4 179.1,208.1 180.8,207.7 182.4,207.3 184,206.9 185.6,206.5 187.2,206 188.8,205.6 190.5,205.1 192.1,204.7 193.7,204.3 195.3,203.8 196.9,203.2 198.6,202.8 200.2,202.3 201.8,201.9 203.4,201.4 205,201.1 206.7,200.8 208.3,200.5 209.9,200.1 211.5,199.8 213.1,199.5 214.7,199.1 216.4,198.8 218,198.3 219.6,197.9 221.2,197.5 222.8,197 224.5,196.6 226.1,196 227.7,194.8 229.3,193.7 230.9,192.5 232.6,191.4 234.2,190.3 235.8,189.2 237.4,188 239,186.8 240.6,185.6 242.3,184.4 243.9,183.2 245.5,182 247.1,180.7 248.7,179.5 250.4,178.2 252,177.1 253.6,175.9 255.2,174.7 256.8,173.6 258.5,172.5 260.1,171.4 261.7,170.3 263.3,169.2 264.9,168 266.6,166.8 268.2,165.6 269.8,164.4 271.4,163.2 273,162 274.6,160.9 276.3,159.7 277.9,158.6 279.5,157.5 281.1,156.4 282.7,155.3 284.4,154.2 286,153.1 287.6,152 289.2,151 290.8,150.1 292.5,149.3 294.1,148.6 295.7,147.9 297.3,147.4 298.9,146.9 300.5,146.4 302.2,145.9 303.8,145.2 305.4,144.5 307,143.6"/>
<polyline stroke="#17becf" stroke-width="1.25" points="64.2,272.9 65.8,272.2 67.4,271.2 69.1,270.1 70.7,268.8 72.3,267.6 73.9,266.4 75.5,265.2 77.2,264 78.8,262.7 80.4,261.5 82,260.3 83.6,259 85.2,257.8 86.9,256.6 88.5,255.4 90.1,254.2 91.7,253 93.3,251.7 95,250.5 96.6,249.3 98.2,248.1 99.8,247 101.4,245.8 103.1,244.6 104.7,243.5 106.3,242.3 107.9,241.1 109.5,239.9 111.1,238.7 112.8,237.5 114.4,236.3 116,235 117.6,233.8 119.2,232.5 120.9,231.3 122.5,230 124.1,228.8 125.7,227.6 127.3,226.4 129,225.3 130.6,224.1 132.2,223 133.8,221.8 135.4,220.6 137,219.3 138.7,218.1 140.3,216.9 141.9,215.6 143.5,214.4 145.1,213.3 146.8,212.9 148.4,212.5 150,212.1 151.6,211.7 153.2,211.3 154.9,211 156.5,210.6 158.1,210.2 159.7,209.9 161.3,209.6 162.9,209.3 164.6,209 166.2,208.7 167.8,208.5 169.4,208.2 171,207.9 172.7,207.5 174.3,207.2 175.9,206.8 177.5,206.5 179.1,206.1 180.8,205.8 182.4,205.4 184,205 185.6,204.7 187.2,204.3 188.8,203.8 190.5,203.4 192.1,203 193.7,202.6 195.3,202.3 196.9,201.9 198.6,201.5 200.2,201.1 201.8,200.6 203.4,200.1 205,199.7 206.7,199.3 208.3,198.9 209.9,198.4 211.5,198 213.1,197.5 214.7,197 216.4,196.5 218,196 219.6,195.5 221.2,195 222.8,194.6 224.5,194.2 226.1,193.6 227.7,192.3 229.3,191 230.9,189.8 232.6,188.5 234.2,187.2 235.8,186 237.4,184.7 239,183.5 240.6,182.2 242.3,180.8 243.9,179.5 245.5,178.1 247.1,176.8 248.7,175.5 250.4,174.1 252,172.8 253.6,171.5 255.2,170.2 256.8,168.8 258.5,167.4 260.1,166 261.7,164.6 263.3,163.1 264.9,161.6 266.6,160.2 268.2,158.7 269.8,157.2 271.4,155.7 273,154.3 274.6,152.8 276.3,151.4 277.9,150 279.5,148.6 281.1,147.2 282.7,145.7 284.4,144.3 286,142.9 287.6,141.5 289.2,140.3 290.8,139.2 292.5,138.1 294.1,137.1 295.7,136.3 297.3,135.4 298.9,134.7 300.5,134 302.2,133.2 303.8,132.5 305.4,131.7 307,130.8"/>
<polyline stroke="#1f77b4" stroke-width="1.25" points="64.2,272.9 65.8,272 67.4,270.9 69.1,269.8 70.7,268.7 72.3,267.6 73.9,266.4 75.5,265.3 77.2,264.2 78.8,263.1 80.4,261.9 82,260.8 83.6,259.7 85.2,258.5 86.9,257.4 88.5,256.3 90.1,255.1 91.7,254 93.3,252.8 95,251.7 96.6,250.6 98.2,249.5 99.8,248.3 101.4,247.1 103.1,245.9 104.7,244.7 106.3,243.4 107.9,242.2 109.5,241 111.1,239.7 112.8,238.5 114.4,237.3 116,236.1 117.6,234.9 119.2,233.8 120.9,232.7 122.5,231.6 124.1,230.6 125.7,229.5 127.3,228.5 129,227.4 130.6,226.3 132.2,225.1 133.8,224 135.4,222.9 137,221.8 138.7,220.7 140.3,219.6 141.9,218.5 143.5,217.4 145.1,216.3 146.8,215.2 148.4,214 150,212.9 151.6,211.8 153.2,210.7 154.9,209.7 156.5,208.7 158.1,207.6 159.7,206.6 161.3,205.6 162.9,204.4 164.6,203.3 166.2,202.1 167.8,201 169.4,199.8 171,198.7 172.7,197.6 174.3,196.5 175.9,195.2 177.5,194 179.1,192.9 180.8,191.7 182.4,190.5 184,189.4 185.6,188.4 187.2,187.4 188.8,186.4 190.5,185.3 192.1,184.2 193.7,183.1 195.3,181.9 196.9,180.8 198.6,179.6 200.2,178.5 201.8,177.5 203.4,176.4 205,175.4 206.7,174.4 208.3,173.4 209.9,172.5 211.5,171.5 213.1,170.5 214.7,169.5 216.4,168.4 218,167.3 219.6,166.1 221.2,164.9 222.8,163.7 224.5,162.5 226.1,161.3 227.7,160.1 229.3,159 230.9,157.9 232.6,156.8 234.2,155.6 235.8,154.5 237.4,153.5 239,152.4 240.6,151.3 242.3,150.2 243.9,149.1 245.5,147.9 247.1,146.8 248.7,145.6 250.4,144.5 252,143.3 253.6,142.2 255.2,141.1 256.8,140 258.5,138.9 260.1,137.8 261.7,136.6 263.3,135.5 264.9,134.3 266.6,133.2 268.2,132 269.8,130.8 271.4,129.7 273,128.6 274.6,127.5 276.3,126.3 277.9,125.1 279.5,124 281.1,122.8 282.7,121.7 284.4,120.6 286,119.5 287.6,118.5 289.2,117.5 290.8,116.6 292.5,115.7 294.1,114.9 295.7,114.1 297.3,113.4 298.9,112.7 300.5,112.2 302.2,111.7 303.8,111.1 305.4,110.6 307,110"/>
<polyline stroke="#ff7f0e" stroke-width="1.25" points="64.2,272.9 65.8,272 67.4,270.9 69.1,269.8 70.7,268.6 72.3,267.4 73.9,266.2 75.5,265 77.2,263.7 78.8,262.5 80.4,261.2 82,260 83.6,258.8 85.2,257.6 86.9,256.4 88.5,255.2 90.1,254 91.7,252.8 93.3,251.5 95,250.3 96.6,249 98.2,247.7 99.8,246.5 101.4,245.3 103.1,244.1 104.7,242.8 106.3,241.6 107.9,240.5 109.5,239.3 111.1,238.1 112.8,236.8 114.4,235.6 116,234.4 117.6,233.2 119.2,232 120.9,230.8 122.5,229.6 124.1,228.5 125.7,227.3 127.3,226.1 129,224.9 130.6,223.7 132.2,222.6 133.8,221.4 135.4,220.2 137,219 138.7,217.8 140.3,216.6 141.9,215.4 143.5,214.2 145.1,213.2 146.8,212.7 148.4,212.2 150,211.7 151.6,211.2 153.2,210.6 154.9,210.1 156.5,209.5 158.1,208.9 159.7,208.3 161.3,207.7 162.9,207.2 164.6,206.6 166.2,206 167.8,205.3 169.4,204.7 171,204.1 172.7,203.5 174.3,203 175.9,202.5 177.5,202.1 179.1,201.6 180.8,201.1 182.4,200.6 184,200 185.6,199.3 187.2,198.7 188.8,198.2 190.5,197.6 192.1,197 193.7,196.4 195.3,195.8 196.9,195.2 198.6,194.6 200.2,194.1 201.8,193.6 203.4,193.1 205,192.6 206.7,192.1 208.3,191.7 209.9,191.2 211.5,190.7 213.1,190.2 214.7,189.6 216.4,189.1 218,188.6 219.6,188 221.2,187.4 222.8,186.8 224.5,186.2 226.1,185.5 227.7,184.3 229.3,183 230.9,181.7 232.6,180.5 234.2,179.4 235.8,178.2 237.4,177 239,175.8 240.6,174.6 242.3,173.5 243.9,172.4 245.5,171.3 247.1,170.1 248.7,169 250.4,168 252,166.9 253.6,165.8 255.2,164.7 256.8,163.6 258.5,162.5 260.1,161.5 261.7,160.4 263.3,159.3 264.9,158 266.6,156.8 268.2,155.7 269.8,154.4 271.4,153.2 273,152 274.6,150.8 276.3,149.6 277.9,148.4 279.5,147.2 281.1,146.1 282.7,145 284.4,143.9 286,142.8 287.6,141.7 289.2,140.7 290.8,139.7 292.5,138.8 294.1,137.9 295.7,137.1 297.3,136.3 298.9,135.6 300.5,134.9 302.2,134.2 303.8,133.5 305.4,132.8 307,132.2"/>
<polyline stroke="#2ca02c" stroke-width="1.25" points="64.2,272.9 65.8,271.8 67.4,270.6 69.1,269.3 70.7,268.1 72.3,266.9 73.9,265.7 75.5,264.4 77.2,263.2 78.8,261.9 80.4,260.7 82,259.5 83.6,258.3 85.2,257.1 86.9,255.8 88.5,254.6 90.1,253.3 91.7,252.1 93.3,250.9 95,249.7 96.6,248.5 98.2,247.3 99.8,246.1 101.4,244.9 103.1,243.7 104.7,242.5 106.3,241.3 107.9,240 109.5,238.8 111.1,237.6 112.8,236.4 114.4,235.3 116,234.1 117.6,233 119.2,231.8 120.9,230.7 122.5,229.5 124.1,228.3 125.7,227.1 127.3,225.9 129,224.7 130.6,223.5 132.2,222.2 133.8,221 135.4,219.8 137,218.6 138.7,217.4 140.3,216.1 141.9,214.9 143.5,213.7 145.1,212.5 146.8,211.3 148.4,210.1 150,208.9 151.6,207.7 153.2,206.4 154.9,205.2 156.5,204 158.1,202.8 159.7,201.6 161.3,200.3 162.9,199.2 164.6,198 166.2,196.8 167.8,195.6 169.4,194.4 171,193.2 172.7,191.9 174.3,190.7 175.9,189.4 177.5,188.3 179.1,187 180.8,185.8 182.4,184.6 184,183.3 185.6,182.1 187.2,180.7 188.8,179.4 190.5,178.1 192.1,176.9 193.7,175.6 195.3,174.4 196.9,173.2 198.6,172.1 200.2,170.9 201.8,169.7 203.4,168.5 205,167.2 206.7,165.9 208.3,164.6 209.9,163.3 211.5,162 213.1,160.8 214.7,159.5 216.4,158.2 218,157 219.6,155.7 221.2,154.5 222.8,153.2 224.5,152 226.1,150.7 227.7,149.5 229.3,148.2 230.9,146.9 232.6,145.6 234.2,144.4 235.8,143.1 237.4,141.9 239,140.6 240.6,139.3 242.3,138.1 243.9,136.8 245.5,135.5 247.1,134.1 248.7,132.7 250.4,131.4 252,129.9 253.6,128.4 255.2,126.9 256.8,125.5 258.5,124 260.1,122.5 261.7,121.2 263.3,119.8 264.9,118.5 266.6,117.2 268.2,115.8 269.8,114.5 271.4,113.1 273,111.7 274.6,110.3 276.3,108.9 277.9,107.6 279.5,106.4 281.1,105.3 282.7,104.2 284.4,103.1 286,102 287.6,101 289.2,99.9 290.8,98.9 292.5,97.8 294.1,96.8 295.7,95.9 297.3,95 298.9,94.3 300.5,93.6 302.2,93 303.8,92.4 305.4,91.9 307,91.3"/>
<polyline stroke="#d62728" stroke-width="1.25" points="64.2,272.9 65.8,272 67.4,270.9 69.1,269.7 70.7,268.5 72.3,267.3 73.9,266.1 75.5,264.9 77.2,263.6 78.8,262.4 80.4,261.2 82,260 83.6,258.8 85.2,257.6 86.9,256.5 88.5,255.3 90.1,254.2 91.7,253.1 93.3,251.9 95,250.8 96.6,249.6 98.2,248.5 99.8,247.3 101.4,246 103.1,244.8 104.7,243.6 106.3,242.4 107.9,241.2 109.5,240 111.1,238.8 112.8,237.6 114.4,236.4 116,235.3 117.6,234.1 119.2,232.9 120.9,231.7 122.5,230.5 124.1,229.4 125.7,228.2 127.3,227 129,225.8 130.6,224.6 132.2,223.4 133.8,222.3 135.4,221.1 137,220 138.7,218.8 140.3,217.7 141.9,216.6 143.5,215.4 145.1,214.4 146.8,214 148.4,213.5 150,213 151.6,212.5 153.2,212 154.9,211.5 156.5,211 158.1,210.4 159.7,209.9 161.3,209.4 162.9,208.9 164.6,208.4 166.2,207.9 167.8,207.4 169.4,207 171,206.5 172.7,206.1 174.3,205.7 175.9,205.4 177.5,205.1 179.1,204.7 180.8,204.5 182.4,204.2 184,203.9 185.6,203.6 187.2,203.3 188.8,202.9 190.5,202.5 192.1,202.1 193.7,201.6 195.3,201.2 196.9,200.7 198.6,200.2 200.2,199.7 201.8,199.3 203.4,198.8 205,198.2 206.7,197.7 208.3,197.2 209.9,196.7 211.5,196.2 213.1,195.7 214.7,195.3 216.4,194.8 218,194.4 219.6,194 221.2,193.5 222.8,193 224.5,192.6 226.1,192 227.7,190.7 229.3,189.5 230.9,188.2 232.6,187 234.2,185.8 235.8,184.6 237.4,183.4 239,182.2 240.6,181 242.3,179.7 243.9,178.5 245.5,177.2 247.1,175.9 248.7,174.6 250.4,173.4 252,172.1 253.6,170.8 255.2,169.5 256.8,168.1 258.5,166.7 260.1,165.4 261.7,164 263.3,162.6 264.9,161.3 266.6,159.9 268.2,158.6 269.8,157.3 271.4,155.9 273,154.6 274.6,153.3 276.3,152.1 277.9,151 279.5,149.8 281.1,148.8 282.7,147.7 284.4,146.6 286,145.6 287.6,144.6 289.2,143.6 290.8,142.8 292.5,142 294.1,141.4 295.7,140.8 297.3,140.3 298.9,139.8 300.5,139.3 302.2,138.7 303.8,138.1 305.4,137.4 307,136.6"/>
<polyline stroke="#9467bd" stroke-width="1.25" points="64.2,272.9 65.8,272.1 67.4,271 69.1,269.9 70.7,268.7 72.3,267.6 73.9,266.4 75.5,265.3 77.2,264.1 78.8,263 80.4,261.8 82,260.6 83.6,259.5 85.2,258.3 86.9,257.1 88.5,255.9 90.1,254.7 91.7,253.6 93.3,252.4 95,251.3 96.6,250.2 98.2,249.1 99.8,247.9 101.4,246.8 103.1,245.6 104.7,244.5 106.3,243.3 107.9,242.2 109.5,241 111.1,239.9 112.8,238.7 114.4,237.6 116,236.5 117.6,235.4 119.2,234.3 120.9,233.2 122.5,232.1 124.1,230.9 125.7,229.7 127.3,228.5 129,227.4 130.6,226.2 132.2,224.9 133.8,223.7 135.4,222.5 137,221.2 138.7,220 140.3,218.8 141.9,217.6 143.5,216.4 145.1,215.1 146.8,213.9 148.4,212.6 150,211.4 151.6,210 153.2,208.8 154.9,207.5 156.5,206.2 158.1,204.9 159.7,203.7 161.3,202.5 162.9,201.3 164.6,200.2 166.2,199 167.8,197.8 169.4,196.6 171,195.3 172.7,194 174.3,192.7 175.9,191.4 177.5,190 179.1,188.7 180.8,187.5 182.4,186.2 184,184.9 185.6,183.6 187.2,182.4 188.8,181.2 190.5,179.9 192.1,178.8 193.7,177.6 195.3,176.4 196.9,175.3 198.6,174.1 200.2,173 201.8,171.7 203.4,170.5 205,169.2 206.7,168 208.3,166.7 209.9,165.5 211.5,164.4 213.1,163.3 214.7,162.1 216.4,160.9 218,159.7 219.6,158.6 221.2,157.5 222.8,156.3 224.5,155.2 226.1,154.1 227.7,152.9 229.3,151.8 230.9,150.6 232.6,149.4 234.2,148.2 235.8,147 237.4,145.8 239,144.5 240.6,143.3 242.3,142 243.9,140.7 245.5,139.5 247.1,138.2 248.7,136.9 250.4,135.7 252,134.5 253.6,133.3 255.2,132.1 256.8,130.9 258.5,129.8 260.1,128.7 261.7,127.5 263.3,126.4 264.9,125.3 266.6,124.1 268.2,122.9 269.8,121.7 271.4,120.5 273,119.3 274.6,118.1 276.3,117 277.9,115.9 279.5,114.8 281.1,113.8 282.7,112.8 284.4,111.8 286,110.7 287.6,109.7 289.2,108.7 290.8,107.8 292.5,106.9 294.1,106 295.7,105.3 297.3,104.5 298.9,103.9 300.5,103.3 302.2,102.7 303.8,102.2 305.4,101.5 307,100.8"/>
<polyline stroke="#8c564b" stroke-width="1.25" points="64.2,272.9 65.8,272 67.4,271 69.1,269.9 70.7,268.8 72.3,267.7 73.9,266.6 75.5,265.5 77.2,264.4 78.8,263.3 80.4,262.2 82,261.1 83.6,260 85.2,258.9 86.9,257.8 88.5,256.7 90.1,255.6 91.7,254.5 93.3,253.4 95,252.2 96.6,251.1 98.2,250.1 99.8,249 101.4,247.9 103.1,246.8 104.7,245.8 106.3,244.7 107.9,243.6 109.5,242.4 111.1,241.2 112.8,240.1 114.4,238.9 116,237.7 117.6,236.5 119.2,235.3 120.9,234.2 122.5,233 124.1,231.8 125.7,230.6 127.3,229.4 129,228.2 130.6,227 132.2,225.9 133.8,224.7 135.4,223.6 137,222.5 138.7,221.3 140.3,220.2 141.9,219 143.5,217.9 145.1,216.8 146.8,216.3 148.4,215.8 150,215.4 151.6,214.9 153.2,214.5 154.9,214 156.5,213.4 158.1,212.9 159.7,212.4 161.3,212 162.9,211.6 164.6,211.2 166.2,210.9 167.8,210.5 169.4,210.1 171,209.7 172.7,209.3 174.3,208.8 175.9,208.4 177.5,207.9 179.1,207.5 180.8,207 182.4,206.6 184,206.1 185.6,205.6 187.2,205.1 188.8,204.5 190.5,203.8 192.1,203.2 193.7,202.5 195.3,201.8 196.9,201.3 198.6,200.8 200.2,200.3 201.8,199.8 203.4,199.3 205,198.9 206.7,198.4 208.3,197.8 209.9,197.2 211.5,196.7 213.1,196.1 214.7,195.6 216.4,195 218,194.4 219.6,193.8 221.2,193.2 222.8,192.5 224.5,191.9 226.1,191.1 227.7,189.9 229.3,188.6 230.9,187.5 232.6,186.3 234.2,185.1 235.8,183.9 237.4,182.6 239,181.2 240.6,179.9 242.3,178.6 243.9,177.2 245.5,175.9 247.1,174.6 248.7,173.3 250.4,172 252,170.7 253.6,169.5 255.2,168.2 256.8,167 258.5,165.8 260.1,164.6 261.7,163.5 263.3,162.4 264.9,161.2 266.6,160 268.2,158.9 269.8,157.7 271.4,156.6 273,155.4 274.6,154.1 276.3,152.9 277.9,151.6 279.5,150.4 281.1,149.1 282.7,147.8 284.4,146.5 286,145.3 287.6,144.2 289.2,143 290.8,142 292.5,140.9 294.1,140.1 295.7,139.3 297.3,138.6 298.9,137.9 300.5,137.2 302.2,136.5 303.8,135.8 305.4,134.9 307,133.9"/>
<polyline stroke="#e377c2" stroke-width="1.25" points="64.2,272.9 65.8,272 67.4,270.9 69.1,269.8 70.7,268.7 72.3,267.5 73.9,266.4 75.5,265.2 77.2,264.1 78.8,262.9 80.4,261.7 82,260.5 83.6,259.3 85.2,258 86.9,256.8 88.5,255.6 90.1,254.3 91.7,253.1 93.3,251.9 95,250.7 96.6,249.4 98.2,248.2 99.8,247 101.4,245.8 103.1,244.5 104.7,243.2 106.3,242 107.9,240.8 109.5,239.5 111.1,238.3 112.8,237.1 114.4,235.9 116,234.7 117.6,233.5 119.2,232.3 120.9,231.1 122.5,230 124.1,228.8 125.7,227.6 127.3,226.5 129,225.3 130.6,224.2 132.2,223.1 133.8,221.9 135.4,220.7 137,219.5 138.7,218.3 140.3,217 141.9,215.8 143.5,214.5 145.1,213.3 146.8,212.7 148.4,212.1 150,211.5 151.6,210.8 153.2,210.2 154.9,209.7 156.5,209.1 158.1,208.6 159.7,208.1 161.3,207.6 162.9,207.1 164.6,206.7 166.2,206.3 167.8,205.8 169.4,205.5 171,205.2 172.7,204.9 174.3,204.6 175.9,204.3 177.5,204 179.1,203.6 180.8,203.1 182.4,202.6 184,201.9 185.6,201.3 187.2,200.7 188.8,200.1 190.5,199.6 192.1,199.1 193.7,198.7 195.3,198.3 196.9,197.9 198.6,197.5 200.2,197 201.8,196.5 203.4,196 205,195.4 206.7,194.9 208.3,194.3 209.9,193.8 211.5,193.2 213.1,192.7 214.7,192.2 216.4,191.6 218,191 219.6,190.5 221.2,189.9 222.8,189.4 224.5,188.9 226.1,188.2 227.7,187.1 229.3,185.9 230.9,184.6 232.6,183.5 234.2,182.3 235.8,181.1 237.4,180 239,178.8 240.6,177.7 242.3,176.5 243.9,175.4 245.5,174.2 247.1,173.1 248.7,172 250.4,171 252,170.1 253.6,169 255.2,168 256.8,167 258.5,165.9 260.1,164.8 261.7,163.5 263.3,162.3 264.9,161.2 266.6,160 268.2,158.9 269.8,157.7 271.4,156.6 273,155.5 274.6,154.3 276.3,153.1 277.9,151.9 279.5,150.7 281.1,149.5 282.7,148.3 284.4,147.1 286,146 287.6,145 289.2,144 290.8,143.1 292.5,142.2 294.1,141.3 295.7,140.6 297.3,139.9 298.9,139.2 300.5,138.5 302.2,137.8 303.8,137.1 305.4,136.4 307,135.7"/>
<polyline stroke="#7f7f7f" stroke-width="1.25" points="64.2,272.9 65.8,272.1 67.4,271.1 69.1,270 70.7,268.9 72.3,267.7 73.9,266.5 75.5,265.4 77.2,264.2 78.8,263 80.4,261.7 82,260.5 83.6,259.3 85.2,258.2 86.9,257 88.5,255.8 90.1,254.7 91.7,253.5 93.3,252.4 95,251.3 96.6,250.1 98.2,249 99.8,247.9 101.4,246.7 103.1,245.6 104.7,244.5 106.3,243.3 107.9,242.2 109.5,241 111.1,239.8 112.8,238.6 114.4,237.4 116,236.2 117.6,235 119.2,233.8 120.9,232.7 122.5,231.5 124.1,230.4 125.7,229.2 127.3,228 129,226.8 130.6,225.6 132.2,224.5 133.8,223.3 135.4,222.1 137,221 138.7,219.8 140.3,218.6 141.9,217.5 143.5,216.3 145.1,215.2 146.8,214 148.4,212.9 150,211.8 151.6,210.8 153.2,209.7 154.9,208.6 156.5,207.5 158.1,206.4 159.7,205.3 161.3,204.1 162.9,203 164.6,201.8 166.2,200.6 167.8,199.4 169.4,198.2 171,197 172.7,195.8 174.3,194.6 175.9,193.5 177.5,192.3 179.1,191.2 180.8,190 182.4,188.9 184,187.7 185.6,186.6 187.2,185.5 188.8,184.3 190.5,183.1 192.1,181.8 193.7,180.6 195.3,179.2 196.9,177.8 198.6,176.4 200.2,175.1 201.8,173.8 203.4,172.5 205,171.3 206.7,170.1 208.3,168.9 209.9,167.8 211.5,166.7 213.1,165.6 214.7,164.5 216.4,163.4 218,162.2 219.6,161 221.2,159.8 222.8,158.6 224.5,157.3 226.1,156.1 227.7,154.8 229.3,153.6 230.9,152.3 232.6,151.1 234.2,149.9 235.8,148.7 237.4,147.4 239,146.2 240.6,145.1 242.3,143.9 243.9,142.7 245.5,141.5 247.1,140.3 248.7,139.1 250.4,137.9 252,136.7 253.6,135.5 255.2,134.3 256.8,133.1 258.5,131.9 260.1,130.7 261.7,129.5 263.3,128.2 264.9,126.9 266.6,125.7 268.2,124.6 269.8,123.4 271.4,122.2 273,121 274.6,119.8 276.3,118.6 277.9,117.4 279.5,116.1 281.1,114.9 282.7,113.7 284.4,112.5 286,111.4 287.6,110.2 289.2,109.2 290.8,108.2 292.5,107.2 294.1,106.4 295.7,105.6 297.3,104.9 298.9,104.3 300.5,103.6 302.2,103 303.8,102.3 305.4,101.5 307,100.5"/>
<polyline stroke="#bcbd22" stroke-width="1.25" points="64.2,272.9 65.8,272.3 67.4,271.3 69.1,270.2 70.7,269 72.3,267.8 73.9,266.5 75.5,265.3 77.2,264 78.8,262.8 80.4,261.6 82,260.4 83.6,259.3 85.2,258.1 86.9,256.9 88.5,255.7 90.1,254.5 91.7,253.3 93.3,252.1 95,251 96.6,249.8 98.2,248.7 99.8,247.6 101.4,246.4 103.1,245.2 104.7,244 106.3,242.8 107.9,241.6 109.5,240.3 111.1,239.1 112.8,238 114.4,236.8 116,235.7 117.6,234.5 119.2,233.4 120.9,232.2 122.5,231.1 124.1,229.9 125.7,228.7 127.3,227.6 129,226.5 130.6,225.4 132.2,224.2 133.8,223.1 135.4,221.9 137,220.7 138.7,219.5 140.3,218.3 141.9,217.1 143.5,216 145.1,214.9 146.8,214.5 148.4,214.1 150,213.8 151.6,213.4 153.2,213 154.9,212.6 156.5,212.3 158.1,211.9 159.7,211.5 161.3,211.1 162.9,210.7 164.6,210.3 166.2,210 167.8,209.7 169.4,209.5 171,209.2 172.7,208.8 174.3,208.4 175.9,208 177.5,207.6 179.1,207.2 180.8,206.8 182.4,206.3 184,205.9 185.6,205.5 187.2,205.1 188.8,204.6 190.5,204.1 192.1,203.6 193.7,203.1 195.3,202.7 196.9,202.1 198.6,201.6 200.2,201.1 201.8,200.7 203.4,200.3 205,199.8 206.7,199.3 208.3,198.8 209.9,198.3 211.5,197.7 213.1,197.2 214.7,196.7 216.4,196.2 218,195.8 219.6,195.4 221.2,195 222.8,194.6 224.5,194.3 226.1,193.7 227.7,192.4 229.3,191.2 230.9,190.1 232.6,188.9 234.2,187.7 235.8,186.5 237.4,185.3 239,184.2 240.6,183 242.3,181.8 243.9,180.5 245.5,179.3 247.1,178.1 248.7,176.9 250.4,175.6 252,174.3 253.6,172.9 255.2,171.5 256.8,170.2 258.5,168.7 260.1,167.3 261.7,165.9 263.3,164.6 264.9,163.3 266.6,162 268.2,160.7 269.8,159.5 271.4,158.2 273,157.1 274.6,155.9 276.3,154.8 277.9,153.8 279.5,152.7 281.1,151.6 282.7,150.6 284.4,149.4 286,148.3 287.6,147.2 289.2,146.1 290.8,145.1 292.5,144.2 294.1,143.3 295.7,142.5 297.3,141.7 298.9,141 300.5,140.4 302.2,139.9 303.8,139.4 305.4,138.9 307,138.3"/>
<polyline stroke="#17becf" stroke-width="1.25" points="64.2,272.9 65.8,272.1 67.4,271.1 69.1,270 70.7,269 72.3,267.9 73.9,266.8 75.5,265.7 77.2,264.5 78.8,263.4 80.4,262.3 82,261.1 83.6,260 85.2,258.9 86.9,257.8 88.5,256.8 90.1,255.7 91.7,254.7 93.3,253.6 95,252.5 96.6,251.4 98.2,250.3 99.8,249.2 101.4,248.1 103.1,246.9 104.7,245.8 106.3,244.6 107.9,243.5 109.5,242.3 111.1,241.2 112.8,240 114.4,239 116,237.9 117.6,236.8 119.2,235.7 120.9,234.7 122.5,233.6 124.1,232.5 125.7,231.4 127.3,230.3 129,229.1 130.6,228 132.2,226.9 133.8,225.7 135.4,224.6 137,223.4 138.7,222.3 140.3,221.2 141.9,220.1 143.5,219 145.1,217.8 146.8,216.4 148.4,215.1 150,213.8 151.6,212.5 153.2,211.2 154.9,209.9 156.5,208.7 158.1,207.5 159.7,206.4 161.3,205.2 162.9,204.1 164.6,203 166.2,201.8 167.8,200.5 169.4,199.3 171,197.9 172.7,196.6 174.3,195.3 175.9,194 177.5,192.8 179.1,191.6 180.8,190.3 182.4,189 184,187.7 185.6,186.3 187.2,185 188.8,183.7 190.5,182.3 192.1,181 193.7,179.7 195.3,178.3 196.9,176.9 198.6,175.6 200.2,174.3 201.8,172.9 203.4,171.6 205,170.3 206.7,169.1 208.3,168 209.9,166.8 211.5,165.6 213.1,164.3 214.7,163.1 216.4,162 218,160.7 219.6,159.5 221.2,158.3 222.8,157.1 224.5,156 226.1,154.9 227.7,153.8 229.3,152.8 230.9,151.7 232.6,150.5 234.2,149.4 235.8,148.2 237.4,147.1 239,146.1 240.6,145.1 242.3,144.1 243.9,143.1 245.5,142 247.1,140.9 248.7,139.9 250.4,138.8 252,137.7 253.6,136.7 255.2,135.8 256.8,134.8 258.5,133.9 260.1,132.9 261.7,131.9 263.3,130.8 264.9,129.7 266.6,128.5 268.2,127.4 269.8,126.3 271.4,125.2 273,124.1 274.6,123 276.3,121.9 277.9,120.7 279.5,119.6 281.1,118.5 282.7,117.4 284.4,116.4 286,115.3 287.6,114.4 289.2,113.5 290.8,112.7 292.5,111.9 294.1,111.1 295.7,110.5 297.3,109.9 298.9,109.3 300.5,108.8 302.2,108.2 303.8,107.7 305.4,107.3 307,107"/>
<polyline stroke="#000" stroke-width="1.9" points="64.2,272.9 65.8,272 67.4,270.9 69.1,269.7 70.7,268.6 72.3,267.4 73.9,266.2 75.5,265 77.2,263.8 78.8,262.6 80.4,261.5 82,260.3 83.6,259.1 85.2,257.9 86.9,256.7 88.5,255.6 90.1,254.4 91.7,253.2 93.3,252 95,250.9 96.6,249.7 98.2,248.5 99.8,247.3 101.4,246.1 103.1,245 104.7,243.8 106.3,242.6 107.9,241.4 109.5,240.2 111.1,239 112.8,237.9 114.4,236.7 116,235.5 117.6,234.3 119.2,233.2 120.9,232 122.5,230.8 124.1,229.6 125.7,228.5 127.3,227.3 129,226.1 130.6,224.9 132.2,223.7 133.8,222.6 135.4,221.4 137,220.2 138.7,219.1 140.3,217.9 141.9,216.7 143.5,215.5 145.1,214.4 146.8,213.6 148.4,212.8 150,212 151.6,211.2 153.2,210.3 154.9,209.5 156.5,208.7 158.1,207.9 159.7,207 161.3,206.2 162.9,205.4 164.6,204.6 166.2,203.8 167.8,203 169.4,202.2 171,201.4 172.7,200.6 174.3,199.8 175.9,199 177.5,198.2 179.1,197.4 180.8,196.6 182.4,195.8 184,195 185.6,194.1 187.2,193.3 188.8,192.5 190.5,191.6 192.1,190.8 193.7,190 195.3,189.1 196.9,188.3 198.6,187.5 200.2,186.7 201.8,185.8 203.4,185 205,184.2 206.7,183.4 208.3,182.6 209.9,181.8 211.5,180.9 213.1,180.1 214.7,179.3 216.4,178.5 218,177.6 219.6,176.8 221.2,176 222.8,175.1 224.5,174.3 226.1,173.4 227.7,172.2 229.3,171 230.9,169.8 232.6,168.6 234.2,167.5 235.8,166.3 237.4,165.1 239,163.9 240.6,162.7 242.3,161.4 243.9,160.2 245.5,159 247.1,157.8 248.7,156.6 250.4,155.4 252,154.2 253.6,152.9 255.2,151.7 256.8,150.5 258.5,149.3 260.1,148.1 261.7,146.8 263.3,145.6 264.9,144.4 266.6,143.1 268.2,141.9 269.8,140.7 271.4,139.5 273,138.2 274.6,137 276.3,135.8 277.9,134.6 279.5,133.4 281.1,132.2 282.7,131 284.4,129.8 286,128.7 287.6,127.6 289.2,126.6 290.8,125.6 292.5,124.7 294.1,123.8 295.7,123 297.3,122.3 298.9,121.6 300.5,121 302.2,120.4 303.8,119.7 305.4,119.1 307,118.5"/>
<line x1="64.2" y1="272.9" x2="307.6" y2="272.9" stroke="#000" stroke-width="1.6"/>
</g>
<line x1="144.7" y1="60.6" x2="144.7" y2="272.9" stroke="#1a1a1a" stroke-width="1.4" stroke-dasharray="4.1 3.85"/>
<line x1="225.6" y1="60.6" x2="225.6" y2="272.9" stroke="#1a1a1a" stroke-width="1.4" stroke-dasharray="4.1 3.85"/>
<rect x="118.2" y="186.4" width="54" height="53.3" fill="none" stroke="#c4c4c4" stroke-width="1"/>
<line x1="78.4" y1="131.8" x2="118.2" y2="239.8" stroke="#c4c4c4" stroke-width="1"/>
<line x1="140.1" y1="63.4" x2="172.1" y2="186.4" stroke="#c4c4c4" stroke-width="1"/>
<rect x="78.4" y="63.4" width="61.7" height="68.4" fill="#fff"/>
<g fill="none" stroke-linejoin="round" clip-path="url(#cib)">
<polyline stroke="#1f77b4" stroke-width="1.25" points="75.3,128.7 75.9,128.2 76.5,127.8 77.2,127.3 77.8,126.9 78.4,126.4 79,126 79.6,125.5 80.3,125 80.9,124.6 81.5,124.1 82.1,123.6 82.7,123.1 83.3,122.7 84,122.2 84.6,121.7 85.2,121.2 85.8,120.8 86.4,120.3 87,119.8 87.7,119.3 88.3,118.9 88.9,118.4 89.5,117.9 90.1,117.4 90.7,116.9 91.4,116.4 92,115.9 92.6,115.4 93.2,114.9 93.8,114.4 94.4,113.9 95.1,113.4 95.7,112.8 96.3,112.3 96.9,111.8 97.5,111.3 98.1,110.8 98.8,110.3 99.4,109.8 100,109.3 100.6,108.8 101.2,108.3 101.8,107.8 102.5,107.3 103.1,106.8 103.7,106.3 104.3,105.9 104.9,105.4 105.5,104.9 106.2,104.4 106.8,103.9 107.4,103.4 108,102.9 108.6,102.4 109.2,101.9 109.9,101.3 110.5,100.8 111.1,100.2 111.7,99.6 112.3,99.1 113,98.6 113.6,98 114.2,97.5 114.8,97 115.4,96.4 116,95.9 116.7,95.3 117.3,94.8 117.9,94.3 118.5,93.8 119.1,93.2 119.7,92.7 120.4,92.2 121,91.7 121.6,91.2 122.2,90.7 122.8,90.1 123.4,89.6 124.1,89.1 124.7,88.6 125.3,88.1 125.9,87.6 126.5,87.1 127.1,86.6 127.8,86.1 128.4,85.5 129,85 129.6,84.5 130.2,83.9 130.8,83.4 131.5,82.9 132.1,82.4 132.7,81.9 133.3,81.3 133.9,80.8 134.5,80.3 135.2,79.8 135.8,79.3 136.4,78.8 137,78.3 137.6,77.8 138.2,77.3 138.9,76.8 139.5,76.3 140.1,75.7 140.7,75.3 141.3,74.8 142,74.3 142.6,73.8 143.2,73.3"/>
<polyline stroke="#ff7f0e" stroke-width="1.25" points="75.3,125.6 75.9,125.1 76.5,124.5 77.2,124 77.8,123.5 78.4,123 79,122.4 79.6,121.9 80.3,121.4 80.9,120.9 81.5,120.4 82.1,119.9 82.7,119.4 83.3,118.8 84,118.3 84.6,117.8 85.2,117.3 85.8,116.8 86.4,116.3 87,115.8 87.7,115.3 88.3,114.8 88.9,114.3 89.5,113.8 90.1,113.3 90.7,112.8 91.4,112.3 92,111.8 92.6,111.3 93.2,110.8 93.8,110.3 94.4,109.8 95.1,109.3 95.7,108.8 96.3,108.3 96.9,107.7 97.5,107.2 98.1,106.7 98.8,106.2 99.4,105.7 100,105.2 100.6,104.6 101.2,104.1 101.8,103.6 102.5,103.1 103.1,102.5 103.7,102 104.3,101.5 104.9,101 105.5,100.4 106.2,99.9 106.8,99.4 107.4,98.8 108,98.3 108.6,97.8 109.2,97.4 109.9,97.2 110.5,96.9 111.1,96.7 111.7,96.4 112.3,96.2 113,96 113.6,95.7 114.2,95.5 114.8,95.2 115.4,95 116,94.8 116.7,94.5 117.3,94.3 117.9,94 118.5,93.7 119.1,93.5 119.7,93.2 120.4,93 121,92.7 121.6,92.4 122.2,92.1 122.8,91.9 123.4,91.6 124.1,91.3 124.7,91 125.3,90.7 125.9,90.5 126.5,90.2 127.1,90 127.8,89.7 128.4,89.5 129,89.2 129.6,89 130.2,88.8 130.8,88.5 131.5,88.3 132.1,88 132.7,87.7 133.3,87.5 133.9,87.3 134.5,87 135.2,86.8 135.8,86.5 136.4,86.3 137,86.1 137.6,85.9 138.2,85.7 138.9,85.5 139.5,85.3 140.1,85 140.7,84.8 141.3,84.6 142,84.4 142.6,84.2 143.2,84"/>
<polyline stroke="#2ca02c" stroke-width="1.25" points="75.3,125.3 75.9,124.8 76.5,124.2 77.2,123.7 77.8,123.2 78.4,122.7 79,122.2 79.6,121.6 80.3,121.1 80.9,120.6 81.5,120.1 82.1,119.6 82.7,119.1 83.3,118.6 84,118.1 84.6,117.6 85.2,117.1 85.8,116.5 86.4,116 87,115.5 87.7,115 88.3,114.5 88.9,114 89.5,113.5 90.1,113 90.7,112.4 91.4,111.9 92,111.4 92.6,110.9 93.2,110.4 93.8,109.8 94.4,109.3 95.1,108.8 95.7,108.2 96.3,107.7 96.9,107.2 97.5,106.6 98.1,106.1 98.8,105.6 99.4,105.1 100,104.5 100.6,104 101.2,103.5 101.8,103 102.5,102.4 103.1,101.9 103.7,101.4 104.3,100.9 104.9,100.3 105.5,99.8 106.2,99.3 106.8,98.8 107.4,98.2 108,97.7 108.6,97.2 109.2,96.6 109.9,96.1 110.5,95.6 111.1,95.1 111.7,94.6 112.3,94.1 113,93.6 113.6,93.1 114.2,92.6 114.8,92.2 115.4,91.7 116,91.2 116.7,90.8 117.3,90.3 117.9,89.8 118.5,89.4 119.1,89 119.7,88.5 120.4,88.1 121,87.7 121.6,87.3 122.2,86.9 122.8,86.4 123.4,86 124.1,85.6 124.7,85.1 125.3,84.7 125.9,84.3 126.5,83.8 127.1,83.3 127.8,82.9 128.4,82.4 129,81.9 129.6,81.4 130.2,81 130.8,80.5 131.5,80 132.1,79.5 132.7,79.1 133.3,78.6 133.9,78.1 134.5,77.6 135.2,77.1 135.8,76.6 136.4,76.1 137,75.6 137.6,75.1 138.2,74.6 138.9,74 139.5,73.5 140.1,73 140.7,72.6 141.3,72.1 142,71.6 142.6,71.1 143.2,70.5"/>
<polyline stroke="#d62728" stroke-width="1.25" points="75.3,129.3 75.9,128.8 76.5,128.3 77.2,127.8 77.8,127.4 78.4,126.9 79,126.4 79.6,125.9 80.3,125.4 80.9,124.9 81.5,124.4 82.1,123.9 82.7,123.4 83.3,123 84,122.5 84.6,122 85.2,121.6 85.8,121.1 86.4,120.6 87,120.2 87.7,119.7 88.3,119.3 88.9,118.8 89.5,118.3 90.1,117.9 90.7,117.4 91.4,117 92,116.5 92.6,116.1 93.2,115.6 93.8,115.2 94.4,114.7 95.1,114.3 95.7,113.8 96.3,113.4 96.9,112.9 97.5,112.5 98.1,112 98.8,111.5 99.4,111 100,110.6 100.6,110.1 101.2,109.6 101.8,109.1 102.5,108.6 103.1,108.2 103.7,107.7 104.3,107.2 104.9,106.7 105.5,106.2 106.2,105.7 106.8,105.3 107.4,104.8 108,104.3 108.6,103.8 109.2,103.5 109.9,103.3 110.5,103.1 111.1,102.9 111.7,102.7 112.3,102.5 113,102.3 113.6,102.1 114.2,101.9 114.8,101.7 115.4,101.5 116,101.3 116.7,101 117.3,100.8 117.9,100.6 118.5,100.4 119.1,100.2 119.7,99.9 120.4,99.7 121,99.5 121.6,99.3 122.2,99.1 122.8,98.9 123.4,98.7 124.1,98.5 124.7,98.3 125.3,98.1 125.9,97.9 126.5,97.7 127.1,97.5 127.8,97.3 128.4,97.1 129,97 129.6,96.8 130.2,96.6 130.8,96.4 131.5,96.2 132.1,96 132.7,95.8 133.3,95.6 133.9,95.5 134.5,95.3 135.2,95.1 135.8,94.9 136.4,94.7 137,94.5 137.6,94.3 138.2,94.1 138.9,93.9 139.5,93.7 140.1,93.5 140.7,93.3 141.3,93.1 142,92.9 142.6,92.7 143.2,92.4"/>
<polyline stroke="#9467bd" stroke-width="1.25" points="75.3,126.8 75.9,126.3 76.5,125.8 77.2,125.3 77.8,124.8 78.4,124.2 79,123.7 79.6,123.2 80.3,122.7 80.9,122.2 81.5,121.7 82.1,121.2 82.7,120.7 83.3,120.2 84,119.7 84.6,119.1 85.2,118.6 85.8,118.1 86.4,117.6 87,117 87.7,116.5 88.3,116 88.9,115.5 89.5,115 90.1,114.4 90.7,113.9 91.4,113.4 92,112.9 92.6,112.4 93.2,111.9 93.8,111.4 94.4,110.9 95.1,110.4 95.7,109.9 96.3,109.4 96.9,108.9 97.5,108.4 98.1,107.9 98.8,107.4 99.4,107 100,106.5 100.6,106 101.2,105.5 101.8,105 102.5,104.5 103.1,104 103.7,103.5 104.3,103 104.9,102.5 105.5,102 106.2,101.5 106.8,101 107.4,100.5 108,100 108.6,99.5 109.2,99 109.9,98.5 110.5,98 111.1,97.5 111.7,97.1 112.3,96.6 113,96.1 113.6,95.6 114.2,95.1 114.8,94.6 115.4,94.2 116,93.7 116.7,93.2 117.3,92.7 117.9,92.3 118.5,91.8 119.1,91.3 119.7,90.7 120.4,90.3 121,89.8 121.6,89.3 122.2,88.8 122.8,88.3 123.4,87.8 124.1,87.4 124.7,86.9 125.3,86.5 125.9,86 126.5,85.5 127.1,85.1 127.8,84.6 128.4,84.2 129,83.7 129.6,83.3 130.2,82.8 130.8,82.4 131.5,81.9 132.1,81.5 132.7,81 133.3,80.6 133.9,80.1 134.5,79.6 135.2,79.1 135.8,78.7 136.4,78.2 137,77.6 137.6,77.1 138.2,76.6 138.9,76.1 139.5,75.6 140.1,75.1 140.7,74.5 141.3,74 142,73.5 142.6,73 143.2,72.5"/>
<polyline stroke="#8c564b" stroke-width="1.25" points="75.3,130.2 75.9,129.8 76.5,129.3 77.2,128.8 77.8,128.3 78.4,127.9 79,127.4 79.6,126.9 80.3,126.4 80.9,125.9 81.5,125.4 82.1,124.9 82.7,124.4 83.3,123.9 84,123.4 84.6,122.9 85.2,122.4 85.8,121.9 86.4,121.4 87,120.9 87.7,120.4 88.3,119.9 88.9,119.4 89.5,118.9 90.1,118.4 90.7,117.9 91.4,117.3 92,116.8 92.6,116.3 93.2,115.8 93.8,115.4 94.4,114.9 95.1,114.4 95.7,113.9 96.3,113.4 96.9,112.9 97.5,112.4 98.1,112 98.8,111.5 99.4,111 100,110.6 100.6,110.1 101.2,109.6 101.8,109.1 102.5,108.7 103.1,108.2 103.7,107.7 104.3,107.2 104.9,106.7 105.5,106.2 106.2,105.8 106.8,105.3 107.4,104.8 108,104.3 108.6,103.8 109.2,103.3 109.9,102.8 110.5,102.3 111.1,101.8 111.7,101.2 112.3,100.7 113,100.1 113.6,99.6 114.2,99.1 114.8,98.6 115.4,98.1 116,97.5 116.7,97 117.3,96.5 117.9,96 118.5,95.5 119.1,95 119.7,94.4 120.4,93.9 121,93.4 121.6,92.9 122.2,92.4 122.8,91.9 123.4,91.4 124.1,90.9 124.7,90.4 125.3,90 125.9,89.5 126.5,89 127.1,88.5 127.8,88.1 128.4,87.6 129,87.1 129.6,86.7 130.2,86.2 130.8,85.7 131.5,85.3 132.1,84.9 132.7,84.4 133.3,84 133.9,83.6 134.5,83.1 135.2,82.7 135.8,82.3 136.4,81.9 137,81.5 137.6,81.1 138.2,80.7 138.9,80.2 139.5,79.8 140.1,79.4 140.7,79 141.3,78.5 142,78.1 142.6,77.6 143.2,77.1"/>
<polyline stroke="#e377c2" stroke-width="1.25" points="75.3,126.9 75.9,126.5 76.5,126 77.2,125.5 77.8,125 78.4,124.5 79,124 79.6,123.5 80.3,123 80.9,122.5 81.5,122 82.1,121.5 82.7,121.1 83.3,120.6 84,120.1 84.6,119.6 85.2,119.2 85.8,118.7 86.4,118.2 87,117.7 87.7,117.2 88.3,116.7 88.9,116.2 89.5,115.8 90.1,115.3 90.7,114.8 91.4,114.3 92,113.8 92.6,113.3 93.2,112.8 93.8,112.3 94.4,111.8 95.1,111.2 95.7,110.7 96.3,110.1 96.9,109.6 97.5,109 98.1,108.5 98.8,107.9 99.4,107.4 100,106.9 100.6,106.3 101.2,105.7 101.8,105.2 102.5,104.6 103.1,104.1 103.7,103.5 104.3,103 104.9,102.4 105.5,101.9 106.2,101.3 106.8,100.8 107.4,100.3 108,99.8 108.6,99.3 109.2,98.9 109.9,98.7 110.5,98.5 111.1,98.3 111.7,98.1 112.3,97.9 113,97.7 113.6,97.6 114.2,97.4 114.8,97.3 115.4,97.1 116,96.9 116.7,96.8 117.3,96.6 117.9,96.4 118.5,96.2 119.1,96.1 119.7,95.9 120.4,95.7 121,95.5 121.6,95.3 122.2,95.1 122.8,95 123.4,94.8 124.1,94.7 124.7,94.5 125.3,94.4 125.9,94.3 126.5,94.1 127.1,93.9 127.8,93.8 128.4,93.6 129,93.5 129.6,93.3 130.2,93.1 130.8,93 131.5,92.8 132.1,92.7 132.7,92.5 133.3,92.4 133.9,92.3 134.5,92.2 135.2,92 135.8,91.9 136.4,91.8 137,91.6 137.6,91.5 138.2,91.3 138.9,91.2 139.5,91.1 140.1,90.9 140.7,90.8 141.3,90.7 142,90.5 142.6,90.4 143.2,90.3"/>
<polyline stroke="#7f7f7f" stroke-width="1.25" points="75.3,127.3 75.9,126.8 76.5,126.3 77.2,125.8 77.8,125.3 78.4,124.9 79,124.4 79.6,123.9 80.3,123.4 80.9,122.9 81.5,122.4 82.1,121.9 82.7,121.3 83.3,120.8 84,120.3 84.6,119.8 85.2,119.3 85.8,118.7 86.4,118.2 87,117.7 87.7,117.1 88.3,116.6 88.9,116.1 89.5,115.5 90.1,115 90.7,114.5 91.4,113.9 92,113.4 92.6,112.9 93.2,112.4 93.8,111.9 94.4,111.4 95.1,110.9 95.7,110.4 96.3,109.9 96.9,109.4 97.5,108.9 98.1,108.4 98.8,107.9 99.4,107.4 100,106.9 100.6,106.4 101.2,105.9 101.8,105.5 102.5,105 103.1,104.5 103.7,104 104.3,103.5 104.9,103 105.5,102.5 106.2,102 106.8,101.5 107.4,101 108,100.5 108.6,100 109.2,99.5 109.9,99 110.5,98.5 111.1,98 111.7,97.6 112.3,97.1 113,96.7 113.6,96.2 114.2,95.7 114.8,95.2 115.4,94.7 116,94.2 116.7,93.7 117.3,93.2 117.9,92.7 118.5,92.2 119.1,91.7 119.7,91.2 120.4,90.7 121,90.2 121.6,89.7 122.2,89.2 122.8,88.7 123.4,88.3 124.1,87.8 124.7,87.3 125.3,86.8 125.9,86.4 126.5,86 127.1,85.5 127.8,85.1 128.4,84.7 129,84.2 129.6,83.8 130.2,83.4 130.8,82.9 131.5,82.5 132.1,82 132.7,81.6 133.3,81.1 133.9,80.7 134.5,80.2 135.2,79.7 135.8,79.2 136.4,78.7 137,78.3 137.6,77.8 138.2,77.3 138.9,76.8 139.5,76.3 140.1,75.8 140.7,75.3 141.3,74.8 142,74.3 142.6,73.8 143.2,73.3"/>
<polyline stroke="#bcbd22" stroke-width="1.25" points="75.3,128.4 75.9,127.9 76.5,127.4 77.2,126.9 77.8,126.4 78.4,125.9 79,125.4 79.6,125 80.3,124.5 80.9,124 81.5,123.5 82.1,123 82.7,122.5 83.3,122 84,121.5 84.6,121 85.2,120.5 85.8,120 86.4,119.5 87,119 87.7,118.5 88.3,118 88.9,117.4 89.5,116.9 90.1,116.4 90.7,115.9 91.4,115.4 92,115 92.6,114.5 93.2,114 93.8,113.5 94.4,113 95.1,112.5 95.7,112 96.3,111.5 96.9,111 97.5,110.6 98.1,110.1 98.8,109.6 99.4,109.1 100,108.6 100.6,108.1 101.2,107.7 101.8,107.2 102.5,106.7 103.1,106.2 103.7,105.7 104.3,105.2 104.9,104.7 105.5,104.2 106.2,103.7 106.8,103.2 107.4,102.7 108,102.2 108.6,101.7 109.2,101.4 109.9,101.2 110.5,101 111.1,100.8 111.7,100.6 112.3,100.4 113,100.2 113.6,100 114.2,99.8 114.8,99.6 115.4,99.4 116,99.3 116.7,99.1 117.3,98.9 117.9,98.7 118.5,98.6 119.1,98.4 119.7,98.2 120.4,98 121,97.8 121.6,97.6 122.2,97.4 122.8,97.3 123.4,97.1 124.1,96.9 124.7,96.7 125.3,96.5 125.9,96.3 126.5,96.2 127.1,96 127.8,95.8 128.4,95.6 129,95.4 129.6,95.2 130.2,94.9 130.8,94.7 131.5,94.5 132.1,94.3 132.7,94.1 133.3,93.8 133.9,93.6 134.5,93.3 135.2,93.1 135.8,92.8 136.4,92.6 137,92.4 137.6,92.1 138.2,91.9 138.9,91.6 139.5,91.4 140.1,91.1 140.7,90.9 141.3,90.7 142,90.4 142.6,90.2 143.2,89.9"/>
<polyline stroke="#17becf" stroke-width="1.25" points="75.3,126.2 75.9,125.7 76.5,125.2 77.2,124.6 77.8,124.1 78.4,123.6 79,123.1 79.6,122.5 80.3,122 80.9,121.5 81.5,121 82.1,120.4 82.7,119.9 83.3,119.4 84,118.9 84.6,118.4 85.2,117.8 85.8,117.3 86.4,116.8 87,116.3 87.7,115.8 88.3,115.3 88.9,114.8 89.5,114.3 90.1,113.8 90.7,113.3 91.4,112.8 92,112.3 92.6,111.8 93.2,111.3 93.8,110.8 94.4,110.4 95.1,109.9 95.7,109.4 96.3,108.9 96.9,108.4 97.5,107.9 98.1,107.4 98.8,106.9 99.4,106.4 100,105.9 100.6,105.4 101.2,104.9 101.8,104.4 102.5,103.9 103.1,103.4 103.7,102.9 104.3,102.4 104.9,101.9 105.5,101.4 106.2,100.9 106.8,100.4 107.4,99.9 108,99.4 108.6,98.9 109.2,98.4 109.9,97.9 110.5,97.4 111.1,96.9 111.7,96.4 112.3,95.9 113,95.4 113.6,95 114.2,94.5 114.8,94 115.4,93.5 116,93 116.7,92.5 117.3,92.1 117.9,91.6 118.5,91.1 119.1,90.7 119.7,90.2 120.4,89.8 121,89.3 121.6,88.8 122.2,88.4 122.8,87.9 123.4,87.4 124.1,87 124.7,86.5 125.3,86.1 125.9,85.6 126.5,85.2 127.1,84.7 127.8,84.2 128.4,83.8 129,83.3 129.6,82.8 130.2,82.4 130.8,81.9 131.5,81.4 132.1,81 132.7,80.5 133.3,80.1 133.9,79.6 134.5,79.2 135.2,78.7 135.8,78.3 136.4,77.8 137,77.3 137.6,76.7 138.2,76.2 138.9,75.7 139.5,75.2 140.1,74.7 140.7,74.2 141.3,73.7 142,73.3 142.6,72.8 143.2,72.3"/>
<polyline stroke="#1f77b4" stroke-width="1.25" points="75.3,125.6 75.9,125 76.5,124.5 77.2,123.9 77.8,123.4 78.4,122.8 79,122.3 79.6,121.7 80.3,121.2 80.9,120.6 81.5,120.1 82.1,119.5 82.7,119 83.3,118.5 84,117.9 84.6,117.4 85.2,116.9 85.8,116.3 86.4,115.8 87,115.3 87.7,114.7 88.3,114.2 88.9,113.7 89.5,113.2 90.1,112.7 90.7,112.2 91.4,111.7 92,111.2 92.6,110.7 93.2,110.1 93.8,109.6 94.4,109.1 95.1,108.6 95.7,108.1 96.3,107.6 96.9,107 97.5,106.5 98.1,106 98.8,105.5 99.4,105 100,104.5 100.6,104 101.2,103.5 101.8,103 102.5,102.5 103.1,102 103.7,101.5 104.3,101 104.9,100.5 105.5,100 106.2,99.5 106.8,99 107.4,98.5 108,97.9 108.6,97.4 109.2,96.9 109.9,96.4 110.5,95.8 111.1,95.3 111.7,94.8 112.3,94.2 113,93.7 113.6,93.1 114.2,92.6 114.8,92 115.4,91.5 116,90.9 116.7,90.4 117.3,89.8 117.9,89.3 118.5,88.7 119.1,88.2 119.7,87.6 120.4,87.1 121,86.6 121.6,86 122.2,85.5 122.8,85 123.4,84.4 124.1,84 124.7,83.5 125.3,83 125.9,82.5 126.5,82 127.1,81.5 127.8,81 128.4,80.6 129,80.1 129.6,79.6 130.2,79.1 130.8,78.6 131.5,78.2 132.1,77.7 132.7,77.2 133.3,76.8 133.9,76.3 134.5,75.8 135.2,75.3 135.8,74.8 136.4,74.3 137,73.8 137.6,73.3 138.2,72.8 138.9,72.4 139.5,71.9 140.1,71.4 140.7,70.9 141.3,70.4 142,69.9 142.6,69.4 143.2,68.9"/>
<polyline stroke="#ff7f0e" stroke-width="1.25" points="75.3,126.6 75.9,126.1 76.5,125.5 77.2,125 77.8,124.5 78.4,124 79,123.5 79.6,123 80.3,122.4 80.9,121.9 81.5,121.4 82.1,120.9 82.7,120.3 83.3,119.8 84,119.3 84.6,118.8 85.2,118.3 85.8,117.8 86.4,117.3 87,116.8 87.7,116.3 88.3,115.7 88.9,115.2 89.5,114.7 90.1,114.2 90.7,113.7 91.4,113.2 92,112.7 92.6,112.2 93.2,111.7 93.8,111.2 94.4,110.7 95.1,110.2 95.7,109.7 96.3,109.2 96.9,108.7 97.5,108.1 98.1,107.6 98.8,107.1 99.4,106.6 100,106.1 100.6,105.5 101.2,105 101.8,104.5 102.5,104 103.1,103.4 103.7,102.9 104.3,102.4 104.9,101.9 105.5,101.4 106.2,100.8 106.8,100.3 107.4,99.8 108,99.3 108.6,98.8 109.2,98.3 109.9,97.8 110.5,97.3 111.1,96.8 111.7,96.3 112.3,95.8 113,95.4 113.6,94.9 114.2,94.4 114.8,93.9 115.4,93.4 116,92.9 116.7,92.4 117.3,91.9 117.9,91.4 118.5,90.9 119.1,90.4 119.7,89.9 120.4,89.3 121,88.8 121.6,88.3 122.2,87.8 122.8,87.3 123.4,86.8 124.1,86.3 124.7,85.8 125.3,85.3 125.9,84.8 126.5,84.3 127.1,83.8 127.8,83.2 128.4,82.7 129,82.2 129.6,81.7 130.2,81.2 130.8,80.7 131.5,80.2 132.1,79.7 132.7,79.2 133.3,78.7 133.9,78.2 134.5,77.7 135.2,77.1 135.8,76.6 136.4,76 137,75.5 137.6,75 138.2,74.4 138.9,73.8 139.5,73.3 140.1,72.7 140.7,72.2 141.3,71.7 142,71.1 142.6,70.6 143.2,70.1"/>
<polyline stroke="#2ca02c" stroke-width="1.25" points="75.3,124.9 75.9,124.3 76.5,123.8 77.2,123.3 77.8,122.8 78.4,122.2 79,121.7 79.6,121.2 80.3,120.7 80.9,120.2 81.5,119.7 82.1,119.2 82.7,118.7 83.3,118.1 84,117.6 84.6,117.1 85.2,116.6 85.8,116.1 86.4,115.6 87,115.1 87.7,114.6 88.3,114.2 88.9,113.7 89.5,113.2 90.1,112.7 90.7,112.2 91.4,111.6 92,111.1 92.6,110.6 93.2,110.1 93.8,109.6 94.4,109.1 95.1,108.6 95.7,108.1 96.3,107.6 96.9,107.1 97.5,106.6 98.1,106.1 98.8,105.6 99.4,105.1 100,104.6 100.6,104.1 101.2,103.6 101.8,103 102.5,102.5 103.1,102 103.7,101.5 104.3,101 104.9,100.5 105.5,100 106.2,99.4 106.8,98.9 107.4,98.4 108,97.9 108.6,97.3 109.2,97 109.9,96.8 110.5,96.6 111.1,96.4 111.7,96.2 112.3,96 113,95.8 113.6,95.6 114.2,95.4 114.8,95.2 115.4,95.1 116,94.9 116.7,94.7 117.3,94.5 117.9,94.3 118.5,94.1 119.1,93.9 119.7,93.7 120.4,93.5 121,93.3 121.6,93.1 122.2,92.8 122.8,92.6 123.4,92.3 124.1,92 124.7,91.8 125.3,91.5 125.9,91.2 126.5,90.9 127.1,90.6 127.8,90.4 128.4,90.1 129,89.8 129.6,89.6 130.2,89.3 130.8,89.1 131.5,88.8 132.1,88.6 132.7,88.3 133.3,88.1 133.9,87.9 134.5,87.7 135.2,87.5 135.8,87.3 136.4,87.1 137,86.9 137.6,86.7 138.2,86.5 138.9,86.3 139.5,86.1 140.1,85.9 140.7,85.7 141.3,85.5 142,85.4 142.6,85.2 143.2,85"/>
<polyline stroke="#d62728" stroke-width="1.25" points="75.3,130.8 75.9,130.3 76.5,129.8 77.2,129.3 77.8,128.9 78.4,128.4 79,127.9 79.6,127.4 80.3,127 80.9,126.5 81.5,126 82.1,125.6 82.7,125.1 83.3,124.6 84,124.2 84.6,123.7 85.2,123.2 85.8,122.8 86.4,122.3 87,121.8 87.7,121.3 88.3,120.9 88.9,120.4 89.5,119.9 90.1,119.4 90.7,119 91.4,118.5 92,118 92.6,117.5 93.2,117.1 93.8,116.6 94.4,116.1 95.1,115.6 95.7,115.1 96.3,114.6 96.9,114.2 97.5,113.7 98.1,113.2 98.8,112.7 99.4,112.2 100,111.8 100.6,111.3 101.2,110.8 101.8,110.4 102.5,109.9 103.1,109.4 103.7,109 104.3,108.5 104.9,108 105.5,107.5 106.2,107.1 106.8,106.6 107.4,106.1 108,105.7 108.6,105.2 109.2,104.9 109.9,104.7 110.5,104.4 111.1,104.2 111.7,104 112.3,103.8 113,103.6 113.6,103.3 114.2,103.1 114.8,102.9 115.4,102.7 116,102.4 116.7,102.2 117.3,102 117.9,101.8 118.5,101.6 119.1,101.4 119.7,101.1 120.4,100.9 121,100.7 121.6,100.5 122.2,100.2 122.8,100 123.4,99.8 124.1,99.5 124.7,99.3 125.3,99.1 125.9,98.9 126.5,98.7 127.1,98.4 127.8,98.2 128.4,98.1 129,97.9 129.6,97.7 130.2,97.6 130.8,97.4 131.5,97.3 132.1,97.1 132.7,96.9 133.3,96.8 133.9,96.6 134.5,96.5 135.2,96.4 135.8,96.2 136.4,96.1 137,95.9 137.6,95.7 138.2,95.6 138.9,95.4 139.5,95.2 140.1,95 140.7,94.8 141.3,94.6 142,94.4 142.6,94.1 143.2,93.9"/>
<polyline stroke="#9467bd" stroke-width="1.25" points="75.3,125.4 75.9,124.9 76.5,124.4 77.2,123.9 77.8,123.5 78.4,123 79,122.5 79.6,122 80.3,121.5 80.9,121.1 81.5,120.6 82.1,120.1 82.7,119.7 83.3,119.2 84,118.7 84.6,118.2 85.2,117.8 85.8,117.3 86.4,116.8 87,116.4 87.7,115.9 88.3,115.4 88.9,114.9 89.5,114.4 90.1,113.9 90.7,113.4 91.4,113 92,112.5 92.6,112 93.2,111.5 93.8,111 94.4,110.5 95.1,110 95.7,109.5 96.3,109 96.9,108.5 97.5,108 98.1,107.5 98.8,107 99.4,106.5 100,106 100.6,105.5 101.2,105 101.8,104.5 102.5,104 103.1,103.5 103.7,103 104.3,102.5 104.9,102 105.5,101.5 106.2,101.1 106.8,100.6 107.4,100.1 108,99.6 108.6,99.1 109.2,98.8 109.9,98.6 110.5,98.4 111.1,98.3 111.7,98.1 112.3,97.9 113,97.7 113.6,97.5 114.2,97.3 114.8,97.1 115.4,96.9 116,96.7 116.7,96.5 117.3,96.3 117.9,96.1 118.5,96 119.1,95.8 119.7,95.6 120.4,95.4 121,95.3 121.6,95.1 122.2,94.9 122.8,94.7 123.4,94.5 124.1,94.4 124.7,94.2 125.3,94 125.9,93.8 126.5,93.6 127.1,93.4 127.8,93.1 128.4,92.9 129,92.7 129.6,92.5 130.2,92.2 130.8,92 131.5,91.8 132.1,91.5 132.7,91.3 133.3,91 133.9,90.8 134.5,90.6 135.2,90.3 135.8,90.1 136.4,89.9 137,89.6 137.6,89.4 138.2,89.2 138.9,89 139.5,88.7 140.1,88.5 140.7,88.3 141.3,88.1 142,87.9 142.6,87.6 143.2,87.4"/>
<polyline stroke="#8c564b" stroke-width="1.25" points="75.3,125.4 75.9,124.9 76.5,124.4 77.2,123.9 77.8,123.4 78.4,122.9 79,122.4 79.6,121.9 80.3,121.4 80.9,120.9 81.5,120.4 82.1,119.9 82.7,119.4 83.3,118.9 84,118.4 84.6,117.9 85.2,117.4 85.8,116.9 86.4,116.4 87,115.9 87.7,115.4 88.3,114.9 88.9,114.4 89.5,114 90.1,113.5 90.7,113 91.4,112.5 92,112.1 92.6,111.6 93.2,111.1 93.8,110.6 94.4,110.1 95.1,109.6 95.7,109.1 96.3,108.6 96.9,108.1 97.5,107.6 98.1,107.1 98.8,106.6 99.4,106.1 100,105.6 100.6,105.1 101.2,104.6 101.8,104.1 102.5,103.5 103.1,103 103.7,102.5 104.3,101.9 104.9,101.4 105.5,100.9 106.2,100.4 106.8,99.8 107.4,99.3 108,98.7 108.6,98.2 109.2,97.8 109.9,97.6 110.5,97.3 111.1,97.1 111.7,96.8 112.3,96.6 113,96.3 113.6,96.1 114.2,95.8 114.8,95.6 115.4,95.3 116,95.1 116.7,94.9 117.3,94.6 117.9,94.4 118.5,94.2 119.1,94 119.7,93.7 120.4,93.5 121,93.3 121.6,93.1 122.2,92.9 122.8,92.7 123.4,92.6 124.1,92.4 124.7,92.3 125.3,92.1 125.9,92 126.5,91.8 127.1,91.7 127.8,91.6 128.4,91.4 129,91.3 129.6,91.1 130.2,91 130.8,90.8 131.5,90.7 132.1,90.5 132.7,90.4 133.3,90.2 133.9,90.1 134.5,89.9 135.2,89.7 135.8,89.5 136.4,89.3 137,89.1 137.6,88.9 138.2,88.7 138.9,88.4 139.5,88.2 140.1,88 140.7,87.8 141.3,87.5 142,87.3 142.6,87.1 143.2,86.9"/>
<polyline stroke="#e377c2" stroke-width="1.25" points="75.3,127.4 75.9,126.8 76.5,126.3 77.2,125.8 77.8,125.3 78.4,124.8 79,124.2 79.6,123.7 80.3,123.2 80.9,122.6 81.5,122.1 82.1,121.6 82.7,121 83.3,120.5 84,120 84.6,119.5 85.2,118.9 85.8,118.4 86.4,117.9 87,117.4 87.7,116.9 88.3,116.4 88.9,115.9 89.5,115.3 90.1,114.8 90.7,114.3 91.4,113.8 92,113.3 92.6,112.8 93.2,112.3 93.8,111.8 94.4,111.3 95.1,110.8 95.7,110.3 96.3,109.8 96.9,109.3 97.5,108.9 98.1,108.4 98.8,107.9 99.4,107.4 100,106.9 100.6,106.4 101.2,105.9 101.8,105.4 102.5,104.9 103.1,104.4 103.7,103.9 104.3,103.4 104.9,102.9 105.5,102.4 106.2,101.9 106.8,101.4 107.4,100.9 108,100.4 108.6,99.9 109.2,99.6 109.9,99.4 110.5,99.2 111.1,99 111.7,98.9 112.3,98.7 113,98.5 113.6,98.3 114.2,98.2 114.8,98 115.4,97.8 116,97.6 116.7,97.5 117.3,97.3 117.9,97.1 118.5,97 119.1,96.8 119.7,96.6 120.4,96.5 121,96.3 121.6,96.2 122.2,96 122.8,95.8 123.4,95.7 124.1,95.5 124.7,95.3 125.3,95.1 125.9,94.9 126.5,94.7 127.1,94.6 127.8,94.4 128.4,94.1 129,93.9 129.6,93.7 130.2,93.5 130.8,93.3 131.5,93.1 132.1,92.9 132.7,92.7 133.3,92.4 133.9,92.2 134.5,92 135.2,91.7 135.8,91.5 136.4,91.3 137,91.1 137.6,90.9 138.2,90.7 138.9,90.5 139.5,90.3 140.1,90.2 140.7,90 141.3,89.8 142,89.6 142.6,89.4 143.2,89.3"/>
<polyline stroke="#7f7f7f" stroke-width="1.25" points="75.3,126.1 75.9,125.7 76.5,125.2 77.2,124.7 77.8,124.2 78.4,123.7 79,123.2 79.6,122.6 80.3,122.1 80.9,121.6 81.5,121.1 82.1,120.5 82.7,120 83.3,119.5 84,118.9 84.6,118.4 85.2,117.8 85.8,117.3 86.4,116.7 87,116.2 87.7,115.6 88.3,115.1 88.9,114.5 89.5,114 90.1,113.5 90.7,112.9 91.4,112.4 92,111.9 92.6,111.4 93.2,110.8 93.8,110.3 94.4,109.8 95.1,109.3 95.7,108.8 96.3,108.3 96.9,107.8 97.5,107.3 98.1,106.9 98.8,106.4 99.4,105.9 100,105.4 100.6,104.9 101.2,104.4 101.8,103.9 102.5,103.4 103.1,102.9 103.7,102.4 104.3,101.9 104.9,101.4 105.5,100.9 106.2,100.4 106.8,99.8 107.4,99.3 108,98.8 108.6,98.3 109.2,97.9 109.9,97.7 110.5,97.4 111.1,97.2 111.7,96.9 112.3,96.7 113,96.4 113.6,96.2 114.2,96 114.8,95.8 115.4,95.5 116,95.3 116.7,95.1 117.3,94.9 117.9,94.7 118.5,94.4 119.1,94.2 119.7,94 120.4,93.7 121,93.5 121.6,93.3 122.2,93.1 122.8,92.9 123.4,92.7 124.1,92.5 124.7,92.2 125.3,92 125.9,91.8 126.5,91.6 127.1,91.4 127.8,91.2 128.4,91 129,90.7 129.6,90.5 130.2,90.3 130.8,90.1 131.5,89.9 132.1,89.7 132.7,89.5 133.3,89.3 133.9,89.1 134.5,88.9 135.2,88.7 135.8,88.5 136.4,88.3 137,88.1 137.6,88 138.2,87.8 138.9,87.6 139.5,87.3 140.1,87.1 140.7,86.9 141.3,86.7 142,86.4 142.6,86.2 143.2,86"/>
<polyline stroke="#bcbd22" stroke-width="1.25" points="75.3,124.9 75.9,124.4 76.5,124 77.2,123.5 77.8,123 78.4,122.5 79,122 79.6,121.5 80.3,121 80.9,120.5 81.5,120 82.1,119.5 82.7,119.1 83.3,118.6 84,118.1 84.6,117.6 85.2,117.1 85.8,116.6 86.4,116.1 87,115.6 87.7,115.1 88.3,114.6 88.9,114.2 89.5,113.7 90.1,113.2 90.7,112.7 91.4,112.2 92,111.7 92.6,111.1 93.2,110.6 93.8,110.1 94.4,109.6 95.1,109.1 95.7,108.6 96.3,108.1 96.9,107.6 97.5,107.1 98.1,106.6 98.8,106.1 99.4,105.5 100,105 100.6,104.5 101.2,104 101.8,103.5 102.5,103.1 103.1,102.6 103.7,102.1 104.3,101.6 104.9,101.1 105.5,100.6 106.2,100.1 106.8,99.6 107.4,99.1 108,98.6 108.6,98.1 109.2,97.6 109.9,97.1 110.5,96.6 111.1,96.1 111.7,95.6 112.3,95.1 113,94.6 113.6,94.1 114.2,93.6 114.8,93 115.4,92.5 116,92 116.7,91.5 117.3,90.9 117.9,90.4 118.5,89.8 119.1,89.3 119.7,88.8 120.4,88.2 121,87.7 121.6,87.2 122.2,86.6 122.8,86.1 123.4,85.6 124.1,85.1 124.7,84.5 125.3,84 125.9,83.5 126.5,82.9 127.1,82.4 127.8,81.9 128.4,81.4 129,80.9 129.6,80.3 130.2,79.8 130.8,79.3 131.5,78.8 132.1,78.3 132.7,77.7 133.3,77.2 133.9,76.7 134.5,76.2 135.2,75.7 135.8,75.1 136.4,74.6 137,74.1 137.6,73.7 138.2,73.2 138.9,72.6 139.5,72.1 140.1,71.6 140.7,71.1 141.3,70.6 142,70.1 142.6,69.5 143.2,69"/>
<polyline stroke="#17becf" stroke-width="1.25" points="75.3,126.3 75.9,125.8 76.5,125.3 77.2,124.9 77.8,124.4 78.4,123.9 79,123.4 79.6,122.9 80.3,122.4 80.9,122 81.5,121.5 82.1,121 82.7,120.5 83.3,120 84,119.5 84.6,119 85.2,118.5 85.8,118.1 86.4,117.6 87,117.1 87.7,116.6 88.3,116.1 88.9,115.6 89.5,115.1 90.1,114.6 90.7,114.1 91.4,113.7 92,113.2 92.6,112.7 93.2,112.2 93.8,111.7 94.4,111.2 95.1,110.7 95.7,110.2 96.3,109.7 96.9,109.2 97.5,108.7 98.1,108.2 98.8,107.7 99.4,107.2 100,106.7 100.6,106.2 101.2,105.7 101.8,105.2 102.5,104.7 103.1,104.2 103.7,103.7 104.3,103.2 104.9,102.7 105.5,102.1 106.2,101.6 106.8,101.1 107.4,100.6 108,100.1 108.6,99.6 109.2,99.1 109.9,98.6 110.5,98.1 111.1,97.6 111.7,97.2 112.3,96.7 113,96.2 113.6,95.8 114.2,95.3 114.8,94.8 115.4,94.3 116,93.9 116.7,93.4 117.3,92.9 117.9,92.5 118.5,92 119.1,91.5 119.7,91 120.4,90.5 121,90 121.6,89.5 122.2,89 122.8,88.5 123.4,88 124.1,87.5 124.7,87 125.3,86.5 125.9,86 126.5,85.5 127.1,85 127.8,84.5 128.4,84 129,83.5 129.6,83 130.2,82.5 130.8,82 131.5,81.6 132.1,81.1 132.7,80.6 133.3,80.1 133.9,79.7 134.5,79.3 135.2,78.8 135.8,78.4 136.4,77.9 137,77.5 137.6,77 138.2,76.6 138.9,76.1 139.5,75.7 140.1,75.2 140.7,74.8 141.3,74.3 142,73.9 142.6,73.4 143.2,73"/>
<polyline stroke="#1f77b4" stroke-width="1.25" points="75.3,127.4 75.9,126.9 76.5,126.4 77.2,125.9 77.8,125.4 78.4,124.9 79,124.4 79.6,123.9 80.3,123.4 80.9,122.9 81.5,122.4 82.1,121.9 82.7,121.4 83.3,120.9 84,120.4 84.6,119.9 85.2,119.3 85.8,118.8 86.4,118.3 87,117.8 87.7,117.3 88.3,116.7 88.9,116.2 89.5,115.7 90.1,115.2 90.7,114.7 91.4,114.2 92,113.6 92.6,113.1 93.2,112.6 93.8,112.1 94.4,111.6 95.1,111.1 95.7,110.6 96.3,110.1 96.9,109.6 97.5,109.1 98.1,108.5 98.8,108 99.4,107.5 100,107 100.6,106.5 101.2,106 101.8,105.5 102.5,105 103.1,104.5 103.7,104 104.3,103.5 104.9,103 105.5,102.5 106.2,102 106.8,101.5 107.4,101 108,100.5 108.6,100 109.2,99.7 109.9,99.5 110.5,99.4 111.1,99.3 111.7,99.1 112.3,99 113,98.8 113.6,98.7 114.2,98.5 114.8,98.3 115.4,98.2 116,98 116.7,97.8 117.3,97.6 117.9,97.4 118.5,97.3 119.1,97.1 119.7,96.9 120.4,96.7 121,96.5 121.6,96.3 122.2,96.1 122.8,95.9 123.4,95.7 124.1,95.5 124.7,95.3 125.3,95.1 125.9,94.9 126.5,94.7 127.1,94.5 127.8,94.3 128.4,94.1 129,94 129.6,93.8 130.2,93.6 130.8,93.5 131.5,93.3 132.1,93.2 132.7,93.1 133.3,93 133.9,92.8 134.5,92.7 135.2,92.6 135.8,92.5 136.4,92.4 137,92.2 137.6,92.1 138.2,92 138.9,91.9 139.5,91.7 140.1,91.6 140.7,91.5 141.3,91.3 142,91.2 142.6,91.1 143.2,90.9"/>
<polyline stroke="#ff7f0e" stroke-width="1.25" points="75.3,127.3 75.9,126.9 76.5,126.4 77.2,125.9 77.8,125.5 78.4,125 79,124.5 79.6,124 80.3,123.5 80.9,123.1 81.5,122.6 82.1,122.1 82.7,121.6 83.3,121.1 84,120.7 84.6,120.2 85.2,119.7 85.8,119.2 86.4,118.7 87,118.2 87.7,117.7 88.3,117.1 88.9,116.6 89.5,116.1 90.1,115.6 90.7,115.1 91.4,114.6 92,114.1 92.6,113.6 93.2,113.1 93.8,112.6 94.4,112.1 95.1,111.6 95.7,111.1 96.3,110.6 96.9,110.1 97.5,109.6 98.1,109.1 98.8,108.6 99.4,108.1 100,107.6 100.6,107.1 101.2,106.6 101.8,106.1 102.5,105.6 103.1,105.1 103.7,104.6 104.3,104.1 104.9,103.6 105.5,103.1 106.2,102.6 106.8,102.1 107.4,101.7 108,101.2 108.6,100.7 109.2,100.2 109.9,99.7 110.5,99.2 111.1,98.8 111.7,98.3 112.3,97.9 113,97.4 113.6,96.9 114.2,96.4 114.8,95.9 115.4,95.4 116,94.9 116.7,94.4 117.3,93.9 117.9,93.4 118.5,92.8 119.1,92.3 119.7,91.8 120.4,91.3 121,90.8 121.6,90.3 122.2,89.8 122.8,89.3 123.4,88.7 124.1,88.2 124.7,87.7 125.3,87.2 125.9,86.6 126.5,86.1 127.1,85.6 127.8,85 128.4,84.5 129,83.9 129.6,83.4 130.2,82.9 130.8,82.3 131.5,81.7 132.1,81.2 132.7,80.6 133.3,80.1 133.9,79.5 134.5,78.9 135.2,78.4 135.8,77.9 136.4,77.3 137,76.8 137.6,76.2 138.2,75.7 138.9,75.1 139.5,74.6 140.1,74.1 140.7,73.5 141.3,73 142,72.5 142.6,71.9 143.2,71.4"/>
<polyline stroke="#2ca02c" stroke-width="1.25" points="75.3,126 75.9,125.5 76.5,124.9 77.2,124.4 77.8,123.9 78.4,123.3 79,122.8 79.6,122.3 80.3,121.7 80.9,121.2 81.5,120.6 82.1,120.1 82.7,119.5 83.3,119 84,118.5 84.6,117.9 85.2,117.4 85.8,116.8 86.4,116.3 87,115.8 87.7,115.3 88.3,114.7 88.9,114.2 89.5,113.7 90.1,113.1 90.7,112.6 91.4,112.1 92,111.6 92.6,111.1 93.2,110.6 93.8,110 94.4,109.5 95.1,109 95.7,108.5 96.3,108 96.9,107.5 97.5,107 98.1,106.5 98.8,106 99.4,105.5 100,105 100.6,104.5 101.2,104.1 101.8,103.6 102.5,103.1 103.1,102.6 103.7,102.2 104.3,101.7 104.9,101.2 105.5,100.8 106.2,100.3 106.8,99.8 107.4,99.3 108,98.8 108.6,98.4 109.2,98.1 109.9,97.9 110.5,97.8 111.1,97.6 111.7,97.5 112.3,97.3 113,97.1 113.6,96.9 114.2,96.7 114.8,96.5 115.4,96.3 116,96 116.7,95.8 117.3,95.6 117.9,95.3 118.5,95.1 119.1,94.9 119.7,94.7 120.4,94.4 121,94.2 121.6,93.9 122.2,93.7 122.8,93.4 123.4,93.2 124.1,92.9 124.7,92.7 125.3,92.5 125.9,92.3 126.5,92.1 127.1,91.9 127.8,91.6 128.4,91.4 129,91.2 129.6,91 130.2,90.8 130.8,90.6 131.5,90.4 132.1,90.1 132.7,89.9 133.3,89.7 133.9,89.5 134.5,89.3 135.2,89.1 135.8,89 136.4,88.8 137,88.6 137.6,88.4 138.2,88.2 138.9,88 139.5,87.9 140.1,87.7 140.7,87.5 141.3,87.3 142,87.1 142.6,86.9 143.2,86.7"/>
<polyline stroke="#d62728" stroke-width="1.25" points="75.3,124.5 75.9,124 76.5,123.5 77.2,123 77.8,122.4 78.4,121.9 79,121.4 79.6,120.8 80.3,120.3 80.9,119.8 81.5,119.3 82.1,118.7 82.7,118.2 83.3,117.6 84,117.1 84.6,116.5 85.2,116 85.8,115.4 86.4,114.9 87,114.4 87.7,113.8 88.3,113.3 88.9,112.7 89.5,112.1 90.1,111.6 90.7,111 91.4,110.5 92,109.9 92.6,109.3 93.2,108.8 93.8,108.2 94.4,107.7 95.1,107.1 95.7,106.5 96.3,106 96.9,105.4 97.5,104.9 98.1,104.3 98.8,103.7 99.4,103.2 100,102.6 100.6,102.1 101.2,101.5 101.8,101 102.5,100.4 103.1,99.9 103.7,99.3 104.3,98.8 104.9,98.2 105.5,97.7 106.2,97.2 106.8,96.6 107.4,96.1 108,95.6 108.6,95.1 109.2,94.6 109.9,94.1 110.5,93.6 111.1,93.1 111.7,92.6 112.3,92.1 113,91.6 113.6,91 114.2,90.5 114.8,90 115.4,89.5 116,89 116.7,88.4 117.3,87.9 117.9,87.4 118.5,86.9 119.1,86.4 119.7,85.8 120.4,85.3 121,84.7 121.6,84.1 122.2,83.6 122.8,83 123.4,82.4 124.1,81.8 124.7,81.3 125.3,80.7 125.9,80.1 126.5,79.6 127.1,79 127.8,78.5 128.4,77.9 129,77.3 129.6,76.8 130.2,76.2 130.8,75.6 131.5,75 132.1,74.5 132.7,73.9 133.3,73.4 133.9,72.8 134.5,72.2 135.2,71.7 135.8,71.1 136.4,70.5 137,70 137.6,69.4 138.2,68.8 138.9,68.2 139.5,67.7 140.1,67.1 140.7,66.6 141.3,66 142,65.5 142.6,64.9 143.2,64.4"/>
<polyline stroke="#9467bd" stroke-width="1.25" points="75.3,128.7 75.9,128.3 76.5,127.8 77.2,127.3 77.8,126.8 78.4,126.3 79,125.8 79.6,125.3 80.3,124.8 80.9,124.3 81.5,123.9 82.1,123.4 82.7,122.9 83.3,122.4 84,121.9 84.6,121.5 85.2,121 85.8,120.5 86.4,120 87,119.5 87.7,119.1 88.3,118.6 88.9,118.1 89.5,117.6 90.1,117.1 90.7,116.6 91.4,116.2 92,115.7 92.6,115.2 93.2,114.8 93.8,114.3 94.4,113.8 95.1,113.3 95.7,112.9 96.3,112.4 96.9,111.9 97.5,111.5 98.1,111 98.8,110.5 99.4,110 100,109.5 100.6,109.1 101.2,108.6 101.8,108.1 102.5,107.6 103.1,107.1 103.7,106.7 104.3,106.2 104.9,105.7 105.5,105.2 106.2,104.7 106.8,104.2 107.4,103.7 108,103.2 108.6,102.7 109.2,102.3 109.9,102.2 110.5,102 111.1,101.8 111.7,101.6 112.3,101.5 113,101.3 113.6,101.1 114.2,101 114.8,100.8 115.4,100.7 116,100.5 116.7,100.3 117.3,100.2 117.9,100 118.5,99.8 119.1,99.6 119.7,99.4 120.4,99.2 121,99 121.6,98.8 122.2,98.6 122.8,98.4 123.4,98.1 124.1,97.9 124.7,97.7 125.3,97.4 125.9,97.2 126.5,96.9 127.1,96.6 127.8,96.4 128.4,96.2 129,95.9 129.6,95.7 130.2,95.5 130.8,95.3 131.5,95.1 132.1,94.9 132.7,94.7 133.3,94.5 133.9,94.3 134.5,94.1 135.2,93.9 135.8,93.8 136.4,93.6 137,93.4 137.6,93.2 138.2,93.1 138.9,92.9 139.5,92.8 140.1,92.6 140.7,92.4 141.3,92.2 142,92 142.6,91.9 143.2,91.7"/>
<polyline stroke="#8c564b" stroke-width="1.25" points="75.3,129.1 75.9,128.6 76.5,128.1 77.2,127.6 77.8,127.2 78.4,126.7 79,126.2 79.6,125.7 80.3,125.2 80.9,124.7 81.5,124.3 82.1,123.8 82.7,123.3 83.3,122.8 84,122.4 84.6,121.9 85.2,121.4 85.8,121 86.4,120.5 87,120 87.7,119.5 88.3,119 88.9,118.5 89.5,118 90.1,117.6 90.7,117.1 91.4,116.6 92,116.1 92.6,115.6 93.2,115.1 93.8,114.6 94.4,114.1 95.1,113.6 95.7,113.2 96.3,112.7 96.9,112.2 97.5,111.7 98.1,111.2 98.8,110.7 99.4,110.2 100,109.7 100.6,109.2 101.2,108.7 101.8,108.2 102.5,107.7 103.1,107.3 103.7,106.8 104.3,106.3 104.9,105.8 105.5,105.3 106.2,104.8 106.8,104.4 107.4,103.9 108,103.4 108.6,103 109.2,102.7 109.9,102.5 110.5,102.4 111.1,102.3 111.7,102.2 112.3,102.1 113,102 113.6,101.9 114.2,101.8 114.8,101.7 115.4,101.5 116,101.4 116.7,101.3 117.3,101.2 117.9,101 118.5,100.9 119.1,100.7 119.7,100.6 120.4,100.4 121,100.2 121.6,100.1 122.2,99.9 122.8,99.7 123.4,99.5 124.1,99.3 124.7,99.2 125.3,99 125.9,98.8 126.5,98.6 127.1,98.4 127.8,98.2 128.4,98.1 129,97.9 129.6,97.7 130.2,97.6 130.8,97.4 131.5,97.3 132.1,97.1 132.7,97 133.3,96.9 133.9,96.8 134.5,96.6 135.2,96.5 135.8,96.4 136.4,96.2 137,96.1 137.6,95.9 138.2,95.8 138.9,95.6 139.5,95.5 140.1,95.3 140.7,95.1 141.3,94.9 142,94.7 142.6,94.6 143.2,94.4"/>
<polyline stroke="#e377c2" stroke-width="1.25" points="75.3,129.3 75.9,128.8 76.5,128.3 77.2,127.9 77.8,127.4 78.4,126.9 79,126.4 79.6,125.9 80.3,125.4 80.9,124.9 81.5,124.5 82.1,124 82.7,123.5 83.3,123 84,122.5 84.6,122 85.2,121.5 85.8,121 86.4,120.5 87,120 87.7,119.5 88.3,119 88.9,118.5 89.5,118 90.1,117.5 90.7,117 91.4,116.5 92,116 92.6,115.5 93.2,115 93.8,114.5 94.4,114 95.1,113.5 95.7,113 96.3,112.5 96.9,112 97.5,111.5 98.1,111 98.8,110.5 99.4,110.1 100,109.6 100.6,109.1 101.2,108.6 101.8,108.2 102.5,107.7 103.1,107.2 103.7,106.8 104.3,106.3 104.9,105.8 105.5,105.4 106.2,104.9 106.8,104.4 107.4,104 108,103.5 108.6,103 109.2,102.5 109.9,102.1 110.5,101.6 111.1,101.1 111.7,100.6 112.3,100.1 113,99.6 113.6,99.1 114.2,98.6 114.8,98.1 115.4,97.5 116,97 116.7,96.5 117.3,96 117.9,95.5 118.5,94.9 119.1,94.4 119.7,93.9 120.4,93.4 121,92.9 121.6,92.4 122.2,91.9 122.8,91.4 123.4,90.9 124.1,90.4 124.7,89.8 125.3,89.3 125.9,88.7 126.5,88.2 127.1,87.7 127.8,87.1 128.4,86.6 129,86 129.6,85.5 130.2,85 130.8,84.5 131.5,84 132.1,83.4 132.7,82.9 133.3,82.4 133.9,81.8 134.5,81.3 135.2,80.8 135.8,80.3 136.4,79.8 137,79.3 137.6,78.8 138.2,78.3 138.9,77.8 139.5,77.3 140.1,76.9 140.7,76.4 141.3,75.9 142,75.5 142.6,75 143.2,74.5"/>
<polyline stroke="#7f7f7f" stroke-width="1.25" points="75.3,123.8 75.9,123.3 76.5,122.7 77.2,122.2 77.8,121.6 78.4,121.1 79,120.5 79.6,120 80.3,119.4 80.9,118.9 81.5,118.3 82.1,117.8 82.7,117.2 83.3,116.7 84,116.2 84.6,115.7 85.2,115.1 85.8,114.6 86.4,114.1 87,113.5 87.7,113 88.3,112.4 88.9,111.9 89.5,111.4 90.1,110.9 90.7,110.3 91.4,109.8 92,109.3 92.6,108.7 93.2,108.2 93.8,107.7 94.4,107.1 95.1,106.6 95.7,106.1 96.3,105.5 96.9,105 97.5,104.4 98.1,103.9 98.8,103.4 99.4,102.9 100,102.3 100.6,101.8 101.2,101.3 101.8,100.7 102.5,100.2 103.1,99.7 103.7,99.2 104.3,98.6 104.9,98.1 105.5,97.6 106.2,97.1 106.8,96.5 107.4,96 108,95.5 108.6,95 109.2,94.4 109.9,93.9 110.5,93.4 111.1,93 111.7,92.5 112.3,92 113,91.5 113.6,91.1 114.2,90.6 114.8,90.1 115.4,89.6 116,89.2 116.7,88.7 117.3,88.2 117.9,87.7 118.5,87.3 119.1,86.8 119.7,86.3 120.4,85.8 121,85.3 121.6,84.8 122.2,84.3 122.8,83.8 123.4,83.3 124.1,82.9 124.7,82.4 125.3,81.9 125.9,81.4 126.5,80.9 127.1,80.4 127.8,79.9 128.4,79.4 129,78.9 129.6,78.4 130.2,77.9 130.8,77.4 131.5,76.9 132.1,76.4 132.7,76 133.3,75.5 133.9,75 134.5,74.5 135.2,74.1 135.8,73.6 136.4,73.1 137,72.7 137.6,72.2 138.2,71.8 138.9,71.3 139.5,70.9 140.1,70.4 140.7,70 141.3,69.6 142,69.1 142.6,68.7 143.2,68.3"/>
<polyline stroke="#bcbd22" stroke-width="1.25" points="75.3,128 75.9,127.5 76.5,126.9 77.2,126.4 77.8,125.9 78.4,125.4 79,124.9 79.6,124.4 80.3,123.9 80.9,123.4 81.5,122.9 82.1,122.4 82.7,121.9 83.3,121.4 84,120.9 84.6,120.4 85.2,119.9 85.8,119.3 86.4,118.8 87,118.3 87.7,117.8 88.3,117.3 88.9,116.8 89.5,116.3 90.1,115.8 90.7,115.3 91.4,114.8 92,114.3 92.6,113.7 93.2,113.2 93.8,112.7 94.4,112.2 95.1,111.7 95.7,111.2 96.3,110.6 96.9,110.1 97.5,109.6 98.1,109.1 98.8,108.6 99.4,108.1 100,107.6 100.6,107.1 101.2,106.6 101.8,106.1 102.5,105.6 103.1,105.1 103.7,104.6 104.3,104.1 104.9,103.6 105.5,103.1 106.2,102.6 106.8,102.1 107.4,101.6 108,101.2 108.6,100.7 109.2,100.2 109.9,99.7 110.5,99.2 111.1,98.7 111.7,98.1 112.3,97.6 113,97.1 113.6,96.5 114.2,96 114.8,95.5 115.4,95 116,94.4 116.7,93.9 117.3,93.3 117.9,92.7 118.5,92.2 119.1,91.6 119.7,91 120.4,90.5 121,89.9 121.6,89.4 122.2,88.9 122.8,88.4 123.4,87.9 124.1,87.3 124.7,86.8 125.3,86.3 125.9,85.7 126.5,85.2 127.1,84.7 127.8,84.2 128.4,83.7 129,83.2 129.6,82.7 130.2,82.2 130.8,81.7 131.5,81.3 132.1,80.8 132.7,80.3 133.3,79.8 133.9,79.3 134.5,78.7 135.2,78.2 135.8,77.7 136.4,77.2 137,76.7 137.6,76.2 138.2,75.7 138.9,75.2 139.5,74.7 140.1,74.2 140.7,73.7 141.3,73.2 142,72.7 142.6,72.3 143.2,71.8"/>
<polyline stroke="#17becf" stroke-width="1.25" points="75.3,127 75.9,126.5 76.5,126 77.2,125.5 77.8,125 78.4,124.4 79,123.9 79.6,123.4 80.3,122.9 80.9,122.4 81.5,121.9 82.1,121.4 82.7,120.9 83.3,120.4 84,119.9 84.6,119.4 85.2,118.9 85.8,118.4 86.4,117.9 87,117.4 87.7,116.9 88.3,116.4 88.9,115.9 89.5,115.4 90.1,114.8 90.7,114.3 91.4,113.8 92,113.3 92.6,112.8 93.2,112.2 93.8,111.7 94.4,111.2 95.1,110.7 95.7,110.1 96.3,109.6 96.9,109.1 97.5,108.6 98.1,108.1 98.8,107.6 99.4,107.1 100,106.6 100.6,106.1 101.2,105.6 101.8,105.1 102.5,104.6 103.1,104.1 103.7,103.7 104.3,103.2 104.9,102.7 105.5,102.2 106.2,101.7 106.8,101.2 107.4,100.8 108,100.3 108.6,99.8 109.2,99.3 109.9,98.8 110.5,98.3 111.1,97.9 111.7,97.4 112.3,96.9 113,96.4 113.6,95.9 114.2,95.4 114.8,94.9 115.4,94.5 116,94 116.7,93.5 117.3,93 117.9,92.5 118.5,92 119.1,91.5 119.7,91 120.4,90.5 121,90 121.6,89.5 122.2,89 122.8,88.5 123.4,87.9 124.1,87.4 124.7,86.9 125.3,86.3 125.9,85.8 126.5,85.2 127.1,84.7 127.8,84.2 128.4,83.6 129,83.1 129.6,82.6 130.2,82.1 130.8,81.6 131.5,81.1 132.1,80.6 132.7,80.1 133.3,79.6 133.9,79.1 134.5,78.6 135.2,78.1 135.8,77.6 136.4,77.2 137,76.7 137.6,76.2 138.2,75.8 138.9,75.3 139.5,74.8 140.1,74.3 140.7,73.9 141.3,73.4 142,72.9 142.6,72.4 143.2,71.9"/>
<polyline stroke="#1f77b4" stroke-width="1.25" points="75.3,125.6 75.9,125 76.5,124.5 77.2,124 77.8,123.4 78.4,122.9 79,122.4 79.6,121.9 80.3,121.4 80.9,120.9 81.5,120.4 82.1,119.9 82.7,119.4 83.3,118.8 84,118.3 84.6,117.8 85.2,117.3 85.8,116.8 86.4,116.4 87,115.9 87.7,115.4 88.3,114.9 88.9,114.5 89.5,114 90.1,113.5 90.7,113 91.4,112.5 92,112 92.6,111.5 93.2,111 93.8,110.5 94.4,110 95.1,109.5 95.7,109.1 96.3,108.6 96.9,108.1 97.5,107.6 98.1,107.1 98.8,106.6 99.4,106.1 100,105.6 100.6,105.1 101.2,104.6 101.8,104.1 102.5,103.6 103.1,103.1 103.7,102.6 104.3,102.1 104.9,101.6 105.5,101.1 106.2,100.6 106.8,100.1 107.4,99.6 108,99.1 108.6,98.6 109.2,98 109.9,97.5 110.5,97 111.1,96.5 111.7,95.9 112.3,95.4 113,94.9 113.6,94.3 114.2,93.8 114.8,93.2 115.4,92.7 116,92.1 116.7,91.6 117.3,91 117.9,90.4 118.5,89.8 119.1,89.2 119.7,88.6 120.4,88.1 121,87.5 121.6,86.9 122.2,86.4 122.8,85.8 123.4,85.2 124.1,84.6 124.7,84.1 125.3,83.5 125.9,83 126.5,82.5 127.1,82 127.8,81.4 128.4,80.9 129,80.5 129.6,80 130.2,79.5 130.8,79.1 131.5,78.6 132.1,78.1 132.7,77.7 133.3,77.2 133.9,76.8 134.5,76.3 135.2,75.9 135.8,75.4 136.4,74.9 137,74.5 137.6,74 138.2,73.5 138.9,73.1 139.5,72.6 140.1,72.1 140.7,71.6 141.3,71.1 142,70.6 142.6,70.1 143.2,69.6"/>
<polyline stroke="#ff7f0e" stroke-width="1.25" points="75.3,126.5 75.9,126 76.5,125.5 77.2,125 77.8,124.4 78.4,123.9 79,123.4 79.6,122.9 80.3,122.4 80.9,121.9 81.5,121.4 82.1,120.9 82.7,120.4 83.3,119.9 84,119.4 84.6,118.9 85.2,118.4 85.8,117.9 86.4,117.4 87,116.9 87.7,116.3 88.3,115.8 88.9,115.3 89.5,114.8 90.1,114.3 90.7,113.8 91.4,113.3 92,112.8 92.6,112.3 93.2,111.8 93.8,111.3 94.4,110.8 95.1,110.3 95.7,109.8 96.3,109.2 96.9,108.7 97.5,108.2 98.1,107.7 98.8,107.2 99.4,106.7 100,106.2 100.6,105.7 101.2,105.2 101.8,104.7 102.5,104.2 103.1,103.7 103.7,103.3 104.3,102.8 104.9,102.3 105.5,101.8 106.2,101.4 106.8,100.9 107.4,100.4 108,99.9 108.6,99.5 109.2,99.1 109.9,99 110.5,98.8 111.1,98.6 111.7,98.4 112.3,98.2 113,98 113.6,97.8 114.2,97.6 114.8,97.4 115.4,97.3 116,97.1 116.7,96.9 117.3,96.7 117.9,96.5 118.5,96.3 119.1,96.1 119.7,95.9 120.4,95.7 121,95.5 121.6,95.4 122.2,95.2 122.8,95.1 123.4,94.9 124.1,94.8 124.7,94.6 125.3,94.5 125.9,94.3 126.5,94.1 127.1,93.9 127.8,93.7 128.4,93.5 129,93.4 129.6,93.2 130.2,93 130.8,92.8 131.5,92.6 132.1,92.4 132.7,92.2 133.3,92 133.9,91.8 134.5,91.6 135.2,91.5 135.8,91.3 136.4,91.1 137,90.9 137.6,90.8 138.2,90.6 138.9,90.5 139.5,90.3 140.1,90.1 140.7,90 141.3,89.8 142,89.7 142.6,89.6 143.2,89.4"/>
<polyline stroke="#2ca02c" stroke-width="1.25" points="75.3,126.6 75.9,126.1 76.5,125.6 77.2,125 77.8,124.5 78.4,124 79,123.5 79.6,122.9 80.3,122.4 80.9,121.9 81.5,121.4 82.1,120.8 82.7,120.3 83.3,119.8 84,119.2 84.6,118.7 85.2,118.2 85.8,117.7 86.4,117.2 87,116.7 87.7,116.2 88.3,115.7 88.9,115.2 89.5,114.7 90.1,114.2 90.7,113.7 91.4,113.2 92,112.7 92.6,112.2 93.2,111.7 93.8,111.2 94.4,110.7 95.1,110.2 95.7,109.7 96.3,109.2 96.9,108.7 97.5,108.2 98.1,107.7 98.8,107.2 99.4,106.7 100,106.2 100.6,105.7 101.2,105.2 101.8,104.6 102.5,104.1 103.1,103.6 103.7,103.1 104.3,102.6 104.9,102.1 105.5,101.6 106.2,101.1 106.8,100.6 107.4,100.1 108,99.6 108.6,99.1 109.2,98.7 109.9,98.5 110.5,98.2 111.1,98 111.7,97.7 112.3,97.5 113,97.3 113.6,97.1 114.2,96.9 114.8,96.6 115.4,96.4 116,96.2 116.7,96 117.3,95.8 117.9,95.6 118.5,95.3 119.1,95.1 119.7,94.9 120.4,94.6 121,94.3 121.6,94.1 122.2,93.8 122.8,93.6 123.4,93.3 124.1,93 124.7,92.8 125.3,92.5 125.9,92.2 126.5,91.9 127.1,91.6 127.8,91.3 128.4,91.1 129,90.8 129.6,90.5 130.2,90.2 130.8,89.9 131.5,89.7 132.1,89.4 132.7,89.2 133.3,88.9 133.9,88.6 134.5,88.4 135.2,88.2 135.8,88 136.4,87.8 137,87.6 137.6,87.4 138.2,87.3 138.9,87.1 139.5,87 140.1,86.8 140.7,86.7 141.3,86.5 142,86.4 142.6,86.3 143.2,86.1"/>
<polyline stroke="#d62728" stroke-width="1.25" points="75.3,123.9 75.9,123.4 76.5,122.9 77.2,122.4 77.8,121.9 78.4,121.4 79,120.9 79.6,120.3 80.3,119.8 80.9,119.3 81.5,118.8 82.1,118.3 82.7,117.8 83.3,117.3 84,116.8 84.6,116.3 85.2,115.8 85.8,115.3 86.4,114.8 87,114.3 87.7,113.8 88.3,113.3 88.9,112.8 89.5,112.3 90.1,111.8 90.7,111.3 91.4,110.8 92,110.3 92.6,109.8 93.2,109.3 93.8,108.8 94.4,108.4 95.1,107.9 95.7,107.4 96.3,106.9 96.9,106.4 97.5,105.9 98.1,105.5 98.8,105 99.4,104.5 100,104 100.6,103.5 101.2,103 101.8,102.5 102.5,102 103.1,101.5 103.7,101 104.3,100.5 104.9,100 105.5,99.5 106.2,99.1 106.8,98.6 107.4,98.1 108,97.6 108.6,97.1 109.2,96.6 109.9,96.2 110.5,95.7 111.1,95.3 111.7,94.9 112.3,94.4 113,94 113.6,93.6 114.2,93.2 114.8,92.7 115.4,92.3 116,91.9 116.7,91.5 117.3,91.1 117.9,90.7 118.5,90.3 119.1,89.9 119.7,89.5 120.4,89.1 121,88.7 121.6,88.3 122.2,87.9 122.8,87.5 123.4,87 124.1,86.6 124.7,86.2 125.3,85.8 125.9,85.4 126.5,85 127.1,84.6 127.8,84.2 128.4,83.8 129,83.4 129.6,82.9 130.2,82.5 130.8,82.1 131.5,81.6 132.1,81.2 132.7,80.8 133.3,80.3 133.9,79.9 134.5,79.5 135.2,79 135.8,78.6 136.4,78.2 137,77.7 137.6,77.3 138.2,76.8 138.9,76.3 139.5,75.9 140.1,75.4 140.7,74.9 141.3,74.4 142,73.9 142.6,73.5 143.2,73"/>
<polyline stroke="#9467bd" stroke-width="1.25" points="75.3,127.6 75.9,127.1 76.5,126.6 77.2,126.1 77.8,125.6 78.4,125 79,124.5 79.6,124 80.3,123.5 80.9,123 81.5,122.4 82.1,121.9 82.7,121.4 83.3,120.9 84,120.4 84.6,119.9 85.2,119.3 85.8,118.8 86.4,118.3 87,117.8 87.7,117.3 88.3,116.8 88.9,116.2 89.5,115.7 90.1,115.2 90.7,114.7 91.4,114.2 92,113.8 92.6,113.3 93.2,112.8 93.8,112.3 94.4,111.8 95.1,111.3 95.7,110.8 96.3,110.3 96.9,109.8 97.5,109.3 98.1,108.9 98.8,108.4 99.4,107.9 100,107.4 100.6,106.9 101.2,106.4 101.8,105.9 102.5,105.4 103.1,104.9 103.7,104.4 104.3,103.9 104.9,103.4 105.5,102.9 106.2,102.4 106.8,101.9 107.4,101.4 108,100.9 108.6,100.4 109.2,99.9 109.9,99.4 110.5,98.9 111.1,98.4 111.7,97.9 112.3,97.4 113,96.9 113.6,96.4 114.2,95.9 114.8,95.5 115.4,95 116,94.5 116.7,94 117.3,93.5 117.9,93.1 118.5,92.6 119.1,92.2 119.7,91.7 120.4,91.2 121,90.7 121.6,90.2 122.2,89.7 122.8,89.2 123.4,88.7 124.1,88.2 124.7,87.7 125.3,87.2 125.9,86.7 126.5,86.2 127.1,85.7 127.8,85.2 128.4,84.7 129,84.2 129.6,83.7 130.2,83.2 130.8,82.7 131.5,82.2 132.1,81.8 132.7,81.3 133.3,80.8 133.9,80.3 134.5,79.9 135.2,79.4 135.8,78.9 136.4,78.4 137,77.9 137.6,77.4 138.2,76.9 138.9,76.4 139.5,75.9 140.1,75.4 140.7,74.9 141.3,74.4 142,73.9 142.6,73.4 143.2,72.9"/>
<polyline stroke="#8c564b" stroke-width="1.25" points="75.3,124.6 75.9,124.1 76.5,123.5 77.2,123 77.8,122.5 78.4,121.9 79,121.4 79.6,120.9 80.3,120.4 80.9,119.9 81.5,119.3 82.1,118.8 82.7,118.3 83.3,117.8 84,117.2 84.6,116.7 85.2,116.2 85.8,115.7 86.4,115.1 87,114.6 87.7,114 88.3,113.5 88.9,112.9 89.5,112.4 90.1,111.9 90.7,111.3 91.4,110.8 92,110.2 92.6,109.7 93.2,109.1 93.8,108.6 94.4,108 95.1,107.5 95.7,106.9 96.3,106.4 96.9,105.8 97.5,105.3 98.1,104.7 98.8,104.2 99.4,103.7 100,103.1 100.6,102.6 101.2,102.1 101.8,101.5 102.5,101 103.1,100.5 103.7,100 104.3,99.4 104.9,98.9 105.5,98.4 106.2,97.8 106.8,97.3 107.4,96.7 108,96.2 108.6,95.7 109.2,95.3 109.9,95.1 110.5,94.9 111.1,94.7 111.7,94.5 112.3,94.3 113,94.2 113.6,94 114.2,93.8 114.8,93.6 115.4,93.3 116,93.1 116.7,92.9 117.3,92.7 117.9,92.5 118.5,92.3 119.1,92.1 119.7,91.9 120.4,91.7 121,91.5 121.6,91.3 122.2,91 122.8,90.8 123.4,90.6 124.1,90.4 124.7,90.2 125.3,89.9 125.9,89.7 126.5,89.5 127.1,89.3 127.8,89.1 128.4,88.9 129,88.6 129.6,88.4 130.2,88.2 130.8,88 131.5,87.7 132.1,87.5 132.7,87.3 133.3,87.1 133.9,86.9 134.5,86.7 135.2,86.5 135.8,86.2 136.4,86 137,85.8 137.6,85.6 138.2,85.3 138.9,85.1 139.5,84.9 140.1,84.7 140.7,84.5 141.3,84.3 142,84.1 142.6,83.9 143.2,83.7"/>
<polyline stroke="#e377c2" stroke-width="1.25" points="75.3,126 75.9,125.5 76.5,125 77.2,124.5 77.8,124.1 78.4,123.6 79,123.1 79.6,122.6 80.3,122.1 80.9,121.6 81.5,121.1 82.1,120.6 82.7,120.1 83.3,119.6 84,119.2 84.6,118.7 85.2,118.2 85.8,117.7 86.4,117.2 87,116.7 87.7,116.2 88.3,115.7 88.9,115.2 89.5,114.7 90.1,114.2 90.7,113.7 91.4,113.2 92,112.6 92.6,112.1 93.2,111.6 93.8,111.1 94.4,110.6 95.1,110.1 95.7,109.6 96.3,109.1 96.9,108.6 97.5,108.1 98.1,107.5 98.8,107 99.4,106.5 100,106 100.6,105.5 101.2,105 101.8,104.5 102.5,104 103.1,103.5 103.7,103 104.3,102.5 104.9,102 105.5,101.5 106.2,101.1 106.8,100.6 107.4,100.1 108,99.6 108.6,99.1 109.2,98.8 109.9,98.7 110.5,98.5 111.1,98.4 111.7,98.3 112.3,98.2 113,98.1 113.6,97.9 114.2,97.8 114.8,97.7 115.4,97.6 116,97.5 116.7,97.4 117.3,97.2 117.9,97.1 118.5,96.9 119.1,96.8 119.7,96.6 120.4,96.5 121,96.3 121.6,96.2 122.2,96 122.8,95.8 123.4,95.6 124.1,95.4 124.7,95.2 125.3,95 125.9,94.7 126.5,94.5 127.1,94.3 127.8,94.1 128.4,93.8 129,93.6 129.6,93.4 130.2,93.2 130.8,93 131.5,92.7 132.1,92.5 132.7,92.2 133.3,92 133.9,91.8 134.5,91.5 135.2,91.3 135.8,91.1 136.4,90.9 137,90.7 137.6,90.6 138.2,90.4 138.9,90.2 139.5,90 140.1,89.9 140.7,89.7 141.3,89.6 142,89.4 142.6,89.3 143.2,89.1"/>
<polyline stroke="#7f7f7f" stroke-width="1.25" points="75.3,127.9 75.9,127.4 76.5,126.8 77.2,126.3 77.8,125.8 78.4,125.3 79,124.8 79.6,124.3 80.3,123.8 80.9,123.3 81.5,122.8 82.1,122.3 82.7,121.8 83.3,121.3 84,120.8 84.6,120.3 85.2,119.8 85.8,119.3 86.4,118.8 87,118.3 87.7,117.8 88.3,117.3 88.9,116.8 89.5,116.3 90.1,115.8 90.7,115.3 91.4,114.8 92,114.3 92.6,113.8 93.2,113.3 93.8,112.8 94.4,112.3 95.1,111.8 95.7,111.3 96.3,110.8 96.9,110.3 97.5,109.8 98.1,109.3 98.8,108.8 99.4,108.3 100,107.8 100.6,107.3 101.2,106.8 101.8,106.3 102.5,105.8 103.1,105.3 103.7,104.8 104.3,104.3 104.9,103.8 105.5,103.3 106.2,102.9 106.8,102.4 107.4,101.9 108,101.4 108.6,100.9 109.2,100.4 109.9,99.8 110.5,99.3 111.1,98.8 111.7,98.2 112.3,97.7 113,97.1 113.6,96.5 114.2,96 114.8,95.4 115.4,94.8 116,94.2 116.7,93.6 117.3,93 117.9,92.4 118.5,91.8 119.1,91.2 119.7,90.6 120.4,90 121,89.4 121.6,88.8 122.2,88.2 122.8,87.7 123.4,87.1 124.1,86.5 124.7,86 125.3,85.4 125.9,84.9 126.5,84.4 127.1,83.8 127.8,83.3 128.4,82.8 129,82.2 129.6,81.7 130.2,81.2 130.8,80.7 131.5,80.2 132.1,79.7 132.7,79.2 133.3,78.7 133.9,78.2 134.5,77.8 135.2,77.3 135.8,76.8 136.4,76.3 137,75.8 137.6,75.3 138.2,74.8 138.9,74.3 139.5,73.8 140.1,73.3 140.7,72.8 141.3,72.3 142,71.8 142.6,71.3 143.2,70.8"/>
<polyline stroke="#bcbd22" stroke-width="1.25" points="75.3,126.9 75.9,126.4 76.5,125.9 77.2,125.5 77.8,125 78.4,124.5 79,124 79.6,123.5 80.3,123.1 80.9,122.6 81.5,122.1 82.1,121.7 82.7,121.2 83.3,120.7 84,120.2 84.6,119.7 85.2,119.2 85.8,118.7 86.4,118.2 87,117.7 87.7,117.2 88.3,116.7 88.9,116.2 89.5,115.7 90.1,115.2 90.7,114.7 91.4,114.1 92,113.6 92.6,113.1 93.2,112.6 93.8,112.1 94.4,111.6 95.1,111.1 95.7,110.6 96.3,110.1 96.9,109.6 97.5,109.1 98.1,108.6 98.8,108.1 99.4,107.6 100,107.1 100.6,106.6 101.2,106.2 101.8,105.7 102.5,105.2 103.1,104.7 103.7,104.2 104.3,103.8 104.9,103.3 105.5,102.8 106.2,102.3 106.8,101.8 107.4,101.3 108,100.8 108.6,100.4 109.2,100 109.9,99.9 110.5,99.8 111.1,99.6 111.7,99.5 112.3,99.4 113,99.2 113.6,99.1 114.2,99 114.8,98.9 115.4,98.8 116,98.7 116.7,98.5 117.3,98.4 117.9,98.3 118.5,98.2 119.1,98 119.7,97.9 120.4,97.8 121,97.6 121.6,97.5 122.2,97.3 122.8,97.2 123.4,97.1 124.1,96.9 124.7,96.8 125.3,96.6 125.9,96.5 126.5,96.3 127.1,96.1 127.8,95.9 128.4,95.7 129,95.5 129.6,95.3 130.2,95.2 130.8,95 131.5,94.8 132.1,94.6 132.7,94.5 133.3,94.3 133.9,94.1 134.5,94 135.2,93.9 135.8,93.7 136.4,93.6 137,93.5 137.6,93.4 138.2,93.2 138.9,93.1 139.5,93 140.1,92.8 140.7,92.7 141.3,92.6 142,92.5 142.6,92.4 143.2,92.3"/>
<polyline stroke="#17becf" stroke-width="1.25" points="75.3,126.3 75.9,125.7 76.5,125.2 77.2,124.7 77.8,124.1 78.4,123.6 79,123.1 79.6,122.5 80.3,122 80.9,121.5 81.5,120.9 82.1,120.4 82.7,119.9 83.3,119.3 84,118.8 84.6,118.3 85.2,117.8 85.8,117.3 86.4,116.8 87,116.3 87.7,115.8 88.3,115.3 88.9,114.8 89.5,114.3 90.1,113.8 90.7,113.3 91.4,112.8 92,112.3 92.6,111.8 93.2,111.3 93.8,110.8 94.4,110.3 95.1,109.8 95.7,109.3 96.3,108.8 96.9,108.2 97.5,107.7 98.1,107.2 98.8,106.7 99.4,106.2 100,105.7 100.6,105.1 101.2,104.6 101.8,104.1 102.5,103.5 103.1,103 103.7,102.5 104.3,101.9 104.9,101.4 105.5,100.9 106.2,100.3 106.8,99.8 107.4,99.3 108,98.8 108.6,98.2 109.2,97.9 109.9,97.7 110.5,97.6 111.1,97.4 111.7,97.2 112.3,97 113,96.8 113.6,96.7 114.2,96.5 114.8,96.3 115.4,96.2 116,96 116.7,95.8 117.3,95.7 117.9,95.5 118.5,95.4 119.1,95.2 119.7,95.1 120.4,94.9 121,94.7 121.6,94.6 122.2,94.4 122.8,94.2 123.4,94.1 124.1,93.9 124.7,93.8 125.3,93.7 125.9,93.5 126.5,93.4 127.1,93.3 127.8,93.2 128.4,93 129,92.9 129.6,92.8 130.2,92.6 130.8,92.5 131.5,92.4 132.1,92.2 132.7,92.1 133.3,92 133.9,91.9 134.5,91.8 135.2,91.7 135.8,91.6 136.4,91.5 137,91.3 137.6,91.2 138.2,91.1 138.9,90.9 139.5,90.8 140.1,90.6 140.7,90.5 141.3,90.3 142,90.2 142.6,90 143.2,89.9"/>
<polyline stroke="#1f77b4" stroke-width="1.25" points="75.3,127.7 75.9,127.2 76.5,126.7 77.2,126.2 77.8,125.7 78.4,125.2 79,124.7 79.6,124.2 80.3,123.7 80.9,123.2 81.5,122.8 82.1,122.3 82.7,121.8 83.3,121.4 84,120.9 84.6,120.5 85.2,120 85.8,119.6 86.4,119.2 87,118.7 87.7,118.3 88.3,117.8 88.9,117.3 89.5,116.9 90.1,116.4 90.7,116 91.4,115.5 92,115 92.6,114.5 93.2,114.1 93.8,113.6 94.4,113.1 95.1,112.6 95.7,112.1 96.3,111.6 96.9,111.2 97.5,110.7 98.1,110.2 98.8,109.7 99.4,109.3 100,108.8 100.6,108.3 101.2,107.9 101.8,107.4 102.5,106.9 103.1,106.5 103.7,106 104.3,105.5 104.9,105.1 105.5,104.6 106.2,104.1 106.8,103.7 107.4,103.2 108,102.7 108.6,102.2 109.2,101.7 109.9,101.3 110.5,100.8 111.1,100.3 111.7,99.8 112.3,99.3 113,98.9 113.6,98.4 114.2,97.9 114.8,97.4 115.4,96.9 116,96.5 116.7,96 117.3,95.5 117.9,95 118.5,94.6 119.1,94.1 119.7,93.7 120.4,93.3 121,92.8 121.6,92.4 122.2,91.9 122.8,91.5 123.4,91.1 124.1,90.6 124.7,90.2 125.3,89.8 125.9,89.3 126.5,88.9 127.1,88.4 127.8,88 128.4,87.5 129,87 129.6,86.5 130.2,86 130.8,85.5 131.5,85.1 132.1,84.6 132.7,84.1 133.3,83.6 133.9,83.1 134.5,82.6 135.2,82.1 135.8,81.6 136.4,81.1 137,80.6 137.6,80.1 138.2,79.6 138.9,79.2 139.5,78.7 140.1,78.2 140.7,77.7 141.3,77.3 142,76.8 142.6,76.3 143.2,75.8"/>
<polyline stroke="#ff7f0e" stroke-width="1.25" points="75.3,125.5 75.9,125 76.5,124.5 77.2,123.9 77.8,123.4 78.4,122.9 79,122.4 79.6,121.9 80.3,121.4 80.9,120.9 81.5,120.4 82.1,119.9 82.7,119.4 83.3,118.9 84,118.4 84.6,117.9 85.2,117.4 85.8,116.9 86.4,116.4 87,115.9 87.7,115.4 88.3,114.9 88.9,114.3 89.5,113.8 90.1,113.3 90.7,112.8 91.4,112.3 92,111.8 92.6,111.3 93.2,110.8 93.8,110.3 94.4,109.8 95.1,109.3 95.7,108.8 96.3,108.2 96.9,107.7 97.5,107.2 98.1,106.7 98.8,106.2 99.4,105.7 100,105.2 100.6,104.7 101.2,104.2 101.8,103.7 102.5,103.2 103.1,102.7 103.7,102.2 104.3,101.7 104.9,101.2 105.5,100.7 106.2,100.1 106.8,99.6 107.4,99.1 108,98.6 108.6,98.1 109.2,97.8 109.9,97.6 110.5,97.4 111.1,97.2 111.7,97 112.3,96.8 113,96.5 113.6,96.3 114.2,96.1 114.8,95.9 115.4,95.6 116,95.4 116.7,95.2 117.3,94.9 117.9,94.7 118.5,94.5 119.1,94.2 119.7,94 120.4,93.7 121,93.5 121.6,93.3 122.2,93 122.8,92.7 123.4,92.5 124.1,92.2 124.7,91.9 125.3,91.7 125.9,91.5 126.5,91.2 127.1,91 127.8,90.7 128.4,90.5 129,90.3 129.6,90 130.2,89.8 130.8,89.5 131.5,89.3 132.1,89.1 132.7,88.8 133.3,88.5 133.9,88.3 134.5,88 135.2,87.7 135.8,87.4 136.4,87.1 137,86.9 137.6,86.6 138.2,86.4 138.9,86.1 139.5,85.9 140.1,85.6 140.7,85.4 141.3,85.1 142,84.9 142.6,84.7 143.2,84.5"/>
<polyline stroke="#2ca02c" stroke-width="1.25" points="75.3,125.1 75.9,124.6 76.5,124.1 77.2,123.6 77.8,123.1 78.4,122.7 79,122.2 79.6,121.7 80.3,121.2 80.9,120.7 81.5,120.2 82.1,119.7 82.7,119.2 83.3,118.7 84,118.2 84.6,117.7 85.2,117.2 85.8,116.7 86.4,116.1 87,115.6 87.7,115.1 88.3,114.6 88.9,114.1 89.5,113.5 90.1,113 90.7,112.5 91.4,112 92,111.5 92.6,110.9 93.2,110.4 93.8,109.9 94.4,109.3 95.1,108.8 95.7,108.3 96.3,107.8 96.9,107.2 97.5,106.7 98.1,106.2 98.8,105.7 99.4,105.2 100,104.7 100.6,104.1 101.2,103.6 101.8,103.1 102.5,102.6 103.1,102.1 103.7,101.5 104.3,101 104.9,100.5 105.5,100 106.2,99.5 106.8,98.9 107.4,98.4 108,97.9 108.6,97.4 109.2,96.8 109.9,96.3 110.5,95.8 111.1,95.3 111.7,94.8 112.3,94.2 113,93.7 113.6,93.2 114.2,92.7 114.8,92.2 115.4,91.7 116,91.2 116.7,90.7 117.3,90.1 117.9,89.6 118.5,89.1 119.1,88.6 119.7,88.1 120.4,87.6 121,87 121.6,86.5 122.2,86 122.8,85.5 123.4,85 124.1,84.4 124.7,83.9 125.3,83.4 125.9,82.9 126.5,82.3 127.1,81.8 127.8,81.3 128.4,80.7 129,80.2 129.6,79.7 130.2,79.2 130.8,78.7 131.5,78.2 132.1,77.7 132.7,77.2 133.3,76.7 133.9,76.2 134.5,75.7 135.2,75.1 135.8,74.6 136.4,74.1 137,73.6 137.6,73.1 138.2,72.6 138.9,72.1 139.5,71.5 140.1,71 140.7,70.5 141.3,69.9 142,69.4 142.6,68.9 143.2,68.3"/>
<polyline stroke="#d62728" stroke-width="1.25" points="75.3,126.6 75.9,126.1 76.5,125.6 77.2,125.1 77.8,124.6 78.4,124.1 79,123.6 79.6,123.1 80.3,122.6 80.9,122 81.5,121.5 82.1,121 82.7,120.5 83.3,120 84,119.5 84.6,119 85.2,118.5 85.8,118 86.4,117.5 87,117 87.7,116.4 88.3,115.9 88.9,115.4 89.5,114.9 90.1,114.4 90.7,113.9 91.4,113.4 92,112.9 92.6,112.4 93.2,111.9 93.8,111.4 94.4,110.9 95.1,110.4 95.7,109.9 96.3,109.4 96.9,108.9 97.5,108.5 98.1,108 98.8,107.4 99.4,107 100,106.5 100.6,106 101.2,105.5 101.8,105 102.5,104.5 103.1,104 103.7,103.5 104.3,103.1 104.9,102.6 105.5,102.1 106.2,101.6 106.8,101.1 107.4,100.6 108,100.1 108.6,99.6 109.2,99.3 109.9,99.1 110.5,98.9 111.1,98.7 111.7,98.6 112.3,98.4 113,98.2 113.6,98 114.2,97.7 114.8,97.5 115.4,97.3 116,97.1 116.7,96.9 117.3,96.7 117.9,96.5 118.5,96.2 119.1,96 119.7,95.8 120.4,95.6 121,95.3 121.6,95.1 122.2,94.9 122.8,94.7 123.4,94.5 124.1,94.2 124.7,94 125.3,93.8 125.9,93.6 126.5,93.3 127.1,93.1 127.8,92.9 128.4,92.6 129,92.4 129.6,92.2 130.2,92 130.8,91.8 131.5,91.6 132.1,91.4 132.7,91.2 133.3,91 133.9,90.8 134.5,90.6 135.2,90.4 135.8,90.2 136.4,90 137,89.8 137.6,89.6 138.2,89.4 138.9,89.2 139.5,89 140.1,88.9 140.7,88.7 141.3,88.5 142,88.4 142.6,88.2 143.2,88"/>
<polyline stroke="#9467bd" stroke-width="1.25" points="75.3,128.2 75.9,127.7 76.5,127.2 77.2,126.8 77.8,126.3 78.4,125.8 79,125.3 79.6,124.8 80.3,124.3 80.9,123.9 81.5,123.4 82.1,122.9 82.7,122.4 83.3,122 84,121.5 84.6,121 85.2,120.5 85.8,120 86.4,119.5 87,119 87.7,118.5 88.3,118 88.9,117.5 89.5,116.9 90.1,116.4 90.7,115.9 91.4,115.4 92,114.9 92.6,114.4 93.2,113.9 93.8,113.3 94.4,112.8 95.1,112.3 95.7,111.8 96.3,111.2 96.9,110.7 97.5,110.2 98.1,109.6 98.8,109.1 99.4,108.6 100,108.1 100.6,107.5 101.2,107 101.8,106.5 102.5,106 103.1,105.4 103.7,104.9 104.3,104.4 104.9,103.9 105.5,103.4 106.2,102.8 106.8,102.3 107.4,101.8 108,101.3 108.6,100.8 109.2,100.3 109.9,99.7 110.5,99.2 111.1,98.6 111.7,98.1 112.3,97.6 113,97 113.6,96.5 114.2,96 114.8,95.4 115.4,94.8 116,94.3 116.7,93.7 117.3,93.2 117.9,92.6 118.5,92.1 119.1,91.5 119.7,91 120.4,90.4 121,89.9 121.6,89.3 122.2,88.8 122.8,88.2 123.4,87.7 124.1,87.2 124.7,86.6 125.3,86.1 125.9,85.6 126.5,85 127.1,84.5 127.8,84 128.4,83.5 129,83 129.6,82.5 130.2,82 130.8,81.5 131.5,81 132.1,80.6 132.7,80.1 133.3,79.6 133.9,79 134.5,78.5 135.2,78 135.8,77.5 136.4,77 137,76.4 137.6,75.9 138.2,75.3 138.9,74.8 139.5,74.3 140.1,73.7 140.7,73.2 141.3,72.6 142,72.1 142.6,71.5 143.2,70.9"/>
<polyline stroke="#8c564b" stroke-width="1.25" points="75.3,129.7 75.9,129.2 76.5,128.7 77.2,128.2 77.8,127.7 78.4,127.2 79,126.7 79.6,126.2 80.3,125.7 80.9,125.2 81.5,124.7 82.1,124.2 82.7,123.7 83.3,123.2 84,122.7 84.6,122.1 85.2,121.6 85.8,121.1 86.4,120.6 87,120.1 87.7,119.6 88.3,119.1 88.9,118.5 89.5,118 90.1,117.5 90.7,117 91.4,116.5 92,116 92.6,115.5 93.2,115 93.8,114.5 94.4,114 95.1,113.5 95.7,113 96.3,112.5 96.9,112.1 97.5,111.6 98.1,111.1 98.8,110.6 99.4,110.1 100,109.7 100.6,109.2 101.2,108.7 101.8,108.2 102.5,107.7 103.1,107.2 103.7,106.7 104.3,106.2 104.9,105.7 105.5,105.2 106.2,104.7 106.8,104.3 107.4,103.8 108,103.3 108.6,102.8 109.2,102.4 109.9,102.2 110.5,102 111.1,101.7 111.7,101.5 112.3,101.3 113,101.2 113.6,101 114.2,100.8 114.8,100.6 115.4,100.4 116,100.2 116.7,100 117.3,99.8 117.9,99.6 118.5,99.4 119.1,99.2 119.7,98.9 120.4,98.7 121,98.5 121.6,98.3 122.2,98.1 122.8,97.9 123.4,97.6 124.1,97.4 124.7,97.2 125.3,97 125.9,96.8 126.5,96.6 127.1,96.4 127.8,96.2 128.4,96.1 129,95.9 129.6,95.7 130.2,95.6 130.8,95.4 131.5,95.3 132.1,95.1 132.7,94.9 133.3,94.8 133.9,94.6 134.5,94.4 135.2,94.3 135.8,94.1 136.4,94 137,93.8 137.6,93.6 138.2,93.5 138.9,93.3 139.5,93.1 140.1,92.9 140.7,92.7 141.3,92.5 142,92.3 142.6,92.1 143.2,91.9"/>
<polyline stroke="#e377c2" stroke-width="1.25" points="75.3,125.9 75.9,125.4 76.5,124.9 77.2,124.3 77.8,123.8 78.4,123.3 79,122.8 79.6,122.3 80.3,121.8 80.9,121.3 81.5,120.8 82.1,120.3 82.7,119.8 83.3,119.3 84,118.8 84.6,118.3 85.2,117.8 85.8,117.3 86.4,116.8 87,116.3 87.7,115.8 88.3,115.3 88.9,114.8 89.5,114.3 90.1,113.8 90.7,113.4 91.4,112.9 92,112.4 92.6,111.9 93.2,111.4 93.8,110.9 94.4,110.4 95.1,109.9 95.7,109.4 96.3,108.9 96.9,108.4 97.5,107.9 98.1,107.4 98.8,106.9 99.4,106.4 100,105.9 100.6,105.3 101.2,104.8 101.8,104.3 102.5,103.7 103.1,103.2 103.7,102.7 104.3,102.1 104.9,101.6 105.5,101.1 106.2,100.5 106.8,100 107.4,99.4 108,98.9 108.6,98.3 109.2,97.9 109.9,97.6 110.5,97.4 111.1,97.1 111.7,96.8 112.3,96.5 113,96.3 113.6,96 114.2,95.8 114.8,95.5 115.4,95.3 116,95 116.7,94.7 117.3,94.5 117.9,94.2 118.5,94 119.1,93.7 119.7,93.5 120.4,93.2 121,93 121.6,92.8 122.2,92.5 122.8,92.3 123.4,92.1 124.1,91.9 124.7,91.7 125.3,91.4 125.9,91.2 126.5,91 127.1,90.8 127.8,90.6 128.4,90.4 129,90.2 129.6,90 130.2,89.8 130.8,89.6 131.5,89.4 132.1,89.2 132.7,89 133.3,88.9 133.9,88.7 134.5,88.5 135.2,88.3 135.8,88.2 136.4,88 137,87.9 137.6,87.8 138.2,87.6 138.9,87.5 139.5,87.4 140.1,87.2 140.7,87.1 141.3,87 142,86.9 142.6,86.8 143.2,86.6"/>
<polyline stroke="#7f7f7f" stroke-width="1.25" points="75.3,127.8 75.9,127.2 76.5,126.8 77.2,126.3 77.8,125.8 78.4,125.3 79,124.8 79.6,124.3 80.3,123.7 80.9,123.2 81.5,122.8 82.1,122.3 82.7,121.8 83.3,121.3 84,120.8 84.6,120.3 85.2,119.8 85.8,119.3 86.4,118.8 87,118.3 87.7,117.8 88.3,117.3 88.9,116.8 89.5,116.3 90.1,115.8 90.7,115.2 91.4,114.7 92,114.2 92.6,113.7 93.2,113.2 93.8,112.7 94.4,112.2 95.1,111.7 95.7,111.2 96.3,110.7 96.9,110.2 97.5,109.7 98.1,109.2 98.8,108.7 99.4,108.2 100,107.7 100.6,107.2 101.2,106.7 101.8,106.2 102.5,105.7 103.1,105.2 103.7,104.8 104.3,104.3 104.9,103.8 105.5,103.3 106.2,102.8 106.8,102.3 107.4,101.8 108,101.3 108.6,100.8 109.2,100.3 109.9,99.8 110.5,99.3 111.1,98.8 111.7,98.3 112.3,97.8 113,97.4 113.6,96.9 114.2,96.5 114.8,96 115.4,95.5 116,95.1 116.7,94.6 117.3,94.2 117.9,93.7 118.5,93.3 119.1,92.8 119.7,92.4 120.4,91.9 121,91.4 121.6,91 122.2,90.5 122.8,90 123.4,89.5 124.1,89 124.7,88.6 125.3,88.1 125.9,87.6 126.5,87.1 127.1,86.6 127.8,86.1 128.4,85.6 129,85.1 129.6,84.6 130.2,84.2 130.8,83.6 131.5,83.1 132.1,82.6 132.7,82.1 133.3,81.6 133.9,81.1 134.5,80.5 135.2,80 135.8,79.5 136.4,79 137,78.5 137.6,78 138.2,77.5 138.9,77 139.5,76.5 140.1,75.9 140.7,75.4 141.3,74.9 142,74.4 142.6,73.9 143.2,73.4"/>
<polyline stroke="#bcbd22" stroke-width="1.25" points="75.3,127.1 75.9,126.6 76.5,126.1 77.2,125.6 77.8,125.1 78.4,124.6 79,124.2 79.6,123.7 80.3,123.2 80.9,122.7 81.5,122.2 82.1,121.7 82.7,121.2 83.3,120.7 84,120.2 84.6,119.7 85.2,119.2 85.8,118.7 86.4,118.2 87,117.7 87.7,117.2 88.3,116.7 88.9,116.2 89.5,115.8 90.1,115.3 90.7,114.8 91.4,114.3 92,113.8 92.6,113.4 93.2,112.9 93.8,112.4 94.4,111.9 95.1,111.4 95.7,110.9 96.3,110.4 96.9,109.9 97.5,109.4 98.1,108.9 98.8,108.4 99.4,107.9 100,107.4 100.6,106.9 101.2,106.4 101.8,105.9 102.5,105.4 103.1,104.9 103.7,104.3 104.3,103.8 104.9,103.3 105.5,102.8 106.2,102.3 106.8,101.8 107.4,101.3 108,100.8 108.6,100.3 109.2,99.9 109.9,99.8 110.5,99.6 111.1,99.4 111.7,99.2 112.3,99.1 113,98.9 113.6,98.8 114.2,98.6 114.8,98.5 115.4,98.3 116,98.2 116.7,98 117.3,97.9 117.9,97.7 118.5,97.6 119.1,97.4 119.7,97.2 120.4,97.1 121,96.9 121.6,96.7 122.2,96.6 122.8,96.4 123.4,96.2 124.1,96.1 124.7,95.9 125.3,95.7 125.9,95.6 126.5,95.4 127.1,95.2 127.8,95 128.4,94.8 129,94.7 129.6,94.5 130.2,94.4 130.8,94.2 131.5,94.1 132.1,94 132.7,93.8 133.3,93.7 133.9,93.6 134.5,93.4 135.2,93.3 135.8,93.2 136.4,93.1 137,93 137.6,92.8 138.2,92.7 138.9,92.6 139.5,92.4 140.1,92.3 140.7,92.1 141.3,92 142,91.8 142.6,91.7 143.2,91.5"/>
<polyline stroke="#17becf" stroke-width="1.25" points="75.3,129.9 75.9,129.5 76.5,129 77.2,128.5 77.8,128.1 78.4,127.6 79,127.2 79.6,126.7 80.3,126.2 80.9,125.8 81.5,125.3 82.1,124.9 82.7,124.4 83.3,123.9 84,123.5 84.6,123 85.2,122.5 85.8,122.1 86.4,121.6 87,121.1 87.7,120.6 88.3,120.2 88.9,119.7 89.5,119.2 90.1,118.7 90.7,118.2 91.4,117.7 92,117.3 92.6,116.8 93.2,116.3 93.8,115.8 94.4,115.3 95.1,114.8 95.7,114.3 96.3,113.8 96.9,113.3 97.5,112.9 98.1,112.4 98.8,111.9 99.4,111.4 100,110.9 100.6,110.4 101.2,109.9 101.8,109.5 102.5,109 103.1,108.5 103.7,108 104.3,107.6 104.9,107.1 105.5,106.6 106.2,106.1 106.8,105.6 107.4,105.1 108,104.7 108.6,104.2 109.2,103.6 109.9,103.1 110.5,102.5 111.1,101.9 111.7,101.4 112.3,100.8 113,100.3 113.6,99.7 114.2,99.1 114.8,98.6 115.4,98 116,97.4 116.7,96.9 117.3,96.3 117.9,95.8 118.5,95.2 119.1,94.7 119.7,94.1 120.4,93.6 121,93 121.6,92.5 122.2,92 122.8,91.5 123.4,91 124.1,90.5 124.7,90 125.3,89.5 125.9,89 126.5,88.5 127.1,88 127.8,87.5 128.4,87.1 129,86.6 129.6,86.1 130.2,85.6 130.8,85.1 131.5,84.6 132.1,84.1 132.7,83.6 133.3,83.1 133.9,82.6 134.5,82.1 135.2,81.5 135.8,81 136.4,80.4 137,79.9 137.6,79.3 138.2,78.8 138.9,78.2 139.5,77.6 140.1,77 140.7,76.4 141.3,75.9 142,75.3 142.6,74.8 143.2,74.2"/>
<polyline stroke="#000" stroke-width="1.9" points="75.3,126.9 75.9,126.4 76.5,125.9 77.2,125.4 77.8,124.9 78.4,124.4 79,123.9 79.6,123.4 80.3,122.9 80.9,122.4 81.5,121.9 82.1,121.4 82.7,120.9 83.3,120.4 84,119.9 84.6,119.4 85.2,118.9 85.8,118.3 86.4,117.8 87,117.3 87.7,116.8 88.3,116.3 88.9,115.8 89.5,115.3 90.1,114.8 90.7,114.3 91.4,113.8 92,113.3 92.6,112.8 93.2,112.3 93.8,111.8 94.4,111.3 95.1,110.8 95.7,110.3 96.3,109.8 96.9,109.3 97.5,108.8 98.1,108.3 98.8,107.8 99.4,107.3 100,106.8 100.6,106.3 101.2,105.8 101.8,105.3 102.5,104.8 103.1,104.3 103.7,103.8 104.3,103.3 104.9,102.8 105.5,102.3 106.2,101.8 106.8,101.3 107.4,100.8 108,100.3 108.6,99.8 109.2,99.3 109.9,99 110.5,98.6 111.1,98.3 111.7,97.9 112.3,97.6 113,97.2 113.6,96.9 114.2,96.6 114.8,96.2 115.4,95.9 116,95.5 116.7,95.2 117.3,94.8 117.9,94.5 118.5,94.1 119.1,93.8 119.7,93.4 120.4,93 121,92.7 121.6,92.3 122.2,92 122.8,91.6 123.4,91.3 124.1,90.9 124.7,90.6 125.3,90.2 125.9,89.9 126.5,89.5 127.1,89.2 127.8,88.8 128.4,88.5 129,88.1 129.6,87.8 130.2,87.4 130.8,87.1 131.5,86.7 132.1,86.4 132.7,86 133.3,85.7 133.9,85.4 134.5,85 135.2,84.7 135.8,84.3 136.4,84 137,83.7 137.6,83.3 138.2,83 138.9,82.6 139.5,82.3 140.1,82 140.7,81.6 141.3,81.3 142,80.9 142.6,80.6 143.2,80.3"/>
<line x1="108.7" y1="66.6" x2="108.7" y2="131.8" stroke="#1a1a1a" stroke-width="1.4" stroke-dasharray="4.1 3.85"/>
</g>
<rect x="78.4" y="63.4" width="61.7" height="68.4" fill="none" stroke="#3a3a3a" stroke-width="1"/>
<path d="M78.4 131.8v3 M109.2 131.8v3 M140.1 131.8v3 M78.4 105h-3.4 M78.4 70.3h-3.4" stroke="#3a3a3a" stroke-width="0.9" fill="none"/>
<text x="78.4" y="145.9" font-size="9.3" text-anchor="middle" stroke="#262626" stroke-width="0.14" textLength="15.2" lengthAdjust="spacingAndGlyphs">200</text>
<text x="109.2" y="145.9" font-size="9.3" text-anchor="middle" stroke="#262626" stroke-width="0.14" textLength="15.2" lengthAdjust="spacingAndGlyphs">300</text>
<text x="140.1" y="145.9" font-size="9.3" text-anchor="middle" stroke="#262626" stroke-width="0.14" textLength="15.2" lengthAdjust="spacingAndGlyphs">400</text>
<text x="70.8" y="108.2" font-size="9.3" text-anchor="end" stroke="#262626" stroke-width="0.14" textLength="15.2" lengthAdjust="spacingAndGlyphs">200</text>
<text x="70.8" y="73.5" font-size="9.3" text-anchor="end" stroke="#262626" stroke-width="0.14" textLength="15.2" lengthAdjust="spacingAndGlyphs">300</text>
<rect x="52.2" y="53.2" width="267.1" height="226.8" fill="none" stroke="#3a3a3a" stroke-width="1"/>
<path d="M64.2 280v3.5 M118.2 280v3.5 M172.1 280v3.5 M226.1 280v3.5 M280 280v3.5 M52.2 272.9h-3.5 M52.2 245.8h-3.5 M52.2 218.8h-3.5 M52.2 191.8h-3.5 M52.2 164.8h-3.5 M52.2 137.8h-3.5 M52.2 110.8h-3.5 M52.2 83.8h-3.5 M52.2 56.8h-3.5" stroke="#3a3a3a" stroke-width="0.9" fill="none"/>
<text x="64.2" y="293.1" font-size="9.3" text-anchor="middle" stroke="#262626" stroke-width="0.14" textLength="5.1" lengthAdjust="spacingAndGlyphs">0</text>
<text x="118.2" y="293.1" font-size="9.3" text-anchor="middle" stroke="#262626" stroke-width="0.14" textLength="15.2" lengthAdjust="spacingAndGlyphs">200</text>
<text x="172.1" y="293.1" font-size="9.3" text-anchor="middle" stroke="#262626" stroke-width="0.14" textLength="15.2" lengthAdjust="spacingAndGlyphs">400</text>
<text x="226.1" y="293.1" font-size="9.3" text-anchor="middle" stroke="#262626" stroke-width="0.14" textLength="15.2" lengthAdjust="spacingAndGlyphs">600</text>
<text x="280" y="293.1" font-size="9.3" text-anchor="middle" stroke="#262626" stroke-width="0.14" textLength="15.2" lengthAdjust="spacingAndGlyphs">800</text>
<text x="44.6" y="276.1" font-size="9.3" text-anchor="end" stroke="#262626" stroke-width="0.14" textLength="5.1" lengthAdjust="spacingAndGlyphs">0</text>
<text x="44.6" y="249" font-size="9.3" text-anchor="end" stroke="#262626" stroke-width="0.14" textLength="15.2" lengthAdjust="spacingAndGlyphs">100</text>
<text x="44.6" y="222" font-size="9.3" text-anchor="end" stroke="#262626" stroke-width="0.14" textLength="15.2" lengthAdjust="spacingAndGlyphs">200</text>
<text x="44.6" y="195" font-size="9.3" text-anchor="end" stroke="#262626" stroke-width="0.14" textLength="15.2" lengthAdjust="spacingAndGlyphs">300</text>
<text x="44.6" y="168" font-size="9.3" text-anchor="end" stroke="#262626" stroke-width="0.14" textLength="15.2" lengthAdjust="spacingAndGlyphs">400</text>
<text x="44.6" y="141" font-size="9.3" text-anchor="end" stroke="#262626" stroke-width="0.14" textLength="15.2" lengthAdjust="spacingAndGlyphs">500</text>
<text x="44.6" y="114" font-size="9.3" text-anchor="end" stroke="#262626" stroke-width="0.14" textLength="15.2" lengthAdjust="spacingAndGlyphs">600</text>
<text x="44.6" y="87" font-size="9.3" text-anchor="end" stroke="#262626" stroke-width="0.14" textLength="15.2" lengthAdjust="spacingAndGlyphs">700</text>
<text x="44.6" y="60" font-size="9.3" text-anchor="end" stroke="#262626" stroke-width="0.14" textLength="15.2" lengthAdjust="spacingAndGlyphs">800</text>
<text x="0" y="0" font-size="9.3" text-anchor="middle" stroke="#262626" stroke-width="0.14" textLength="65" lengthAdjust="spacingAndGlyphs" transform="translate(24.4,164.6) rotate(-90)">Avoidance trials</text>
<defs><clipPath id="clb"><rect x="52.2" y="306.9" width="267.1" height="45.2"/></clipPath></defs>
<polyline clip-path="url(#clb)" fill="none" stroke="#1f77b4" stroke-width="1.35" stroke-linejoin="round" points="64.2,336.7 64.5,329.5 64.7,327.8 65,329.2 65.3,323.4 65.5,318.5 65.8,324.3 66.1,324.2 66.4,321.1 66.6,324.1 66.9,324.1 67.2,322.9 67.4,320.7 67.7,315.1 68,317 68.2,317.2 68.5,316.6 68.8,319.7 69.1,321.5 69.3,316.2 69.6,320.1 69.9,314.1 70.1,318.8 70.4,320.2 70.7,316.8 70.9,317 71.2,316.8 71.5,319.3 71.8,316.9 72,322 72.3,317.8 72.6,322.6 72.8,317.9 73.1,317.9 73.4,316 73.6,318 73.9,322.1 74.2,320 74.5,317.1 74.7,317.1 75,320.4 75.3,318.2 75.5,315.8 75.8,321.3 76.1,318.6 76.3,318.3 76.6,319.9 76.9,319.1 77.2,315.9 77.4,318.4 77.7,318.9 78,320 78.2,320.3 78.5,323 78.8,322.4 79,323.2 79.3,320.2 79.6,321.8 79.8,323.5 80.1,316.7 80.4,320.6 80.7,317 80.9,316.2 81.2,314.6 81.5,318.3 81.7,323.8 82,316.5 82.3,318.5 82.5,323 82.8,325.7 83.1,316.3 83.4,315.9 83.6,315.1 83.9,315.1 84.2,315.7 84.4,318.3 84.7,318.3 85,316.1 85.2,316.5 85.5,317.6 85.8,315.5 86.1,318.8 86.3,320 86.6,313.4 86.9,312.9 87.1,315.6 87.4,320.6 87.7,319.8 87.9,317.2 88.2,317.9 88.5,320.1 88.8,315 89,318.8 89.3,318.4 89.6,318.1 89.8,319.7 90.1,315.7 90.4,322 90.6,317.6 90.9,315.5 91.2,312.4 91.4,314.9 91.7,320.2 92,314.7 92.3,315.1 92.5,316.8 92.8,318.6 93.1,321.1 93.3,317.8 93.6,316.9 93.9,311.2 94.1,317.8 94.4,319 94.7,324.1 95,322.3 95.2,320.3 95.5,319.6 95.8,319.7 96,316.7 96.3,315.1 96.6,315.4 96.8,319.8 97.1,318.6 97.4,319.8 97.7,322.6 97.9,322.8 98.2,317.4 98.5,320.2 98.7,316.3 99,318.7 99.3,319.9 99.5,319.2 99.8,318.9 100.1,311.2 100.4,319.6 100.6,316.6 100.9,321.3 101.2,318.6 101.4,314.2 101.7,316.5 102,312.4 102.2,321.9 102.5,320.8 102.8,318.8 103.1,322.1 103.3,321.4 103.6,323.2 103.9,318.2 104.1,320.8 104.4,319.7 104.7,323 104.9,320.5 105.2,314.5 105.5,316.9 105.7,318.7 106,321 106.3,319.4 106.6,318.1 106.8,313.6 107.1,319 107.4,320.1 107.6,320 107.9,322.3 108.2,318.9 108.4,322.9 108.7,322.5 109,321.4 109.3,314.5 109.5,314.9 109.8,319.6 110.1,316.6 110.3,318.1 110.6,317 110.9,318.5 111.1,315.6 111.4,313.4 111.7,318 112,314.5 112.2,318.2 112.5,315.6 112.8,320.6 113,316 113.3,319.6 113.6,319.1 113.8,317.5 114.1,310.7 114.4,316.7 114.7,315 114.9,316.5 115.2,319.6 115.5,322.9 115.7,322.1 116,325.1 116.3,319.2 116.5,320.3 116.8,320.2 117.1,318.4 117.4,314.7 117.6,321 117.9,320 118.2,319.5 118.4,319.1 118.7,320.2 119,316.3 119.2,321.6 119.5,319.6 119.8,324.5 120,318.6 120.3,318.8 120.6,318.3 120.9,318.5 121.1,315.8 121.4,315.8 121.7,311.4 121.9,319.7 122.2,316.6 122.5,316.8 122.7,315.3 123,320.5 123.3,321 123.6,319.6 123.8,320.5 124.1,318.8 124.4,320.5 124.6,317.8 124.9,315.7 125.2,318.4 125.4,317.3 125.7,316.5 126,316.1 126.3,316.4 126.5,321.7 126.8,320.6 127.1,313.4 127.3,319.4 127.6,317.1 127.9,313.6 128.1,319 128.4,322 128.7,319.1 129,315.2 129.2,315.1 129.5,315.6 129.8,311.1 130,314.6 130.3,322.5 130.6,322.6 130.8,317.7 131.1,322.5 131.4,314.5 131.7,322.4 131.9,316.8 132.2,320 132.5,316.1 132.7,311.4 133,317.7 133.3,325.1 133.5,320.7 133.8,321.7 134.1,320.4 134.3,316.9 134.6,321.6 134.9,321.8 135.2,324.1 135.4,324.7 135.7,324.2 136,321 136.2,319 136.5,319.1 136.8,320.9 137,317.8 137.3,321 137.6,316.8 137.9,323.4 138.1,324.3 138.4,319.1 138.7,320.4 138.9,314.8 139.2,319.5 139.5,316.6 139.7,317.5 140,315.1 140.3,315.1 140.6,321.8 140.8,324 141.1,320.3 141.4,317.4 141.6,317.1 141.9,321.3 142.2,315 142.4,320 142.7,315.2 143,318.8 143.3,322.2 143.5,319.8 143.8,315.8 144.1,314.9 144.3,317 144.6,312.4 144.9,317.1 145.1,324.8 145.4,325.7 145.7,328 145.9,330.5 146.2,327.5 146.5,328.4 146.8,329.9 147,327.7 147.3,329.1 147.6,326 147.8,327.5 148.1,331.1 148.4,326.8 148.6,330 148.9,333.5 149.2,332.7 149.5,330.5 149.7,328.2 150,331.3 150.3,325.7 150.5,322.5 150.8,330.3 151.1,326.3 151.3,329.8 151.6,324.9 151.9,333.2 152.2,326.4 152.4,329.3 152.7,327.8 153,327.9 153.2,330.5 153.5,331.8 153.8,324.8 154,328.1 154.3,328 154.6,325.5 154.9,331.2 155.1,327.3 155.4,329.8 155.7,333.1 155.9,330.5 156.2,327.6 156.5,330.5 156.7,329.9 157,326.1 157.3,327.1 157.6,328.3 157.8,330.6 158.1,325.4 158.4,324.8 158.6,327.6 158.9,326.8 159.2,329.4 159.4,326.9 159.7,326.9 160,328.6 160.2,326.9 160.5,330 160.8,325.4 161.1,326.4 161.3,329.3 161.6,325.8 161.9,328.1 162.1,328.8 162.4,328.2 162.7,330.3 162.9,327 163.2,328.9 163.5,328.4 163.8,323.3 164,335.6 164.3,330.1 164.6,325.5 164.8,331.8 165.1,332.2 165.4,324.9 165.6,324.4 165.9,329.8 166.2,328.3 166.5,329.6 166.7,330.7 167,326.1 167.3,325.7 167.5,326.7 167.8,329.6 168.1,326.7 168.3,328.5 168.6,328.4 168.9,326.2 169.2,327 169.4,331.1 169.7,326 170,329.1 170.2,328.4 170.5,330.9 170.8,329.7 171,331.8 171.3,328.1 171.6,329.4 171.9,328.3 172.1,324.3 172.4,329.4 172.7,325.2 172.9,329.9 173.2,327.9 173.5,332.3 173.7,328 174,327.4 174.3,338.4 174.5,332.9 174.8,329.4 175.1,329.6 175.4,331.9 175.6,330.5 175.9,328.5 176.2,329.3 176.4,334.7 176.7,328.1 177,331.4 177.2,328.5 177.5,328.3 177.8,329.6 178.1,325.5 178.3,327 178.6,327.8 178.9,324.8 179.1,330.5 179.4,329.9 179.7,326.9 179.9,329.6 180.2,331.6 180.5,327.8 180.8,327.3 181,332.4 181.3,327.4 181.6,330.2 181.8,328.3 182.1,328 182.4,325.2 182.6,328.1 182.9,326.2 183.2,329.5 183.5,328.3 183.7,331.4 184,325.8 184.3,329.2 184.5,330.4 184.8,326.5 185.1,326.8 185.3,327.7 185.6,328.2 185.9,328.4 186.1,328.2 186.4,329.3 186.7,330.7 187,329.1 187.2,330.7 187.5,326 187.8,329.7 188,330.4 188.3,334.7 188.6,331.6 188.8,331.3 189.1,335.4 189.4,332.1 189.7,331.5 189.9,329.9 190.2,326.3 190.5,333 190.7,326.7 191,325 191.3,324.9 191.5,327.6 191.8,331.3 192.1,325.8 192.4,327.9 192.6,327.3 192.9,328.1 193.2,330.4 193.4,333.8 193.7,332 194,333.9 194.2,328.8 194.5,331 194.8,335.6 195.1,335.3 195.3,327.9 195.6,333.2 195.9,334.2 196.1,327.5 196.4,330.5 196.7,332 196.9,330.4 197.2,326.3 197.5,329.9 197.8,326.1 198,328.1 198.3,329.2 198.6,327.2 198.8,332 199.1,333.1 199.4,331.2 199.6,326.4 199.9,331.4 200.2,330.5 200.4,332.5 200.7,330.2 201,332.3 201.3,328.1 201.5,331.4 201.8,329.6 202.1,327.2 202.3,331.6 202.6,332 202.9,332.1 203.1,333.7 203.4,326.5 203.7,328.9 204,327.2 204.2,330.5 204.5,328.9 204.8,325.8 205,328.1 205.3,325.3 205.6,329.4 205.8,333.8 206.1,331.6 206.4,330.6 206.7,329 206.9,330.4 207.2,330.5 207.5,329.8 207.7,332.5 208,328.5 208.3,328.6 208.5,327.5 208.8,325.2 209.1,329.6 209.4,324.2 209.6,330.6 209.9,331.2 210.2,330.8 210.4,331.4 210.7,326 211,334.1 211.2,328.3 211.5,328.5 211.8,329.1 212.1,330.3 212.3,328.9 212.6,327.5 212.9,332.2 213.1,330.9 213.4,328.5 213.7,336.5 213.9,328.4 214.2,333.3 214.5,332.1 214.7,328.4 215,329.1 215.3,330.7 215.6,332.1 215.8,332.9 216.1,330.7 216.4,329 216.6,328 216.9,329.8 217.2,329.5 217.4,327.4 217.7,331 218,330.8 218.3,329.1 218.5,329.9 218.8,327.5 219.1,330.4 219.3,330.6 219.6,323.9 219.9,332.6 220.1,327.9 220.4,329.2 220.7,331 221,328.4 221.2,333.1 221.5,332.3 221.8,328.6 222,335 222.3,334 222.6,330.7 222.8,330.1 223.1,327.7 223.4,333.4 223.7,327.6 223.9,329.7 224.2,329.7 224.5,332 224.7,332.2 225,322.4 225.3,328.8 225.5,330.2 225.8,325.9 226.1,317.8 226.3,329.2 226.6,321.4 226.9,318.3 227.2,321.6 227.4,320.7 227.7,318 228,320.8 228.2,320.9 228.5,322.5 228.8,320.2 229,319.9 229.3,318.7 229.6,316.9 229.9,320.3 230.1,325.7 230.4,323.2 230.7,317.2 230.9,321.5 231.2,319.9 231.5,315.9 231.7,312.2 232,322.8 232.3,313.7 232.6,316.6 232.8,317.5 233.1,321.7 233.4,320.6 233.6,314.2 233.9,322.5 234.2,312.2 234.4,316.6 234.7,318.5 235,324.1 235.3,318.4 235.5,316.4 235.8,318 236.1,318.2 236.3,319.5 236.6,318.9 236.9,318 237.1,315.3 237.4,322.4 237.7,320.5 238,317.1 238.2,320.1 238.5,323.2 238.8,317.8 239,319.7 239.3,314.7 239.6,313.9 239.8,314.3 240.1,313.6 240.4,314.4 240.6,318.1 240.9,321.1 241.2,316.6 241.5,313 241.7,317.3 242,315 242.3,316.5 242.5,317.8 242.8,322 243.1,318.5 243.3,315.9 243.6,319.4 243.9,319.7 244.2,321.9 244.4,322 244.7,319.9 245,322 245.2,315.7 245.5,313.9 245.8,321.4 246,315.9 246.3,316.6 246.6,318.4 246.9,317.1 247.1,312.1 247.4,317.5 247.7,315.7 247.9,318.6 248.2,317.5 248.5,323.8 248.7,318.5 249,316.4 249.3,322.7 249.6,318 249.8,324.1 250.1,316.5 250.4,318.3 250.6,316.2 250.9,321.9 251.2,316.7 251.4,316 251.7,320.1 252,314.4 252.3,312.3 252.5,317.3 252.8,319 253.1,316.4 253.3,312 253.6,318.7 253.9,320.7 254.1,317.9 254.4,320.9 254.7,318.3 254.9,321.5 255.2,321.2 255.5,312.2 255.8,314.9 256,318 256.3,318.1 256.6,312 256.8,317.8 257.1,313.2 257.4,314.2 257.6,313.1 257.9,314.7 258.2,318.6 258.5,319.2 258.7,316.4 259,317.4 259.3,314.5 259.5,318.1 259.8,322.1 260.1,319.2 260.3,313.6 260.6,322 260.9,319.2 261.2,316.9 261.4,315.1 261.7,318.8 262,315.6 262.2,320.6 262.5,318 262.8,319.6 263,323.6 263.3,318.1 263.6,323.8 263.9,313.1 264.1,312 264.4,313.9 264.7,319.3 264.9,317.6 265.2,316.1 265.5,314.2 265.7,317.8 266,318.5 266.3,317.2 266.6,314.9 266.8,319.6 267.1,314.5 267.4,318.2 267.6,319.9 267.9,318.6 268.2,319.1 268.4,317.1 268.7,319.4 269,321.1 269.2,317.9 269.5,320.1 269.8,318.3 270.1,315.3 270.3,315.2 270.6,317.9 270.9,317.6 271.1,317.5 271.4,325.6 271.7,318.1 271.9,317.4 272.2,314.3 272.5,313.3 272.8,317.5 273,319.1 273.3,320.5 273.6,315.9 273.8,315.4 274.1,318.3 274.4,313.9 274.6,314.7 274.9,317.8 275.2,318.7 275.5,319.3 275.7,318.1 276,323.9 276.3,322.8 276.5,318.2 276.8,316.7 277.1,314.3 277.3,323.1 277.6,313.1 277.9,321 278.2,315.2 278.4,315.5 278.7,320.2 279,316.4 279.2,318.2 279.5,318.3 279.8,317.7 280,321.6 280.3,321.8 280.6,323.9 280.8,317.5 281.1,317.9 281.4,322.2 281.7,322.7 281.9,319.4 282.2,321.4 282.5,318.1 282.7,317.2 283,322.3 283.3,318.7 283.5,320.4 283.8,316.7 284.1,323.7 284.4,315.8 284.6,319.9 284.9,320 285.2,322.1 285.4,325.5 285.7,319.8 286,318.5 286.2,319.3 286.5,322.2 286.8,325.8 287.1,326.7 287.3,320.6 287.6,323.2 287.9,322 288.1,324.4 288.4,325.6 288.7,322.3 288.9,326.8 289.2,321 289.5,322.5 289.8,321.6 290,322.6 290.3,321 290.6,324.5 290.8,323.2 291.1,324.4 291.4,325.4 291.6,326.9 291.9,331 292.2,324.6 292.5,323.3 292.7,327.3 293,325.9 293.3,330.3 293.5,332.5 293.8,323.7 294.1,328.6 294.3,331.7 294.6,328.2 294.9,332.3 295.1,327.6 295.4,328.2 295.7,330.9 296,328.8 296.2,334.8 296.5,329.2 296.8,332.1 297,334.1 297.3,330.8 297.6,332.7 297.8,331.7 298.1,330.6 298.4,331.6 298.7,333.5 298.9,333.4 299.2,333.1 299.5,330.3 299.7,336.9 300,332 300.3,333.3 300.5,339.6 300.8,336 301.1,334.6 301.4,331.2 301.6,333.9 301.9,336.4 302.2,334.2 302.4,334.2 302.7,334.1 303,327.5 303.2,332.4 303.5,336.5 303.8,329.8 304.1,335.3 304.3,328.2 304.6,331.7 304.9,333.4 305.1,332.8 305.4,332.6 305.7,330.4 305.9,332.3 306.2,334.2 306.5,338 306.8,334.7 307,333.6"/>
<line x1="144.7" y1="352.7" x2="144.7" y2="306.9" stroke="#1a1a1a" stroke-width="1.4" stroke-dasharray="3.8 3.1"/>
<line x1="225.6" y1="352.7" x2="225.6" y2="306.9" stroke="#1a1a1a" stroke-width="1.4" stroke-dasharray="3.8 3.1"/>
<rect x="52.2" y="306.9" width="267.1" height="45.2" fill="none" stroke="#3a3a3a" stroke-width="1"/>
<path d="M64.2 352.1v3.4 M118.2 352.1v3.4 M172.1 352.1v3.4 M226.1 352.1v3.4 M280 352.1v3.4 M52.2 352.1h-3.5 M52.2 329.5h-3.5 M52.2 306.9h-3.5" stroke="#3a3a3a" stroke-width="0.9" fill="none"/>
<text x="64.2" y="365.7" font-size="9.3" text-anchor="middle" stroke="#262626" stroke-width="0.14" textLength="5.1" lengthAdjust="spacingAndGlyphs">0</text>
<text x="118.2" y="365.7" font-size="9.3" text-anchor="middle" stroke="#262626" stroke-width="0.14" textLength="15.2" lengthAdjust="spacingAndGlyphs">200</text>
<text x="172.1" y="365.7" font-size="9.3" text-anchor="middle" stroke="#262626" stroke-width="0.14" textLength="15.2" lengthAdjust="spacingAndGlyphs">400</text>
<text x="226.1" y="365.7" font-size="9.3" text-anchor="middle" stroke="#262626" stroke-width="0.14" textLength="15.2" lengthAdjust="spacingAndGlyphs">600</text>
<text x="280" y="365.7" font-size="9.3" text-anchor="middle" stroke="#262626" stroke-width="0.14" textLength="15.2" lengthAdjust="spacingAndGlyphs">800</text>
<text x="44.8" y="355.3" font-size="9.3" text-anchor="end" stroke="#262626" stroke-width="0.14" textLength="12.9" lengthAdjust="spacingAndGlyphs">0.0</text>
<text x="44.8" y="332.7" font-size="9.3" text-anchor="end" stroke="#262626" stroke-width="0.14" textLength="12.9" lengthAdjust="spacingAndGlyphs">0.5</text>
<text x="44.8" y="310.1" font-size="9.3" text-anchor="end" stroke="#262626" stroke-width="0.14" textLength="12.9" lengthAdjust="spacingAndGlyphs">1.0</text>
<text x="0" y="0" font-size="9.3" text-anchor="middle" stroke="#262626" stroke-width="0.14" textLength="78" lengthAdjust="spacingAndGlyphs" transform="translate(26.4,330.3) rotate(-90)">mean curve slope</text>
<text x="185.8" y="377.9" font-size="9.3" text-anchor="middle" stroke="#262626" stroke-width="0.14" textLength="22.6" lengthAdjust="spacingAndGlyphs">Trials</text>
<text x="47.3" y="36.9" font-size="9.3" text-anchor="start" stroke="#262626" stroke-width="0.14" textLength="70.2" lengthAdjust="spacingAndGlyphs">Fear acquisition</text>
<text x="152.2" y="36.9" font-size="9.3" text-anchor="start" stroke="#262626" stroke-width="0.14" textLength="66.1" lengthAdjust="spacingAndGlyphs">Fear extinction</text>
<text x="239.1" y="36.9" font-size="9.3" text-anchor="start" stroke="#262626" stroke-width="0.14" textLength="81.3" lengthAdjust="spacingAndGlyphs">Return of fear test</text>
<path d="M148.2 219.6 L148.7 227.2 L150.5 225.3 L160.8 235.1 L164.2 231.5 L154 221.7 L155.8 219.8 Z" fill="#ee1c25"/>
</g>
<text x="0.9" y="12.2" font-family="Liberation Serif, serif" font-size="16" fill="#111" stroke="#111" stroke-width="0.55" textLength="21.2" lengthAdjust="spacingAndGlyphs">(a)</text>
<text x="362.5" y="12.3" font-family="Liberation Serif, serif" font-size="16" fill="#111" stroke="#111" stroke-width="0.55" textLength="22.2" lengthAdjust="spacingAndGlyphs">(b)</text>
</svg>
</body></html>
